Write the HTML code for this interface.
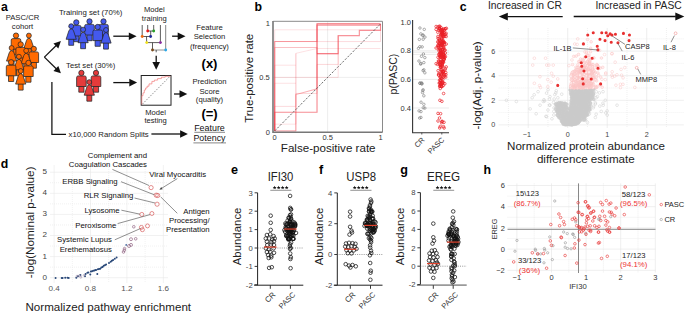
<!DOCTYPE html>
<html><head><meta charset="utf-8"><style>
html,body{margin:0;padding:0;background:#fff;}
svg{display:block;}
text{font-family:"Liberation Sans", sans-serif;}
</style></head><body>
<svg width="685" height="315" viewBox="0 0 685 315">
<rect width="685" height="315" fill="#fff"/>
<text x="0.9" y="10.9" font-size="12.3" text-anchor="start" font-weight="bold" fill="#000">a</text>
<text x="22.5" y="20" font-size="7.7" text-anchor="middle" font-weight="normal" fill="#222">PASC/CR</text>
<text x="22.5" y="29.1" font-size="7.7" text-anchor="middle" font-weight="normal" fill="#222">cohort</text>
<path d="M13.40,48.70 V54.90 H18.60 V48.70 Z" fill="#ff6a00" stroke="#262626" stroke-width="0.75"/>
<path d="M11.20,49.20 V40.20 Q11.20,38.60 12.80,38.60 H19.20 Q20.80,38.60 20.80,40.20 V49.20 Z" fill="#ff6a00" stroke="#262626" stroke-width="0.75"/>
<circle cx="16.00" cy="35.60" r="2.65" fill="#ff6a00" stroke="#262626" stroke-width="0.75"/>
<path d="M26.45,48.20 V54.70 H31.35 V48.20 Z" fill="#ff6a00" stroke="#262626" stroke-width="0.75"/>
<path d="M23.80,48.70 L26.50,40.40 Q27.40,38.20 28.90,38.20 Q30.40,38.20 31.30,40.40 L34.00,48.70 Z" fill="#ff6a00" stroke="#262626" stroke-width="0.75" stroke-linejoin="round"/>
<circle cx="28.90" cy="35.60" r="2.45" fill="#ff6a00" stroke="#262626" stroke-width="0.75"/>
<path d="M9.15,60.60 V67.10 H14.05 V60.60 Z" fill="#ff6a00" stroke="#262626" stroke-width="0.75"/>
<path d="M6.50,61.10 L9.20,52.80 Q10.10,50.60 11.60,50.60 Q13.10,50.60 14.00,52.80 L16.70,61.10 Z" fill="#ff6a00" stroke="#262626" stroke-width="0.75" stroke-linejoin="round"/>
<circle cx="11.60" cy="48.00" r="2.45" fill="#ff6a00" stroke="#262626" stroke-width="0.75"/>
<path d="M18.10,57.50 V63.70 H23.30 V57.50 Z" fill="#ff6a00" stroke="#262626" stroke-width="0.75"/>
<path d="M15.90,58.00 V49.00 Q15.90,47.40 17.50,47.40 H23.90 Q25.50,47.40 25.50,49.00 V58.00 Z" fill="#ff6a00" stroke="#262626" stroke-width="0.75"/>
<circle cx="20.70" cy="44.40" r="2.65" fill="#ff6a00" stroke="#262626" stroke-width="0.75"/>
<path d="M31.20,62.00 V68.20 H36.40 V62.00 Z" fill="#ff6a00" stroke="#262626" stroke-width="0.75"/>
<path d="M29.00,62.50 V53.50 Q29.00,51.90 30.60,51.90 H37.00 Q38.60,51.90 38.60,53.50 V62.50 Z" fill="#ff6a00" stroke="#262626" stroke-width="0.75"/>
<circle cx="33.80" cy="48.90" r="2.65" fill="#ff6a00" stroke="#262626" stroke-width="0.75"/>
<path d="M23.75,63.30 V69.80 H28.65 V63.30 Z" fill="#ff6a00" stroke="#262626" stroke-width="0.75"/>
<path d="M21.10,63.80 L23.80,55.50 Q24.70,53.30 26.20,53.30 Q27.70,53.30 28.60,55.50 L31.30,63.80 Z" fill="#ff6a00" stroke="#262626" stroke-width="0.75" stroke-linejoin="round"/>
<circle cx="26.20" cy="50.70" r="2.45" fill="#ff6a00" stroke="#262626" stroke-width="0.75"/>
<path d="M16.45,69.30 V75.80 H21.35 V69.30 Z" fill="#ff6a00" stroke="#262626" stroke-width="0.75"/>
<path d="M13.80,69.80 L16.50,61.50 Q17.40,59.30 18.90,59.30 Q20.40,59.30 21.30,61.50 L24.00,69.80 Z" fill="#ff6a00" stroke="#262626" stroke-width="0.75" stroke-linejoin="round"/>
<circle cx="18.90" cy="56.70" r="2.45" fill="#ff6a00" stroke="#262626" stroke-width="0.75"/>
<path d="M8.50,75.30 V81.50 H13.70 V75.30 Z" fill="#ff6a00" stroke="#262626" stroke-width="0.75"/>
<path d="M6.30,75.80 V66.80 Q6.30,65.20 7.90,65.20 H14.30 Q15.90,65.20 15.90,66.80 V75.80 Z" fill="#ff6a00" stroke="#262626" stroke-width="0.75"/>
<circle cx="11.10" cy="62.20" r="2.65" fill="#ff6a00" stroke="#262626" stroke-width="0.75"/>
<path d="M25.80,76.00 V82.20 H31.00 V76.00 Z" fill="#ff6a00" stroke="#262626" stroke-width="0.75"/>
<path d="M23.60,76.50 V67.50 Q23.60,65.90 25.20,65.90 H31.60 Q33.20,65.90 33.20,67.50 V76.50 Z" fill="#ff6a00" stroke="#262626" stroke-width="0.75"/>
<circle cx="28.40" cy="62.90" r="2.65" fill="#ff6a00" stroke="#262626" stroke-width="0.75"/>
<path d="M18.25,83.60 V90.10 H23.15 V83.60 Z" fill="#ff6a00" stroke="#262626" stroke-width="0.75"/>
<path d="M15.60,84.10 L18.30,75.80 Q19.20,73.60 20.70,73.60 Q22.20,73.60 23.10,75.80 L25.80,84.10 Z" fill="#ff6a00" stroke="#262626" stroke-width="0.75" stroke-linejoin="round"/>
<circle cx="20.70" cy="71.00" r="2.45" fill="#ff6a00" stroke="#262626" stroke-width="0.75"/>
<text x="90.6" y="14.7" font-size="7.8" text-anchor="middle" font-weight="normal" fill="#222">Training set (70%)</text>
<path d="M73.70,35.50 V41.70 H78.90 V35.50 Z" fill="#4459ee" stroke="#262626" stroke-width="0.75"/>
<path d="M71.50,36.00 V27.00 Q71.50,25.40 73.10,25.40 H79.50 Q81.10,25.40 81.10,27.00 V36.00 Z" fill="#4459ee" stroke="#262626" stroke-width="0.75"/>
<circle cx="76.30" cy="22.40" r="2.65" fill="#4459ee" stroke="#262626" stroke-width="0.75"/>
<path d="M86.90,34.50 V40.70 H92.10 V34.50 Z" fill="#4459ee" stroke="#262626" stroke-width="0.75"/>
<path d="M84.70,35.00 V26.00 Q84.70,24.40 86.30,24.40 H92.70 Q94.30,24.40 94.30,26.00 V35.00 Z" fill="#4459ee" stroke="#262626" stroke-width="0.75"/>
<circle cx="89.50" cy="21.40" r="2.65" fill="#4459ee" stroke="#262626" stroke-width="0.75"/>
<path d="M100.90,34.50 V40.70 H106.10 V34.50 Z" fill="#4459ee" stroke="#262626" stroke-width="0.75"/>
<path d="M98.70,35.00 V26.00 Q98.70,24.40 100.30,24.40 H106.70 Q108.30,24.40 108.30,26.00 V35.00 Z" fill="#4459ee" stroke="#262626" stroke-width="0.75"/>
<circle cx="103.50" cy="21.40" r="2.65" fill="#4459ee" stroke="#262626" stroke-width="0.75"/>
<path d="M68.75,38.80 V45.30 H73.65 V38.80 Z" fill="#4459ee" stroke="#262626" stroke-width="0.75"/>
<path d="M66.10,39.30 L68.80,31.00 Q69.70,28.80 71.20,28.80 Q72.70,28.80 73.60,31.00 L76.30,39.30 Z" fill="#4459ee" stroke="#262626" stroke-width="0.75" stroke-linejoin="round"/>
<circle cx="71.20" cy="26.20" r="2.45" fill="#4459ee" stroke="#262626" stroke-width="0.75"/>
<path d="M95.10,40.10 V46.30 H100.30 V40.10 Z" fill="#4459ee" stroke="#262626" stroke-width="0.75"/>
<path d="M92.90,40.60 V31.60 Q92.90,30.00 94.50,30.00 H100.90 Q102.50,30.00 102.50,31.60 V40.60 Z" fill="#4459ee" stroke="#262626" stroke-width="0.75"/>
<circle cx="97.70" cy="27.00" r="2.65" fill="#4459ee" stroke="#262626" stroke-width="0.75"/>
<path d="M80.65,42.20 V48.70 H85.55 V42.20 Z" fill="#4459ee" stroke="#262626" stroke-width="0.75"/>
<path d="M78.00,42.70 L80.70,34.40 Q81.60,32.20 83.10,32.20 Q84.60,32.20 85.50,34.40 L88.20,42.70 Z" fill="#4459ee" stroke="#262626" stroke-width="0.75" stroke-linejoin="round"/>
<circle cx="83.10" cy="29.60" r="2.45" fill="#4459ee" stroke="#262626" stroke-width="0.75"/>
<path d="M103.55,42.60 V49.10 H108.45 V42.60 Z" fill="#4459ee" stroke="#262626" stroke-width="0.75"/>
<path d="M100.90,43.10 L103.60,34.80 Q104.50,32.60 106.00,32.60 Q107.50,32.60 108.40,34.80 L111.10,43.10 Z" fill="#4459ee" stroke="#262626" stroke-width="0.75" stroke-linejoin="round"/>
<circle cx="106.00" cy="30.00" r="2.45" fill="#4459ee" stroke="#262626" stroke-width="0.75"/>
<text x="90.65" y="67.8" font-size="7.7" text-anchor="middle" font-weight="normal" fill="#222">Test set (30%)</text>
<path d="M78.80,86.00 V92.20 H84.00 V86.00 Z" fill="#e53b3b" stroke="#262626" stroke-width="0.75"/>
<path d="M76.60,86.50 V77.50 Q76.60,75.90 78.20,75.90 H84.60 Q86.20,75.90 86.20,77.50 V86.50 Z" fill="#e53b3b" stroke="#262626" stroke-width="0.75"/>
<circle cx="81.40" cy="72.90" r="2.65" fill="#e53b3b" stroke="#262626" stroke-width="0.75"/>
<path d="M93.40,86.00 V92.20 H98.60 V86.00 Z" fill="#e53b3b" stroke="#262626" stroke-width="0.75"/>
<path d="M91.20,86.50 V77.50 Q91.20,75.90 92.80,75.90 H99.20 Q100.80,75.90 100.80,77.50 V86.50 Z" fill="#e53b3b" stroke="#262626" stroke-width="0.75"/>
<circle cx="96.00" cy="72.90" r="2.65" fill="#e53b3b" stroke="#262626" stroke-width="0.75"/>
<path d="M86.85,94.70 V101.20 H91.75 V94.70 Z" fill="#e53b3b" stroke="#262626" stroke-width="0.75"/>
<path d="M84.20,95.20 L86.90,86.90 Q87.80,84.70 89.30,84.70 Q90.80,84.70 91.70,86.90 L94.40,95.20 Z" fill="#e53b3b" stroke="#262626" stroke-width="0.75" stroke-linejoin="round"/>
<circle cx="89.30" cy="82.10" r="2.45" fill="#e53b3b" stroke="#262626" stroke-width="0.75"/>
<line x1="44.40" y1="57.10" x2="56.25" y2="45.54" stroke="#111" stroke-width="1.25"/>
<polygon points="60.90,41.00 58.33,48.39 53.45,43.38" fill="#111"/>
<line x1="44.40" y1="57.10" x2="56.26" y2="68.75" stroke="#111" stroke-width="1.25"/>
<polygon points="60.90,73.30 53.45,70.89 58.36,65.90" fill="#111"/>
<line x1="113.30" y1="36.20" x2="129.30" y2="36.20" stroke="#111" stroke-width="1.3"/>
<polygon points="136.60,36.20 128.80,40.00 128.80,32.40" fill="#111"/>
<line x1="172.10" y1="36.20" x2="178.20" y2="36.20" stroke="#111" stroke-width="1.3"/>
<polygon points="185.50,36.20 177.70,40.00 177.70,32.40" fill="#111"/>
<line x1="156.20" y1="55.80" x2="156.20" y2="62.50" stroke="#111" stroke-width="1.3"/>
<polygon points="156.20,69.80 152.40,62.00 160.00,62.00" fill="#111"/>
<line x1="113.30" y1="82.60" x2="129.80" y2="82.60" stroke="#111" stroke-width="1.3"/>
<polygon points="137.10,82.60 129.30,86.40 129.30,78.80" fill="#111"/>
<line x1="174.00" y1="94.00" x2="180.00" y2="94.00" stroke="#111" stroke-width="1.3"/>
<polygon points="187.30,94.00 179.50,97.80 179.50,90.20" fill="#111"/>
<text x="154.3" y="12" font-size="7.6" text-anchor="middle" font-weight="normal" fill="#222">Model</text>
<text x="154.3" y="21.3" font-size="7.6" text-anchor="middle" font-weight="normal" fill="#222">training</text>
<line x1="142.20" y1="25.00" x2="142.20" y2="36.50" stroke="#333" stroke-width="0.8"/>
<line x1="147.70" y1="25.00" x2="147.70" y2="31.00" stroke="#333" stroke-width="0.8"/>
<line x1="153.70" y1="25.00" x2="153.70" y2="31.00" stroke="#333" stroke-width="0.8"/>
<line x1="160.40" y1="25.00" x2="160.40" y2="42.60" stroke="#333" stroke-width="0.8"/>
<line x1="165.70" y1="25.00" x2="165.70" y2="50.00" stroke="#777" stroke-width="0.9"/>
<line x1="147.70" y1="31.00" x2="153.70" y2="31.00" stroke="#333" stroke-width="0.8"/>
<line x1="150.70" y1="31.00" x2="150.70" y2="36.50" stroke="#333" stroke-width="0.8"/>
<line x1="142.20" y1="36.50" x2="150.60" y2="36.50" stroke="#333" stroke-width="0.8"/>
<line x1="146.50" y1="36.50" x2="146.70" y2="42.60" stroke="#333" stroke-width="0.8"/>
<line x1="146.70" y1="42.60" x2="160.40" y2="42.60" stroke="#333" stroke-width="0.8"/>
<line x1="152.50" y1="42.60" x2="152.50" y2="50.00" stroke="#333" stroke-width="0.8"/>
<line x1="152.50" y1="50.00" x2="165.70" y2="50.00" stroke="#888" stroke-width="0.9"/>
<line x1="156.20" y1="50.00" x2="156.20" y2="52.30" stroke="#333" stroke-width="0.8"/>
<circle cx="147.7" cy="31" r="1.45" fill="#e8191b"/>
<circle cx="153.7" cy="31" r="1.45" fill="#2aa02a"/>
<circle cx="150.6" cy="36.5" r="1.45" fill="#1f2a9a"/>
<circle cx="142.2" cy="36.5" r="1.45" fill="#f06a10"/>
<circle cx="146.7" cy="42.6" r="1.45" fill="#f2e21a"/>
<circle cx="160.4" cy="42.6" r="1.45" fill="#8a2aa0"/>
<circle cx="152.5" cy="50" r="1.45" fill="#7a4a1a"/>
<circle cx="165.7" cy="50" r="1.45" fill="#2aa8e8"/>
<rect x="141.2" y="75.5" width="29.8" height="29.7" fill="#fff" stroke="#222" stroke-width="1"/>
<line x1="142.50" y1="104.00" x2="169.50" y2="76.80" stroke="#555" stroke-width="0.6" stroke-dasharray="1.6,1.2"/>
<polyline points="141.8,104.6 141.8,95.7 143,95.7 143,92.9 144.3,92.9 144.3,90 145.6,90 145.6,88 147.1,88 147.1,86.2 149,86.2 149,83.9 151.9,83.9 151.9,81.4 154.4,81.4 154.4,80.1 157.6,80.1 157.6,78.6 161.4,78.6 161.4,77.2 165.2,77.2 165.2,76.3 170.4,76.3" fill="none" stroke="#f27a7a" stroke-width="0.7"/>
<text x="155.6" y="114.6" font-size="7.6" text-anchor="middle" font-weight="normal" fill="#222">Model</text>
<text x="155.6" y="122.8" font-size="7.6" text-anchor="middle" font-weight="normal" fill="#222">testing</text>
<text x="209.5" y="30" font-size="7.7" text-anchor="middle" font-weight="normal" fill="#222">Feature</text>
<text x="209.5" y="39.4" font-size="7.7" text-anchor="middle" font-weight="normal" fill="#222">Selection</text>
<text x="209.5" y="48.8" font-size="7.7" text-anchor="middle" font-weight="normal" fill="#222">(frequency)</text>
<text x="209.5" y="67.5" font-size="13" text-anchor="middle" font-weight="bold" fill="#000">(x)</text>
<text x="209.5" y="84.3" font-size="7.7" text-anchor="middle" font-weight="normal" fill="#222">Prediction</text>
<text x="209.5" y="93.7" font-size="7.7" text-anchor="middle" font-weight="normal" fill="#222">Score</text>
<text x="209.5" y="101.8" font-size="7.7" text-anchor="middle" font-weight="normal" fill="#222">(quality)</text>
<text x="209.5" y="117.5" font-size="13" text-anchor="middle" font-weight="bold" fill="#000">(=)</text>
<text x="209.5" y="130.7" font-size="8.9" text-anchor="middle" font-weight="normal" fill="#111">Feature</text>
<text x="209.5" y="141.1" font-size="8.9" text-anchor="middle" font-weight="normal" fill="#111">Potency</text>
<line x1="194.30" y1="132.30" x2="225.00" y2="132.30" stroke="#888" stroke-width="1.0"/>
<line x1="193.40" y1="142.90" x2="226.00" y2="142.90" stroke="#888" stroke-width="1.0"/>
<polyline points="51.9,82 51.9,134.4 66,134.4" fill="none" stroke="#111" stroke-width="1.25"/>
<text x="68.6" y="137.1" font-size="7.75" text-anchor="start" font-weight="normal" fill="#222">x10,000 Random Splits</text>
<line x1="151.40" y1="134.00" x2="180.60" y2="134.00" stroke="#111" stroke-width="1.3"/>
<polygon points="187.90,134.00 180.10,137.80 180.10,130.20" fill="#111"/>
<text x="254.6" y="10.9" font-size="12.3" text-anchor="start" font-weight="bold" fill="#000">b</text>
<line x1="327.60" y1="21.30" x2="327.60" y2="132.00" stroke="#e6e6e6" stroke-width="0.7"/>
<line x1="273.00" y1="77.40" x2="382.50" y2="77.40" stroke="#e6e6e6" stroke-width="0.7"/>
<polyline points="274.70,77.40 338.18,77.40 338.18,35.67" fill="none" stroke="#f03a46" stroke-opacity="0.18" stroke-width="0.92"/>
<polyline points="274.70,130.90 274.70,29.79 380.50,29.79" fill="none" stroke="#f03a46" stroke-opacity="0.16" stroke-width="0.92"/>
<polyline points="274.70,130.90 274.70,41.56 380.50,41.56 380.50,23.90" fill="none" stroke="#f03a46" stroke-opacity="0.20" stroke-width="0.92"/>
<polyline points="274.70,130.90 274.70,124.16 295.86,124.16 295.86,83.28" fill="none" stroke="#f03a46" stroke-opacity="0.16" stroke-width="0.92"/>
<polyline points="274.70,130.90 274.70,83.28 295.86,83.28 295.86,53.33 317.02,48.51 380.50,48.51" fill="none" stroke="#f03a46" stroke-opacity="0.16" stroke-width="0.92"/>
<polyline points="274.70,130.90 274.70,106.40 295.86,106.40 295.86,53.33" fill="none" stroke="#f03a46" stroke-opacity="0.20" stroke-width="0.92"/>
<polyline points="274.70,130.90 274.70,65.20 295.86,65.20" fill="none" stroke="#f03a46" stroke-opacity="0.16" stroke-width="0.92"/>
<polyline points="274.70,130.90 295.86,130.90 295.86,93.45 317.02,93.45 317.02,64.45 338.18,64.45 338.18,35.67" fill="none" stroke="#f03a46" stroke-opacity="0.22" stroke-width="0.92"/>
<polyline points="274.70,130.90 274.70,47.44 317.02,47.44 317.02,53.65 338.18,53.65" fill="none" stroke="#f03a46" stroke-opacity="0.32" stroke-width="1.03"/>
<polyline points="274.70,130.90 295.86,130.90 295.86,94.52 317.02,88.74 317.02,25.51 380.50,25.51" fill="none" stroke="#f03a46" stroke-opacity="0.40" stroke-width="1.03"/>
<polyline points="274.70,130.90 274.70,41.56 317.02,41.56 317.02,23.90 380.50,23.90" fill="none" stroke="#f03a46" stroke-opacity="0.43" stroke-width="1.03"/>
<polyline points="317.02,53.65 338.18,53.65 338.18,35.67 359.34,35.67 359.34,30.32 380.50,30.32 380.50,23.90" fill="none" stroke="#f03a46" stroke-opacity="0.54" stroke-width="1.15"/>
<polyline points="274.70,130.90 274.70,112.28 317.02,112.28 317.02,23.90 380.50,23.90" fill="none" stroke="#f03a46" stroke-opacity="0.58" stroke-width="1.15"/>
<line x1="274.70" y1="130.90" x2="380.50" y2="23.90" stroke="#555" stroke-width="0.85" stroke-dasharray="2.2,1.5"/>
<path d="M273.2,21.3 H382.5 V132.2" fill="none" stroke="#8a8a8a" stroke-width="1"/>
<path d="M273,21 V132.2 H382.6" fill="none" stroke="#777" stroke-width="1.6"/>
<text x="269.8" y="26" font-size="7.5" text-anchor="end" font-weight="normal" fill="#333">1</text>
<text x="269.8" y="80" font-size="7.5" text-anchor="end" font-weight="normal" fill="#333">0.5</text>
<text x="269.8" y="134.5" font-size="7.5" text-anchor="end" font-weight="normal" fill="#333">0</text>
<text x="274.7" y="139.7" font-size="7.5" text-anchor="middle" font-weight="normal" fill="#333">0</text>
<text x="327.6" y="139.7" font-size="7.5" text-anchor="middle" font-weight="normal" fill="#333">0.5</text>
<text x="380.5" y="139.7" font-size="7.5" text-anchor="middle" font-weight="normal" fill="#333">1</text>
<text x="328.2" y="152.2" font-size="11.6" text-anchor="middle" font-weight="normal" fill="#222">False-positive rate</text>
<text x="253.3" y="78.3" font-size="11.5" text-anchor="middle" font-weight="normal" fill="#222" transform="rotate(-90 253.3 78.3)">True-positive rate</text>
<line x1="413.00" y1="50.80" x2="449.00" y2="50.80" stroke="#e2e2e2" stroke-width="0.7"/>
<line x1="413.00" y1="79.40" x2="449.00" y2="79.40" stroke="#e2e2e2" stroke-width="0.7"/>
<line x1="413.00" y1="108.00" x2="449.00" y2="108.00" stroke="#e2e2e2" stroke-width="0.7"/>
<line x1="413.00" y1="52.23" x2="449.00" y2="52.23" stroke="#dadada" stroke-width="0.6"/>
<line x1="413.00" y1="54.38" x2="449.00" y2="54.38" stroke="#dadada" stroke-width="0.6"/>
<path d="M418.1 39.4a1.25 1.25 0 1 0 2.50 0a1.25 1.25 0 1 0 -2.50 0M421.9 39.2a1.25 1.25 0 1 0 2.50 0a1.25 1.25 0 1 0 -2.50 0M420.2 56.3a1.25 1.25 0 1 0 2.50 0a1.25 1.25 0 1 0 -2.50 0M422.6 69.8a1.25 1.25 0 1 0 2.50 0a1.25 1.25 0 1 0 -2.50 0M418.7 83.4a1.25 1.25 0 1 0 2.50 0a1.25 1.25 0 1 0 -2.50 0M419.3 64.1a1.25 1.25 0 1 0 2.50 0a1.25 1.25 0 1 0 -2.50 0M422.6 62.6a1.25 1.25 0 1 0 2.50 0a1.25 1.25 0 1 0 -2.50 0M420.6 83.9a1.25 1.25 0 1 0 2.50 0a1.25 1.25 0 1 0 -2.50 0M420.6 83.7a1.25 1.25 0 1 0 2.50 0a1.25 1.25 0 1 0 -2.50 0M418.7 28.0a1.25 1.25 0 1 0 2.50 0a1.25 1.25 0 1 0 -2.50 0M417.2 48.3a1.25 1.25 0 1 0 2.50 0a1.25 1.25 0 1 0 -2.50 0M423.6 72.8a1.25 1.25 0 1 0 2.50 0a1.25 1.25 0 1 0 -2.50 0M417.7 61.0a1.25 1.25 0 1 0 2.50 0a1.25 1.25 0 1 0 -2.50 0M423.0 29.4a1.25 1.25 0 1 0 2.50 0a1.25 1.25 0 1 0 -2.50 0M419.6 33.9a1.25 1.25 0 1 0 2.50 0a1.25 1.25 0 1 0 -2.50 0M423.7 37.1a1.25 1.25 0 1 0 2.50 0a1.25 1.25 0 1 0 -2.50 0M419.8 63.5a1.25 1.25 0 1 0 2.50 0a1.25 1.25 0 1 0 -2.50 0M423.6 57.6a1.25 1.25 0 1 0 2.50 0a1.25 1.25 0 1 0 -2.50 0M420.9 46.9a1.25 1.25 0 1 0 2.50 0a1.25 1.25 0 1 0 -2.50 0M418.7 83.0a1.25 1.25 0 1 0 2.50 0a1.25 1.25 0 1 0 -2.50 0M422.2 54.0a1.25 1.25 0 1 0 2.50 0a1.25 1.25 0 1 0 -2.50 0M421.8 70.6a1.25 1.25 0 1 0 2.50 0a1.25 1.25 0 1 0 -2.50 0M421.8 35.0a1.25 1.25 0 1 0 2.50 0a1.25 1.25 0 1 0 -2.50 0M420.3 82.8a1.25 1.25 0 1 0 2.50 0a1.25 1.25 0 1 0 -2.50 0M418.6 46.7a1.25 1.25 0 1 0 2.50 0a1.25 1.25 0 1 0 -2.50 0M421.5 35.5a1.25 1.25 0 1 0 2.50 0a1.25 1.25 0 1 0 -2.50 0M417.8 110.9a1.25 1.25 0 1 0 2.50 0a1.25 1.25 0 1 0 -2.50 0M421.9 89.8a1.25 1.25 0 1 0 2.50 0a1.25 1.25 0 1 0 -2.50 0M421.5 90.6a1.25 1.25 0 1 0 2.50 0a1.25 1.25 0 1 0 -2.50 0M419.7 117.4a1.25 1.25 0 1 0 2.50 0a1.25 1.25 0 1 0 -2.50 0M422.6 95.8a1.25 1.25 0 1 0 2.50 0a1.25 1.25 0 1 0 -2.50 0M418.4 118.0a1.25 1.25 0 1 0 2.50 0a1.25 1.25 0 1 0 -2.50 0M419.8 102.2a1.25 1.25 0 1 0 2.50 0a1.25 1.25 0 1 0 -2.50 0M422.6 104.3a1.25 1.25 0 1 0 2.50 0a1.25 1.25 0 1 0 -2.50 0M419.7 111.6a1.25 1.25 0 1 0 2.50 0a1.25 1.25 0 1 0 -2.50 0M422.0 107.8a1.25 1.25 0 1 0 2.50 0a1.25 1.25 0 1 0 -2.50 0M421.3 92.6a1.25 1.25 0 1 0 2.50 0a1.25 1.25 0 1 0 -2.50 0M423.6 108.1a1.25 1.25 0 1 0 2.50 0a1.25 1.25 0 1 0 -2.50 0" fill="none" stroke="#777" stroke-width="0.6"/>
<path d="M437.9 26.3a1.3 1.3 0 1 0 2.60 0a1.3 1.3 0 1 0 -2.60 0M443.0 42.6a1.3 1.3 0 1 0 2.60 0a1.3 1.3 0 1 0 -2.60 0M440.2 37.4a1.3 1.3 0 1 0 2.60 0a1.3 1.3 0 1 0 -2.60 0M438.7 77.3a1.3 1.3 0 1 0 2.60 0a1.3 1.3 0 1 0 -2.60 0M438.8 43.2a1.3 1.3 0 1 0 2.60 0a1.3 1.3 0 1 0 -2.60 0M441.4 35.0a1.3 1.3 0 1 0 2.60 0a1.3 1.3 0 1 0 -2.60 0M442.3 62.2a1.3 1.3 0 1 0 2.60 0a1.3 1.3 0 1 0 -2.60 0M439.8 52.9a1.3 1.3 0 1 0 2.60 0a1.3 1.3 0 1 0 -2.60 0M442.5 57.4a1.3 1.3 0 1 0 2.60 0a1.3 1.3 0 1 0 -2.60 0M445.1 28.3a1.3 1.3 0 1 0 2.60 0a1.3 1.3 0 1 0 -2.60 0M439.8 67.3a1.3 1.3 0 1 0 2.60 0a1.3 1.3 0 1 0 -2.60 0M437.7 62.1a1.3 1.3 0 1 0 2.60 0a1.3 1.3 0 1 0 -2.60 0M438.4 86.5a1.3 1.3 0 1 0 2.60 0a1.3 1.3 0 1 0 -2.60 0M437.1 61.0a1.3 1.3 0 1 0 2.60 0a1.3 1.3 0 1 0 -2.60 0M438.8 48.2a1.3 1.3 0 1 0 2.60 0a1.3 1.3 0 1 0 -2.60 0M438.6 29.7a1.3 1.3 0 1 0 2.60 0a1.3 1.3 0 1 0 -2.60 0M437.3 30.4a1.3 1.3 0 1 0 2.60 0a1.3 1.3 0 1 0 -2.60 0M441.5 66.7a1.3 1.3 0 1 0 2.60 0a1.3 1.3 0 1 0 -2.60 0M434.8 26.5a1.3 1.3 0 1 0 2.60 0a1.3 1.3 0 1 0 -2.60 0M437.3 75.1a1.3 1.3 0 1 0 2.60 0a1.3 1.3 0 1 0 -2.60 0M444.9 36.5a1.3 1.3 0 1 0 2.60 0a1.3 1.3 0 1 0 -2.60 0M442.7 77.0a1.3 1.3 0 1 0 2.60 0a1.3 1.3 0 1 0 -2.60 0M441.5 61.9a1.3 1.3 0 1 0 2.60 0a1.3 1.3 0 1 0 -2.60 0M441.1 82.1a1.3 1.3 0 1 0 2.60 0a1.3 1.3 0 1 0 -2.60 0M444.4 34.4a1.3 1.3 0 1 0 2.60 0a1.3 1.3 0 1 0 -2.60 0M441.5 36.2a1.3 1.3 0 1 0 2.60 0a1.3 1.3 0 1 0 -2.60 0M440.5 78.1a1.3 1.3 0 1 0 2.60 0a1.3 1.3 0 1 0 -2.60 0M437.5 54.5a1.3 1.3 0 1 0 2.60 0a1.3 1.3 0 1 0 -2.60 0M440.1 70.9a1.3 1.3 0 1 0 2.60 0a1.3 1.3 0 1 0 -2.60 0M438.6 56.7a1.3 1.3 0 1 0 2.60 0a1.3 1.3 0 1 0 -2.60 0M438.7 52.9a1.3 1.3 0 1 0 2.60 0a1.3 1.3 0 1 0 -2.60 0M439.0 80.1a1.3 1.3 0 1 0 2.60 0a1.3 1.3 0 1 0 -2.60 0M440.2 34.0a1.3 1.3 0 1 0 2.60 0a1.3 1.3 0 1 0 -2.60 0M439.5 69.6a1.3 1.3 0 1 0 2.60 0a1.3 1.3 0 1 0 -2.60 0M442.3 59.4a1.3 1.3 0 1 0 2.60 0a1.3 1.3 0 1 0 -2.60 0M437.9 83.1a1.3 1.3 0 1 0 2.60 0a1.3 1.3 0 1 0 -2.60 0M440.0 86.4a1.3 1.3 0 1 0 2.60 0a1.3 1.3 0 1 0 -2.60 0M444.6 74.7a1.3 1.3 0 1 0 2.60 0a1.3 1.3 0 1 0 -2.60 0M440.4 65.8a1.3 1.3 0 1 0 2.60 0a1.3 1.3 0 1 0 -2.60 0M443.1 30.1a1.3 1.3 0 1 0 2.60 0a1.3 1.3 0 1 0 -2.60 0M442.9 32.5a1.3 1.3 0 1 0 2.60 0a1.3 1.3 0 1 0 -2.60 0M443.3 57.3a1.3 1.3 0 1 0 2.60 0a1.3 1.3 0 1 0 -2.60 0M442.0 58.9a1.3 1.3 0 1 0 2.60 0a1.3 1.3 0 1 0 -2.60 0M437.1 46.0a1.3 1.3 0 1 0 2.60 0a1.3 1.3 0 1 0 -2.60 0M439.7 34.4a1.3 1.3 0 1 0 2.60 0a1.3 1.3 0 1 0 -2.60 0M439.4 66.1a1.3 1.3 0 1 0 2.60 0a1.3 1.3 0 1 0 -2.60 0M436.7 38.3a1.3 1.3 0 1 0 2.60 0a1.3 1.3 0 1 0 -2.60 0M439.2 62.3a1.3 1.3 0 1 0 2.60 0a1.3 1.3 0 1 0 -2.60 0M437.4 50.4a1.3 1.3 0 1 0 2.60 0a1.3 1.3 0 1 0 -2.60 0M436.5 41.7a1.3 1.3 0 1 0 2.60 0a1.3 1.3 0 1 0 -2.60 0M440.8 56.1a1.3 1.3 0 1 0 2.60 0a1.3 1.3 0 1 0 -2.60 0M440.2 44.6a1.3 1.3 0 1 0 2.60 0a1.3 1.3 0 1 0 -2.60 0M438.7 44.2a1.3 1.3 0 1 0 2.60 0a1.3 1.3 0 1 0 -2.60 0M438.6 86.2a1.3 1.3 0 1 0 2.60 0a1.3 1.3 0 1 0 -2.60 0M439.3 84.2a1.3 1.3 0 1 0 2.60 0a1.3 1.3 0 1 0 -2.60 0M439.4 77.5a1.3 1.3 0 1 0 2.60 0a1.3 1.3 0 1 0 -2.60 0M439.4 73.6a1.3 1.3 0 1 0 2.60 0a1.3 1.3 0 1 0 -2.60 0M440.2 74.2a1.3 1.3 0 1 0 2.60 0a1.3 1.3 0 1 0 -2.60 0M439.5 83.6a1.3 1.3 0 1 0 2.60 0a1.3 1.3 0 1 0 -2.60 0M441.2 73.3a1.3 1.3 0 1 0 2.60 0a1.3 1.3 0 1 0 -2.60 0M441.5 50.0a1.3 1.3 0 1 0 2.60 0a1.3 1.3 0 1 0 -2.60 0M441.1 32.7a1.3 1.3 0 1 0 2.60 0a1.3 1.3 0 1 0 -2.60 0M438.8 65.3a1.3 1.3 0 1 0 2.60 0a1.3 1.3 0 1 0 -2.60 0M438.9 64.3a1.3 1.3 0 1 0 2.60 0a1.3 1.3 0 1 0 -2.60 0M441.3 61.2a1.3 1.3 0 1 0 2.60 0a1.3 1.3 0 1 0 -2.60 0M439.8 45.2a1.3 1.3 0 1 0 2.60 0a1.3 1.3 0 1 0 -2.60 0M440.2 38.8a1.3 1.3 0 1 0 2.60 0a1.3 1.3 0 1 0 -2.60 0M434.8 29.4a1.3 1.3 0 1 0 2.60 0a1.3 1.3 0 1 0 -2.60 0M434.8 63.7a1.3 1.3 0 1 0 2.60 0a1.3 1.3 0 1 0 -2.60 0M441.1 43.6a1.3 1.3 0 1 0 2.60 0a1.3 1.3 0 1 0 -2.60 0M441.1 65.8a1.3 1.3 0 1 0 2.60 0a1.3 1.3 0 1 0 -2.60 0M443.5 36.5a1.3 1.3 0 1 0 2.60 0a1.3 1.3 0 1 0 -2.60 0M442.0 72.5a1.3 1.3 0 1 0 2.60 0a1.3 1.3 0 1 0 -2.60 0M440.8 33.6a1.3 1.3 0 1 0 2.60 0a1.3 1.3 0 1 0 -2.60 0M440.3 55.9a1.3 1.3 0 1 0 2.60 0a1.3 1.3 0 1 0 -2.60 0M437.0 42.5a1.3 1.3 0 1 0 2.60 0a1.3 1.3 0 1 0 -2.60 0M442.3 54.0a1.3 1.3 0 1 0 2.60 0a1.3 1.3 0 1 0 -2.60 0M438.9 67.3a1.3 1.3 0 1 0 2.60 0a1.3 1.3 0 1 0 -2.60 0M441.5 56.5a1.3 1.3 0 1 0 2.60 0a1.3 1.3 0 1 0 -2.60 0M440.7 83.5a1.3 1.3 0 1 0 2.60 0a1.3 1.3 0 1 0 -2.60 0M440.8 83.9a1.3 1.3 0 1 0 2.60 0a1.3 1.3 0 1 0 -2.60 0M442.4 54.3a1.3 1.3 0 1 0 2.60 0a1.3 1.3 0 1 0 -2.60 0M439.2 57.5a1.3 1.3 0 1 0 2.60 0a1.3 1.3 0 1 0 -2.60 0M439.4 35.9a1.3 1.3 0 1 0 2.60 0a1.3 1.3 0 1 0 -2.60 0M438.8 85.3a1.3 1.3 0 1 0 2.60 0a1.3 1.3 0 1 0 -2.60 0M439.4 52.7a1.3 1.3 0 1 0 2.60 0a1.3 1.3 0 1 0 -2.60 0M444.1 56.7a1.3 1.3 0 1 0 2.60 0a1.3 1.3 0 1 0 -2.60 0M439.5 50.2a1.3 1.3 0 1 0 2.60 0a1.3 1.3 0 1 0 -2.60 0M443.0 42.2a1.3 1.3 0 1 0 2.60 0a1.3 1.3 0 1 0 -2.60 0M442.2 54.7a1.3 1.3 0 1 0 2.60 0a1.3 1.3 0 1 0 -2.60 0M442.0 52.3a1.3 1.3 0 1 0 2.60 0a1.3 1.3 0 1 0 -2.60 0M442.1 56.7a1.3 1.3 0 1 0 2.60 0a1.3 1.3 0 1 0 -2.60 0M438.0 49.2a1.3 1.3 0 1 0 2.60 0a1.3 1.3 0 1 0 -2.60 0M441.2 71.5a1.3 1.3 0 1 0 2.60 0a1.3 1.3 0 1 0 -2.60 0M444.0 53.0a1.3 1.3 0 1 0 2.60 0a1.3 1.3 0 1 0 -2.60 0M438.7 45.7a1.3 1.3 0 1 0 2.60 0a1.3 1.3 0 1 0 -2.60 0M440.2 74.9a1.3 1.3 0 1 0 2.60 0a1.3 1.3 0 1 0 -2.60 0M438.7 26.4a1.3 1.3 0 1 0 2.60 0a1.3 1.3 0 1 0 -2.60 0M441.0 41.2a1.3 1.3 0 1 0 2.60 0a1.3 1.3 0 1 0 -2.60 0M437.8 28.5a1.3 1.3 0 1 0 2.60 0a1.3 1.3 0 1 0 -2.60 0M444.0 68.7a1.3 1.3 0 1 0 2.60 0a1.3 1.3 0 1 0 -2.60 0M439.4 59.6a1.3 1.3 0 1 0 2.60 0a1.3 1.3 0 1 0 -2.60 0M436.8 70.7a1.3 1.3 0 1 0 2.60 0a1.3 1.3 0 1 0 -2.60 0M443.5 83.7a1.3 1.3 0 1 0 2.60 0a1.3 1.3 0 1 0 -2.60 0M442.0 85.5a1.3 1.3 0 1 0 2.60 0a1.3 1.3 0 1 0 -2.60 0M441.5 71.6a1.3 1.3 0 1 0 2.60 0a1.3 1.3 0 1 0 -2.60 0M441.5 34.2a1.3 1.3 0 1 0 2.60 0a1.3 1.3 0 1 0 -2.60 0M439.5 76.6a1.3 1.3 0 1 0 2.60 0a1.3 1.3 0 1 0 -2.60 0M439.8 44.6a1.3 1.3 0 1 0 2.60 0a1.3 1.3 0 1 0 -2.60 0M442.0 71.4a1.3 1.3 0 1 0 2.60 0a1.3 1.3 0 1 0 -2.60 0M442.0 82.6a1.3 1.3 0 1 0 2.60 0a1.3 1.3 0 1 0 -2.60 0M442.4 74.9a1.3 1.3 0 1 0 2.60 0a1.3 1.3 0 1 0 -2.60 0M440.8 45.3a1.3 1.3 0 1 0 2.60 0a1.3 1.3 0 1 0 -2.60 0M439.2 56.1a1.3 1.3 0 1 0 2.60 0a1.3 1.3 0 1 0 -2.60 0M439.9 53.2a1.3 1.3 0 1 0 2.60 0a1.3 1.3 0 1 0 -2.60 0M442.9 59.0a1.3 1.3 0 1 0 2.60 0a1.3 1.3 0 1 0 -2.60 0M443.6 69.9a1.3 1.3 0 1 0 2.60 0a1.3 1.3 0 1 0 -2.60 0M439.5 56.9a1.3 1.3 0 1 0 2.60 0a1.3 1.3 0 1 0 -2.60 0M439.2 30.5a1.3 1.3 0 1 0 2.60 0a1.3 1.3 0 1 0 -2.60 0M443.2 74.3a1.3 1.3 0 1 0 2.60 0a1.3 1.3 0 1 0 -2.60 0M442.0 42.0a1.3 1.3 0 1 0 2.60 0a1.3 1.3 0 1 0 -2.60 0M441.9 71.3a1.3 1.3 0 1 0 2.60 0a1.3 1.3 0 1 0 -2.60 0M437.3 74.8a1.3 1.3 0 1 0 2.60 0a1.3 1.3 0 1 0 -2.60 0M439.4 66.9a1.3 1.3 0 1 0 2.60 0a1.3 1.3 0 1 0 -2.60 0M439.4 80.9a1.3 1.3 0 1 0 2.60 0a1.3 1.3 0 1 0 -2.60 0M440.8 29.7a1.3 1.3 0 1 0 2.60 0a1.3 1.3 0 1 0 -2.60 0M436.4 64.4a1.3 1.3 0 1 0 2.60 0a1.3 1.3 0 1 0 -2.60 0M443.2 75.9a1.3 1.3 0 1 0 2.60 0a1.3 1.3 0 1 0 -2.60 0M440.8 86.5a1.3 1.3 0 1 0 2.60 0a1.3 1.3 0 1 0 -2.60 0M441.1 82.9a1.3 1.3 0 1 0 2.60 0a1.3 1.3 0 1 0 -2.60 0M437.6 73.5a1.3 1.3 0 1 0 2.60 0a1.3 1.3 0 1 0 -2.60 0M440.2 61.2a1.3 1.3 0 1 0 2.60 0a1.3 1.3 0 1 0 -2.60 0M443.4 50.0a1.3 1.3 0 1 0 2.60 0a1.3 1.3 0 1 0 -2.60 0M436.7 26.9a1.3 1.3 0 1 0 2.60 0a1.3 1.3 0 1 0 -2.60 0M441.0 32.4a1.3 1.3 0 1 0 2.60 0a1.3 1.3 0 1 0 -2.60 0M441.9 71.8a1.3 1.3 0 1 0 2.60 0a1.3 1.3 0 1 0 -2.60 0M438.7 49.4a1.3 1.3 0 1 0 2.60 0a1.3 1.3 0 1 0 -2.60 0M442.2 30.5a1.3 1.3 0 1 0 2.60 0a1.3 1.3 0 1 0 -2.60 0M439.7 80.4a1.3 1.3 0 1 0 2.60 0a1.3 1.3 0 1 0 -2.60 0M443.1 34.6a1.3 1.3 0 1 0 2.60 0a1.3 1.3 0 1 0 -2.60 0M441.5 62.5a1.3 1.3 0 1 0 2.60 0a1.3 1.3 0 1 0 -2.60 0M440.8 39.0a1.3 1.3 0 1 0 2.60 0a1.3 1.3 0 1 0 -2.60 0M444.9 66.9a1.3 1.3 0 1 0 2.60 0a1.3 1.3 0 1 0 -2.60 0M442.2 48.5a1.3 1.3 0 1 0 2.60 0a1.3 1.3 0 1 0 -2.60 0M443.3 55.7a1.3 1.3 0 1 0 2.60 0a1.3 1.3 0 1 0 -2.60 0M438.2 80.2a1.3 1.3 0 1 0 2.60 0a1.3 1.3 0 1 0 -2.60 0M438.8 40.4a1.3 1.3 0 1 0 2.60 0a1.3 1.3 0 1 0 -2.60 0M442.2 36.5a1.3 1.3 0 1 0 2.60 0a1.3 1.3 0 1 0 -2.60 0M442.4 57.2a1.3 1.3 0 1 0 2.60 0a1.3 1.3 0 1 0 -2.60 0M440.2 63.0a1.3 1.3 0 1 0 2.60 0a1.3 1.3 0 1 0 -2.60 0M442.1 29.0a1.3 1.3 0 1 0 2.60 0a1.3 1.3 0 1 0 -2.60 0M437.9 63.8a1.3 1.3 0 1 0 2.60 0a1.3 1.3 0 1 0 -2.60 0M440.8 33.1a1.3 1.3 0 1 0 2.60 0a1.3 1.3 0 1 0 -2.60 0M437.7 61.1a1.3 1.3 0 1 0 2.60 0a1.3 1.3 0 1 0 -2.60 0M441.1 63.8a1.3 1.3 0 1 0 2.60 0a1.3 1.3 0 1 0 -2.60 0M439.2 64.6a1.3 1.3 0 1 0 2.60 0a1.3 1.3 0 1 0 -2.60 0M439.1 82.9a1.3 1.3 0 1 0 2.60 0a1.3 1.3 0 1 0 -2.60 0M440.4 69.7a1.3 1.3 0 1 0 2.60 0a1.3 1.3 0 1 0 -2.60 0M444.5 72.6a1.3 1.3 0 1 0 2.60 0a1.3 1.3 0 1 0 -2.60 0M438.5 82.8a1.3 1.3 0 1 0 2.60 0a1.3 1.3 0 1 0 -2.60 0M438.9 53.6a1.3 1.3 0 1 0 2.60 0a1.3 1.3 0 1 0 -2.60 0M442.8 59.7a1.3 1.3 0 1 0 2.60 0a1.3 1.3 0 1 0 -2.60 0M439.5 85.0a1.3 1.3 0 1 0 2.60 0a1.3 1.3 0 1 0 -2.60 0M444.4 77.1a1.3 1.3 0 1 0 2.60 0a1.3 1.3 0 1 0 -2.60 0M440.8 30.7a1.3 1.3 0 1 0 2.60 0a1.3 1.3 0 1 0 -2.60 0M440.5 78.4a1.3 1.3 0 1 0 2.60 0a1.3 1.3 0 1 0 -2.60 0M441.1 63.9a1.3 1.3 0 1 0 2.60 0a1.3 1.3 0 1 0 -2.60 0M444.3 28.8a1.3 1.3 0 1 0 2.60 0a1.3 1.3 0 1 0 -2.60 0M441.5 79.7a1.3 1.3 0 1 0 2.60 0a1.3 1.3 0 1 0 -2.60 0M441.5 61.6a1.3 1.3 0 1 0 2.60 0a1.3 1.3 0 1 0 -2.60 0M440.9 32.7a1.3 1.3 0 1 0 2.60 0a1.3 1.3 0 1 0 -2.60 0M436.7 57.3a1.3 1.3 0 1 0 2.60 0a1.3 1.3 0 1 0 -2.60 0M438.3 55.8a1.3 1.3 0 1 0 2.60 0a1.3 1.3 0 1 0 -2.60 0M443.7 28.7a1.3 1.3 0 1 0 2.60 0a1.3 1.3 0 1 0 -2.60 0M442.2 36.4a1.3 1.3 0 1 0 2.60 0a1.3 1.3 0 1 0 -2.60 0M441.5 49.7a1.3 1.3 0 1 0 2.60 0a1.3 1.3 0 1 0 -2.60 0M441.8 42.8a1.3 1.3 0 1 0 2.60 0a1.3 1.3 0 1 0 -2.60 0M439.0 50.1a1.3 1.3 0 1 0 2.60 0a1.3 1.3 0 1 0 -2.60 0M441.1 29.9a1.3 1.3 0 1 0 2.60 0a1.3 1.3 0 1 0 -2.60 0M438.2 28.1a1.3 1.3 0 1 0 2.60 0a1.3 1.3 0 1 0 -2.60 0M441.2 55.7a1.3 1.3 0 1 0 2.60 0a1.3 1.3 0 1 0 -2.60 0M438.7 41.5a1.3 1.3 0 1 0 2.60 0a1.3 1.3 0 1 0 -2.60 0M439.8 52.2a1.3 1.3 0 1 0 2.60 0a1.3 1.3 0 1 0 -2.60 0M441.3 45.2a1.3 1.3 0 1 0 2.60 0a1.3 1.3 0 1 0 -2.60 0M439.5 34.6a1.3 1.3 0 1 0 2.60 0a1.3 1.3 0 1 0 -2.60 0M441.8 35.5a1.3 1.3 0 1 0 2.60 0a1.3 1.3 0 1 0 -2.60 0M441.3 52.0a1.3 1.3 0 1 0 2.60 0a1.3 1.3 0 1 0 -2.60 0M441.1 47.5a1.3 1.3 0 1 0 2.60 0a1.3 1.3 0 1 0 -2.60 0M443.3 44.6a1.3 1.3 0 1 0 2.60 0a1.3 1.3 0 1 0 -2.60 0M436.9 45.8a1.3 1.3 0 1 0 2.60 0a1.3 1.3 0 1 0 -2.60 0M436.6 36.5a1.3 1.3 0 1 0 2.60 0a1.3 1.3 0 1 0 -2.60 0M441.7 33.1a1.3 1.3 0 1 0 2.60 0a1.3 1.3 0 1 0 -2.60 0M442.5 47.4a1.3 1.3 0 1 0 2.60 0a1.3 1.3 0 1 0 -2.60 0M444.9 44.1a1.3 1.3 0 1 0 2.60 0a1.3 1.3 0 1 0 -2.60 0M442.0 55.8a1.3 1.3 0 1 0 2.60 0a1.3 1.3 0 1 0 -2.60 0M442.2 46.4a1.3 1.3 0 1 0 2.60 0a1.3 1.3 0 1 0 -2.60 0M438.3 28.2a1.3 1.3 0 1 0 2.60 0a1.3 1.3 0 1 0 -2.60 0M442.0 42.2a1.3 1.3 0 1 0 2.60 0a1.3 1.3 0 1 0 -2.60 0M441.8 40.4a1.3 1.3 0 1 0 2.60 0a1.3 1.3 0 1 0 -2.60 0M437.9 38.9a1.3 1.3 0 1 0 2.60 0a1.3 1.3 0 1 0 -2.60 0M438.2 40.1a1.3 1.3 0 1 0 2.60 0a1.3 1.3 0 1 0 -2.60 0M440.0 32.6a1.3 1.3 0 1 0 2.60 0a1.3 1.3 0 1 0 -2.60 0M441.0 49.8a1.3 1.3 0 1 0 2.60 0a1.3 1.3 0 1 0 -2.60 0M434.8 48.0a1.3 1.3 0 1 0 2.60 0a1.3 1.3 0 1 0 -2.60 0M440.5 30.1a1.3 1.3 0 1 0 2.60 0a1.3 1.3 0 1 0 -2.60 0M440.8 42.2a1.3 1.3 0 1 0 2.60 0a1.3 1.3 0 1 0 -2.60 0M439.9 27.8a1.3 1.3 0 1 0 2.60 0a1.3 1.3 0 1 0 -2.60 0M440.9 53.6a1.3 1.3 0 1 0 2.60 0a1.3 1.3 0 1 0 -2.60 0M441.3 33.3a1.3 1.3 0 1 0 2.60 0a1.3 1.3 0 1 0 -2.60 0M438.0 43.1a1.3 1.3 0 1 0 2.60 0a1.3 1.3 0 1 0 -2.60 0M441.3 43.0a1.3 1.3 0 1 0 2.60 0a1.3 1.3 0 1 0 -2.60 0M439.7 30.2a1.3 1.3 0 1 0 2.60 0a1.3 1.3 0 1 0 -2.60 0M438.1 53.8a1.3 1.3 0 1 0 2.60 0a1.3 1.3 0 1 0 -2.60 0M440.8 41.8a1.3 1.3 0 1 0 2.60 0a1.3 1.3 0 1 0 -2.60 0M443.7 50.1a1.3 1.3 0 1 0 2.60 0a1.3 1.3 0 1 0 -2.60 0M436.9 47.2a1.3 1.3 0 1 0 2.60 0a1.3 1.3 0 1 0 -2.60 0M436.5 32.2a1.3 1.3 0 1 0 2.60 0a1.3 1.3 0 1 0 -2.60 0M436.5 45.4a1.3 1.3 0 1 0 2.60 0a1.3 1.3 0 1 0 -2.60 0M444.8 33.3a1.3 1.3 0 1 0 2.60 0a1.3 1.3 0 1 0 -2.60 0M439.7 57.5a1.3 1.3 0 1 0 2.60 0a1.3 1.3 0 1 0 -2.60 0M440.2 86.6a1.3 1.3 0 1 0 2.60 0a1.3 1.3 0 1 0 -2.60 0M438.9 88.5a1.3 1.3 0 1 0 2.60 0a1.3 1.3 0 1 0 -2.60 0M438.6 100.3a1.3 1.3 0 1 0 2.60 0a1.3 1.3 0 1 0 -2.60 0M436.7 121.0a1.3 1.3 0 1 0 2.60 0a1.3 1.3 0 1 0 -2.60 0M440.6 101.3a1.3 1.3 0 1 0 2.60 0a1.3 1.3 0 1 0 -2.60 0M440.8 121.3a1.3 1.3 0 1 0 2.60 0a1.3 1.3 0 1 0 -2.60 0M436.7 113.4a1.3 1.3 0 1 0 2.60 0a1.3 1.3 0 1 0 -2.60 0M438.4 127.9a1.3 1.3 0 1 0 2.60 0a1.3 1.3 0 1 0 -2.60 0M439.0 126.4a1.3 1.3 0 1 0 2.60 0a1.3 1.3 0 1 0 -2.60 0M440.3 122.7a1.3 1.3 0 1 0 2.60 0a1.3 1.3 0 1 0 -2.60 0M440.7 121.6a1.3 1.3 0 1 0 2.60 0a1.3 1.3 0 1 0 -2.60 0M442.3 93.5a1.3 1.3 0 1 0 2.60 0a1.3 1.3 0 1 0 -2.60 0M442.8 128.0a1.3 1.3 0 1 0 2.60 0a1.3 1.3 0 1 0 -2.60 0M442.2 126.6a1.3 1.3 0 1 0 2.60 0a1.3 1.3 0 1 0 -2.60 0M442.7 122.3a1.3 1.3 0 1 0 2.60 0a1.3 1.3 0 1 0 -2.60 0M438.2 118.0a1.3 1.3 0 1 0 2.60 0a1.3 1.3 0 1 0 -2.60 0M439.3 113.7a1.3 1.3 0 1 0 2.60 0a1.3 1.3 0 1 0 -2.60 0" fill="none" stroke="#ea2026" stroke-width="0.7"/>
<path d="M412.6,20 V132.7 H449" fill="none" stroke="#333" stroke-width="1.1"/>
<line x1="421.80" y1="132.70" x2="421.80" y2="134.50" stroke="#333" stroke-width="0.8"/>
<line x1="441.80" y1="132.70" x2="441.80" y2="134.50" stroke="#333" stroke-width="0.8"/>
<text x="411" y="24.8" font-size="7.5" text-anchor="end" font-weight="normal" fill="#333">1.0</text>
<text x="411" y="53.4" font-size="7.5" text-anchor="end" font-weight="normal" fill="#333">0.8</text>
<text x="411" y="82.0" font-size="7.5" text-anchor="end" font-weight="normal" fill="#333">0.6</text>
<text x="411" y="110.6" font-size="7.5" text-anchor="end" font-weight="normal" fill="#333">0.4</text>
<text x="397.5" y="74.1" font-size="10.5" text-anchor="middle" font-weight="normal" fill="#222" transform="rotate(-90 397.5 74.1)">p(PASC)</text>
<text x="425.2" y="140.3" font-size="7.5" text-anchor="end" font-weight="normal" fill="#333" transform="rotate(-45 425.2 140.3)">CR</text>
<text x="444.8" y="140.3" font-size="7.5" text-anchor="end" font-weight="normal" fill="#333" transform="rotate(-45 444.8 140.3)">PASC</text>
<text x="459.7" y="10.9" font-size="12.3" text-anchor="start" font-weight="bold" fill="#000">c</text>
<text x="488" y="8.8" font-size="10.3" text-anchor="start" font-weight="normal" fill="#222">Increased in CR</text>
<text x="595.5" y="9.2" font-size="10.3" text-anchor="start" font-weight="normal" fill="#222">Increased in PASC</text>
<line x1="562.70" y1="16.60" x2="507.30" y2="16.60" stroke="#111" stroke-width="1.4"/>
<polygon points="498.80,16.60 507.80,12.70 507.80,20.50" fill="#111"/>
<line x1="573.70" y1="16.50" x2="675.80" y2="16.50" stroke="#111" stroke-width="1.4"/>
<polygon points="684.30,16.50 675.30,20.40 675.30,12.60" fill="#111"/>
<line x1="508.45" y1="28.00" x2="508.45" y2="128.00" stroke="#e8e8e8" stroke-width="0.6" stroke-dasharray="1,1"/>
<line x1="528.20" y1="28.00" x2="528.20" y2="128.00" stroke="#e2e2e2" stroke-width="0.6"/>
<line x1="547.95" y1="28.00" x2="547.95" y2="128.00" stroke="#e8e8e8" stroke-width="0.6" stroke-dasharray="1,1"/>
<line x1="567.70" y1="28.00" x2="567.70" y2="128.00" stroke="#e2e2e2" stroke-width="0.6"/>
<line x1="587.45" y1="28.00" x2="587.45" y2="128.00" stroke="#e8e8e8" stroke-width="0.6" stroke-dasharray="1,1"/>
<line x1="607.20" y1="28.00" x2="607.20" y2="128.00" stroke="#e2e2e2" stroke-width="0.6"/>
<line x1="626.95" y1="28.00" x2="626.95" y2="128.00" stroke="#e8e8e8" stroke-width="0.6" stroke-dasharray="1,1"/>
<line x1="646.70" y1="28.00" x2="646.70" y2="128.00" stroke="#e2e2e2" stroke-width="0.6"/>
<line x1="666.45" y1="28.00" x2="666.45" y2="128.00" stroke="#e8e8e8" stroke-width="0.6" stroke-dasharray="1,1"/>
<line x1="498.60" y1="124.90" x2="683.80" y2="124.90" stroke="#e2e2e2" stroke-width="0.6"/>
<line x1="498.60" y1="112.60" x2="683.80" y2="112.60" stroke="#e8e8e8" stroke-width="0.6" stroke-dasharray="1,1"/>
<line x1="498.60" y1="100.30" x2="683.80" y2="100.30" stroke="#e2e2e2" stroke-width="0.6"/>
<line x1="498.60" y1="88.00" x2="683.80" y2="88.00" stroke="#e8e8e8" stroke-width="0.6" stroke-dasharray="1,1"/>
<line x1="498.60" y1="75.70" x2="683.80" y2="75.70" stroke="#e2e2e2" stroke-width="0.6"/>
<line x1="498.60" y1="63.40" x2="683.80" y2="63.40" stroke="#e8e8e8" stroke-width="0.6" stroke-dasharray="1,1"/>
<line x1="498.60" y1="51.10" x2="683.80" y2="51.10" stroke="#e2e2e2" stroke-width="0.6"/>
<line x1="498.60" y1="38.80" x2="683.80" y2="38.80" stroke="#e8e8e8" stroke-width="0.6" stroke-dasharray="1,1"/>
<path d="M505.1 100.3a1.35 1.35 0 1 0 2.70 0a1.35 1.35 0 1 0 -2.70 0M515.0 101.5a1.35 1.35 0 1 0 2.70 0a1.35 1.35 0 1 0 -2.70 0M532.8 94.8a1.35 1.35 0 1 0 2.70 0a1.35 1.35 0 1 0 -2.70 0M542.6 99.7a1.35 1.35 0 1 0 2.70 0a1.35 1.35 0 1 0 -2.70 0M534.8 113.8a1.35 1.35 0 1 0 2.70 0a1.35 1.35 0 1 0 -2.70 0M528.8 108.9a1.35 1.35 0 1 0 2.70 0a1.35 1.35 0 1 0 -2.70 0M548.6 96.6a1.35 1.35 0 1 0 2.70 0a1.35 1.35 0 1 0 -2.70 0M554.5 92.9a1.35 1.35 0 1 0 2.70 0a1.35 1.35 0 1 0 -2.70 0M538.7 105.2a1.35 1.35 0 1 0 2.70 0a1.35 1.35 0 1 0 -2.70 0M544.6 116.3a1.35 1.35 0 1 0 2.70 0a1.35 1.35 0 1 0 -2.70 0M601.9 105.2a1.35 1.35 0 1 0 2.70 0a1.35 1.35 0 1 0 -2.70 0M615.7 105.2a1.35 1.35 0 1 0 2.70 0a1.35 1.35 0 1 0 -2.70 0M605.9 115.1a1.35 1.35 0 1 0 2.70 0a1.35 1.35 0 1 0 -2.70 0M603.9 100.3a1.35 1.35 0 1 0 2.70 0a1.35 1.35 0 1 0 -2.70 0M590.1 92.9a1.35 1.35 0 1 0 2.70 0a1.35 1.35 0 1 0 -2.70 0M596.0 96.6a1.35 1.35 0 1 0 2.70 0a1.35 1.35 0 1 0 -2.70 0M599.9 111.4a1.35 1.35 0 1 0 2.70 0a1.35 1.35 0 1 0 -2.70 0M594.0 102.8a1.35 1.35 0 1 0 2.70 0a1.35 1.35 0 1 0 -2.70 0M588.1 113.8a1.35 1.35 0 1 0 2.70 0a1.35 1.35 0 1 0 -2.70 0M592.0 107.7a1.35 1.35 0 1 0 2.70 0a1.35 1.35 0 1 0 -2.70 0M558.5 102.8a1.35 1.35 0 1 0 2.70 0a1.35 1.35 0 1 0 -2.70 0M552.5 111.4a1.35 1.35 0 1 0 2.70 0a1.35 1.35 0 1 0 -2.70 0M548.6 105.2a1.35 1.35 0 1 0 2.70 0a1.35 1.35 0 1 0 -2.70 0M584.1 120.0a1.35 1.35 0 1 0 2.70 0a1.35 1.35 0 1 0 -2.70 0M582.1 90.5a1.35 1.35 0 1 0 2.70 0a1.35 1.35 0 1 0 -2.70 0M546.6 110.1a1.35 1.35 0 1 0 2.70 0a1.35 1.35 0 1 0 -2.70 0M541.9 101.5a1.35 1.35 0 1 0 2.70 0a1.35 1.35 0 1 0 -2.70 0M556.5 97.8a1.35 1.35 0 1 0 2.70 0a1.35 1.35 0 1 0 -2.70 0M560.4 94.2a1.35 1.35 0 1 0 2.70 0a1.35 1.35 0 1 0 -2.70 0M598.0 92.9a1.35 1.35 0 1 0 2.70 0a1.35 1.35 0 1 0 -2.70 0M594.0 117.5a1.35 1.35 0 1 0 2.70 0a1.35 1.35 0 1 0 -2.70 0M586.1 122.4a1.35 1.35 0 1 0 2.70 0a1.35 1.35 0 1 0 -2.70 0M550.6 118.8a1.35 1.35 0 1 0 2.70 0a1.35 1.35 0 1 0 -2.70 0M536.7 91.7a1.35 1.35 0 1 0 2.70 0a1.35 1.35 0 1 0 -2.70 0M530.8 97.8a1.35 1.35 0 1 0 2.70 0a1.35 1.35 0 1 0 -2.70 0M552.5 115.0a1.35 1.35 0 1 0 2.70 0a1.35 1.35 0 1 0 -2.70 0M543.2 101.0a1.35 1.35 0 1 0 2.70 0a1.35 1.35 0 1 0 -2.70 0M561.0 114.4a1.35 1.35 0 1 0 2.70 0a1.35 1.35 0 1 0 -2.70 0M545.2 116.7a1.35 1.35 0 1 0 2.70 0a1.35 1.35 0 1 0 -2.70 0M554.9 90.8a1.35 1.35 0 1 0 2.70 0a1.35 1.35 0 1 0 -2.70 0M552.7 107.9a1.35 1.35 0 1 0 2.70 0a1.35 1.35 0 1 0 -2.70 0M548.1 99.2a1.35 1.35 0 1 0 2.70 0a1.35 1.35 0 1 0 -2.70 0M558.2 114.7a1.35 1.35 0 1 0 2.70 0a1.35 1.35 0 1 0 -2.70 0M552.8 99.0a1.35 1.35 0 1 0 2.70 0a1.35 1.35 0 1 0 -2.70 0M553.5 94.6a1.35 1.35 0 1 0 2.70 0a1.35 1.35 0 1 0 -2.70 0M546.7 89.8a1.35 1.35 0 1 0 2.70 0a1.35 1.35 0 1 0 -2.70 0M552.2 102.4a1.35 1.35 0 1 0 2.70 0a1.35 1.35 0 1 0 -2.70 0M554.3 108.3a1.35 1.35 0 1 0 2.70 0a1.35 1.35 0 1 0 -2.70 0M558.5 111.8a1.35 1.35 0 1 0 2.70 0a1.35 1.35 0 1 0 -2.70 0M545.2 93.1a1.35 1.35 0 1 0 2.70 0a1.35 1.35 0 1 0 -2.70 0M548.1 105.0a1.35 1.35 0 1 0 2.70 0a1.35 1.35 0 1 0 -2.70 0M604.4 112.9a1.35 1.35 0 1 0 2.70 0a1.35 1.35 0 1 0 -2.70 0M594.1 104.0a1.35 1.35 0 1 0 2.70 0a1.35 1.35 0 1 0 -2.70 0M594.8 97.7a1.35 1.35 0 1 0 2.70 0a1.35 1.35 0 1 0 -2.70 0M595.0 91.8a1.35 1.35 0 1 0 2.70 0a1.35 1.35 0 1 0 -2.70 0M594.8 114.2a1.35 1.35 0 1 0 2.70 0a1.35 1.35 0 1 0 -2.70 0M598.5 106.1a1.35 1.35 0 1 0 2.70 0a1.35 1.35 0 1 0 -2.70 0M601.7 91.7a1.35 1.35 0 1 0 2.70 0a1.35 1.35 0 1 0 -2.70 0M592.3 106.3a1.35 1.35 0 1 0 2.70 0a1.35 1.35 0 1 0 -2.70 0M605.8 110.9a1.35 1.35 0 1 0 2.70 0a1.35 1.35 0 1 0 -2.70 0M601.6 103.2a1.35 1.35 0 1 0 2.70 0a1.35 1.35 0 1 0 -2.70 0" fill="none" stroke="#cdcdcd" stroke-width="0.5"/>
<path d="M585.9 86.3a1.35 1.35 0 1 0 2.70 0a1.35 1.35 0 1 0 -2.70 0M582.1 86.4a1.35 1.35 0 1 0 2.70 0a1.35 1.35 0 1 0 -2.70 0M577.9 86.5a1.35 1.35 0 1 0 2.70 0a1.35 1.35 0 1 0 -2.70 0M583.9 86.5a1.35 1.35 0 1 0 2.70 0a1.35 1.35 0 1 0 -2.70 0M576.1 86.6a1.35 1.35 0 1 0 2.70 0a1.35 1.35 0 1 0 -2.70 0M570.8 86.6a1.35 1.35 0 1 0 2.70 0a1.35 1.35 0 1 0 -2.70 0M582.9 86.7a1.35 1.35 0 1 0 2.70 0a1.35 1.35 0 1 0 -2.70 0M570.7 86.7a1.35 1.35 0 1 0 2.70 0a1.35 1.35 0 1 0 -2.70 0M571.6 86.7a1.35 1.35 0 1 0 2.70 0a1.35 1.35 0 1 0 -2.70 0M579.5 86.7a1.35 1.35 0 1 0 2.70 0a1.35 1.35 0 1 0 -2.70 0M591.5 86.7a1.35 1.35 0 1 0 2.70 0a1.35 1.35 0 1 0 -2.70 0M590.5 86.8a1.35 1.35 0 1 0 2.70 0a1.35 1.35 0 1 0 -2.70 0M592.2 86.9a1.35 1.35 0 1 0 2.70 0a1.35 1.35 0 1 0 -2.70 0M586.1 86.9a1.35 1.35 0 1 0 2.70 0a1.35 1.35 0 1 0 -2.70 0M572.8 86.9a1.35 1.35 0 1 0 2.70 0a1.35 1.35 0 1 0 -2.70 0M579.7 86.9a1.35 1.35 0 1 0 2.70 0a1.35 1.35 0 1 0 -2.70 0M587.1 86.9a1.35 1.35 0 1 0 2.70 0a1.35 1.35 0 1 0 -2.70 0M570.3 86.9a1.35 1.35 0 1 0 2.70 0a1.35 1.35 0 1 0 -2.70 0M590.0 86.9a1.35 1.35 0 1 0 2.70 0a1.35 1.35 0 1 0 -2.70 0M572.8 87.0a1.35 1.35 0 1 0 2.70 0a1.35 1.35 0 1 0 -2.70 0M575.5 87.0a1.35 1.35 0 1 0 2.70 0a1.35 1.35 0 1 0 -2.70 0M588.4 87.0a1.35 1.35 0 1 0 2.70 0a1.35 1.35 0 1 0 -2.70 0M574.3 87.0a1.35 1.35 0 1 0 2.70 0a1.35 1.35 0 1 0 -2.70 0M590.4 87.0a1.35 1.35 0 1 0 2.70 0a1.35 1.35 0 1 0 -2.70 0M583.5 87.0a1.35 1.35 0 1 0 2.70 0a1.35 1.35 0 1 0 -2.70 0M569.3 87.1a1.35 1.35 0 1 0 2.70 0a1.35 1.35 0 1 0 -2.70 0M580.6 87.2a1.35 1.35 0 1 0 2.70 0a1.35 1.35 0 1 0 -2.70 0M569.7 87.2a1.35 1.35 0 1 0 2.70 0a1.35 1.35 0 1 0 -2.70 0M585.7 87.3a1.35 1.35 0 1 0 2.70 0a1.35 1.35 0 1 0 -2.70 0M571.6 87.3a1.35 1.35 0 1 0 2.70 0a1.35 1.35 0 1 0 -2.70 0M586.9 87.3a1.35 1.35 0 1 0 2.70 0a1.35 1.35 0 1 0 -2.70 0M581.0 87.4a1.35 1.35 0 1 0 2.70 0a1.35 1.35 0 1 0 -2.70 0M582.9 87.4a1.35 1.35 0 1 0 2.70 0a1.35 1.35 0 1 0 -2.70 0M572.1 87.4a1.35 1.35 0 1 0 2.70 0a1.35 1.35 0 1 0 -2.70 0M584.9 87.5a1.35 1.35 0 1 0 2.70 0a1.35 1.35 0 1 0 -2.70 0M582.6 87.5a1.35 1.35 0 1 0 2.70 0a1.35 1.35 0 1 0 -2.70 0M577.8 87.5a1.35 1.35 0 1 0 2.70 0a1.35 1.35 0 1 0 -2.70 0M581.1 87.5a1.35 1.35 0 1 0 2.70 0a1.35 1.35 0 1 0 -2.70 0M591.0 87.5a1.35 1.35 0 1 0 2.70 0a1.35 1.35 0 1 0 -2.70 0M585.1 87.5a1.35 1.35 0 1 0 2.70 0a1.35 1.35 0 1 0 -2.70 0M572.8 87.5a1.35 1.35 0 1 0 2.70 0a1.35 1.35 0 1 0 -2.70 0M586.5 87.5a1.35 1.35 0 1 0 2.70 0a1.35 1.35 0 1 0 -2.70 0M580.6 87.6a1.35 1.35 0 1 0 2.70 0a1.35 1.35 0 1 0 -2.70 0M591.0 87.7a1.35 1.35 0 1 0 2.70 0a1.35 1.35 0 1 0 -2.70 0M588.3 87.7a1.35 1.35 0 1 0 2.70 0a1.35 1.35 0 1 0 -2.70 0M578.5 87.7a1.35 1.35 0 1 0 2.70 0a1.35 1.35 0 1 0 -2.70 0M593.2 87.7a1.35 1.35 0 1 0 2.70 0a1.35 1.35 0 1 0 -2.70 0M586.8 87.7a1.35 1.35 0 1 0 2.70 0a1.35 1.35 0 1 0 -2.70 0M586.3 87.9a1.35 1.35 0 1 0 2.70 0a1.35 1.35 0 1 0 -2.70 0M579.7 87.9a1.35 1.35 0 1 0 2.70 0a1.35 1.35 0 1 0 -2.70 0M587.2 87.9a1.35 1.35 0 1 0 2.70 0a1.35 1.35 0 1 0 -2.70 0M584.1 88.0a1.35 1.35 0 1 0 2.70 0a1.35 1.35 0 1 0 -2.70 0M573.8 88.0a1.35 1.35 0 1 0 2.70 0a1.35 1.35 0 1 0 -2.70 0M593.9 88.0a1.35 1.35 0 1 0 2.70 0a1.35 1.35 0 1 0 -2.70 0M589.1 88.2a1.35 1.35 0 1 0 2.70 0a1.35 1.35 0 1 0 -2.70 0M571.3 88.2a1.35 1.35 0 1 0 2.70 0a1.35 1.35 0 1 0 -2.70 0M592.8 88.2a1.35 1.35 0 1 0 2.70 0a1.35 1.35 0 1 0 -2.70 0M578.3 88.2a1.35 1.35 0 1 0 2.70 0a1.35 1.35 0 1 0 -2.70 0M577.7 88.3a1.35 1.35 0 1 0 2.70 0a1.35 1.35 0 1 0 -2.70 0M582.4 88.3a1.35 1.35 0 1 0 2.70 0a1.35 1.35 0 1 0 -2.70 0M580.6 88.4a1.35 1.35 0 1 0 2.70 0a1.35 1.35 0 1 0 -2.70 0M573.4 88.4a1.35 1.35 0 1 0 2.70 0a1.35 1.35 0 1 0 -2.70 0M583.1 88.4a1.35 1.35 0 1 0 2.70 0a1.35 1.35 0 1 0 -2.70 0M578.1 88.4a1.35 1.35 0 1 0 2.70 0a1.35 1.35 0 1 0 -2.70 0M575.8 88.5a1.35 1.35 0 1 0 2.70 0a1.35 1.35 0 1 0 -2.70 0M588.6 88.5a1.35 1.35 0 1 0 2.70 0a1.35 1.35 0 1 0 -2.70 0M580.6 88.6a1.35 1.35 0 1 0 2.70 0a1.35 1.35 0 1 0 -2.70 0M588.4 88.6a1.35 1.35 0 1 0 2.70 0a1.35 1.35 0 1 0 -2.70 0M573.7 88.6a1.35 1.35 0 1 0 2.70 0a1.35 1.35 0 1 0 -2.70 0M582.2 88.7a1.35 1.35 0 1 0 2.70 0a1.35 1.35 0 1 0 -2.70 0M585.1 88.7a1.35 1.35 0 1 0 2.70 0a1.35 1.35 0 1 0 -2.70 0M572.9 88.7a1.35 1.35 0 1 0 2.70 0a1.35 1.35 0 1 0 -2.70 0M571.6 88.8a1.35 1.35 0 1 0 2.70 0a1.35 1.35 0 1 0 -2.70 0M573.0 89.0a1.35 1.35 0 1 0 2.70 0a1.35 1.35 0 1 0 -2.70 0M579.1 89.0a1.35 1.35 0 1 0 2.70 0a1.35 1.35 0 1 0 -2.70 0M575.9 89.0a1.35 1.35 0 1 0 2.70 0a1.35 1.35 0 1 0 -2.70 0M574.5 89.1a1.35 1.35 0 1 0 2.70 0a1.35 1.35 0 1 0 -2.70 0M585.8 89.2a1.35 1.35 0 1 0 2.70 0a1.35 1.35 0 1 0 -2.70 0M575.0 89.3a1.35 1.35 0 1 0 2.70 0a1.35 1.35 0 1 0 -2.70 0M571.4 89.3a1.35 1.35 0 1 0 2.70 0a1.35 1.35 0 1 0 -2.70 0M583.2 89.4a1.35 1.35 0 1 0 2.70 0a1.35 1.35 0 1 0 -2.70 0M577.9 89.4a1.35 1.35 0 1 0 2.70 0a1.35 1.35 0 1 0 -2.70 0M577.6 89.4a1.35 1.35 0 1 0 2.70 0a1.35 1.35 0 1 0 -2.70 0M578.6 89.4a1.35 1.35 0 1 0 2.70 0a1.35 1.35 0 1 0 -2.70 0M582.3 89.4a1.35 1.35 0 1 0 2.70 0a1.35 1.35 0 1 0 -2.70 0M569.6 89.5a1.35 1.35 0 1 0 2.70 0a1.35 1.35 0 1 0 -2.70 0M570.6 89.5a1.35 1.35 0 1 0 2.70 0a1.35 1.35 0 1 0 -2.70 0M572.6 89.6a1.35 1.35 0 1 0 2.70 0a1.35 1.35 0 1 0 -2.70 0M577.4 89.6a1.35 1.35 0 1 0 2.70 0a1.35 1.35 0 1 0 -2.70 0M584.6 89.6a1.35 1.35 0 1 0 2.70 0a1.35 1.35 0 1 0 -2.70 0M579.4 89.6a1.35 1.35 0 1 0 2.70 0a1.35 1.35 0 1 0 -2.70 0M592.3 89.6a1.35 1.35 0 1 0 2.70 0a1.35 1.35 0 1 0 -2.70 0M585.1 89.6a1.35 1.35 0 1 0 2.70 0a1.35 1.35 0 1 0 -2.70 0M585.8 89.7a1.35 1.35 0 1 0 2.70 0a1.35 1.35 0 1 0 -2.70 0M590.0 89.7a1.35 1.35 0 1 0 2.70 0a1.35 1.35 0 1 0 -2.70 0M574.7 89.7a1.35 1.35 0 1 0 2.70 0a1.35 1.35 0 1 0 -2.70 0M574.2 89.8a1.35 1.35 0 1 0 2.70 0a1.35 1.35 0 1 0 -2.70 0M575.8 89.8a1.35 1.35 0 1 0 2.70 0a1.35 1.35 0 1 0 -2.70 0M578.2 89.9a1.35 1.35 0 1 0 2.70 0a1.35 1.35 0 1 0 -2.70 0M582.4 89.9a1.35 1.35 0 1 0 2.70 0a1.35 1.35 0 1 0 -2.70 0M568.6 89.9a1.35 1.35 0 1 0 2.70 0a1.35 1.35 0 1 0 -2.70 0M586.1 90.0a1.35 1.35 0 1 0 2.70 0a1.35 1.35 0 1 0 -2.70 0M573.8 90.0a1.35 1.35 0 1 0 2.70 0a1.35 1.35 0 1 0 -2.70 0M581.0 90.0a1.35 1.35 0 1 0 2.70 0a1.35 1.35 0 1 0 -2.70 0M577.8 90.0a1.35 1.35 0 1 0 2.70 0a1.35 1.35 0 1 0 -2.70 0M588.8 90.0a1.35 1.35 0 1 0 2.70 0a1.35 1.35 0 1 0 -2.70 0M572.0 90.0a1.35 1.35 0 1 0 2.70 0a1.35 1.35 0 1 0 -2.70 0M574.9 90.1a1.35 1.35 0 1 0 2.70 0a1.35 1.35 0 1 0 -2.70 0M577.1 90.1a1.35 1.35 0 1 0 2.70 0a1.35 1.35 0 1 0 -2.70 0M579.4 90.2a1.35 1.35 0 1 0 2.70 0a1.35 1.35 0 1 0 -2.70 0M583.8 90.2a1.35 1.35 0 1 0 2.70 0a1.35 1.35 0 1 0 -2.70 0M586.4 90.2a1.35 1.35 0 1 0 2.70 0a1.35 1.35 0 1 0 -2.70 0M589.3 90.3a1.35 1.35 0 1 0 2.70 0a1.35 1.35 0 1 0 -2.70 0M589.7 90.3a1.35 1.35 0 1 0 2.70 0a1.35 1.35 0 1 0 -2.70 0M578.5 90.4a1.35 1.35 0 1 0 2.70 0a1.35 1.35 0 1 0 -2.70 0M580.1 90.4a1.35 1.35 0 1 0 2.70 0a1.35 1.35 0 1 0 -2.70 0M587.4 90.4a1.35 1.35 0 1 0 2.70 0a1.35 1.35 0 1 0 -2.70 0M572.1 90.5a1.35 1.35 0 1 0 2.70 0a1.35 1.35 0 1 0 -2.70 0M576.9 90.5a1.35 1.35 0 1 0 2.70 0a1.35 1.35 0 1 0 -2.70 0M589.9 90.5a1.35 1.35 0 1 0 2.70 0a1.35 1.35 0 1 0 -2.70 0M587.1 90.5a1.35 1.35 0 1 0 2.70 0a1.35 1.35 0 1 0 -2.70 0M578.5 90.5a1.35 1.35 0 1 0 2.70 0a1.35 1.35 0 1 0 -2.70 0M569.3 90.6a1.35 1.35 0 1 0 2.70 0a1.35 1.35 0 1 0 -2.70 0M590.8 90.6a1.35 1.35 0 1 0 2.70 0a1.35 1.35 0 1 0 -2.70 0M589.8 90.6a1.35 1.35 0 1 0 2.70 0a1.35 1.35 0 1 0 -2.70 0M577.5 90.6a1.35 1.35 0 1 0 2.70 0a1.35 1.35 0 1 0 -2.70 0M576.3 90.7a1.35 1.35 0 1 0 2.70 0a1.35 1.35 0 1 0 -2.70 0M585.7 90.8a1.35 1.35 0 1 0 2.70 0a1.35 1.35 0 1 0 -2.70 0M569.2 90.8a1.35 1.35 0 1 0 2.70 0a1.35 1.35 0 1 0 -2.70 0M571.6 90.8a1.35 1.35 0 1 0 2.70 0a1.35 1.35 0 1 0 -2.70 0M579.7 90.9a1.35 1.35 0 1 0 2.70 0a1.35 1.35 0 1 0 -2.70 0M583.4 90.9a1.35 1.35 0 1 0 2.70 0a1.35 1.35 0 1 0 -2.70 0M580.0 91.0a1.35 1.35 0 1 0 2.70 0a1.35 1.35 0 1 0 -2.70 0M588.2 91.0a1.35 1.35 0 1 0 2.70 0a1.35 1.35 0 1 0 -2.70 0M575.5 91.1a1.35 1.35 0 1 0 2.70 0a1.35 1.35 0 1 0 -2.70 0M578.4 91.1a1.35 1.35 0 1 0 2.70 0a1.35 1.35 0 1 0 -2.70 0M589.0 91.1a1.35 1.35 0 1 0 2.70 0a1.35 1.35 0 1 0 -2.70 0M590.2 91.2a1.35 1.35 0 1 0 2.70 0a1.35 1.35 0 1 0 -2.70 0M583.5 91.2a1.35 1.35 0 1 0 2.70 0a1.35 1.35 0 1 0 -2.70 0M591.9 91.2a1.35 1.35 0 1 0 2.70 0a1.35 1.35 0 1 0 -2.70 0M575.4 91.3a1.35 1.35 0 1 0 2.70 0a1.35 1.35 0 1 0 -2.70 0M578.3 91.3a1.35 1.35 0 1 0 2.70 0a1.35 1.35 0 1 0 -2.70 0M589.4 91.3a1.35 1.35 0 1 0 2.70 0a1.35 1.35 0 1 0 -2.70 0M578.7 91.3a1.35 1.35 0 1 0 2.70 0a1.35 1.35 0 1 0 -2.70 0M575.9 91.3a1.35 1.35 0 1 0 2.70 0a1.35 1.35 0 1 0 -2.70 0M579.3 91.4a1.35 1.35 0 1 0 2.70 0a1.35 1.35 0 1 0 -2.70 0M578.5 91.4a1.35 1.35 0 1 0 2.70 0a1.35 1.35 0 1 0 -2.70 0M583.8 91.5a1.35 1.35 0 1 0 2.70 0a1.35 1.35 0 1 0 -2.70 0M589.4 91.5a1.35 1.35 0 1 0 2.70 0a1.35 1.35 0 1 0 -2.70 0M580.6 91.6a1.35 1.35 0 1 0 2.70 0a1.35 1.35 0 1 0 -2.70 0M582.0 91.6a1.35 1.35 0 1 0 2.70 0a1.35 1.35 0 1 0 -2.70 0M589.0 91.9a1.35 1.35 0 1 0 2.70 0a1.35 1.35 0 1 0 -2.70 0M574.0 91.9a1.35 1.35 0 1 0 2.70 0a1.35 1.35 0 1 0 -2.70 0M579.2 91.9a1.35 1.35 0 1 0 2.70 0a1.35 1.35 0 1 0 -2.70 0M584.3 91.9a1.35 1.35 0 1 0 2.70 0a1.35 1.35 0 1 0 -2.70 0M584.5 92.0a1.35 1.35 0 1 0 2.70 0a1.35 1.35 0 1 0 -2.70 0M577.7 92.0a1.35 1.35 0 1 0 2.70 0a1.35 1.35 0 1 0 -2.70 0M585.3 92.0a1.35 1.35 0 1 0 2.70 0a1.35 1.35 0 1 0 -2.70 0M580.0 92.1a1.35 1.35 0 1 0 2.70 0a1.35 1.35 0 1 0 -2.70 0M582.8 92.1a1.35 1.35 0 1 0 2.70 0a1.35 1.35 0 1 0 -2.70 0M585.2 92.2a1.35 1.35 0 1 0 2.70 0a1.35 1.35 0 1 0 -2.70 0M589.7 92.2a1.35 1.35 0 1 0 2.70 0a1.35 1.35 0 1 0 -2.70 0M588.0 92.2a1.35 1.35 0 1 0 2.70 0a1.35 1.35 0 1 0 -2.70 0M575.6 92.3a1.35 1.35 0 1 0 2.70 0a1.35 1.35 0 1 0 -2.70 0M573.3 92.3a1.35 1.35 0 1 0 2.70 0a1.35 1.35 0 1 0 -2.70 0M582.6 92.4a1.35 1.35 0 1 0 2.70 0a1.35 1.35 0 1 0 -2.70 0M579.8 92.4a1.35 1.35 0 1 0 2.70 0a1.35 1.35 0 1 0 -2.70 0M575.6 92.4a1.35 1.35 0 1 0 2.70 0a1.35 1.35 0 1 0 -2.70 0M584.8 92.4a1.35 1.35 0 1 0 2.70 0a1.35 1.35 0 1 0 -2.70 0M575.7 92.4a1.35 1.35 0 1 0 2.70 0a1.35 1.35 0 1 0 -2.70 0M584.9 92.4a1.35 1.35 0 1 0 2.70 0a1.35 1.35 0 1 0 -2.70 0M581.1 92.5a1.35 1.35 0 1 0 2.70 0a1.35 1.35 0 1 0 -2.70 0M587.4 92.6a1.35 1.35 0 1 0 2.70 0a1.35 1.35 0 1 0 -2.70 0M571.7 92.6a1.35 1.35 0 1 0 2.70 0a1.35 1.35 0 1 0 -2.70 0M571.2 92.6a1.35 1.35 0 1 0 2.70 0a1.35 1.35 0 1 0 -2.70 0M583.2 92.6a1.35 1.35 0 1 0 2.70 0a1.35 1.35 0 1 0 -2.70 0M583.2 92.6a1.35 1.35 0 1 0 2.70 0a1.35 1.35 0 1 0 -2.70 0M569.3 92.6a1.35 1.35 0 1 0 2.70 0a1.35 1.35 0 1 0 -2.70 0M570.0 92.7a1.35 1.35 0 1 0 2.70 0a1.35 1.35 0 1 0 -2.70 0M586.8 92.7a1.35 1.35 0 1 0 2.70 0a1.35 1.35 0 1 0 -2.70 0M581.8 92.7a1.35 1.35 0 1 0 2.70 0a1.35 1.35 0 1 0 -2.70 0M571.0 92.8a1.35 1.35 0 1 0 2.70 0a1.35 1.35 0 1 0 -2.70 0M576.2 92.8a1.35 1.35 0 1 0 2.70 0a1.35 1.35 0 1 0 -2.70 0M577.2 92.9a1.35 1.35 0 1 0 2.70 0a1.35 1.35 0 1 0 -2.70 0M588.8 92.9a1.35 1.35 0 1 0 2.70 0a1.35 1.35 0 1 0 -2.70 0M575.1 93.0a1.35 1.35 0 1 0 2.70 0a1.35 1.35 0 1 0 -2.70 0M585.0 93.1a1.35 1.35 0 1 0 2.70 0a1.35 1.35 0 1 0 -2.70 0M589.4 93.1a1.35 1.35 0 1 0 2.70 0a1.35 1.35 0 1 0 -2.70 0M585.7 93.1a1.35 1.35 0 1 0 2.70 0a1.35 1.35 0 1 0 -2.70 0M582.1 93.1a1.35 1.35 0 1 0 2.70 0a1.35 1.35 0 1 0 -2.70 0M586.4 93.1a1.35 1.35 0 1 0 2.70 0a1.35 1.35 0 1 0 -2.70 0M576.3 93.1a1.35 1.35 0 1 0 2.70 0a1.35 1.35 0 1 0 -2.70 0M578.7 93.2a1.35 1.35 0 1 0 2.70 0a1.35 1.35 0 1 0 -2.70 0M573.1 93.2a1.35 1.35 0 1 0 2.70 0a1.35 1.35 0 1 0 -2.70 0M591.4 93.2a1.35 1.35 0 1 0 2.70 0a1.35 1.35 0 1 0 -2.70 0M590.3 93.2a1.35 1.35 0 1 0 2.70 0a1.35 1.35 0 1 0 -2.70 0M583.5 93.2a1.35 1.35 0 1 0 2.70 0a1.35 1.35 0 1 0 -2.70 0M592.2 93.2a1.35 1.35 0 1 0 2.70 0a1.35 1.35 0 1 0 -2.70 0M586.7 93.3a1.35 1.35 0 1 0 2.70 0a1.35 1.35 0 1 0 -2.70 0M583.8 93.3a1.35 1.35 0 1 0 2.70 0a1.35 1.35 0 1 0 -2.70 0M583.7 93.4a1.35 1.35 0 1 0 2.70 0a1.35 1.35 0 1 0 -2.70 0M574.7 93.4a1.35 1.35 0 1 0 2.70 0a1.35 1.35 0 1 0 -2.70 0M570.9 93.4a1.35 1.35 0 1 0 2.70 0a1.35 1.35 0 1 0 -2.70 0M569.3 93.4a1.35 1.35 0 1 0 2.70 0a1.35 1.35 0 1 0 -2.70 0M574.9 93.5a1.35 1.35 0 1 0 2.70 0a1.35 1.35 0 1 0 -2.70 0M582.0 93.5a1.35 1.35 0 1 0 2.70 0a1.35 1.35 0 1 0 -2.70 0M574.6 93.5a1.35 1.35 0 1 0 2.70 0a1.35 1.35 0 1 0 -2.70 0M590.3 93.5a1.35 1.35 0 1 0 2.70 0a1.35 1.35 0 1 0 -2.70 0M590.1 93.5a1.35 1.35 0 1 0 2.70 0a1.35 1.35 0 1 0 -2.70 0M588.2 93.6a1.35 1.35 0 1 0 2.70 0a1.35 1.35 0 1 0 -2.70 0M590.1 93.6a1.35 1.35 0 1 0 2.70 0a1.35 1.35 0 1 0 -2.70 0M587.5 93.6a1.35 1.35 0 1 0 2.70 0a1.35 1.35 0 1 0 -2.70 0M586.6 93.6a1.35 1.35 0 1 0 2.70 0a1.35 1.35 0 1 0 -2.70 0M576.3 93.6a1.35 1.35 0 1 0 2.70 0a1.35 1.35 0 1 0 -2.70 0M581.9 93.7a1.35 1.35 0 1 0 2.70 0a1.35 1.35 0 1 0 -2.70 0M581.1 93.7a1.35 1.35 0 1 0 2.70 0a1.35 1.35 0 1 0 -2.70 0M574.6 93.7a1.35 1.35 0 1 0 2.70 0a1.35 1.35 0 1 0 -2.70 0M571.5 93.7a1.35 1.35 0 1 0 2.70 0a1.35 1.35 0 1 0 -2.70 0M586.2 93.7a1.35 1.35 0 1 0 2.70 0a1.35 1.35 0 1 0 -2.70 0M576.6 93.8a1.35 1.35 0 1 0 2.70 0a1.35 1.35 0 1 0 -2.70 0M578.3 93.9a1.35 1.35 0 1 0 2.70 0a1.35 1.35 0 1 0 -2.70 0M572.2 93.9a1.35 1.35 0 1 0 2.70 0a1.35 1.35 0 1 0 -2.70 0M580.3 93.9a1.35 1.35 0 1 0 2.70 0a1.35 1.35 0 1 0 -2.70 0M590.0 93.9a1.35 1.35 0 1 0 2.70 0a1.35 1.35 0 1 0 -2.70 0M586.7 93.9a1.35 1.35 0 1 0 2.70 0a1.35 1.35 0 1 0 -2.70 0M573.9 93.9a1.35 1.35 0 1 0 2.70 0a1.35 1.35 0 1 0 -2.70 0M575.4 93.9a1.35 1.35 0 1 0 2.70 0a1.35 1.35 0 1 0 -2.70 0M587.4 94.0a1.35 1.35 0 1 0 2.70 0a1.35 1.35 0 1 0 -2.70 0M587.6 94.0a1.35 1.35 0 1 0 2.70 0a1.35 1.35 0 1 0 -2.70 0M570.3 94.0a1.35 1.35 0 1 0 2.70 0a1.35 1.35 0 1 0 -2.70 0M575.9 94.1a1.35 1.35 0 1 0 2.70 0a1.35 1.35 0 1 0 -2.70 0M579.3 94.1a1.35 1.35 0 1 0 2.70 0a1.35 1.35 0 1 0 -2.70 0M592.0 94.1a1.35 1.35 0 1 0 2.70 0a1.35 1.35 0 1 0 -2.70 0M588.1 94.2a1.35 1.35 0 1 0 2.70 0a1.35 1.35 0 1 0 -2.70 0M589.2 94.2a1.35 1.35 0 1 0 2.70 0a1.35 1.35 0 1 0 -2.70 0M582.1 94.2a1.35 1.35 0 1 0 2.70 0a1.35 1.35 0 1 0 -2.70 0M588.7 94.2a1.35 1.35 0 1 0 2.70 0a1.35 1.35 0 1 0 -2.70 0M580.1 94.3a1.35 1.35 0 1 0 2.70 0a1.35 1.35 0 1 0 -2.70 0M575.0 94.3a1.35 1.35 0 1 0 2.70 0a1.35 1.35 0 1 0 -2.70 0M578.6 94.4a1.35 1.35 0 1 0 2.70 0a1.35 1.35 0 1 0 -2.70 0M577.9 94.4a1.35 1.35 0 1 0 2.70 0a1.35 1.35 0 1 0 -2.70 0M573.7 94.4a1.35 1.35 0 1 0 2.70 0a1.35 1.35 0 1 0 -2.70 0M587.3 94.4a1.35 1.35 0 1 0 2.70 0a1.35 1.35 0 1 0 -2.70 0M578.7 94.4a1.35 1.35 0 1 0 2.70 0a1.35 1.35 0 1 0 -2.70 0M589.4 94.5a1.35 1.35 0 1 0 2.70 0a1.35 1.35 0 1 0 -2.70 0M577.9 94.5a1.35 1.35 0 1 0 2.70 0a1.35 1.35 0 1 0 -2.70 0M592.4 94.5a1.35 1.35 0 1 0 2.70 0a1.35 1.35 0 1 0 -2.70 0M588.9 94.6a1.35 1.35 0 1 0 2.70 0a1.35 1.35 0 1 0 -2.70 0M569.4 94.6a1.35 1.35 0 1 0 2.70 0a1.35 1.35 0 1 0 -2.70 0M570.3 94.7a1.35 1.35 0 1 0 2.70 0a1.35 1.35 0 1 0 -2.70 0M588.1 94.7a1.35 1.35 0 1 0 2.70 0a1.35 1.35 0 1 0 -2.70 0M577.2 94.7a1.35 1.35 0 1 0 2.70 0a1.35 1.35 0 1 0 -2.70 0M589.2 94.7a1.35 1.35 0 1 0 2.70 0a1.35 1.35 0 1 0 -2.70 0M587.6 94.8a1.35 1.35 0 1 0 2.70 0a1.35 1.35 0 1 0 -2.70 0M578.1 94.8a1.35 1.35 0 1 0 2.70 0a1.35 1.35 0 1 0 -2.70 0M586.4 94.8a1.35 1.35 0 1 0 2.70 0a1.35 1.35 0 1 0 -2.70 0M589.8 94.8a1.35 1.35 0 1 0 2.70 0a1.35 1.35 0 1 0 -2.70 0M573.3 94.8a1.35 1.35 0 1 0 2.70 0a1.35 1.35 0 1 0 -2.70 0M577.3 94.9a1.35 1.35 0 1 0 2.70 0a1.35 1.35 0 1 0 -2.70 0M590.7 94.9a1.35 1.35 0 1 0 2.70 0a1.35 1.35 0 1 0 -2.70 0M586.9 94.9a1.35 1.35 0 1 0 2.70 0a1.35 1.35 0 1 0 -2.70 0M583.2 95.0a1.35 1.35 0 1 0 2.70 0a1.35 1.35 0 1 0 -2.70 0M575.1 95.0a1.35 1.35 0 1 0 2.70 0a1.35 1.35 0 1 0 -2.70 0M570.4 95.0a1.35 1.35 0 1 0 2.70 0a1.35 1.35 0 1 0 -2.70 0M581.3 95.0a1.35 1.35 0 1 0 2.70 0a1.35 1.35 0 1 0 -2.70 0M581.6 95.0a1.35 1.35 0 1 0 2.70 0a1.35 1.35 0 1 0 -2.70 0M579.3 95.0a1.35 1.35 0 1 0 2.70 0a1.35 1.35 0 1 0 -2.70 0M586.5 95.1a1.35 1.35 0 1 0 2.70 0a1.35 1.35 0 1 0 -2.70 0M580.3 95.1a1.35 1.35 0 1 0 2.70 0a1.35 1.35 0 1 0 -2.70 0M590.2 95.1a1.35 1.35 0 1 0 2.70 0a1.35 1.35 0 1 0 -2.70 0M573.4 95.1a1.35 1.35 0 1 0 2.70 0a1.35 1.35 0 1 0 -2.70 0M581.6 95.1a1.35 1.35 0 1 0 2.70 0a1.35 1.35 0 1 0 -2.70 0M572.0 95.2a1.35 1.35 0 1 0 2.70 0a1.35 1.35 0 1 0 -2.70 0M578.1 95.2a1.35 1.35 0 1 0 2.70 0a1.35 1.35 0 1 0 -2.70 0M578.9 95.2a1.35 1.35 0 1 0 2.70 0a1.35 1.35 0 1 0 -2.70 0M588.8 95.2a1.35 1.35 0 1 0 2.70 0a1.35 1.35 0 1 0 -2.70 0M587.5 95.3a1.35 1.35 0 1 0 2.70 0a1.35 1.35 0 1 0 -2.70 0M570.6 95.3a1.35 1.35 0 1 0 2.70 0a1.35 1.35 0 1 0 -2.70 0M572.1 95.3a1.35 1.35 0 1 0 2.70 0a1.35 1.35 0 1 0 -2.70 0M580.0 95.3a1.35 1.35 0 1 0 2.70 0a1.35 1.35 0 1 0 -2.70 0M572.9 95.4a1.35 1.35 0 1 0 2.70 0a1.35 1.35 0 1 0 -2.70 0M570.7 95.4a1.35 1.35 0 1 0 2.70 0a1.35 1.35 0 1 0 -2.70 0M574.3 95.4a1.35 1.35 0 1 0 2.70 0a1.35 1.35 0 1 0 -2.70 0M575.5 95.4a1.35 1.35 0 1 0 2.70 0a1.35 1.35 0 1 0 -2.70 0M579.5 95.6a1.35 1.35 0 1 0 2.70 0a1.35 1.35 0 1 0 -2.70 0M575.6 95.6a1.35 1.35 0 1 0 2.70 0a1.35 1.35 0 1 0 -2.70 0M583.8 95.7a1.35 1.35 0 1 0 2.70 0a1.35 1.35 0 1 0 -2.70 0M575.5 95.7a1.35 1.35 0 1 0 2.70 0a1.35 1.35 0 1 0 -2.70 0M576.4 95.8a1.35 1.35 0 1 0 2.70 0a1.35 1.35 0 1 0 -2.70 0M570.7 95.9a1.35 1.35 0 1 0 2.70 0a1.35 1.35 0 1 0 -2.70 0M586.2 95.9a1.35 1.35 0 1 0 2.70 0a1.35 1.35 0 1 0 -2.70 0M573.7 95.9a1.35 1.35 0 1 0 2.70 0a1.35 1.35 0 1 0 -2.70 0M590.6 96.0a1.35 1.35 0 1 0 2.70 0a1.35 1.35 0 1 0 -2.70 0M576.9 96.0a1.35 1.35 0 1 0 2.70 0a1.35 1.35 0 1 0 -2.70 0M590.6 96.0a1.35 1.35 0 1 0 2.70 0a1.35 1.35 0 1 0 -2.70 0M586.5 96.0a1.35 1.35 0 1 0 2.70 0a1.35 1.35 0 1 0 -2.70 0M588.1 96.1a1.35 1.35 0 1 0 2.70 0a1.35 1.35 0 1 0 -2.70 0M585.5 96.1a1.35 1.35 0 1 0 2.70 0a1.35 1.35 0 1 0 -2.70 0M586.6 96.1a1.35 1.35 0 1 0 2.70 0a1.35 1.35 0 1 0 -2.70 0M575.9 96.1a1.35 1.35 0 1 0 2.70 0a1.35 1.35 0 1 0 -2.70 0M581.7 96.2a1.35 1.35 0 1 0 2.70 0a1.35 1.35 0 1 0 -2.70 0M579.5 96.2a1.35 1.35 0 1 0 2.70 0a1.35 1.35 0 1 0 -2.70 0M578.0 96.2a1.35 1.35 0 1 0 2.70 0a1.35 1.35 0 1 0 -2.70 0M589.8 96.2a1.35 1.35 0 1 0 2.70 0a1.35 1.35 0 1 0 -2.70 0M572.8 96.3a1.35 1.35 0 1 0 2.70 0a1.35 1.35 0 1 0 -2.70 0M573.3 96.3a1.35 1.35 0 1 0 2.70 0a1.35 1.35 0 1 0 -2.70 0M588.7 96.3a1.35 1.35 0 1 0 2.70 0a1.35 1.35 0 1 0 -2.70 0M578.4 96.3a1.35 1.35 0 1 0 2.70 0a1.35 1.35 0 1 0 -2.70 0M580.9 96.4a1.35 1.35 0 1 0 2.70 0a1.35 1.35 0 1 0 -2.70 0M585.6 96.4a1.35 1.35 0 1 0 2.70 0a1.35 1.35 0 1 0 -2.70 0M578.9 96.5a1.35 1.35 0 1 0 2.70 0a1.35 1.35 0 1 0 -2.70 0M580.8 96.5a1.35 1.35 0 1 0 2.70 0a1.35 1.35 0 1 0 -2.70 0M577.4 96.6a1.35 1.35 0 1 0 2.70 0a1.35 1.35 0 1 0 -2.70 0M591.8 96.6a1.35 1.35 0 1 0 2.70 0a1.35 1.35 0 1 0 -2.70 0M579.0 96.6a1.35 1.35 0 1 0 2.70 0a1.35 1.35 0 1 0 -2.70 0M590.7 96.7a1.35 1.35 0 1 0 2.70 0a1.35 1.35 0 1 0 -2.70 0M579.7 96.7a1.35 1.35 0 1 0 2.70 0a1.35 1.35 0 1 0 -2.70 0M570.8 96.7a1.35 1.35 0 1 0 2.70 0a1.35 1.35 0 1 0 -2.70 0M584.0 96.8a1.35 1.35 0 1 0 2.70 0a1.35 1.35 0 1 0 -2.70 0M572.4 96.8a1.35 1.35 0 1 0 2.70 0a1.35 1.35 0 1 0 -2.70 0M583.3 96.9a1.35 1.35 0 1 0 2.70 0a1.35 1.35 0 1 0 -2.70 0M588.4 96.9a1.35 1.35 0 1 0 2.70 0a1.35 1.35 0 1 0 -2.70 0M578.7 96.9a1.35 1.35 0 1 0 2.70 0a1.35 1.35 0 1 0 -2.70 0M586.1 96.9a1.35 1.35 0 1 0 2.70 0a1.35 1.35 0 1 0 -2.70 0M582.7 97.0a1.35 1.35 0 1 0 2.70 0a1.35 1.35 0 1 0 -2.70 0M583.7 97.1a1.35 1.35 0 1 0 2.70 0a1.35 1.35 0 1 0 -2.70 0M574.3 97.1a1.35 1.35 0 1 0 2.70 0a1.35 1.35 0 1 0 -2.70 0M578.3 97.1a1.35 1.35 0 1 0 2.70 0a1.35 1.35 0 1 0 -2.70 0M574.1 97.1a1.35 1.35 0 1 0 2.70 0a1.35 1.35 0 1 0 -2.70 0M574.4 97.1a1.35 1.35 0 1 0 2.70 0a1.35 1.35 0 1 0 -2.70 0M587.7 97.1a1.35 1.35 0 1 0 2.70 0a1.35 1.35 0 1 0 -2.70 0M585.4 97.2a1.35 1.35 0 1 0 2.70 0a1.35 1.35 0 1 0 -2.70 0M576.5 97.3a1.35 1.35 0 1 0 2.70 0a1.35 1.35 0 1 0 -2.70 0M576.4 97.3a1.35 1.35 0 1 0 2.70 0a1.35 1.35 0 1 0 -2.70 0M570.6 97.3a1.35 1.35 0 1 0 2.70 0a1.35 1.35 0 1 0 -2.70 0M582.3 97.3a1.35 1.35 0 1 0 2.70 0a1.35 1.35 0 1 0 -2.70 0M582.2 97.4a1.35 1.35 0 1 0 2.70 0a1.35 1.35 0 1 0 -2.70 0M572.7 97.5a1.35 1.35 0 1 0 2.70 0a1.35 1.35 0 1 0 -2.70 0M575.2 97.5a1.35 1.35 0 1 0 2.70 0a1.35 1.35 0 1 0 -2.70 0M587.4 97.5a1.35 1.35 0 1 0 2.70 0a1.35 1.35 0 1 0 -2.70 0M578.2 97.6a1.35 1.35 0 1 0 2.70 0a1.35 1.35 0 1 0 -2.70 0M589.2 97.6a1.35 1.35 0 1 0 2.70 0a1.35 1.35 0 1 0 -2.70 0M573.5 97.7a1.35 1.35 0 1 0 2.70 0a1.35 1.35 0 1 0 -2.70 0M569.9 97.7a1.35 1.35 0 1 0 2.70 0a1.35 1.35 0 1 0 -2.70 0M591.4 97.7a1.35 1.35 0 1 0 2.70 0a1.35 1.35 0 1 0 -2.70 0M572.8 97.7a1.35 1.35 0 1 0 2.70 0a1.35 1.35 0 1 0 -2.70 0M579.3 97.7a1.35 1.35 0 1 0 2.70 0a1.35 1.35 0 1 0 -2.70 0M573.4 97.8a1.35 1.35 0 1 0 2.70 0a1.35 1.35 0 1 0 -2.70 0M572.1 97.8a1.35 1.35 0 1 0 2.70 0a1.35 1.35 0 1 0 -2.70 0M573.4 97.8a1.35 1.35 0 1 0 2.70 0a1.35 1.35 0 1 0 -2.70 0M585.9 97.8a1.35 1.35 0 1 0 2.70 0a1.35 1.35 0 1 0 -2.70 0M571.0 97.9a1.35 1.35 0 1 0 2.70 0a1.35 1.35 0 1 0 -2.70 0M580.8 98.0a1.35 1.35 0 1 0 2.70 0a1.35 1.35 0 1 0 -2.70 0M590.8 98.0a1.35 1.35 0 1 0 2.70 0a1.35 1.35 0 1 0 -2.70 0M586.9 98.0a1.35 1.35 0 1 0 2.70 0a1.35 1.35 0 1 0 -2.70 0M584.2 98.0a1.35 1.35 0 1 0 2.70 0a1.35 1.35 0 1 0 -2.70 0M578.6 98.1a1.35 1.35 0 1 0 2.70 0a1.35 1.35 0 1 0 -2.70 0M588.3 98.1a1.35 1.35 0 1 0 2.70 0a1.35 1.35 0 1 0 -2.70 0M580.6 98.2a1.35 1.35 0 1 0 2.70 0a1.35 1.35 0 1 0 -2.70 0M572.4 98.2a1.35 1.35 0 1 0 2.70 0a1.35 1.35 0 1 0 -2.70 0M583.4 98.2a1.35 1.35 0 1 0 2.70 0a1.35 1.35 0 1 0 -2.70 0M582.4 98.2a1.35 1.35 0 1 0 2.70 0a1.35 1.35 0 1 0 -2.70 0M574.3 98.2a1.35 1.35 0 1 0 2.70 0a1.35 1.35 0 1 0 -2.70 0M582.7 98.2a1.35 1.35 0 1 0 2.70 0a1.35 1.35 0 1 0 -2.70 0M574.5 98.3a1.35 1.35 0 1 0 2.70 0a1.35 1.35 0 1 0 -2.70 0M578.9 98.3a1.35 1.35 0 1 0 2.70 0a1.35 1.35 0 1 0 -2.70 0M573.9 98.3a1.35 1.35 0 1 0 2.70 0a1.35 1.35 0 1 0 -2.70 0M574.2 98.3a1.35 1.35 0 1 0 2.70 0a1.35 1.35 0 1 0 -2.70 0M581.6 98.3a1.35 1.35 0 1 0 2.70 0a1.35 1.35 0 1 0 -2.70 0M589.6 98.3a1.35 1.35 0 1 0 2.70 0a1.35 1.35 0 1 0 -2.70 0M577.8 98.4a1.35 1.35 0 1 0 2.70 0a1.35 1.35 0 1 0 -2.70 0M571.9 98.4a1.35 1.35 0 1 0 2.70 0a1.35 1.35 0 1 0 -2.70 0M587.8 98.4a1.35 1.35 0 1 0 2.70 0a1.35 1.35 0 1 0 -2.70 0M577.7 98.4a1.35 1.35 0 1 0 2.70 0a1.35 1.35 0 1 0 -2.70 0M571.5 98.5a1.35 1.35 0 1 0 2.70 0a1.35 1.35 0 1 0 -2.70 0M576.7 98.5a1.35 1.35 0 1 0 2.70 0a1.35 1.35 0 1 0 -2.70 0M582.4 98.5a1.35 1.35 0 1 0 2.70 0a1.35 1.35 0 1 0 -2.70 0M584.5 98.5a1.35 1.35 0 1 0 2.70 0a1.35 1.35 0 1 0 -2.70 0M584.3 98.5a1.35 1.35 0 1 0 2.70 0a1.35 1.35 0 1 0 -2.70 0M588.9 98.5a1.35 1.35 0 1 0 2.70 0a1.35 1.35 0 1 0 -2.70 0M578.1 98.5a1.35 1.35 0 1 0 2.70 0a1.35 1.35 0 1 0 -2.70 0M583.3 98.5a1.35 1.35 0 1 0 2.70 0a1.35 1.35 0 1 0 -2.70 0M580.1 98.6a1.35 1.35 0 1 0 2.70 0a1.35 1.35 0 1 0 -2.70 0M579.4 98.6a1.35 1.35 0 1 0 2.70 0a1.35 1.35 0 1 0 -2.70 0M579.0 98.7a1.35 1.35 0 1 0 2.70 0a1.35 1.35 0 1 0 -2.70 0M588.0 98.7a1.35 1.35 0 1 0 2.70 0a1.35 1.35 0 1 0 -2.70 0M576.0 98.7a1.35 1.35 0 1 0 2.70 0a1.35 1.35 0 1 0 -2.70 0M571.9 98.7a1.35 1.35 0 1 0 2.70 0a1.35 1.35 0 1 0 -2.70 0M580.2 98.8a1.35 1.35 0 1 0 2.70 0a1.35 1.35 0 1 0 -2.70 0M574.5 98.8a1.35 1.35 0 1 0 2.70 0a1.35 1.35 0 1 0 -2.70 0M586.0 98.8a1.35 1.35 0 1 0 2.70 0a1.35 1.35 0 1 0 -2.70 0M574.0 98.8a1.35 1.35 0 1 0 2.70 0a1.35 1.35 0 1 0 -2.70 0M579.7 98.8a1.35 1.35 0 1 0 2.70 0a1.35 1.35 0 1 0 -2.70 0M580.8 98.8a1.35 1.35 0 1 0 2.70 0a1.35 1.35 0 1 0 -2.70 0M577.7 98.8a1.35 1.35 0 1 0 2.70 0a1.35 1.35 0 1 0 -2.70 0M586.0 98.8a1.35 1.35 0 1 0 2.70 0a1.35 1.35 0 1 0 -2.70 0M580.4 98.8a1.35 1.35 0 1 0 2.70 0a1.35 1.35 0 1 0 -2.70 0M570.9 98.9a1.35 1.35 0 1 0 2.70 0a1.35 1.35 0 1 0 -2.70 0M571.1 98.9a1.35 1.35 0 1 0 2.70 0a1.35 1.35 0 1 0 -2.70 0M572.4 98.9a1.35 1.35 0 1 0 2.70 0a1.35 1.35 0 1 0 -2.70 0M574.5 99.0a1.35 1.35 0 1 0 2.70 0a1.35 1.35 0 1 0 -2.70 0M577.9 99.1a1.35 1.35 0 1 0 2.70 0a1.35 1.35 0 1 0 -2.70 0M585.1 99.1a1.35 1.35 0 1 0 2.70 0a1.35 1.35 0 1 0 -2.70 0M580.3 99.2a1.35 1.35 0 1 0 2.70 0a1.35 1.35 0 1 0 -2.70 0M586.5 99.3a1.35 1.35 0 1 0 2.70 0a1.35 1.35 0 1 0 -2.70 0M585.8 99.3a1.35 1.35 0 1 0 2.70 0a1.35 1.35 0 1 0 -2.70 0M584.2 99.3a1.35 1.35 0 1 0 2.70 0a1.35 1.35 0 1 0 -2.70 0M581.6 99.3a1.35 1.35 0 1 0 2.70 0a1.35 1.35 0 1 0 -2.70 0M582.0 99.3a1.35 1.35 0 1 0 2.70 0a1.35 1.35 0 1 0 -2.70 0M573.3 99.3a1.35 1.35 0 1 0 2.70 0a1.35 1.35 0 1 0 -2.70 0M579.3 99.5a1.35 1.35 0 1 0 2.70 0a1.35 1.35 0 1 0 -2.70 0M590.0 99.5a1.35 1.35 0 1 0 2.70 0a1.35 1.35 0 1 0 -2.70 0M589.5 99.5a1.35 1.35 0 1 0 2.70 0a1.35 1.35 0 1 0 -2.70 0M574.0 99.6a1.35 1.35 0 1 0 2.70 0a1.35 1.35 0 1 0 -2.70 0M575.0 99.6a1.35 1.35 0 1 0 2.70 0a1.35 1.35 0 1 0 -2.70 0M574.3 99.6a1.35 1.35 0 1 0 2.70 0a1.35 1.35 0 1 0 -2.70 0M572.6 99.7a1.35 1.35 0 1 0 2.70 0a1.35 1.35 0 1 0 -2.70 0M573.6 99.7a1.35 1.35 0 1 0 2.70 0a1.35 1.35 0 1 0 -2.70 0M592.6 99.7a1.35 1.35 0 1 0 2.70 0a1.35 1.35 0 1 0 -2.70 0M572.6 99.7a1.35 1.35 0 1 0 2.70 0a1.35 1.35 0 1 0 -2.70 0M582.7 99.8a1.35 1.35 0 1 0 2.70 0a1.35 1.35 0 1 0 -2.70 0M587.1 99.8a1.35 1.35 0 1 0 2.70 0a1.35 1.35 0 1 0 -2.70 0M582.3 99.8a1.35 1.35 0 1 0 2.70 0a1.35 1.35 0 1 0 -2.70 0M576.3 99.9a1.35 1.35 0 1 0 2.70 0a1.35 1.35 0 1 0 -2.70 0M577.0 99.9a1.35 1.35 0 1 0 2.70 0a1.35 1.35 0 1 0 -2.70 0M582.0 100.0a1.35 1.35 0 1 0 2.70 0a1.35 1.35 0 1 0 -2.70 0M579.2 100.0a1.35 1.35 0 1 0 2.70 0a1.35 1.35 0 1 0 -2.70 0M572.1 100.0a1.35 1.35 0 1 0 2.70 0a1.35 1.35 0 1 0 -2.70 0M576.3 100.1a1.35 1.35 0 1 0 2.70 0a1.35 1.35 0 1 0 -2.70 0M588.4 100.2a1.35 1.35 0 1 0 2.70 0a1.35 1.35 0 1 0 -2.70 0M570.8 100.2a1.35 1.35 0 1 0 2.70 0a1.35 1.35 0 1 0 -2.70 0M585.4 100.2a1.35 1.35 0 1 0 2.70 0a1.35 1.35 0 1 0 -2.70 0M585.7 100.2a1.35 1.35 0 1 0 2.70 0a1.35 1.35 0 1 0 -2.70 0M586.4 100.3a1.35 1.35 0 1 0 2.70 0a1.35 1.35 0 1 0 -2.70 0M580.2 100.3a1.35 1.35 0 1 0 2.70 0a1.35 1.35 0 1 0 -2.70 0M572.2 100.3a1.35 1.35 0 1 0 2.70 0a1.35 1.35 0 1 0 -2.70 0M583.8 100.4a1.35 1.35 0 1 0 2.70 0a1.35 1.35 0 1 0 -2.70 0M569.7 100.4a1.35 1.35 0 1 0 2.70 0a1.35 1.35 0 1 0 -2.70 0M580.5 100.4a1.35 1.35 0 1 0 2.70 0a1.35 1.35 0 1 0 -2.70 0M586.4 100.5a1.35 1.35 0 1 0 2.70 0a1.35 1.35 0 1 0 -2.70 0M582.3 100.5a1.35 1.35 0 1 0 2.70 0a1.35 1.35 0 1 0 -2.70 0M572.5 100.6a1.35 1.35 0 1 0 2.70 0a1.35 1.35 0 1 0 -2.70 0M570.9 100.6a1.35 1.35 0 1 0 2.70 0a1.35 1.35 0 1 0 -2.70 0M587.3 100.7a1.35 1.35 0 1 0 2.70 0a1.35 1.35 0 1 0 -2.70 0M572.0 100.7a1.35 1.35 0 1 0 2.70 0a1.35 1.35 0 1 0 -2.70 0M579.8 100.8a1.35 1.35 0 1 0 2.70 0a1.35 1.35 0 1 0 -2.70 0M579.3 100.8a1.35 1.35 0 1 0 2.70 0a1.35 1.35 0 1 0 -2.70 0M572.5 100.8a1.35 1.35 0 1 0 2.70 0a1.35 1.35 0 1 0 -2.70 0M581.6 100.8a1.35 1.35 0 1 0 2.70 0a1.35 1.35 0 1 0 -2.70 0M584.6 100.9a1.35 1.35 0 1 0 2.70 0a1.35 1.35 0 1 0 -2.70 0M584.6 100.9a1.35 1.35 0 1 0 2.70 0a1.35 1.35 0 1 0 -2.70 0M575.1 100.9a1.35 1.35 0 1 0 2.70 0a1.35 1.35 0 1 0 -2.70 0M579.4 100.9a1.35 1.35 0 1 0 2.70 0a1.35 1.35 0 1 0 -2.70 0M581.5 101.0a1.35 1.35 0 1 0 2.70 0a1.35 1.35 0 1 0 -2.70 0M570.1 101.0a1.35 1.35 0 1 0 2.70 0a1.35 1.35 0 1 0 -2.70 0M580.1 101.0a1.35 1.35 0 1 0 2.70 0a1.35 1.35 0 1 0 -2.70 0M587.8 101.1a1.35 1.35 0 1 0 2.70 0a1.35 1.35 0 1 0 -2.70 0M585.3 101.1a1.35 1.35 0 1 0 2.70 0a1.35 1.35 0 1 0 -2.70 0M573.5 101.2a1.35 1.35 0 1 0 2.70 0a1.35 1.35 0 1 0 -2.70 0M583.4 101.3a1.35 1.35 0 1 0 2.70 0a1.35 1.35 0 1 0 -2.70 0M583.3 101.3a1.35 1.35 0 1 0 2.70 0a1.35 1.35 0 1 0 -2.70 0M577.5 101.3a1.35 1.35 0 1 0 2.70 0a1.35 1.35 0 1 0 -2.70 0M584.0 101.4a1.35 1.35 0 1 0 2.70 0a1.35 1.35 0 1 0 -2.70 0M575.9 101.4a1.35 1.35 0 1 0 2.70 0a1.35 1.35 0 1 0 -2.70 0M586.8 101.4a1.35 1.35 0 1 0 2.70 0a1.35 1.35 0 1 0 -2.70 0M581.6 101.5a1.35 1.35 0 1 0 2.70 0a1.35 1.35 0 1 0 -2.70 0M572.8 101.5a1.35 1.35 0 1 0 2.70 0a1.35 1.35 0 1 0 -2.70 0M579.9 101.5a1.35 1.35 0 1 0 2.70 0a1.35 1.35 0 1 0 -2.70 0M571.3 101.6a1.35 1.35 0 1 0 2.70 0a1.35 1.35 0 1 0 -2.70 0M576.4 101.7a1.35 1.35 0 1 0 2.70 0a1.35 1.35 0 1 0 -2.70 0M587.9 101.7a1.35 1.35 0 1 0 2.70 0a1.35 1.35 0 1 0 -2.70 0M585.7 101.7a1.35 1.35 0 1 0 2.70 0a1.35 1.35 0 1 0 -2.70 0M571.7 101.8a1.35 1.35 0 1 0 2.70 0a1.35 1.35 0 1 0 -2.70 0M572.5 101.8a1.35 1.35 0 1 0 2.70 0a1.35 1.35 0 1 0 -2.70 0M578.0 101.8a1.35 1.35 0 1 0 2.70 0a1.35 1.35 0 1 0 -2.70 0M572.0 101.9a1.35 1.35 0 1 0 2.70 0a1.35 1.35 0 1 0 -2.70 0M574.2 102.0a1.35 1.35 0 1 0 2.70 0a1.35 1.35 0 1 0 -2.70 0M573.6 102.0a1.35 1.35 0 1 0 2.70 0a1.35 1.35 0 1 0 -2.70 0M575.6 102.1a1.35 1.35 0 1 0 2.70 0a1.35 1.35 0 1 0 -2.70 0M576.4 102.1a1.35 1.35 0 1 0 2.70 0a1.35 1.35 0 1 0 -2.70 0M570.2 102.1a1.35 1.35 0 1 0 2.70 0a1.35 1.35 0 1 0 -2.70 0M575.9 102.2a1.35 1.35 0 1 0 2.70 0a1.35 1.35 0 1 0 -2.70 0M572.7 102.2a1.35 1.35 0 1 0 2.70 0a1.35 1.35 0 1 0 -2.70 0M574.4 102.3a1.35 1.35 0 1 0 2.70 0a1.35 1.35 0 1 0 -2.70 0M575.6 102.3a1.35 1.35 0 1 0 2.70 0a1.35 1.35 0 1 0 -2.70 0M586.6 102.4a1.35 1.35 0 1 0 2.70 0a1.35 1.35 0 1 0 -2.70 0M580.0 102.4a1.35 1.35 0 1 0 2.70 0a1.35 1.35 0 1 0 -2.70 0M582.2 102.4a1.35 1.35 0 1 0 2.70 0a1.35 1.35 0 1 0 -2.70 0M570.8 102.5a1.35 1.35 0 1 0 2.70 0a1.35 1.35 0 1 0 -2.70 0M574.5 102.5a1.35 1.35 0 1 0 2.70 0a1.35 1.35 0 1 0 -2.70 0M569.6 102.5a1.35 1.35 0 1 0 2.70 0a1.35 1.35 0 1 0 -2.70 0M572.2 102.6a1.35 1.35 0 1 0 2.70 0a1.35 1.35 0 1 0 -2.70 0M577.3 102.6a1.35 1.35 0 1 0 2.70 0a1.35 1.35 0 1 0 -2.70 0M577.4 102.6a1.35 1.35 0 1 0 2.70 0a1.35 1.35 0 1 0 -2.70 0M584.0 102.7a1.35 1.35 0 1 0 2.70 0a1.35 1.35 0 1 0 -2.70 0M574.0 102.7a1.35 1.35 0 1 0 2.70 0a1.35 1.35 0 1 0 -2.70 0M574.8 102.7a1.35 1.35 0 1 0 2.70 0a1.35 1.35 0 1 0 -2.70 0M573.2 102.8a1.35 1.35 0 1 0 2.70 0a1.35 1.35 0 1 0 -2.70 0M557.5 102.8a1.35 1.35 0 1 0 2.70 0a1.35 1.35 0 1 0 -2.70 0M576.0 102.8a1.35 1.35 0 1 0 2.70 0a1.35 1.35 0 1 0 -2.70 0M561.2 102.8a1.35 1.35 0 1 0 2.70 0a1.35 1.35 0 1 0 -2.70 0M582.2 102.8a1.35 1.35 0 1 0 2.70 0a1.35 1.35 0 1 0 -2.70 0M577.1 102.8a1.35 1.35 0 1 0 2.70 0a1.35 1.35 0 1 0 -2.70 0M587.2 102.8a1.35 1.35 0 1 0 2.70 0a1.35 1.35 0 1 0 -2.70 0M557.2 102.8a1.35 1.35 0 1 0 2.70 0a1.35 1.35 0 1 0 -2.70 0M579.1 102.9a1.35 1.35 0 1 0 2.70 0a1.35 1.35 0 1 0 -2.70 0M585.8 102.9a1.35 1.35 0 1 0 2.70 0a1.35 1.35 0 1 0 -2.70 0M582.7 102.9a1.35 1.35 0 1 0 2.70 0a1.35 1.35 0 1 0 -2.70 0M559.3 102.9a1.35 1.35 0 1 0 2.70 0a1.35 1.35 0 1 0 -2.70 0M578.0 102.9a1.35 1.35 0 1 0 2.70 0a1.35 1.35 0 1 0 -2.70 0M572.2 103.0a1.35 1.35 0 1 0 2.70 0a1.35 1.35 0 1 0 -2.70 0M571.2 103.0a1.35 1.35 0 1 0 2.70 0a1.35 1.35 0 1 0 -2.70 0M578.8 103.0a1.35 1.35 0 1 0 2.70 0a1.35 1.35 0 1 0 -2.70 0M559.5 103.0a1.35 1.35 0 1 0 2.70 0a1.35 1.35 0 1 0 -2.70 0M559.6 103.0a1.35 1.35 0 1 0 2.70 0a1.35 1.35 0 1 0 -2.70 0M563.7 103.0a1.35 1.35 0 1 0 2.70 0a1.35 1.35 0 1 0 -2.70 0M574.0 103.1a1.35 1.35 0 1 0 2.70 0a1.35 1.35 0 1 0 -2.70 0M589.4 103.1a1.35 1.35 0 1 0 2.70 0a1.35 1.35 0 1 0 -2.70 0M582.3 103.1a1.35 1.35 0 1 0 2.70 0a1.35 1.35 0 1 0 -2.70 0M589.1 103.1a1.35 1.35 0 1 0 2.70 0a1.35 1.35 0 1 0 -2.70 0M555.2 103.2a1.35 1.35 0 1 0 2.70 0a1.35 1.35 0 1 0 -2.70 0M560.7 103.2a1.35 1.35 0 1 0 2.70 0a1.35 1.35 0 1 0 -2.70 0M576.4 103.2a1.35 1.35 0 1 0 2.70 0a1.35 1.35 0 1 0 -2.70 0M584.0 103.2a1.35 1.35 0 1 0 2.70 0a1.35 1.35 0 1 0 -2.70 0M581.4 103.3a1.35 1.35 0 1 0 2.70 0a1.35 1.35 0 1 0 -2.70 0M558.6 103.3a1.35 1.35 0 1 0 2.70 0a1.35 1.35 0 1 0 -2.70 0M578.8 103.3a1.35 1.35 0 1 0 2.70 0a1.35 1.35 0 1 0 -2.70 0M573.2 103.4a1.35 1.35 0 1 0 2.70 0a1.35 1.35 0 1 0 -2.70 0M582.4 103.4a1.35 1.35 0 1 0 2.70 0a1.35 1.35 0 1 0 -2.70 0M578.4 103.4a1.35 1.35 0 1 0 2.70 0a1.35 1.35 0 1 0 -2.70 0M563.5 103.4a1.35 1.35 0 1 0 2.70 0a1.35 1.35 0 1 0 -2.70 0M582.9 103.5a1.35 1.35 0 1 0 2.70 0a1.35 1.35 0 1 0 -2.70 0M584.3 103.5a1.35 1.35 0 1 0 2.70 0a1.35 1.35 0 1 0 -2.70 0M558.8 103.5a1.35 1.35 0 1 0 2.70 0a1.35 1.35 0 1 0 -2.70 0M574.4 103.5a1.35 1.35 0 1 0 2.70 0a1.35 1.35 0 1 0 -2.70 0M578.7 103.5a1.35 1.35 0 1 0 2.70 0a1.35 1.35 0 1 0 -2.70 0M570.6 103.6a1.35 1.35 0 1 0 2.70 0a1.35 1.35 0 1 0 -2.70 0M569.6 103.6a1.35 1.35 0 1 0 2.70 0a1.35 1.35 0 1 0 -2.70 0M576.1 103.6a1.35 1.35 0 1 0 2.70 0a1.35 1.35 0 1 0 -2.70 0M587.5 103.6a1.35 1.35 0 1 0 2.70 0a1.35 1.35 0 1 0 -2.70 0M573.7 103.7a1.35 1.35 0 1 0 2.70 0a1.35 1.35 0 1 0 -2.70 0M557.3 103.7a1.35 1.35 0 1 0 2.70 0a1.35 1.35 0 1 0 -2.70 0M556.7 103.7a1.35 1.35 0 1 0 2.70 0a1.35 1.35 0 1 0 -2.70 0M559.6 103.8a1.35 1.35 0 1 0 2.70 0a1.35 1.35 0 1 0 -2.70 0M584.3 103.9a1.35 1.35 0 1 0 2.70 0a1.35 1.35 0 1 0 -2.70 0M573.2 103.9a1.35 1.35 0 1 0 2.70 0a1.35 1.35 0 1 0 -2.70 0M577.3 103.9a1.35 1.35 0 1 0 2.70 0a1.35 1.35 0 1 0 -2.70 0M582.7 103.9a1.35 1.35 0 1 0 2.70 0a1.35 1.35 0 1 0 -2.70 0M583.0 104.0a1.35 1.35 0 1 0 2.70 0a1.35 1.35 0 1 0 -2.70 0M564.7 104.0a1.35 1.35 0 1 0 2.70 0a1.35 1.35 0 1 0 -2.70 0M564.7 104.1a1.35 1.35 0 1 0 2.70 0a1.35 1.35 0 1 0 -2.70 0M562.9 104.1a1.35 1.35 0 1 0 2.70 0a1.35 1.35 0 1 0 -2.70 0M577.2 104.1a1.35 1.35 0 1 0 2.70 0a1.35 1.35 0 1 0 -2.70 0M586.7 104.1a1.35 1.35 0 1 0 2.70 0a1.35 1.35 0 1 0 -2.70 0M573.0 104.1a1.35 1.35 0 1 0 2.70 0a1.35 1.35 0 1 0 -2.70 0M575.1 104.1a1.35 1.35 0 1 0 2.70 0a1.35 1.35 0 1 0 -2.70 0M554.0 104.1a1.35 1.35 0 1 0 2.70 0a1.35 1.35 0 1 0 -2.70 0M572.3 104.2a1.35 1.35 0 1 0 2.70 0a1.35 1.35 0 1 0 -2.70 0M556.5 104.2a1.35 1.35 0 1 0 2.70 0a1.35 1.35 0 1 0 -2.70 0M561.2 104.2a1.35 1.35 0 1 0 2.70 0a1.35 1.35 0 1 0 -2.70 0M582.1 104.3a1.35 1.35 0 1 0 2.70 0a1.35 1.35 0 1 0 -2.70 0M560.2 104.3a1.35 1.35 0 1 0 2.70 0a1.35 1.35 0 1 0 -2.70 0M571.6 104.3a1.35 1.35 0 1 0 2.70 0a1.35 1.35 0 1 0 -2.70 0M585.0 104.3a1.35 1.35 0 1 0 2.70 0a1.35 1.35 0 1 0 -2.70 0M583.5 104.3a1.35 1.35 0 1 0 2.70 0a1.35 1.35 0 1 0 -2.70 0M555.9 104.3a1.35 1.35 0 1 0 2.70 0a1.35 1.35 0 1 0 -2.70 0M565.8 104.3a1.35 1.35 0 1 0 2.70 0a1.35 1.35 0 1 0 -2.70 0M562.0 104.3a1.35 1.35 0 1 0 2.70 0a1.35 1.35 0 1 0 -2.70 0M569.6 104.4a1.35 1.35 0 1 0 2.70 0a1.35 1.35 0 1 0 -2.70 0M579.8 104.4a1.35 1.35 0 1 0 2.70 0a1.35 1.35 0 1 0 -2.70 0M562.0 104.4a1.35 1.35 0 1 0 2.70 0a1.35 1.35 0 1 0 -2.70 0M575.1 104.4a1.35 1.35 0 1 0 2.70 0a1.35 1.35 0 1 0 -2.70 0M580.0 104.4a1.35 1.35 0 1 0 2.70 0a1.35 1.35 0 1 0 -2.70 0M580.8 104.4a1.35 1.35 0 1 0 2.70 0a1.35 1.35 0 1 0 -2.70 0M583.3 104.5a1.35 1.35 0 1 0 2.70 0a1.35 1.35 0 1 0 -2.70 0M581.6 104.5a1.35 1.35 0 1 0 2.70 0a1.35 1.35 0 1 0 -2.70 0M563.4 104.5a1.35 1.35 0 1 0 2.70 0a1.35 1.35 0 1 0 -2.70 0M570.3 104.6a1.35 1.35 0 1 0 2.70 0a1.35 1.35 0 1 0 -2.70 0M586.3 104.6a1.35 1.35 0 1 0 2.70 0a1.35 1.35 0 1 0 -2.70 0M576.6 104.6a1.35 1.35 0 1 0 2.70 0a1.35 1.35 0 1 0 -2.70 0M557.5 104.6a1.35 1.35 0 1 0 2.70 0a1.35 1.35 0 1 0 -2.70 0M581.4 104.6a1.35 1.35 0 1 0 2.70 0a1.35 1.35 0 1 0 -2.70 0M589.2 104.7a1.35 1.35 0 1 0 2.70 0a1.35 1.35 0 1 0 -2.70 0M574.6 104.7a1.35 1.35 0 1 0 2.70 0a1.35 1.35 0 1 0 -2.70 0M580.3 104.7a1.35 1.35 0 1 0 2.70 0a1.35 1.35 0 1 0 -2.70 0M554.4 104.7a1.35 1.35 0 1 0 2.70 0a1.35 1.35 0 1 0 -2.70 0M587.8 104.7a1.35 1.35 0 1 0 2.70 0a1.35 1.35 0 1 0 -2.70 0M578.1 104.8a1.35 1.35 0 1 0 2.70 0a1.35 1.35 0 1 0 -2.70 0M556.1 104.9a1.35 1.35 0 1 0 2.70 0a1.35 1.35 0 1 0 -2.70 0M579.1 104.9a1.35 1.35 0 1 0 2.70 0a1.35 1.35 0 1 0 -2.70 0M578.8 104.9a1.35 1.35 0 1 0 2.70 0a1.35 1.35 0 1 0 -2.70 0M575.4 104.9a1.35 1.35 0 1 0 2.70 0a1.35 1.35 0 1 0 -2.70 0M559.8 105.0a1.35 1.35 0 1 0 2.70 0a1.35 1.35 0 1 0 -2.70 0M580.9 105.0a1.35 1.35 0 1 0 2.70 0a1.35 1.35 0 1 0 -2.70 0M558.6 105.0a1.35 1.35 0 1 0 2.70 0a1.35 1.35 0 1 0 -2.70 0M558.9 105.0a1.35 1.35 0 1 0 2.70 0a1.35 1.35 0 1 0 -2.70 0M560.1 105.0a1.35 1.35 0 1 0 2.70 0a1.35 1.35 0 1 0 -2.70 0M578.2 105.1a1.35 1.35 0 1 0 2.70 0a1.35 1.35 0 1 0 -2.70 0M585.6 105.1a1.35 1.35 0 1 0 2.70 0a1.35 1.35 0 1 0 -2.70 0M584.8 105.1a1.35 1.35 0 1 0 2.70 0a1.35 1.35 0 1 0 -2.70 0M586.6 105.1a1.35 1.35 0 1 0 2.70 0a1.35 1.35 0 1 0 -2.70 0M570.3 105.1a1.35 1.35 0 1 0 2.70 0a1.35 1.35 0 1 0 -2.70 0M557.0 105.1a1.35 1.35 0 1 0 2.70 0a1.35 1.35 0 1 0 -2.70 0M557.6 105.2a1.35 1.35 0 1 0 2.70 0a1.35 1.35 0 1 0 -2.70 0M558.9 105.2a1.35 1.35 0 1 0 2.70 0a1.35 1.35 0 1 0 -2.70 0M586.5 105.2a1.35 1.35 0 1 0 2.70 0a1.35 1.35 0 1 0 -2.70 0M574.7 105.2a1.35 1.35 0 1 0 2.70 0a1.35 1.35 0 1 0 -2.70 0M572.8 105.3a1.35 1.35 0 1 0 2.70 0a1.35 1.35 0 1 0 -2.70 0M557.8 105.3a1.35 1.35 0 1 0 2.70 0a1.35 1.35 0 1 0 -2.70 0M555.4 105.3a1.35 1.35 0 1 0 2.70 0a1.35 1.35 0 1 0 -2.70 0M558.6 105.3a1.35 1.35 0 1 0 2.70 0a1.35 1.35 0 1 0 -2.70 0M563.1 105.3a1.35 1.35 0 1 0 2.70 0a1.35 1.35 0 1 0 -2.70 0M560.1 105.4a1.35 1.35 0 1 0 2.70 0a1.35 1.35 0 1 0 -2.70 0M570.8 105.5a1.35 1.35 0 1 0 2.70 0a1.35 1.35 0 1 0 -2.70 0M555.4 105.5a1.35 1.35 0 1 0 2.70 0a1.35 1.35 0 1 0 -2.70 0M562.5 105.5a1.35 1.35 0 1 0 2.70 0a1.35 1.35 0 1 0 -2.70 0M573.6 105.5a1.35 1.35 0 1 0 2.70 0a1.35 1.35 0 1 0 -2.70 0M584.0 105.6a1.35 1.35 0 1 0 2.70 0a1.35 1.35 0 1 0 -2.70 0M585.0 105.7a1.35 1.35 0 1 0 2.70 0a1.35 1.35 0 1 0 -2.70 0M579.8 105.7a1.35 1.35 0 1 0 2.70 0a1.35 1.35 0 1 0 -2.70 0M585.1 105.8a1.35 1.35 0 1 0 2.70 0a1.35 1.35 0 1 0 -2.70 0M559.7 105.8a1.35 1.35 0 1 0 2.70 0a1.35 1.35 0 1 0 -2.70 0M586.8 105.8a1.35 1.35 0 1 0 2.70 0a1.35 1.35 0 1 0 -2.70 0M583.1 105.9a1.35 1.35 0 1 0 2.70 0a1.35 1.35 0 1 0 -2.70 0M570.4 105.9a1.35 1.35 0 1 0 2.70 0a1.35 1.35 0 1 0 -2.70 0M558.2 105.9a1.35 1.35 0 1 0 2.70 0a1.35 1.35 0 1 0 -2.70 0M558.9 105.9a1.35 1.35 0 1 0 2.70 0a1.35 1.35 0 1 0 -2.70 0M561.8 106.0a1.35 1.35 0 1 0 2.70 0a1.35 1.35 0 1 0 -2.70 0M584.0 106.0a1.35 1.35 0 1 0 2.70 0a1.35 1.35 0 1 0 -2.70 0M579.5 106.0a1.35 1.35 0 1 0 2.70 0a1.35 1.35 0 1 0 -2.70 0M562.8 106.1a1.35 1.35 0 1 0 2.70 0a1.35 1.35 0 1 0 -2.70 0M560.2 106.1a1.35 1.35 0 1 0 2.70 0a1.35 1.35 0 1 0 -2.70 0M569.1 106.1a1.35 1.35 0 1 0 2.70 0a1.35 1.35 0 1 0 -2.70 0M561.3 106.1a1.35 1.35 0 1 0 2.70 0a1.35 1.35 0 1 0 -2.70 0M556.9 106.1a1.35 1.35 0 1 0 2.70 0a1.35 1.35 0 1 0 -2.70 0M555.4 106.1a1.35 1.35 0 1 0 2.70 0a1.35 1.35 0 1 0 -2.70 0M556.6 106.1a1.35 1.35 0 1 0 2.70 0a1.35 1.35 0 1 0 -2.70 0M578.3 106.2a1.35 1.35 0 1 0 2.70 0a1.35 1.35 0 1 0 -2.70 0M585.3 106.2a1.35 1.35 0 1 0 2.70 0a1.35 1.35 0 1 0 -2.70 0M583.5 106.2a1.35 1.35 0 1 0 2.70 0a1.35 1.35 0 1 0 -2.70 0M557.6 106.2a1.35 1.35 0 1 0 2.70 0a1.35 1.35 0 1 0 -2.70 0M562.7 106.2a1.35 1.35 0 1 0 2.70 0a1.35 1.35 0 1 0 -2.70 0M574.5 106.2a1.35 1.35 0 1 0 2.70 0a1.35 1.35 0 1 0 -2.70 0M585.7 106.2a1.35 1.35 0 1 0 2.70 0a1.35 1.35 0 1 0 -2.70 0M580.1 106.3a1.35 1.35 0 1 0 2.70 0a1.35 1.35 0 1 0 -2.70 0M584.5 106.3a1.35 1.35 0 1 0 2.70 0a1.35 1.35 0 1 0 -2.70 0M576.8 106.3a1.35 1.35 0 1 0 2.70 0a1.35 1.35 0 1 0 -2.70 0M562.1 106.4a1.35 1.35 0 1 0 2.70 0a1.35 1.35 0 1 0 -2.70 0M564.5 106.4a1.35 1.35 0 1 0 2.70 0a1.35 1.35 0 1 0 -2.70 0M582.3 106.4a1.35 1.35 0 1 0 2.70 0a1.35 1.35 0 1 0 -2.70 0M570.8 106.4a1.35 1.35 0 1 0 2.70 0a1.35 1.35 0 1 0 -2.70 0M562.0 106.5a1.35 1.35 0 1 0 2.70 0a1.35 1.35 0 1 0 -2.70 0M578.0 106.5a1.35 1.35 0 1 0 2.70 0a1.35 1.35 0 1 0 -2.70 0M586.8 106.5a1.35 1.35 0 1 0 2.70 0a1.35 1.35 0 1 0 -2.70 0M579.4 106.5a1.35 1.35 0 1 0 2.70 0a1.35 1.35 0 1 0 -2.70 0M588.5 106.6a1.35 1.35 0 1 0 2.70 0a1.35 1.35 0 1 0 -2.70 0M573.0 106.6a1.35 1.35 0 1 0 2.70 0a1.35 1.35 0 1 0 -2.70 0M579.9 106.7a1.35 1.35 0 1 0 2.70 0a1.35 1.35 0 1 0 -2.70 0M570.2 106.7a1.35 1.35 0 1 0 2.70 0a1.35 1.35 0 1 0 -2.70 0M578.8 106.7a1.35 1.35 0 1 0 2.70 0a1.35 1.35 0 1 0 -2.70 0M558.3 106.8a1.35 1.35 0 1 0 2.70 0a1.35 1.35 0 1 0 -2.70 0M584.6 106.8a1.35 1.35 0 1 0 2.70 0a1.35 1.35 0 1 0 -2.70 0M582.4 106.8a1.35 1.35 0 1 0 2.70 0a1.35 1.35 0 1 0 -2.70 0M562.9 106.8a1.35 1.35 0 1 0 2.70 0a1.35 1.35 0 1 0 -2.70 0M564.4 106.9a1.35 1.35 0 1 0 2.70 0a1.35 1.35 0 1 0 -2.70 0M564.3 106.9a1.35 1.35 0 1 0 2.70 0a1.35 1.35 0 1 0 -2.70 0M571.0 106.9a1.35 1.35 0 1 0 2.70 0a1.35 1.35 0 1 0 -2.70 0M588.6 107.0a1.35 1.35 0 1 0 2.70 0a1.35 1.35 0 1 0 -2.70 0M580.3 107.0a1.35 1.35 0 1 0 2.70 0a1.35 1.35 0 1 0 -2.70 0M562.0 107.0a1.35 1.35 0 1 0 2.70 0a1.35 1.35 0 1 0 -2.70 0M576.9 107.0a1.35 1.35 0 1 0 2.70 0a1.35 1.35 0 1 0 -2.70 0M582.3 107.1a1.35 1.35 0 1 0 2.70 0a1.35 1.35 0 1 0 -2.70 0M573.3 107.1a1.35 1.35 0 1 0 2.70 0a1.35 1.35 0 1 0 -2.70 0M585.7 107.1a1.35 1.35 0 1 0 2.70 0a1.35 1.35 0 1 0 -2.70 0M587.1 107.2a1.35 1.35 0 1 0 2.70 0a1.35 1.35 0 1 0 -2.70 0M583.8 107.2a1.35 1.35 0 1 0 2.70 0a1.35 1.35 0 1 0 -2.70 0M579.0 107.2a1.35 1.35 0 1 0 2.70 0a1.35 1.35 0 1 0 -2.70 0M557.2 107.2a1.35 1.35 0 1 0 2.70 0a1.35 1.35 0 1 0 -2.70 0M559.3 107.3a1.35 1.35 0 1 0 2.70 0a1.35 1.35 0 1 0 -2.70 0M572.9 107.4a1.35 1.35 0 1 0 2.70 0a1.35 1.35 0 1 0 -2.70 0M580.7 107.4a1.35 1.35 0 1 0 2.70 0a1.35 1.35 0 1 0 -2.70 0M569.1 107.4a1.35 1.35 0 1 0 2.70 0a1.35 1.35 0 1 0 -2.70 0M586.1 107.4a1.35 1.35 0 1 0 2.70 0a1.35 1.35 0 1 0 -2.70 0M571.4 107.4a1.35 1.35 0 1 0 2.70 0a1.35 1.35 0 1 0 -2.70 0M576.4 107.4a1.35 1.35 0 1 0 2.70 0a1.35 1.35 0 1 0 -2.70 0M563.1 107.4a1.35 1.35 0 1 0 2.70 0a1.35 1.35 0 1 0 -2.70 0M560.2 107.4a1.35 1.35 0 1 0 2.70 0a1.35 1.35 0 1 0 -2.70 0M578.8 107.5a1.35 1.35 0 1 0 2.70 0a1.35 1.35 0 1 0 -2.70 0M581.1 107.5a1.35 1.35 0 1 0 2.70 0a1.35 1.35 0 1 0 -2.70 0M565.8 107.5a1.35 1.35 0 1 0 2.70 0a1.35 1.35 0 1 0 -2.70 0M577.2 107.5a1.35 1.35 0 1 0 2.70 0a1.35 1.35 0 1 0 -2.70 0M583.0 107.5a1.35 1.35 0 1 0 2.70 0a1.35 1.35 0 1 0 -2.70 0M575.5 107.6a1.35 1.35 0 1 0 2.70 0a1.35 1.35 0 1 0 -2.70 0M557.0 107.6a1.35 1.35 0 1 0 2.70 0a1.35 1.35 0 1 0 -2.70 0M572.9 107.6a1.35 1.35 0 1 0 2.70 0a1.35 1.35 0 1 0 -2.70 0M582.1 107.6a1.35 1.35 0 1 0 2.70 0a1.35 1.35 0 1 0 -2.70 0M574.4 107.6a1.35 1.35 0 1 0 2.70 0a1.35 1.35 0 1 0 -2.70 0M557.2 107.6a1.35 1.35 0 1 0 2.70 0a1.35 1.35 0 1 0 -2.70 0M582.7 107.7a1.35 1.35 0 1 0 2.70 0a1.35 1.35 0 1 0 -2.70 0M575.6 107.7a1.35 1.35 0 1 0 2.70 0a1.35 1.35 0 1 0 -2.70 0M578.7 107.7a1.35 1.35 0 1 0 2.70 0a1.35 1.35 0 1 0 -2.70 0M570.3 107.7a1.35 1.35 0 1 0 2.70 0a1.35 1.35 0 1 0 -2.70 0M561.9 107.7a1.35 1.35 0 1 0 2.70 0a1.35 1.35 0 1 0 -2.70 0M570.5 107.8a1.35 1.35 0 1 0 2.70 0a1.35 1.35 0 1 0 -2.70 0M581.8 107.8a1.35 1.35 0 1 0 2.70 0a1.35 1.35 0 1 0 -2.70 0M580.9 107.8a1.35 1.35 0 1 0 2.70 0a1.35 1.35 0 1 0 -2.70 0M573.2 107.8a1.35 1.35 0 1 0 2.70 0a1.35 1.35 0 1 0 -2.70 0M564.5 107.8a1.35 1.35 0 1 0 2.70 0a1.35 1.35 0 1 0 -2.70 0M577.3 107.8a1.35 1.35 0 1 0 2.70 0a1.35 1.35 0 1 0 -2.70 0M565.2 107.8a1.35 1.35 0 1 0 2.70 0a1.35 1.35 0 1 0 -2.70 0M571.9 107.9a1.35 1.35 0 1 0 2.70 0a1.35 1.35 0 1 0 -2.70 0M584.2 107.9a1.35 1.35 0 1 0 2.70 0a1.35 1.35 0 1 0 -2.70 0M564.0 107.9a1.35 1.35 0 1 0 2.70 0a1.35 1.35 0 1 0 -2.70 0M569.4 108.0a1.35 1.35 0 1 0 2.70 0a1.35 1.35 0 1 0 -2.70 0M588.6 108.0a1.35 1.35 0 1 0 2.70 0a1.35 1.35 0 1 0 -2.70 0M586.4 108.0a1.35 1.35 0 1 0 2.70 0a1.35 1.35 0 1 0 -2.70 0M558.3 108.0a1.35 1.35 0 1 0 2.70 0a1.35 1.35 0 1 0 -2.70 0M574.5 108.0a1.35 1.35 0 1 0 2.70 0a1.35 1.35 0 1 0 -2.70 0M584.8 108.1a1.35 1.35 0 1 0 2.70 0a1.35 1.35 0 1 0 -2.70 0M586.0 108.1a1.35 1.35 0 1 0 2.70 0a1.35 1.35 0 1 0 -2.70 0M572.3 108.1a1.35 1.35 0 1 0 2.70 0a1.35 1.35 0 1 0 -2.70 0M572.7 108.1a1.35 1.35 0 1 0 2.70 0a1.35 1.35 0 1 0 -2.70 0M565.5 108.2a1.35 1.35 0 1 0 2.70 0a1.35 1.35 0 1 0 -2.70 0M558.5 108.3a1.35 1.35 0 1 0 2.70 0a1.35 1.35 0 1 0 -2.70 0M575.4 108.3a1.35 1.35 0 1 0 2.70 0a1.35 1.35 0 1 0 -2.70 0M583.6 108.3a1.35 1.35 0 1 0 2.70 0a1.35 1.35 0 1 0 -2.70 0M561.2 108.3a1.35 1.35 0 1 0 2.70 0a1.35 1.35 0 1 0 -2.70 0M557.1 108.4a1.35 1.35 0 1 0 2.70 0a1.35 1.35 0 1 0 -2.70 0M569.4 108.5a1.35 1.35 0 1 0 2.70 0a1.35 1.35 0 1 0 -2.70 0M587.0 108.5a1.35 1.35 0 1 0 2.70 0a1.35 1.35 0 1 0 -2.70 0M581.3 108.5a1.35 1.35 0 1 0 2.70 0a1.35 1.35 0 1 0 -2.70 0M573.2 108.6a1.35 1.35 0 1 0 2.70 0a1.35 1.35 0 1 0 -2.70 0M574.3 108.6a1.35 1.35 0 1 0 2.70 0a1.35 1.35 0 1 0 -2.70 0M571.8 108.6a1.35 1.35 0 1 0 2.70 0a1.35 1.35 0 1 0 -2.70 0M571.6 108.7a1.35 1.35 0 1 0 2.70 0a1.35 1.35 0 1 0 -2.70 0M562.6 108.7a1.35 1.35 0 1 0 2.70 0a1.35 1.35 0 1 0 -2.70 0M554.3 108.7a1.35 1.35 0 1 0 2.70 0a1.35 1.35 0 1 0 -2.70 0M584.9 108.8a1.35 1.35 0 1 0 2.70 0a1.35 1.35 0 1 0 -2.70 0M563.6 108.8a1.35 1.35 0 1 0 2.70 0a1.35 1.35 0 1 0 -2.70 0M583.8 108.8a1.35 1.35 0 1 0 2.70 0a1.35 1.35 0 1 0 -2.70 0M585.3 108.8a1.35 1.35 0 1 0 2.70 0a1.35 1.35 0 1 0 -2.70 0M577.3 108.8a1.35 1.35 0 1 0 2.70 0a1.35 1.35 0 1 0 -2.70 0M579.9 108.9a1.35 1.35 0 1 0 2.70 0a1.35 1.35 0 1 0 -2.70 0M578.5 108.9a1.35 1.35 0 1 0 2.70 0a1.35 1.35 0 1 0 -2.70 0M560.5 108.9a1.35 1.35 0 1 0 2.70 0a1.35 1.35 0 1 0 -2.70 0M564.6 108.9a1.35 1.35 0 1 0 2.70 0a1.35 1.35 0 1 0 -2.70 0M568.0 108.9a1.35 1.35 0 1 0 2.70 0a1.35 1.35 0 1 0 -2.70 0M564.0 108.9a1.35 1.35 0 1 0 2.70 0a1.35 1.35 0 1 0 -2.70 0M561.9 108.9a1.35 1.35 0 1 0 2.70 0a1.35 1.35 0 1 0 -2.70 0M576.7 108.9a1.35 1.35 0 1 0 2.70 0a1.35 1.35 0 1 0 -2.70 0M568.5 109.0a1.35 1.35 0 1 0 2.70 0a1.35 1.35 0 1 0 -2.70 0M561.6 109.1a1.35 1.35 0 1 0 2.70 0a1.35 1.35 0 1 0 -2.70 0M579.0 109.1a1.35 1.35 0 1 0 2.70 0a1.35 1.35 0 1 0 -2.70 0M556.3 109.1a1.35 1.35 0 1 0 2.70 0a1.35 1.35 0 1 0 -2.70 0M584.1 109.1a1.35 1.35 0 1 0 2.70 0a1.35 1.35 0 1 0 -2.70 0M573.5 109.1a1.35 1.35 0 1 0 2.70 0a1.35 1.35 0 1 0 -2.70 0M571.2 109.1a1.35 1.35 0 1 0 2.70 0a1.35 1.35 0 1 0 -2.70 0M581.2 109.1a1.35 1.35 0 1 0 2.70 0a1.35 1.35 0 1 0 -2.70 0M575.9 109.2a1.35 1.35 0 1 0 2.70 0a1.35 1.35 0 1 0 -2.70 0M559.5 109.2a1.35 1.35 0 1 0 2.70 0a1.35 1.35 0 1 0 -2.70 0M560.1 109.2a1.35 1.35 0 1 0 2.70 0a1.35 1.35 0 1 0 -2.70 0M577.0 109.2a1.35 1.35 0 1 0 2.70 0a1.35 1.35 0 1 0 -2.70 0M575.1 109.3a1.35 1.35 0 1 0 2.70 0a1.35 1.35 0 1 0 -2.70 0M588.0 109.3a1.35 1.35 0 1 0 2.70 0a1.35 1.35 0 1 0 -2.70 0M561.9 109.3a1.35 1.35 0 1 0 2.70 0a1.35 1.35 0 1 0 -2.70 0M556.5 109.3a1.35 1.35 0 1 0 2.70 0a1.35 1.35 0 1 0 -2.70 0M565.6 109.3a1.35 1.35 0 1 0 2.70 0a1.35 1.35 0 1 0 -2.70 0M559.1 109.3a1.35 1.35 0 1 0 2.70 0a1.35 1.35 0 1 0 -2.70 0M572.2 109.4a1.35 1.35 0 1 0 2.70 0a1.35 1.35 0 1 0 -2.70 0M570.0 109.4a1.35 1.35 0 1 0 2.70 0a1.35 1.35 0 1 0 -2.70 0M571.7 109.4a1.35 1.35 0 1 0 2.70 0a1.35 1.35 0 1 0 -2.70 0M583.8 109.5a1.35 1.35 0 1 0 2.70 0a1.35 1.35 0 1 0 -2.70 0M554.7 109.5a1.35 1.35 0 1 0 2.70 0a1.35 1.35 0 1 0 -2.70 0M585.5 109.5a1.35 1.35 0 1 0 2.70 0a1.35 1.35 0 1 0 -2.70 0M580.2 109.5a1.35 1.35 0 1 0 2.70 0a1.35 1.35 0 1 0 -2.70 0M575.6 109.5a1.35 1.35 0 1 0 2.70 0a1.35 1.35 0 1 0 -2.70 0M562.7 109.5a1.35 1.35 0 1 0 2.70 0a1.35 1.35 0 1 0 -2.70 0M589.0 109.6a1.35 1.35 0 1 0 2.70 0a1.35 1.35 0 1 0 -2.70 0M555.3 109.6a1.35 1.35 0 1 0 2.70 0a1.35 1.35 0 1 0 -2.70 0M577.7 109.6a1.35 1.35 0 1 0 2.70 0a1.35 1.35 0 1 0 -2.70 0M562.7 109.6a1.35 1.35 0 1 0 2.70 0a1.35 1.35 0 1 0 -2.70 0M584.0 109.6a1.35 1.35 0 1 0 2.70 0a1.35 1.35 0 1 0 -2.70 0M571.8 109.6a1.35 1.35 0 1 0 2.70 0a1.35 1.35 0 1 0 -2.70 0M558.5 109.7a1.35 1.35 0 1 0 2.70 0a1.35 1.35 0 1 0 -2.70 0M584.9 109.7a1.35 1.35 0 1 0 2.70 0a1.35 1.35 0 1 0 -2.70 0M579.7 109.7a1.35 1.35 0 1 0 2.70 0a1.35 1.35 0 1 0 -2.70 0M578.6 109.8a1.35 1.35 0 1 0 2.70 0a1.35 1.35 0 1 0 -2.70 0M583.7 109.8a1.35 1.35 0 1 0 2.70 0a1.35 1.35 0 1 0 -2.70 0M557.3 109.8a1.35 1.35 0 1 0 2.70 0a1.35 1.35 0 1 0 -2.70 0M558.5 109.8a1.35 1.35 0 1 0 2.70 0a1.35 1.35 0 1 0 -2.70 0M576.7 109.8a1.35 1.35 0 1 0 2.70 0a1.35 1.35 0 1 0 -2.70 0M557.9 109.8a1.35 1.35 0 1 0 2.70 0a1.35 1.35 0 1 0 -2.70 0M570.1 109.9a1.35 1.35 0 1 0 2.70 0a1.35 1.35 0 1 0 -2.70 0M569.1 109.9a1.35 1.35 0 1 0 2.70 0a1.35 1.35 0 1 0 -2.70 0M583.8 109.9a1.35 1.35 0 1 0 2.70 0a1.35 1.35 0 1 0 -2.70 0M560.2 109.9a1.35 1.35 0 1 0 2.70 0a1.35 1.35 0 1 0 -2.70 0M581.9 109.9a1.35 1.35 0 1 0 2.70 0a1.35 1.35 0 1 0 -2.70 0M572.2 110.0a1.35 1.35 0 1 0 2.70 0a1.35 1.35 0 1 0 -2.70 0M588.1 110.0a1.35 1.35 0 1 0 2.70 0a1.35 1.35 0 1 0 -2.70 0M576.4 110.0a1.35 1.35 0 1 0 2.70 0a1.35 1.35 0 1 0 -2.70 0M587.1 110.0a1.35 1.35 0 1 0 2.70 0a1.35 1.35 0 1 0 -2.70 0M585.4 110.0a1.35 1.35 0 1 0 2.70 0a1.35 1.35 0 1 0 -2.70 0M571.4 110.0a1.35 1.35 0 1 0 2.70 0a1.35 1.35 0 1 0 -2.70 0M579.1 110.0a1.35 1.35 0 1 0 2.70 0a1.35 1.35 0 1 0 -2.70 0M573.0 110.1a1.35 1.35 0 1 0 2.70 0a1.35 1.35 0 1 0 -2.70 0M586.1 110.1a1.35 1.35 0 1 0 2.70 0a1.35 1.35 0 1 0 -2.70 0M580.7 110.1a1.35 1.35 0 1 0 2.70 0a1.35 1.35 0 1 0 -2.70 0M569.4 110.1a1.35 1.35 0 1 0 2.70 0a1.35 1.35 0 1 0 -2.70 0M585.0 110.1a1.35 1.35 0 1 0 2.70 0a1.35 1.35 0 1 0 -2.70 0M558.0 110.1a1.35 1.35 0 1 0 2.70 0a1.35 1.35 0 1 0 -2.70 0M560.3 110.1a1.35 1.35 0 1 0 2.70 0a1.35 1.35 0 1 0 -2.70 0M577.7 110.1a1.35 1.35 0 1 0 2.70 0a1.35 1.35 0 1 0 -2.70 0M570.4 110.1a1.35 1.35 0 1 0 2.70 0a1.35 1.35 0 1 0 -2.70 0M583.8 110.2a1.35 1.35 0 1 0 2.70 0a1.35 1.35 0 1 0 -2.70 0M556.2 110.2a1.35 1.35 0 1 0 2.70 0a1.35 1.35 0 1 0 -2.70 0M579.2 110.2a1.35 1.35 0 1 0 2.70 0a1.35 1.35 0 1 0 -2.70 0M570.3 110.2a1.35 1.35 0 1 0 2.70 0a1.35 1.35 0 1 0 -2.70 0M567.0 110.2a1.35 1.35 0 1 0 2.70 0a1.35 1.35 0 1 0 -2.70 0M578.5 110.3a1.35 1.35 0 1 0 2.70 0a1.35 1.35 0 1 0 -2.70 0M574.8 110.3a1.35 1.35 0 1 0 2.70 0a1.35 1.35 0 1 0 -2.70 0M561.6 110.3a1.35 1.35 0 1 0 2.70 0a1.35 1.35 0 1 0 -2.70 0M570.7 110.4a1.35 1.35 0 1 0 2.70 0a1.35 1.35 0 1 0 -2.70 0M561.6 110.4a1.35 1.35 0 1 0 2.70 0a1.35 1.35 0 1 0 -2.70 0M571.9 110.4a1.35 1.35 0 1 0 2.70 0a1.35 1.35 0 1 0 -2.70 0M573.9 110.4a1.35 1.35 0 1 0 2.70 0a1.35 1.35 0 1 0 -2.70 0M577.9 110.4a1.35 1.35 0 1 0 2.70 0a1.35 1.35 0 1 0 -2.70 0M585.5 110.4a1.35 1.35 0 1 0 2.70 0a1.35 1.35 0 1 0 -2.70 0M562.1 110.5a1.35 1.35 0 1 0 2.70 0a1.35 1.35 0 1 0 -2.70 0M558.7 110.5a1.35 1.35 0 1 0 2.70 0a1.35 1.35 0 1 0 -2.70 0M570.6 110.6a1.35 1.35 0 1 0 2.70 0a1.35 1.35 0 1 0 -2.70 0M579.2 110.6a1.35 1.35 0 1 0 2.70 0a1.35 1.35 0 1 0 -2.70 0M567.2 110.7a1.35 1.35 0 1 0 2.70 0a1.35 1.35 0 1 0 -2.70 0M583.6 110.7a1.35 1.35 0 1 0 2.70 0a1.35 1.35 0 1 0 -2.70 0M556.4 110.7a1.35 1.35 0 1 0 2.70 0a1.35 1.35 0 1 0 -2.70 0M580.2 110.8a1.35 1.35 0 1 0 2.70 0a1.35 1.35 0 1 0 -2.70 0M584.5 110.8a1.35 1.35 0 1 0 2.70 0a1.35 1.35 0 1 0 -2.70 0M562.3 110.8a1.35 1.35 0 1 0 2.70 0a1.35 1.35 0 1 0 -2.70 0M583.6 110.9a1.35 1.35 0 1 0 2.70 0a1.35 1.35 0 1 0 -2.70 0M558.3 110.9a1.35 1.35 0 1 0 2.70 0a1.35 1.35 0 1 0 -2.70 0M578.7 110.9a1.35 1.35 0 1 0 2.70 0a1.35 1.35 0 1 0 -2.70 0M583.5 110.9a1.35 1.35 0 1 0 2.70 0a1.35 1.35 0 1 0 -2.70 0M572.8 111.0a1.35 1.35 0 1 0 2.70 0a1.35 1.35 0 1 0 -2.70 0M564.1 111.0a1.35 1.35 0 1 0 2.70 0a1.35 1.35 0 1 0 -2.70 0M564.0 111.1a1.35 1.35 0 1 0 2.70 0a1.35 1.35 0 1 0 -2.70 0M584.9 111.1a1.35 1.35 0 1 0 2.70 0a1.35 1.35 0 1 0 -2.70 0M579.4 111.1a1.35 1.35 0 1 0 2.70 0a1.35 1.35 0 1 0 -2.70 0M585.0 111.2a1.35 1.35 0 1 0 2.70 0a1.35 1.35 0 1 0 -2.70 0M556.0 111.2a1.35 1.35 0 1 0 2.70 0a1.35 1.35 0 1 0 -2.70 0M581.4 111.2a1.35 1.35 0 1 0 2.70 0a1.35 1.35 0 1 0 -2.70 0M571.8 111.2a1.35 1.35 0 1 0 2.70 0a1.35 1.35 0 1 0 -2.70 0M561.1 111.2a1.35 1.35 0 1 0 2.70 0a1.35 1.35 0 1 0 -2.70 0M573.9 111.3a1.35 1.35 0 1 0 2.70 0a1.35 1.35 0 1 0 -2.70 0M559.2 111.4a1.35 1.35 0 1 0 2.70 0a1.35 1.35 0 1 0 -2.70 0M561.8 111.4a1.35 1.35 0 1 0 2.70 0a1.35 1.35 0 1 0 -2.70 0M576.1 111.4a1.35 1.35 0 1 0 2.70 0a1.35 1.35 0 1 0 -2.70 0M560.5 111.4a1.35 1.35 0 1 0 2.70 0a1.35 1.35 0 1 0 -2.70 0M557.6 111.4a1.35 1.35 0 1 0 2.70 0a1.35 1.35 0 1 0 -2.70 0M572.6 111.5a1.35 1.35 0 1 0 2.70 0a1.35 1.35 0 1 0 -2.70 0M586.9 111.5a1.35 1.35 0 1 0 2.70 0a1.35 1.35 0 1 0 -2.70 0M576.8 111.5a1.35 1.35 0 1 0 2.70 0a1.35 1.35 0 1 0 -2.70 0M579.8 111.6a1.35 1.35 0 1 0 2.70 0a1.35 1.35 0 1 0 -2.70 0M562.6 111.6a1.35 1.35 0 1 0 2.70 0a1.35 1.35 0 1 0 -2.70 0M572.3 111.6a1.35 1.35 0 1 0 2.70 0a1.35 1.35 0 1 0 -2.70 0M573.1 111.7a1.35 1.35 0 1 0 2.70 0a1.35 1.35 0 1 0 -2.70 0M557.3 111.7a1.35 1.35 0 1 0 2.70 0a1.35 1.35 0 1 0 -2.70 0M583.6 111.7a1.35 1.35 0 1 0 2.70 0a1.35 1.35 0 1 0 -2.70 0M556.7 111.7a1.35 1.35 0 1 0 2.70 0a1.35 1.35 0 1 0 -2.70 0M577.7 111.7a1.35 1.35 0 1 0 2.70 0a1.35 1.35 0 1 0 -2.70 0M578.8 111.7a1.35 1.35 0 1 0 2.70 0a1.35 1.35 0 1 0 -2.70 0M572.2 111.8a1.35 1.35 0 1 0 2.70 0a1.35 1.35 0 1 0 -2.70 0M584.0 111.8a1.35 1.35 0 1 0 2.70 0a1.35 1.35 0 1 0 -2.70 0M581.4 111.8a1.35 1.35 0 1 0 2.70 0a1.35 1.35 0 1 0 -2.70 0M555.5 111.9a1.35 1.35 0 1 0 2.70 0a1.35 1.35 0 1 0 -2.70 0M574.5 111.9a1.35 1.35 0 1 0 2.70 0a1.35 1.35 0 1 0 -2.70 0M571.1 111.9a1.35 1.35 0 1 0 2.70 0a1.35 1.35 0 1 0 -2.70 0M573.2 112.0a1.35 1.35 0 1 0 2.70 0a1.35 1.35 0 1 0 -2.70 0M581.1 112.0a1.35 1.35 0 1 0 2.70 0a1.35 1.35 0 1 0 -2.70 0M571.0 112.0a1.35 1.35 0 1 0 2.70 0a1.35 1.35 0 1 0 -2.70 0M578.6 112.0a1.35 1.35 0 1 0 2.70 0a1.35 1.35 0 1 0 -2.70 0M576.4 112.0a1.35 1.35 0 1 0 2.70 0a1.35 1.35 0 1 0 -2.70 0M575.9 112.0a1.35 1.35 0 1 0 2.70 0a1.35 1.35 0 1 0 -2.70 0M571.9 112.0a1.35 1.35 0 1 0 2.70 0a1.35 1.35 0 1 0 -2.70 0M555.7 112.1a1.35 1.35 0 1 0 2.70 0a1.35 1.35 0 1 0 -2.70 0M568.3 112.1a1.35 1.35 0 1 0 2.70 0a1.35 1.35 0 1 0 -2.70 0M561.3 112.1a1.35 1.35 0 1 0 2.70 0a1.35 1.35 0 1 0 -2.70 0M563.6 112.1a1.35 1.35 0 1 0 2.70 0a1.35 1.35 0 1 0 -2.70 0M570.5 112.1a1.35 1.35 0 1 0 2.70 0a1.35 1.35 0 1 0 -2.70 0M556.9 112.2a1.35 1.35 0 1 0 2.70 0a1.35 1.35 0 1 0 -2.70 0M568.7 112.2a1.35 1.35 0 1 0 2.70 0a1.35 1.35 0 1 0 -2.70 0M569.2 112.2a1.35 1.35 0 1 0 2.70 0a1.35 1.35 0 1 0 -2.70 0M565.0 112.2a1.35 1.35 0 1 0 2.70 0a1.35 1.35 0 1 0 -2.70 0M575.6 112.3a1.35 1.35 0 1 0 2.70 0a1.35 1.35 0 1 0 -2.70 0M581.1 112.3a1.35 1.35 0 1 0 2.70 0a1.35 1.35 0 1 0 -2.70 0M587.5 112.3a1.35 1.35 0 1 0 2.70 0a1.35 1.35 0 1 0 -2.70 0M581.3 112.3a1.35 1.35 0 1 0 2.70 0a1.35 1.35 0 1 0 -2.70 0M565.5 112.3a1.35 1.35 0 1 0 2.70 0a1.35 1.35 0 1 0 -2.70 0M580.8 112.4a1.35 1.35 0 1 0 2.70 0a1.35 1.35 0 1 0 -2.70 0M558.9 112.4a1.35 1.35 0 1 0 2.70 0a1.35 1.35 0 1 0 -2.70 0M576.9 112.4a1.35 1.35 0 1 0 2.70 0a1.35 1.35 0 1 0 -2.70 0M583.4 112.4a1.35 1.35 0 1 0 2.70 0a1.35 1.35 0 1 0 -2.70 0M583.0 112.5a1.35 1.35 0 1 0 2.70 0a1.35 1.35 0 1 0 -2.70 0M561.3 112.5a1.35 1.35 0 1 0 2.70 0a1.35 1.35 0 1 0 -2.70 0M577.5 112.5a1.35 1.35 0 1 0 2.70 0a1.35 1.35 0 1 0 -2.70 0M568.9 112.5a1.35 1.35 0 1 0 2.70 0a1.35 1.35 0 1 0 -2.70 0M583.0 112.5a1.35 1.35 0 1 0 2.70 0a1.35 1.35 0 1 0 -2.70 0M579.0 112.6a1.35 1.35 0 1 0 2.70 0a1.35 1.35 0 1 0 -2.70 0M573.8 112.6a1.35 1.35 0 1 0 2.70 0a1.35 1.35 0 1 0 -2.70 0M564.3 112.6a1.35 1.35 0 1 0 2.70 0a1.35 1.35 0 1 0 -2.70 0M574.1 112.6a1.35 1.35 0 1 0 2.70 0a1.35 1.35 0 1 0 -2.70 0M571.5 112.7a1.35 1.35 0 1 0 2.70 0a1.35 1.35 0 1 0 -2.70 0M581.2 112.7a1.35 1.35 0 1 0 2.70 0a1.35 1.35 0 1 0 -2.70 0M582.1 112.7a1.35 1.35 0 1 0 2.70 0a1.35 1.35 0 1 0 -2.70 0M565.4 112.8a1.35 1.35 0 1 0 2.70 0a1.35 1.35 0 1 0 -2.70 0M584.8 112.8a1.35 1.35 0 1 0 2.70 0a1.35 1.35 0 1 0 -2.70 0M578.6 112.9a1.35 1.35 0 1 0 2.70 0a1.35 1.35 0 1 0 -2.70 0M580.3 113.0a1.35 1.35 0 1 0 2.70 0a1.35 1.35 0 1 0 -2.70 0M564.2 113.0a1.35 1.35 0 1 0 2.70 0a1.35 1.35 0 1 0 -2.70 0M556.6 113.0a1.35 1.35 0 1 0 2.70 0a1.35 1.35 0 1 0 -2.70 0M562.4 113.0a1.35 1.35 0 1 0 2.70 0a1.35 1.35 0 1 0 -2.70 0M572.8 113.0a1.35 1.35 0 1 0 2.70 0a1.35 1.35 0 1 0 -2.70 0M579.2 113.0a1.35 1.35 0 1 0 2.70 0a1.35 1.35 0 1 0 -2.70 0M574.2 113.1a1.35 1.35 0 1 0 2.70 0a1.35 1.35 0 1 0 -2.70 0M585.0 113.1a1.35 1.35 0 1 0 2.70 0a1.35 1.35 0 1 0 -2.70 0M565.2 113.1a1.35 1.35 0 1 0 2.70 0a1.35 1.35 0 1 0 -2.70 0M558.2 113.2a1.35 1.35 0 1 0 2.70 0a1.35 1.35 0 1 0 -2.70 0M583.3 113.2a1.35 1.35 0 1 0 2.70 0a1.35 1.35 0 1 0 -2.70 0M557.8 113.2a1.35 1.35 0 1 0 2.70 0a1.35 1.35 0 1 0 -2.70 0M575.7 113.2a1.35 1.35 0 1 0 2.70 0a1.35 1.35 0 1 0 -2.70 0M569.8 113.2a1.35 1.35 0 1 0 2.70 0a1.35 1.35 0 1 0 -2.70 0M579.6 113.2a1.35 1.35 0 1 0 2.70 0a1.35 1.35 0 1 0 -2.70 0M568.7 113.3a1.35 1.35 0 1 0 2.70 0a1.35 1.35 0 1 0 -2.70 0M583.9 113.3a1.35 1.35 0 1 0 2.70 0a1.35 1.35 0 1 0 -2.70 0M572.2 113.3a1.35 1.35 0 1 0 2.70 0a1.35 1.35 0 1 0 -2.70 0M562.1 113.3a1.35 1.35 0 1 0 2.70 0a1.35 1.35 0 1 0 -2.70 0M583.1 113.3a1.35 1.35 0 1 0 2.70 0a1.35 1.35 0 1 0 -2.70 0M571.3 113.3a1.35 1.35 0 1 0 2.70 0a1.35 1.35 0 1 0 -2.70 0M583.8 113.4a1.35 1.35 0 1 0 2.70 0a1.35 1.35 0 1 0 -2.70 0M567.6 113.4a1.35 1.35 0 1 0 2.70 0a1.35 1.35 0 1 0 -2.70 0M571.6 113.4a1.35 1.35 0 1 0 2.70 0a1.35 1.35 0 1 0 -2.70 0M562.7 113.5a1.35 1.35 0 1 0 2.70 0a1.35 1.35 0 1 0 -2.70 0M568.7 113.5a1.35 1.35 0 1 0 2.70 0a1.35 1.35 0 1 0 -2.70 0M566.5 113.5a1.35 1.35 0 1 0 2.70 0a1.35 1.35 0 1 0 -2.70 0M570.8 113.5a1.35 1.35 0 1 0 2.70 0a1.35 1.35 0 1 0 -2.70 0M579.4 113.6a1.35 1.35 0 1 0 2.70 0a1.35 1.35 0 1 0 -2.70 0M557.1 113.6a1.35 1.35 0 1 0 2.70 0a1.35 1.35 0 1 0 -2.70 0M576.7 113.6a1.35 1.35 0 1 0 2.70 0a1.35 1.35 0 1 0 -2.70 0M562.7 113.6a1.35 1.35 0 1 0 2.70 0a1.35 1.35 0 1 0 -2.70 0M582.8 113.6a1.35 1.35 0 1 0 2.70 0a1.35 1.35 0 1 0 -2.70 0M565.1 113.6a1.35 1.35 0 1 0 2.70 0a1.35 1.35 0 1 0 -2.70 0M584.7 113.7a1.35 1.35 0 1 0 2.70 0a1.35 1.35 0 1 0 -2.70 0M574.7 113.7a1.35 1.35 0 1 0 2.70 0a1.35 1.35 0 1 0 -2.70 0M575.2 113.7a1.35 1.35 0 1 0 2.70 0a1.35 1.35 0 1 0 -2.70 0M583.8 113.7a1.35 1.35 0 1 0 2.70 0a1.35 1.35 0 1 0 -2.70 0M568.5 113.7a1.35 1.35 0 1 0 2.70 0a1.35 1.35 0 1 0 -2.70 0M577.9 113.7a1.35 1.35 0 1 0 2.70 0a1.35 1.35 0 1 0 -2.70 0M569.6 113.7a1.35 1.35 0 1 0 2.70 0a1.35 1.35 0 1 0 -2.70 0M570.1 113.7a1.35 1.35 0 1 0 2.70 0a1.35 1.35 0 1 0 -2.70 0M566.6 113.8a1.35 1.35 0 1 0 2.70 0a1.35 1.35 0 1 0 -2.70 0M575.8 113.8a1.35 1.35 0 1 0 2.70 0a1.35 1.35 0 1 0 -2.70 0M580.8 113.8a1.35 1.35 0 1 0 2.70 0a1.35 1.35 0 1 0 -2.70 0M561.8 113.8a1.35 1.35 0 1 0 2.70 0a1.35 1.35 0 1 0 -2.70 0M566.1 113.8a1.35 1.35 0 1 0 2.70 0a1.35 1.35 0 1 0 -2.70 0M567.8 113.8a1.35 1.35 0 1 0 2.70 0a1.35 1.35 0 1 0 -2.70 0M578.1 113.9a1.35 1.35 0 1 0 2.70 0a1.35 1.35 0 1 0 -2.70 0M560.1 113.9a1.35 1.35 0 1 0 2.70 0a1.35 1.35 0 1 0 -2.70 0M571.1 113.9a1.35 1.35 0 1 0 2.70 0a1.35 1.35 0 1 0 -2.70 0M582.8 114.0a1.35 1.35 0 1 0 2.70 0a1.35 1.35 0 1 0 -2.70 0M578.5 114.0a1.35 1.35 0 1 0 2.70 0a1.35 1.35 0 1 0 -2.70 0M579.4 114.0a1.35 1.35 0 1 0 2.70 0a1.35 1.35 0 1 0 -2.70 0M557.2 114.0a1.35 1.35 0 1 0 2.70 0a1.35 1.35 0 1 0 -2.70 0M560.0 114.0a1.35 1.35 0 1 0 2.70 0a1.35 1.35 0 1 0 -2.70 0M573.0 114.0a1.35 1.35 0 1 0 2.70 0a1.35 1.35 0 1 0 -2.70 0M565.8 114.0a1.35 1.35 0 1 0 2.70 0a1.35 1.35 0 1 0 -2.70 0M585.0 114.0a1.35 1.35 0 1 0 2.70 0a1.35 1.35 0 1 0 -2.70 0M571.0 114.1a1.35 1.35 0 1 0 2.70 0a1.35 1.35 0 1 0 -2.70 0M577.2 114.2a1.35 1.35 0 1 0 2.70 0a1.35 1.35 0 1 0 -2.70 0M585.5 114.2a1.35 1.35 0 1 0 2.70 0a1.35 1.35 0 1 0 -2.70 0M560.5 114.2a1.35 1.35 0 1 0 2.70 0a1.35 1.35 0 1 0 -2.70 0M558.2 114.3a1.35 1.35 0 1 0 2.70 0a1.35 1.35 0 1 0 -2.70 0M581.5 114.3a1.35 1.35 0 1 0 2.70 0a1.35 1.35 0 1 0 -2.70 0M569.3 114.3a1.35 1.35 0 1 0 2.70 0a1.35 1.35 0 1 0 -2.70 0M580.9 114.3a1.35 1.35 0 1 0 2.70 0a1.35 1.35 0 1 0 -2.70 0M585.8 114.4a1.35 1.35 0 1 0 2.70 0a1.35 1.35 0 1 0 -2.70 0M569.0 114.4a1.35 1.35 0 1 0 2.70 0a1.35 1.35 0 1 0 -2.70 0M559.4 114.5a1.35 1.35 0 1 0 2.70 0a1.35 1.35 0 1 0 -2.70 0M565.0 114.5a1.35 1.35 0 1 0 2.70 0a1.35 1.35 0 1 0 -2.70 0M561.9 114.5a1.35 1.35 0 1 0 2.70 0a1.35 1.35 0 1 0 -2.70 0M563.0 114.6a1.35 1.35 0 1 0 2.70 0a1.35 1.35 0 1 0 -2.70 0M581.6 114.6a1.35 1.35 0 1 0 2.70 0a1.35 1.35 0 1 0 -2.70 0M570.0 114.6a1.35 1.35 0 1 0 2.70 0a1.35 1.35 0 1 0 -2.70 0M572.6 114.6a1.35 1.35 0 1 0 2.70 0a1.35 1.35 0 1 0 -2.70 0M564.2 114.7a1.35 1.35 0 1 0 2.70 0a1.35 1.35 0 1 0 -2.70 0M576.3 114.7a1.35 1.35 0 1 0 2.70 0a1.35 1.35 0 1 0 -2.70 0M561.9 114.7a1.35 1.35 0 1 0 2.70 0a1.35 1.35 0 1 0 -2.70 0M583.4 114.7a1.35 1.35 0 1 0 2.70 0a1.35 1.35 0 1 0 -2.70 0M583.6 114.7a1.35 1.35 0 1 0 2.70 0a1.35 1.35 0 1 0 -2.70 0M582.0 114.7a1.35 1.35 0 1 0 2.70 0a1.35 1.35 0 1 0 -2.70 0M565.4 114.8a1.35 1.35 0 1 0 2.70 0a1.35 1.35 0 1 0 -2.70 0M568.9 114.8a1.35 1.35 0 1 0 2.70 0a1.35 1.35 0 1 0 -2.70 0M574.5 114.9a1.35 1.35 0 1 0 2.70 0a1.35 1.35 0 1 0 -2.70 0M570.0 114.9a1.35 1.35 0 1 0 2.70 0a1.35 1.35 0 1 0 -2.70 0M584.9 114.9a1.35 1.35 0 1 0 2.70 0a1.35 1.35 0 1 0 -2.70 0M567.4 114.9a1.35 1.35 0 1 0 2.70 0a1.35 1.35 0 1 0 -2.70 0M566.8 115.0a1.35 1.35 0 1 0 2.70 0a1.35 1.35 0 1 0 -2.70 0M572.2 115.0a1.35 1.35 0 1 0 2.70 0a1.35 1.35 0 1 0 -2.70 0M569.7 115.0a1.35 1.35 0 1 0 2.70 0a1.35 1.35 0 1 0 -2.70 0M555.8 115.0a1.35 1.35 0 1 0 2.70 0a1.35 1.35 0 1 0 -2.70 0M571.4 115.0a1.35 1.35 0 1 0 2.70 0a1.35 1.35 0 1 0 -2.70 0M586.5 115.1a1.35 1.35 0 1 0 2.70 0a1.35 1.35 0 1 0 -2.70 0M571.6 115.1a1.35 1.35 0 1 0 2.70 0a1.35 1.35 0 1 0 -2.70 0M562.6 115.1a1.35 1.35 0 1 0 2.70 0a1.35 1.35 0 1 0 -2.70 0M568.9 115.1a1.35 1.35 0 1 0 2.70 0a1.35 1.35 0 1 0 -2.70 0M563.0 115.1a1.35 1.35 0 1 0 2.70 0a1.35 1.35 0 1 0 -2.70 0M575.2 115.1a1.35 1.35 0 1 0 2.70 0a1.35 1.35 0 1 0 -2.70 0M567.5 115.1a1.35 1.35 0 1 0 2.70 0a1.35 1.35 0 1 0 -2.70 0M578.0 115.2a1.35 1.35 0 1 0 2.70 0a1.35 1.35 0 1 0 -2.70 0M564.0 115.2a1.35 1.35 0 1 0 2.70 0a1.35 1.35 0 1 0 -2.70 0M583.6 115.2a1.35 1.35 0 1 0 2.70 0a1.35 1.35 0 1 0 -2.70 0M568.2 115.3a1.35 1.35 0 1 0 2.70 0a1.35 1.35 0 1 0 -2.70 0M568.2 115.3a1.35 1.35 0 1 0 2.70 0a1.35 1.35 0 1 0 -2.70 0M575.2 115.3a1.35 1.35 0 1 0 2.70 0a1.35 1.35 0 1 0 -2.70 0M575.0 115.4a1.35 1.35 0 1 0 2.70 0a1.35 1.35 0 1 0 -2.70 0M558.2 115.4a1.35 1.35 0 1 0 2.70 0a1.35 1.35 0 1 0 -2.70 0M568.7 115.4a1.35 1.35 0 1 0 2.70 0a1.35 1.35 0 1 0 -2.70 0M568.3 115.4a1.35 1.35 0 1 0 2.70 0a1.35 1.35 0 1 0 -2.70 0M578.8 115.4a1.35 1.35 0 1 0 2.70 0a1.35 1.35 0 1 0 -2.70 0M563.9 115.4a1.35 1.35 0 1 0 2.70 0a1.35 1.35 0 1 0 -2.70 0M555.9 115.4a1.35 1.35 0 1 0 2.70 0a1.35 1.35 0 1 0 -2.70 0M575.6 115.5a1.35 1.35 0 1 0 2.70 0a1.35 1.35 0 1 0 -2.70 0M561.3 115.5a1.35 1.35 0 1 0 2.70 0a1.35 1.35 0 1 0 -2.70 0M574.9 115.6a1.35 1.35 0 1 0 2.70 0a1.35 1.35 0 1 0 -2.70 0M570.6 115.6a1.35 1.35 0 1 0 2.70 0a1.35 1.35 0 1 0 -2.70 0M571.4 115.6a1.35 1.35 0 1 0 2.70 0a1.35 1.35 0 1 0 -2.70 0M566.2 115.7a1.35 1.35 0 1 0 2.70 0a1.35 1.35 0 1 0 -2.70 0M581.9 115.7a1.35 1.35 0 1 0 2.70 0a1.35 1.35 0 1 0 -2.70 0M561.5 115.7a1.35 1.35 0 1 0 2.70 0a1.35 1.35 0 1 0 -2.70 0M573.8 115.7a1.35 1.35 0 1 0 2.70 0a1.35 1.35 0 1 0 -2.70 0M565.5 115.8a1.35 1.35 0 1 0 2.70 0a1.35 1.35 0 1 0 -2.70 0M581.2 115.8a1.35 1.35 0 1 0 2.70 0a1.35 1.35 0 1 0 -2.70 0M557.0 115.8a1.35 1.35 0 1 0 2.70 0a1.35 1.35 0 1 0 -2.70 0M562.2 115.8a1.35 1.35 0 1 0 2.70 0a1.35 1.35 0 1 0 -2.70 0M579.3 115.9a1.35 1.35 0 1 0 2.70 0a1.35 1.35 0 1 0 -2.70 0M580.6 115.9a1.35 1.35 0 1 0 2.70 0a1.35 1.35 0 1 0 -2.70 0M559.5 115.9a1.35 1.35 0 1 0 2.70 0a1.35 1.35 0 1 0 -2.70 0M576.3 115.9a1.35 1.35 0 1 0 2.70 0a1.35 1.35 0 1 0 -2.70 0M560.3 115.9a1.35 1.35 0 1 0 2.70 0a1.35 1.35 0 1 0 -2.70 0M577.8 116.0a1.35 1.35 0 1 0 2.70 0a1.35 1.35 0 1 0 -2.70 0M577.1 116.0a1.35 1.35 0 1 0 2.70 0a1.35 1.35 0 1 0 -2.70 0M576.9 116.0a1.35 1.35 0 1 0 2.70 0a1.35 1.35 0 1 0 -2.70 0M583.2 116.0a1.35 1.35 0 1 0 2.70 0a1.35 1.35 0 1 0 -2.70 0M580.7 116.0a1.35 1.35 0 1 0 2.70 0a1.35 1.35 0 1 0 -2.70 0M577.5 116.0a1.35 1.35 0 1 0 2.70 0a1.35 1.35 0 1 0 -2.70 0M584.6 116.0a1.35 1.35 0 1 0 2.70 0a1.35 1.35 0 1 0 -2.70 0M568.5 116.0a1.35 1.35 0 1 0 2.70 0a1.35 1.35 0 1 0 -2.70 0M579.5 116.1a1.35 1.35 0 1 0 2.70 0a1.35 1.35 0 1 0 -2.70 0M575.6 116.1a1.35 1.35 0 1 0 2.70 0a1.35 1.35 0 1 0 -2.70 0M567.2 116.1a1.35 1.35 0 1 0 2.70 0a1.35 1.35 0 1 0 -2.70 0M577.9 116.1a1.35 1.35 0 1 0 2.70 0a1.35 1.35 0 1 0 -2.70 0M568.2 116.1a1.35 1.35 0 1 0 2.70 0a1.35 1.35 0 1 0 -2.70 0M565.0 116.1a1.35 1.35 0 1 0 2.70 0a1.35 1.35 0 1 0 -2.70 0M567.8 116.2a1.35 1.35 0 1 0 2.70 0a1.35 1.35 0 1 0 -2.70 0M580.7 116.2a1.35 1.35 0 1 0 2.70 0a1.35 1.35 0 1 0 -2.70 0M573.4 116.3a1.35 1.35 0 1 0 2.70 0a1.35 1.35 0 1 0 -2.70 0M563.3 116.3a1.35 1.35 0 1 0 2.70 0a1.35 1.35 0 1 0 -2.70 0M574.4 116.3a1.35 1.35 0 1 0 2.70 0a1.35 1.35 0 1 0 -2.70 0M569.1 116.4a1.35 1.35 0 1 0 2.70 0a1.35 1.35 0 1 0 -2.70 0M577.9 116.5a1.35 1.35 0 1 0 2.70 0a1.35 1.35 0 1 0 -2.70 0M580.2 116.5a1.35 1.35 0 1 0 2.70 0a1.35 1.35 0 1 0 -2.70 0M561.0 116.5a1.35 1.35 0 1 0 2.70 0a1.35 1.35 0 1 0 -2.70 0M583.1 116.5a1.35 1.35 0 1 0 2.70 0a1.35 1.35 0 1 0 -2.70 0M578.3 116.5a1.35 1.35 0 1 0 2.70 0a1.35 1.35 0 1 0 -2.70 0M564.3 116.6a1.35 1.35 0 1 0 2.70 0a1.35 1.35 0 1 0 -2.70 0M562.5 116.6a1.35 1.35 0 1 0 2.70 0a1.35 1.35 0 1 0 -2.70 0M560.2 116.7a1.35 1.35 0 1 0 2.70 0a1.35 1.35 0 1 0 -2.70 0M582.1 116.7a1.35 1.35 0 1 0 2.70 0a1.35 1.35 0 1 0 -2.70 0M563.4 116.7a1.35 1.35 0 1 0 2.70 0a1.35 1.35 0 1 0 -2.70 0M573.5 116.7a1.35 1.35 0 1 0 2.70 0a1.35 1.35 0 1 0 -2.70 0M559.4 116.7a1.35 1.35 0 1 0 2.70 0a1.35 1.35 0 1 0 -2.70 0M558.2 116.7a1.35 1.35 0 1 0 2.70 0a1.35 1.35 0 1 0 -2.70 0M578.0 116.7a1.35 1.35 0 1 0 2.70 0a1.35 1.35 0 1 0 -2.70 0M574.8 116.7a1.35 1.35 0 1 0 2.70 0a1.35 1.35 0 1 0 -2.70 0M576.1 116.7a1.35 1.35 0 1 0 2.70 0a1.35 1.35 0 1 0 -2.70 0M571.0 116.7a1.35 1.35 0 1 0 2.70 0a1.35 1.35 0 1 0 -2.70 0M568.4 116.8a1.35 1.35 0 1 0 2.70 0a1.35 1.35 0 1 0 -2.70 0M557.9 116.8a1.35 1.35 0 1 0 2.70 0a1.35 1.35 0 1 0 -2.70 0M580.1 116.8a1.35 1.35 0 1 0 2.70 0a1.35 1.35 0 1 0 -2.70 0M579.1 116.9a1.35 1.35 0 1 0 2.70 0a1.35 1.35 0 1 0 -2.70 0M558.5 116.9a1.35 1.35 0 1 0 2.70 0a1.35 1.35 0 1 0 -2.70 0M564.3 116.9a1.35 1.35 0 1 0 2.70 0a1.35 1.35 0 1 0 -2.70 0M570.3 116.9a1.35 1.35 0 1 0 2.70 0a1.35 1.35 0 1 0 -2.70 0M561.4 116.9a1.35 1.35 0 1 0 2.70 0a1.35 1.35 0 1 0 -2.70 0M568.9 116.9a1.35 1.35 0 1 0 2.70 0a1.35 1.35 0 1 0 -2.70 0M578.9 116.9a1.35 1.35 0 1 0 2.70 0a1.35 1.35 0 1 0 -2.70 0M566.3 116.9a1.35 1.35 0 1 0 2.70 0a1.35 1.35 0 1 0 -2.70 0M561.7 117.0a1.35 1.35 0 1 0 2.70 0a1.35 1.35 0 1 0 -2.70 0M578.7 117.0a1.35 1.35 0 1 0 2.70 0a1.35 1.35 0 1 0 -2.70 0M569.9 117.0a1.35 1.35 0 1 0 2.70 0a1.35 1.35 0 1 0 -2.70 0M565.6 117.1a1.35 1.35 0 1 0 2.70 0a1.35 1.35 0 1 0 -2.70 0M557.8 117.1a1.35 1.35 0 1 0 2.70 0a1.35 1.35 0 1 0 -2.70 0M580.9 117.1a1.35 1.35 0 1 0 2.70 0a1.35 1.35 0 1 0 -2.70 0M583.4 117.1a1.35 1.35 0 1 0 2.70 0a1.35 1.35 0 1 0 -2.70 0M582.0 117.1a1.35 1.35 0 1 0 2.70 0a1.35 1.35 0 1 0 -2.70 0M572.5 117.2a1.35 1.35 0 1 0 2.70 0a1.35 1.35 0 1 0 -2.70 0M565.5 117.2a1.35 1.35 0 1 0 2.70 0a1.35 1.35 0 1 0 -2.70 0M578.5 117.2a1.35 1.35 0 1 0 2.70 0a1.35 1.35 0 1 0 -2.70 0M562.6 117.2a1.35 1.35 0 1 0 2.70 0a1.35 1.35 0 1 0 -2.70 0M565.4 117.3a1.35 1.35 0 1 0 2.70 0a1.35 1.35 0 1 0 -2.70 0M575.0 117.3a1.35 1.35 0 1 0 2.70 0a1.35 1.35 0 1 0 -2.70 0M570.7 117.4a1.35 1.35 0 1 0 2.70 0a1.35 1.35 0 1 0 -2.70 0M557.3 117.4a1.35 1.35 0 1 0 2.70 0a1.35 1.35 0 1 0 -2.70 0M576.3 117.4a1.35 1.35 0 1 0 2.70 0a1.35 1.35 0 1 0 -2.70 0M582.5 117.4a1.35 1.35 0 1 0 2.70 0a1.35 1.35 0 1 0 -2.70 0M570.9 117.5a1.35 1.35 0 1 0 2.70 0a1.35 1.35 0 1 0 -2.70 0M564.9 117.5a1.35 1.35 0 1 0 2.70 0a1.35 1.35 0 1 0 -2.70 0M562.8 117.5a1.35 1.35 0 1 0 2.70 0a1.35 1.35 0 1 0 -2.70 0M563.8 117.5a1.35 1.35 0 1 0 2.70 0a1.35 1.35 0 1 0 -2.70 0M564.4 117.5a1.35 1.35 0 1 0 2.70 0a1.35 1.35 0 1 0 -2.70 0M583.6 117.5a1.35 1.35 0 1 0 2.70 0a1.35 1.35 0 1 0 -2.70 0M573.6 117.6a1.35 1.35 0 1 0 2.70 0a1.35 1.35 0 1 0 -2.70 0M575.5 117.7a1.35 1.35 0 1 0 2.70 0a1.35 1.35 0 1 0 -2.70 0M577.0 117.7a1.35 1.35 0 1 0 2.70 0a1.35 1.35 0 1 0 -2.70 0M560.6 117.8a1.35 1.35 0 1 0 2.70 0a1.35 1.35 0 1 0 -2.70 0M578.2 117.8a1.35 1.35 0 1 0 2.70 0a1.35 1.35 0 1 0 -2.70 0M567.4 117.8a1.35 1.35 0 1 0 2.70 0a1.35 1.35 0 1 0 -2.70 0M566.0 117.9a1.35 1.35 0 1 0 2.70 0a1.35 1.35 0 1 0 -2.70 0M581.1 117.9a1.35 1.35 0 1 0 2.70 0a1.35 1.35 0 1 0 -2.70 0M574.9 117.9a1.35 1.35 0 1 0 2.70 0a1.35 1.35 0 1 0 -2.70 0M581.5 117.9a1.35 1.35 0 1 0 2.70 0a1.35 1.35 0 1 0 -2.70 0M569.7 118.0a1.35 1.35 0 1 0 2.70 0a1.35 1.35 0 1 0 -2.70 0M583.1 118.0a1.35 1.35 0 1 0 2.70 0a1.35 1.35 0 1 0 -2.70 0M572.4 118.0a1.35 1.35 0 1 0 2.70 0a1.35 1.35 0 1 0 -2.70 0M577.5 118.1a1.35 1.35 0 1 0 2.70 0a1.35 1.35 0 1 0 -2.70 0M565.4 118.1a1.35 1.35 0 1 0 2.70 0a1.35 1.35 0 1 0 -2.70 0M567.2 118.1a1.35 1.35 0 1 0 2.70 0a1.35 1.35 0 1 0 -2.70 0M564.2 118.1a1.35 1.35 0 1 0 2.70 0a1.35 1.35 0 1 0 -2.70 0M567.8 118.2a1.35 1.35 0 1 0 2.70 0a1.35 1.35 0 1 0 -2.70 0M562.5 118.2a1.35 1.35 0 1 0 2.70 0a1.35 1.35 0 1 0 -2.70 0M574.6 118.2a1.35 1.35 0 1 0 2.70 0a1.35 1.35 0 1 0 -2.70 0M575.0 118.3a1.35 1.35 0 1 0 2.70 0a1.35 1.35 0 1 0 -2.70 0M577.0 118.3a1.35 1.35 0 1 0 2.70 0a1.35 1.35 0 1 0 -2.70 0M579.0 118.3a1.35 1.35 0 1 0 2.70 0a1.35 1.35 0 1 0 -2.70 0M570.9 118.3a1.35 1.35 0 1 0 2.70 0a1.35 1.35 0 1 0 -2.70 0M579.8 118.3a1.35 1.35 0 1 0 2.70 0a1.35 1.35 0 1 0 -2.70 0M573.5 118.3a1.35 1.35 0 1 0 2.70 0a1.35 1.35 0 1 0 -2.70 0M562.8 118.3a1.35 1.35 0 1 0 2.70 0a1.35 1.35 0 1 0 -2.70 0M573.7 118.4a1.35 1.35 0 1 0 2.70 0a1.35 1.35 0 1 0 -2.70 0M562.2 118.4a1.35 1.35 0 1 0 2.70 0a1.35 1.35 0 1 0 -2.70 0M573.5 118.4a1.35 1.35 0 1 0 2.70 0a1.35 1.35 0 1 0 -2.70 0M568.3 118.4a1.35 1.35 0 1 0 2.70 0a1.35 1.35 0 1 0 -2.70 0M566.6 118.4a1.35 1.35 0 1 0 2.70 0a1.35 1.35 0 1 0 -2.70 0M571.9 118.4a1.35 1.35 0 1 0 2.70 0a1.35 1.35 0 1 0 -2.70 0M566.7 118.4a1.35 1.35 0 1 0 2.70 0a1.35 1.35 0 1 0 -2.70 0M576.8 118.5a1.35 1.35 0 1 0 2.70 0a1.35 1.35 0 1 0 -2.70 0M560.3 118.5a1.35 1.35 0 1 0 2.70 0a1.35 1.35 0 1 0 -2.70 0M563.3 118.5a1.35 1.35 0 1 0 2.70 0a1.35 1.35 0 1 0 -2.70 0M570.1 118.6a1.35 1.35 0 1 0 2.70 0a1.35 1.35 0 1 0 -2.70 0M561.3 118.6a1.35 1.35 0 1 0 2.70 0a1.35 1.35 0 1 0 -2.70 0M568.2 118.7a1.35 1.35 0 1 0 2.70 0a1.35 1.35 0 1 0 -2.70 0M576.8 118.7a1.35 1.35 0 1 0 2.70 0a1.35 1.35 0 1 0 -2.70 0M580.8 118.7a1.35 1.35 0 1 0 2.70 0a1.35 1.35 0 1 0 -2.70 0M558.7 118.7a1.35 1.35 0 1 0 2.70 0a1.35 1.35 0 1 0 -2.70 0M572.8 118.7a1.35 1.35 0 1 0 2.70 0a1.35 1.35 0 1 0 -2.70 0M563.4 118.8a1.35 1.35 0 1 0 2.70 0a1.35 1.35 0 1 0 -2.70 0M565.4 118.8a1.35 1.35 0 1 0 2.70 0a1.35 1.35 0 1 0 -2.70 0M574.9 118.8a1.35 1.35 0 1 0 2.70 0a1.35 1.35 0 1 0 -2.70 0M561.3 118.9a1.35 1.35 0 1 0 2.70 0a1.35 1.35 0 1 0 -2.70 0M576.4 118.9a1.35 1.35 0 1 0 2.70 0a1.35 1.35 0 1 0 -2.70 0M567.6 118.9a1.35 1.35 0 1 0 2.70 0a1.35 1.35 0 1 0 -2.70 0M566.3 118.9a1.35 1.35 0 1 0 2.70 0a1.35 1.35 0 1 0 -2.70 0M566.0 119.0a1.35 1.35 0 1 0 2.70 0a1.35 1.35 0 1 0 -2.70 0M577.4 119.0a1.35 1.35 0 1 0 2.70 0a1.35 1.35 0 1 0 -2.70 0M579.8 119.0a1.35 1.35 0 1 0 2.70 0a1.35 1.35 0 1 0 -2.70 0M570.7 119.0a1.35 1.35 0 1 0 2.70 0a1.35 1.35 0 1 0 -2.70 0M567.2 119.1a1.35 1.35 0 1 0 2.70 0a1.35 1.35 0 1 0 -2.70 0M576.9 119.1a1.35 1.35 0 1 0 2.70 0a1.35 1.35 0 1 0 -2.70 0M559.9 119.1a1.35 1.35 0 1 0 2.70 0a1.35 1.35 0 1 0 -2.70 0M572.9 119.2a1.35 1.35 0 1 0 2.70 0a1.35 1.35 0 1 0 -2.70 0M562.8 119.2a1.35 1.35 0 1 0 2.70 0a1.35 1.35 0 1 0 -2.70 0M583.7 119.2a1.35 1.35 0 1 0 2.70 0a1.35 1.35 0 1 0 -2.70 0M567.3 119.2a1.35 1.35 0 1 0 2.70 0a1.35 1.35 0 1 0 -2.70 0M575.5 119.3a1.35 1.35 0 1 0 2.70 0a1.35 1.35 0 1 0 -2.70 0M571.9 119.3a1.35 1.35 0 1 0 2.70 0a1.35 1.35 0 1 0 -2.70 0M564.1 119.3a1.35 1.35 0 1 0 2.70 0a1.35 1.35 0 1 0 -2.70 0M574.1 119.3a1.35 1.35 0 1 0 2.70 0a1.35 1.35 0 1 0 -2.70 0M575.6 119.3a1.35 1.35 0 1 0 2.70 0a1.35 1.35 0 1 0 -2.70 0M569.2 119.4a1.35 1.35 0 1 0 2.70 0a1.35 1.35 0 1 0 -2.70 0M582.8 119.5a1.35 1.35 0 1 0 2.70 0a1.35 1.35 0 1 0 -2.70 0M566.6 119.5a1.35 1.35 0 1 0 2.70 0a1.35 1.35 0 1 0 -2.70 0M567.5 119.6a1.35 1.35 0 1 0 2.70 0a1.35 1.35 0 1 0 -2.70 0M576.8 119.7a1.35 1.35 0 1 0 2.70 0a1.35 1.35 0 1 0 -2.70 0M566.3 119.7a1.35 1.35 0 1 0 2.70 0a1.35 1.35 0 1 0 -2.70 0M577.1 119.7a1.35 1.35 0 1 0 2.70 0a1.35 1.35 0 1 0 -2.70 0M570.1 119.7a1.35 1.35 0 1 0 2.70 0a1.35 1.35 0 1 0 -2.70 0M566.3 119.7a1.35 1.35 0 1 0 2.70 0a1.35 1.35 0 1 0 -2.70 0M570.3 119.7a1.35 1.35 0 1 0 2.70 0a1.35 1.35 0 1 0 -2.70 0M568.0 119.8a1.35 1.35 0 1 0 2.70 0a1.35 1.35 0 1 0 -2.70 0M564.4 119.8a1.35 1.35 0 1 0 2.70 0a1.35 1.35 0 1 0 -2.70 0M570.6 119.8a1.35 1.35 0 1 0 2.70 0a1.35 1.35 0 1 0 -2.70 0M567.0 119.9a1.35 1.35 0 1 0 2.70 0a1.35 1.35 0 1 0 -2.70 0M570.4 119.9a1.35 1.35 0 1 0 2.70 0a1.35 1.35 0 1 0 -2.70 0M575.4 120.0a1.35 1.35 0 1 0 2.70 0a1.35 1.35 0 1 0 -2.70 0M570.5 120.0a1.35 1.35 0 1 0 2.70 0a1.35 1.35 0 1 0 -2.70 0M563.6 120.0a1.35 1.35 0 1 0 2.70 0a1.35 1.35 0 1 0 -2.70 0M561.1 120.0a1.35 1.35 0 1 0 2.70 0a1.35 1.35 0 1 0 -2.70 0M577.9 120.0a1.35 1.35 0 1 0 2.70 0a1.35 1.35 0 1 0 -2.70 0M569.8 120.1a1.35 1.35 0 1 0 2.70 0a1.35 1.35 0 1 0 -2.70 0M565.3 120.1a1.35 1.35 0 1 0 2.70 0a1.35 1.35 0 1 0 -2.70 0M581.6 120.1a1.35 1.35 0 1 0 2.70 0a1.35 1.35 0 1 0 -2.70 0M571.2 120.1a1.35 1.35 0 1 0 2.70 0a1.35 1.35 0 1 0 -2.70 0M565.3 120.1a1.35 1.35 0 1 0 2.70 0a1.35 1.35 0 1 0 -2.70 0M573.0 120.1a1.35 1.35 0 1 0 2.70 0a1.35 1.35 0 1 0 -2.70 0M572.3 120.2a1.35 1.35 0 1 0 2.70 0a1.35 1.35 0 1 0 -2.70 0M583.0 120.2a1.35 1.35 0 1 0 2.70 0a1.35 1.35 0 1 0 -2.70 0M561.7 120.2a1.35 1.35 0 1 0 2.70 0a1.35 1.35 0 1 0 -2.70 0M568.7 120.2a1.35 1.35 0 1 0 2.70 0a1.35 1.35 0 1 0 -2.70 0M571.1 120.2a1.35 1.35 0 1 0 2.70 0a1.35 1.35 0 1 0 -2.70 0M568.6 120.2a1.35 1.35 0 1 0 2.70 0a1.35 1.35 0 1 0 -2.70 0M570.4 120.2a1.35 1.35 0 1 0 2.70 0a1.35 1.35 0 1 0 -2.70 0M562.3 120.2a1.35 1.35 0 1 0 2.70 0a1.35 1.35 0 1 0 -2.70 0M574.0 120.3a1.35 1.35 0 1 0 2.70 0a1.35 1.35 0 1 0 -2.70 0M568.8 120.3a1.35 1.35 0 1 0 2.70 0a1.35 1.35 0 1 0 -2.70 0M568.2 120.3a1.35 1.35 0 1 0 2.70 0a1.35 1.35 0 1 0 -2.70 0M561.1 120.3a1.35 1.35 0 1 0 2.70 0a1.35 1.35 0 1 0 -2.70 0M563.6 120.3a1.35 1.35 0 1 0 2.70 0a1.35 1.35 0 1 0 -2.70 0M574.7 120.3a1.35 1.35 0 1 0 2.70 0a1.35 1.35 0 1 0 -2.70 0M579.1 120.4a1.35 1.35 0 1 0 2.70 0a1.35 1.35 0 1 0 -2.70 0M572.5 120.4a1.35 1.35 0 1 0 2.70 0a1.35 1.35 0 1 0 -2.70 0M571.0 120.4a1.35 1.35 0 1 0 2.70 0a1.35 1.35 0 1 0 -2.70 0M568.3 120.4a1.35 1.35 0 1 0 2.70 0a1.35 1.35 0 1 0 -2.70 0M577.0 120.4a1.35 1.35 0 1 0 2.70 0a1.35 1.35 0 1 0 -2.70 0M563.0 120.4a1.35 1.35 0 1 0 2.70 0a1.35 1.35 0 1 0 -2.70 0M572.6 120.4a1.35 1.35 0 1 0 2.70 0a1.35 1.35 0 1 0 -2.70 0M564.2 120.4a1.35 1.35 0 1 0 2.70 0a1.35 1.35 0 1 0 -2.70 0M569.7 120.4a1.35 1.35 0 1 0 2.70 0a1.35 1.35 0 1 0 -2.70 0M574.0 120.4a1.35 1.35 0 1 0 2.70 0a1.35 1.35 0 1 0 -2.70 0M576.5 120.5a1.35 1.35 0 1 0 2.70 0a1.35 1.35 0 1 0 -2.70 0M576.2 120.5a1.35 1.35 0 1 0 2.70 0a1.35 1.35 0 1 0 -2.70 0M571.5 120.5a1.35 1.35 0 1 0 2.70 0a1.35 1.35 0 1 0 -2.70 0M572.9 120.5a1.35 1.35 0 1 0 2.70 0a1.35 1.35 0 1 0 -2.70 0M567.1 120.5a1.35 1.35 0 1 0 2.70 0a1.35 1.35 0 1 0 -2.70 0M571.8 120.5a1.35 1.35 0 1 0 2.70 0a1.35 1.35 0 1 0 -2.70 0M572.6 120.5a1.35 1.35 0 1 0 2.70 0a1.35 1.35 0 1 0 -2.70 0M574.7 120.6a1.35 1.35 0 1 0 2.70 0a1.35 1.35 0 1 0 -2.70 0M565.1 120.6a1.35 1.35 0 1 0 2.70 0a1.35 1.35 0 1 0 -2.70 0M562.9 120.6a1.35 1.35 0 1 0 2.70 0a1.35 1.35 0 1 0 -2.70 0M575.5 120.6a1.35 1.35 0 1 0 2.70 0a1.35 1.35 0 1 0 -2.70 0M561.4 120.6a1.35 1.35 0 1 0 2.70 0a1.35 1.35 0 1 0 -2.70 0M568.6 120.6a1.35 1.35 0 1 0 2.70 0a1.35 1.35 0 1 0 -2.70 0M569.8 120.6a1.35 1.35 0 1 0 2.70 0a1.35 1.35 0 1 0 -2.70 0M574.2 120.6a1.35 1.35 0 1 0 2.70 0a1.35 1.35 0 1 0 -2.70 0M566.3 120.6a1.35 1.35 0 1 0 2.70 0a1.35 1.35 0 1 0 -2.70 0M563.8 120.7a1.35 1.35 0 1 0 2.70 0a1.35 1.35 0 1 0 -2.70 0M564.0 120.7a1.35 1.35 0 1 0 2.70 0a1.35 1.35 0 1 0 -2.70 0M577.9 120.7a1.35 1.35 0 1 0 2.70 0a1.35 1.35 0 1 0 -2.70 0M567.7 120.7a1.35 1.35 0 1 0 2.70 0a1.35 1.35 0 1 0 -2.70 0M570.9 120.7a1.35 1.35 0 1 0 2.70 0a1.35 1.35 0 1 0 -2.70 0M575.8 120.7a1.35 1.35 0 1 0 2.70 0a1.35 1.35 0 1 0 -2.70 0M561.7 120.8a1.35 1.35 0 1 0 2.70 0a1.35 1.35 0 1 0 -2.70 0M563.5 120.8a1.35 1.35 0 1 0 2.70 0a1.35 1.35 0 1 0 -2.70 0M571.2 120.8a1.35 1.35 0 1 0 2.70 0a1.35 1.35 0 1 0 -2.70 0M566.4 120.8a1.35 1.35 0 1 0 2.70 0a1.35 1.35 0 1 0 -2.70 0M573.2 120.9a1.35 1.35 0 1 0 2.70 0a1.35 1.35 0 1 0 -2.70 0M571.2 120.9a1.35 1.35 0 1 0 2.70 0a1.35 1.35 0 1 0 -2.70 0M562.4 120.9a1.35 1.35 0 1 0 2.70 0a1.35 1.35 0 1 0 -2.70 0M564.5 120.9a1.35 1.35 0 1 0 2.70 0a1.35 1.35 0 1 0 -2.70 0M559.9 120.9a1.35 1.35 0 1 0 2.70 0a1.35 1.35 0 1 0 -2.70 0M578.7 120.9a1.35 1.35 0 1 0 2.70 0a1.35 1.35 0 1 0 -2.70 0M575.2 120.9a1.35 1.35 0 1 0 2.70 0a1.35 1.35 0 1 0 -2.70 0M573.9 121.0a1.35 1.35 0 1 0 2.70 0a1.35 1.35 0 1 0 -2.70 0M572.6 121.0a1.35 1.35 0 1 0 2.70 0a1.35 1.35 0 1 0 -2.70 0M566.0 121.0a1.35 1.35 0 1 0 2.70 0a1.35 1.35 0 1 0 -2.70 0M562.2 121.0a1.35 1.35 0 1 0 2.70 0a1.35 1.35 0 1 0 -2.70 0M569.6 121.1a1.35 1.35 0 1 0 2.70 0a1.35 1.35 0 1 0 -2.70 0M563.8 121.1a1.35 1.35 0 1 0 2.70 0a1.35 1.35 0 1 0 -2.70 0M575.0 121.2a1.35 1.35 0 1 0 2.70 0a1.35 1.35 0 1 0 -2.70 0M568.6 121.2a1.35 1.35 0 1 0 2.70 0a1.35 1.35 0 1 0 -2.70 0M572.1 121.2a1.35 1.35 0 1 0 2.70 0a1.35 1.35 0 1 0 -2.70 0M578.1 121.2a1.35 1.35 0 1 0 2.70 0a1.35 1.35 0 1 0 -2.70 0M570.4 121.2a1.35 1.35 0 1 0 2.70 0a1.35 1.35 0 1 0 -2.70 0M561.4 121.3a1.35 1.35 0 1 0 2.70 0a1.35 1.35 0 1 0 -2.70 0M573.6 121.3a1.35 1.35 0 1 0 2.70 0a1.35 1.35 0 1 0 -2.70 0M564.5 121.3a1.35 1.35 0 1 0 2.70 0a1.35 1.35 0 1 0 -2.70 0M575.0 121.3a1.35 1.35 0 1 0 2.70 0a1.35 1.35 0 1 0 -2.70 0M569.2 121.3a1.35 1.35 0 1 0 2.70 0a1.35 1.35 0 1 0 -2.70 0M571.6 121.3a1.35 1.35 0 1 0 2.70 0a1.35 1.35 0 1 0 -2.70 0M560.4 121.3a1.35 1.35 0 1 0 2.70 0a1.35 1.35 0 1 0 -2.70 0M571.2 121.3a1.35 1.35 0 1 0 2.70 0a1.35 1.35 0 1 0 -2.70 0M572.2 121.4a1.35 1.35 0 1 0 2.70 0a1.35 1.35 0 1 0 -2.70 0M571.9 121.4a1.35 1.35 0 1 0 2.70 0a1.35 1.35 0 1 0 -2.70 0M563.6 121.4a1.35 1.35 0 1 0 2.70 0a1.35 1.35 0 1 0 -2.70 0M562.9 121.4a1.35 1.35 0 1 0 2.70 0a1.35 1.35 0 1 0 -2.70 0M561.4 121.4a1.35 1.35 0 1 0 2.70 0a1.35 1.35 0 1 0 -2.70 0M568.2 121.4a1.35 1.35 0 1 0 2.70 0a1.35 1.35 0 1 0 -2.70 0M578.0 121.4a1.35 1.35 0 1 0 2.70 0a1.35 1.35 0 1 0 -2.70 0M573.5 121.4a1.35 1.35 0 1 0 2.70 0a1.35 1.35 0 1 0 -2.70 0M569.6 121.4a1.35 1.35 0 1 0 2.70 0a1.35 1.35 0 1 0 -2.70 0M567.5 121.4a1.35 1.35 0 1 0 2.70 0a1.35 1.35 0 1 0 -2.70 0M576.7 121.4a1.35 1.35 0 1 0 2.70 0a1.35 1.35 0 1 0 -2.70 0M564.3 121.5a1.35 1.35 0 1 0 2.70 0a1.35 1.35 0 1 0 -2.70 0M573.8 121.5a1.35 1.35 0 1 0 2.70 0a1.35 1.35 0 1 0 -2.70 0M576.1 121.5a1.35 1.35 0 1 0 2.70 0a1.35 1.35 0 1 0 -2.70 0M565.0 121.5a1.35 1.35 0 1 0 2.70 0a1.35 1.35 0 1 0 -2.70 0M568.5 121.5a1.35 1.35 0 1 0 2.70 0a1.35 1.35 0 1 0 -2.70 0M570.9 121.5a1.35 1.35 0 1 0 2.70 0a1.35 1.35 0 1 0 -2.70 0M572.5 121.5a1.35 1.35 0 1 0 2.70 0a1.35 1.35 0 1 0 -2.70 0M565.2 121.6a1.35 1.35 0 1 0 2.70 0a1.35 1.35 0 1 0 -2.70 0M568.5 121.6a1.35 1.35 0 1 0 2.70 0a1.35 1.35 0 1 0 -2.70 0M561.5 121.6a1.35 1.35 0 1 0 2.70 0a1.35 1.35 0 1 0 -2.70 0M562.7 121.6a1.35 1.35 0 1 0 2.70 0a1.35 1.35 0 1 0 -2.70 0M573.7 121.7a1.35 1.35 0 1 0 2.70 0a1.35 1.35 0 1 0 -2.70 0M577.2 121.7a1.35 1.35 0 1 0 2.70 0a1.35 1.35 0 1 0 -2.70 0M570.1 121.7a1.35 1.35 0 1 0 2.70 0a1.35 1.35 0 1 0 -2.70 0M561.0 121.7a1.35 1.35 0 1 0 2.70 0a1.35 1.35 0 1 0 -2.70 0M574.1 121.7a1.35 1.35 0 1 0 2.70 0a1.35 1.35 0 1 0 -2.70 0M567.1 121.7a1.35 1.35 0 1 0 2.70 0a1.35 1.35 0 1 0 -2.70 0M567.9 121.7a1.35 1.35 0 1 0 2.70 0a1.35 1.35 0 1 0 -2.70 0M562.6 121.8a1.35 1.35 0 1 0 2.70 0a1.35 1.35 0 1 0 -2.70 0M562.7 121.8a1.35 1.35 0 1 0 2.70 0a1.35 1.35 0 1 0 -2.70 0M565.1 121.8a1.35 1.35 0 1 0 2.70 0a1.35 1.35 0 1 0 -2.70 0M564.0 121.8a1.35 1.35 0 1 0 2.70 0a1.35 1.35 0 1 0 -2.70 0M570.3 121.8a1.35 1.35 0 1 0 2.70 0a1.35 1.35 0 1 0 -2.70 0M570.8 121.8a1.35 1.35 0 1 0 2.70 0a1.35 1.35 0 1 0 -2.70 0M573.4 121.9a1.35 1.35 0 1 0 2.70 0a1.35 1.35 0 1 0 -2.70 0M564.2 121.9a1.35 1.35 0 1 0 2.70 0a1.35 1.35 0 1 0 -2.70 0M567.3 121.9a1.35 1.35 0 1 0 2.70 0a1.35 1.35 0 1 0 -2.70 0M572.6 121.9a1.35 1.35 0 1 0 2.70 0a1.35 1.35 0 1 0 -2.70 0M571.1 121.9a1.35 1.35 0 1 0 2.70 0a1.35 1.35 0 1 0 -2.70 0M565.9 121.9a1.35 1.35 0 1 0 2.70 0a1.35 1.35 0 1 0 -2.70 0M569.6 121.9a1.35 1.35 0 1 0 2.70 0a1.35 1.35 0 1 0 -2.70 0M564.8 121.9a1.35 1.35 0 1 0 2.70 0a1.35 1.35 0 1 0 -2.70 0M563.6 122.0a1.35 1.35 0 1 0 2.70 0a1.35 1.35 0 1 0 -2.70 0M565.8 122.0a1.35 1.35 0 1 0 2.70 0a1.35 1.35 0 1 0 -2.70 0M570.8 122.0a1.35 1.35 0 1 0 2.70 0a1.35 1.35 0 1 0 -2.70 0M573.3 122.0a1.35 1.35 0 1 0 2.70 0a1.35 1.35 0 1 0 -2.70 0M573.0 122.0a1.35 1.35 0 1 0 2.70 0a1.35 1.35 0 1 0 -2.70 0M560.6 122.0a1.35 1.35 0 1 0 2.70 0a1.35 1.35 0 1 0 -2.70 0M561.4 122.0a1.35 1.35 0 1 0 2.70 0a1.35 1.35 0 1 0 -2.70 0M565.0 122.1a1.35 1.35 0 1 0 2.70 0a1.35 1.35 0 1 0 -2.70 0M562.4 122.1a1.35 1.35 0 1 0 2.70 0a1.35 1.35 0 1 0 -2.70 0M563.5 122.1a1.35 1.35 0 1 0 2.70 0a1.35 1.35 0 1 0 -2.70 0M569.1 122.2a1.35 1.35 0 1 0 2.70 0a1.35 1.35 0 1 0 -2.70 0M568.2 122.2a1.35 1.35 0 1 0 2.70 0a1.35 1.35 0 1 0 -2.70 0M571.2 122.3a1.35 1.35 0 1 0 2.70 0a1.35 1.35 0 1 0 -2.70 0M563.2 122.3a1.35 1.35 0 1 0 2.70 0a1.35 1.35 0 1 0 -2.70 0M576.3 122.3a1.35 1.35 0 1 0 2.70 0a1.35 1.35 0 1 0 -2.70 0M573.0 122.3a1.35 1.35 0 1 0 2.70 0a1.35 1.35 0 1 0 -2.70 0M572.0 122.3a1.35 1.35 0 1 0 2.70 0a1.35 1.35 0 1 0 -2.70 0M564.1 122.3a1.35 1.35 0 1 0 2.70 0a1.35 1.35 0 1 0 -2.70 0M569.1 122.3a1.35 1.35 0 1 0 2.70 0a1.35 1.35 0 1 0 -2.70 0M562.2 122.3a1.35 1.35 0 1 0 2.70 0a1.35 1.35 0 1 0 -2.70 0M567.0 122.3a1.35 1.35 0 1 0 2.70 0a1.35 1.35 0 1 0 -2.70 0M571.9 122.3a1.35 1.35 0 1 0 2.70 0a1.35 1.35 0 1 0 -2.70 0M568.2 122.4a1.35 1.35 0 1 0 2.70 0a1.35 1.35 0 1 0 -2.70 0M571.6 122.4a1.35 1.35 0 1 0 2.70 0a1.35 1.35 0 1 0 -2.70 0M563.6 122.4a1.35 1.35 0 1 0 2.70 0a1.35 1.35 0 1 0 -2.70 0M561.2 122.4a1.35 1.35 0 1 0 2.70 0a1.35 1.35 0 1 0 -2.70 0M567.1 122.5a1.35 1.35 0 1 0 2.70 0a1.35 1.35 0 1 0 -2.70 0M570.3 122.5a1.35 1.35 0 1 0 2.70 0a1.35 1.35 0 1 0 -2.70 0M576.0 122.5a1.35 1.35 0 1 0 2.70 0a1.35 1.35 0 1 0 -2.70 0M577.3 122.5a1.35 1.35 0 1 0 2.70 0a1.35 1.35 0 1 0 -2.70 0M576.8 122.6a1.35 1.35 0 1 0 2.70 0a1.35 1.35 0 1 0 -2.70 0M568.7 122.6a1.35 1.35 0 1 0 2.70 0a1.35 1.35 0 1 0 -2.70 0M566.1 122.6a1.35 1.35 0 1 0 2.70 0a1.35 1.35 0 1 0 -2.70 0M570.9 122.6a1.35 1.35 0 1 0 2.70 0a1.35 1.35 0 1 0 -2.70 0M569.8 122.7a1.35 1.35 0 1 0 2.70 0a1.35 1.35 0 1 0 -2.70 0M573.5 122.7a1.35 1.35 0 1 0 2.70 0a1.35 1.35 0 1 0 -2.70 0M565.4 122.7a1.35 1.35 0 1 0 2.70 0a1.35 1.35 0 1 0 -2.70 0M575.7 122.7a1.35 1.35 0 1 0 2.70 0a1.35 1.35 0 1 0 -2.70 0M573.6 122.7a1.35 1.35 0 1 0 2.70 0a1.35 1.35 0 1 0 -2.70 0M564.7 122.7a1.35 1.35 0 1 0 2.70 0a1.35 1.35 0 1 0 -2.70 0M572.4 122.8a1.35 1.35 0 1 0 2.70 0a1.35 1.35 0 1 0 -2.70 0M561.4 122.8a1.35 1.35 0 1 0 2.70 0a1.35 1.35 0 1 0 -2.70 0M562.7 122.8a1.35 1.35 0 1 0 2.70 0a1.35 1.35 0 1 0 -2.70 0M566.8 122.8a1.35 1.35 0 1 0 2.70 0a1.35 1.35 0 1 0 -2.70 0M566.3 122.8a1.35 1.35 0 1 0 2.70 0a1.35 1.35 0 1 0 -2.70 0M565.8 122.8a1.35 1.35 0 1 0 2.70 0a1.35 1.35 0 1 0 -2.70 0M573.0 122.8a1.35 1.35 0 1 0 2.70 0a1.35 1.35 0 1 0 -2.70 0M574.6 122.8a1.35 1.35 0 1 0 2.70 0a1.35 1.35 0 1 0 -2.70 0M572.1 122.8a1.35 1.35 0 1 0 2.70 0a1.35 1.35 0 1 0 -2.70 0M566.8 122.8a1.35 1.35 0 1 0 2.70 0a1.35 1.35 0 1 0 -2.70 0M566.4 122.8a1.35 1.35 0 1 0 2.70 0a1.35 1.35 0 1 0 -2.70 0M565.3 122.9a1.35 1.35 0 1 0 2.70 0a1.35 1.35 0 1 0 -2.70 0M565.7 122.9a1.35 1.35 0 1 0 2.70 0a1.35 1.35 0 1 0 -2.70 0M576.9 122.9a1.35 1.35 0 1 0 2.70 0a1.35 1.35 0 1 0 -2.70 0M574.1 122.9a1.35 1.35 0 1 0 2.70 0a1.35 1.35 0 1 0 -2.70 0M563.1 122.9a1.35 1.35 0 1 0 2.70 0a1.35 1.35 0 1 0 -2.70 0M565.6 122.9a1.35 1.35 0 1 0 2.70 0a1.35 1.35 0 1 0 -2.70 0M572.2 122.9a1.35 1.35 0 1 0 2.70 0a1.35 1.35 0 1 0 -2.70 0M570.9 123.0a1.35 1.35 0 1 0 2.70 0a1.35 1.35 0 1 0 -2.70 0M571.7 123.0a1.35 1.35 0 1 0 2.70 0a1.35 1.35 0 1 0 -2.70 0M568.8 123.0a1.35 1.35 0 1 0 2.70 0a1.35 1.35 0 1 0 -2.70 0M573.0 123.0a1.35 1.35 0 1 0 2.70 0a1.35 1.35 0 1 0 -2.70 0M576.8 123.0a1.35 1.35 0 1 0 2.70 0a1.35 1.35 0 1 0 -2.70 0M565.2 123.0a1.35 1.35 0 1 0 2.70 0a1.35 1.35 0 1 0 -2.70 0M570.1 123.0a1.35 1.35 0 1 0 2.70 0a1.35 1.35 0 1 0 -2.70 0M569.7 123.0a1.35 1.35 0 1 0 2.70 0a1.35 1.35 0 1 0 -2.70 0M562.2 123.1a1.35 1.35 0 1 0 2.70 0a1.35 1.35 0 1 0 -2.70 0M569.3 123.1a1.35 1.35 0 1 0 2.70 0a1.35 1.35 0 1 0 -2.70 0M572.3 123.1a1.35 1.35 0 1 0 2.70 0a1.35 1.35 0 1 0 -2.70 0M563.9 123.1a1.35 1.35 0 1 0 2.70 0a1.35 1.35 0 1 0 -2.70 0M575.2 123.1a1.35 1.35 0 1 0 2.70 0a1.35 1.35 0 1 0 -2.70 0M573.6 123.1a1.35 1.35 0 1 0 2.70 0a1.35 1.35 0 1 0 -2.70 0M566.6 123.3a1.35 1.35 0 1 0 2.70 0a1.35 1.35 0 1 0 -2.70 0M567.6 123.3a1.35 1.35 0 1 0 2.70 0a1.35 1.35 0 1 0 -2.70 0M562.2 123.3a1.35 1.35 0 1 0 2.70 0a1.35 1.35 0 1 0 -2.70 0M569.6 123.3a1.35 1.35 0 1 0 2.70 0a1.35 1.35 0 1 0 -2.70 0M569.8 123.3a1.35 1.35 0 1 0 2.70 0a1.35 1.35 0 1 0 -2.70 0M565.7 123.3a1.35 1.35 0 1 0 2.70 0a1.35 1.35 0 1 0 -2.70 0M566.9 123.3a1.35 1.35 0 1 0 2.70 0a1.35 1.35 0 1 0 -2.70 0M567.0 123.4a1.35 1.35 0 1 0 2.70 0a1.35 1.35 0 1 0 -2.70 0M564.7 123.4a1.35 1.35 0 1 0 2.70 0a1.35 1.35 0 1 0 -2.70 0M566.1 123.4a1.35 1.35 0 1 0 2.70 0a1.35 1.35 0 1 0 -2.70 0M564.1 123.4a1.35 1.35 0 1 0 2.70 0a1.35 1.35 0 1 0 -2.70 0M566.3 123.4a1.35 1.35 0 1 0 2.70 0a1.35 1.35 0 1 0 -2.70 0M566.6 123.4a1.35 1.35 0 1 0 2.70 0a1.35 1.35 0 1 0 -2.70 0M566.3 123.4a1.35 1.35 0 1 0 2.70 0a1.35 1.35 0 1 0 -2.70 0M563.0 123.5a1.35 1.35 0 1 0 2.70 0a1.35 1.35 0 1 0 -2.70 0M571.7 123.5a1.35 1.35 0 1 0 2.70 0a1.35 1.35 0 1 0 -2.70 0M564.0 123.5a1.35 1.35 0 1 0 2.70 0a1.35 1.35 0 1 0 -2.70 0M566.2 123.5a1.35 1.35 0 1 0 2.70 0a1.35 1.35 0 1 0 -2.70 0M567.0 123.6a1.35 1.35 0 1 0 2.70 0a1.35 1.35 0 1 0 -2.70 0M572.8 123.6a1.35 1.35 0 1 0 2.70 0a1.35 1.35 0 1 0 -2.70 0M569.5 123.6a1.35 1.35 0 1 0 2.70 0a1.35 1.35 0 1 0 -2.70 0M568.2 123.6a1.35 1.35 0 1 0 2.70 0a1.35 1.35 0 1 0 -2.70 0M575.4 123.6a1.35 1.35 0 1 0 2.70 0a1.35 1.35 0 1 0 -2.70 0M566.2 123.6a1.35 1.35 0 1 0 2.70 0a1.35 1.35 0 1 0 -2.70 0M562.4 123.7a1.35 1.35 0 1 0 2.70 0a1.35 1.35 0 1 0 -2.70 0M566.3 123.7a1.35 1.35 0 1 0 2.70 0a1.35 1.35 0 1 0 -2.70 0M566.1 123.7a1.35 1.35 0 1 0 2.70 0a1.35 1.35 0 1 0 -2.70 0M565.5 123.7a1.35 1.35 0 1 0 2.70 0a1.35 1.35 0 1 0 -2.70 0M572.8 123.7a1.35 1.35 0 1 0 2.70 0a1.35 1.35 0 1 0 -2.70 0M563.9 123.8a1.35 1.35 0 1 0 2.70 0a1.35 1.35 0 1 0 -2.70 0M575.5 123.8a1.35 1.35 0 1 0 2.70 0a1.35 1.35 0 1 0 -2.70 0M565.4 123.8a1.35 1.35 0 1 0 2.70 0a1.35 1.35 0 1 0 -2.70 0M570.8 123.9a1.35 1.35 0 1 0 2.70 0a1.35 1.35 0 1 0 -2.70 0M570.8 123.9a1.35 1.35 0 1 0 2.70 0a1.35 1.35 0 1 0 -2.70 0M567.7 123.9a1.35 1.35 0 1 0 2.70 0a1.35 1.35 0 1 0 -2.70 0M566.9 123.9a1.35 1.35 0 1 0 2.70 0a1.35 1.35 0 1 0 -2.70 0M567.7 123.9a1.35 1.35 0 1 0 2.70 0a1.35 1.35 0 1 0 -2.70 0M567.3 123.9a1.35 1.35 0 1 0 2.70 0a1.35 1.35 0 1 0 -2.70 0M574.5 124.0a1.35 1.35 0 1 0 2.70 0a1.35 1.35 0 1 0 -2.70 0M565.6 124.0a1.35 1.35 0 1 0 2.70 0a1.35 1.35 0 1 0 -2.70 0M566.3 124.0a1.35 1.35 0 1 0 2.70 0a1.35 1.35 0 1 0 -2.70 0M567.1 124.1a1.35 1.35 0 1 0 2.70 0a1.35 1.35 0 1 0 -2.70 0M564.8 124.1a1.35 1.35 0 1 0 2.70 0a1.35 1.35 0 1 0 -2.70 0M564.7 124.1a1.35 1.35 0 1 0 2.70 0a1.35 1.35 0 1 0 -2.70 0M564.6 124.1a1.35 1.35 0 1 0 2.70 0a1.35 1.35 0 1 0 -2.70 0M568.9 124.2a1.35 1.35 0 1 0 2.70 0a1.35 1.35 0 1 0 -2.70 0M566.1 124.2a1.35 1.35 0 1 0 2.70 0a1.35 1.35 0 1 0 -2.70 0M561.7 124.2a1.35 1.35 0 1 0 2.70 0a1.35 1.35 0 1 0 -2.70 0M573.2 124.2a1.35 1.35 0 1 0 2.70 0a1.35 1.35 0 1 0 -2.70 0M567.8 124.2a1.35 1.35 0 1 0 2.70 0a1.35 1.35 0 1 0 -2.70 0M565.7 124.2a1.35 1.35 0 1 0 2.70 0a1.35 1.35 0 1 0 -2.70 0M568.8 124.2a1.35 1.35 0 1 0 2.70 0a1.35 1.35 0 1 0 -2.70 0M562.4 124.2a1.35 1.35 0 1 0 2.70 0a1.35 1.35 0 1 0 -2.70 0M573.8 124.2a1.35 1.35 0 1 0 2.70 0a1.35 1.35 0 1 0 -2.70 0M569.4 124.2a1.35 1.35 0 1 0 2.70 0a1.35 1.35 0 1 0 -2.70 0M569.4 124.2a1.35 1.35 0 1 0 2.70 0a1.35 1.35 0 1 0 -2.70 0M568.8 124.3a1.35 1.35 0 1 0 2.70 0a1.35 1.35 0 1 0 -2.70 0M566.9 124.3a1.35 1.35 0 1 0 2.70 0a1.35 1.35 0 1 0 -2.70 0M573.3 124.3a1.35 1.35 0 1 0 2.70 0a1.35 1.35 0 1 0 -2.70 0M564.1 124.3a1.35 1.35 0 1 0 2.70 0a1.35 1.35 0 1 0 -2.70 0M566.6 124.3a1.35 1.35 0 1 0 2.70 0a1.35 1.35 0 1 0 -2.70 0M571.2 124.4a1.35 1.35 0 1 0 2.70 0a1.35 1.35 0 1 0 -2.70 0M566.7 124.4a1.35 1.35 0 1 0 2.70 0a1.35 1.35 0 1 0 -2.70 0M565.4 124.4a1.35 1.35 0 1 0 2.70 0a1.35 1.35 0 1 0 -2.70 0M563.7 124.5a1.35 1.35 0 1 0 2.70 0a1.35 1.35 0 1 0 -2.70 0M570.6 124.5a1.35 1.35 0 1 0 2.70 0a1.35 1.35 0 1 0 -2.70 0M570.9 124.5a1.35 1.35 0 1 0 2.70 0a1.35 1.35 0 1 0 -2.70 0M570.3 124.5a1.35 1.35 0 1 0 2.70 0a1.35 1.35 0 1 0 -2.70 0M564.4 124.6a1.35 1.35 0 1 0 2.70 0a1.35 1.35 0 1 0 -2.70 0M570.9 124.6a1.35 1.35 0 1 0 2.70 0a1.35 1.35 0 1 0 -2.70 0M571.5 124.7a1.35 1.35 0 1 0 2.70 0a1.35 1.35 0 1 0 -2.70 0M565.8 124.7a1.35 1.35 0 1 0 2.70 0a1.35 1.35 0 1 0 -2.70 0M570.5 124.7a1.35 1.35 0 1 0 2.70 0a1.35 1.35 0 1 0 -2.70 0M568.0 124.8a1.35 1.35 0 1 0 2.70 0a1.35 1.35 0 1 0 -2.70 0M563.7 124.8a1.35 1.35 0 1 0 2.70 0a1.35 1.35 0 1 0 -2.70 0M569.2 124.8a1.35 1.35 0 1 0 2.70 0a1.35 1.35 0 1 0 -2.70 0M565.3 124.8a1.35 1.35 0 1 0 2.70 0a1.35 1.35 0 1 0 -2.70 0M570.2 124.9a1.35 1.35 0 1 0 2.70 0a1.35 1.35 0 1 0 -2.70 0" fill="#d6d6d6" stroke="#cacaca" stroke-width="0.4"/>
<path d="M610.4 53.8a1.35 1.35 0 1 0 2.70 0a1.35 1.35 0 1 0 -2.70 0M583.6 51.9a1.35 1.35 0 1 0 2.70 0a1.35 1.35 0 1 0 -2.70 0M587.0 60.8a1.35 1.35 0 1 0 2.70 0a1.35 1.35 0 1 0 -2.70 0M619.1 84.3a1.35 1.35 0 1 0 2.70 0a1.35 1.35 0 1 0 -2.70 0M615.6 74.8a1.35 1.35 0 1 0 2.70 0a1.35 1.35 0 1 0 -2.70 0M620.2 75.2a1.35 1.35 0 1 0 2.70 0a1.35 1.35 0 1 0 -2.70 0M611.0 77.2a1.35 1.35 0 1 0 2.70 0a1.35 1.35 0 1 0 -2.70 0M619.1 87.6a1.35 1.35 0 1 0 2.70 0a1.35 1.35 0 1 0 -2.70 0M614.6 85.2a1.35 1.35 0 1 0 2.70 0a1.35 1.35 0 1 0 -2.70 0M570.6 60.0a1.35 1.35 0 1 0 2.70 0a1.35 1.35 0 1 0 -2.70 0M613.8 62.2a1.35 1.35 0 1 0 2.70 0a1.35 1.35 0 1 0 -2.70 0M594.9 77.4a1.35 1.35 0 1 0 2.70 0a1.35 1.35 0 1 0 -2.70 0M610.8 71.8a1.35 1.35 0 1 0 2.70 0a1.35 1.35 0 1 0 -2.70 0M603.9 79.6a1.35 1.35 0 1 0 2.70 0a1.35 1.35 0 1 0 -2.70 0M580.3 77.4a1.35 1.35 0 1 0 2.70 0a1.35 1.35 0 1 0 -2.70 0M603.2 54.6a1.35 1.35 0 1 0 2.70 0a1.35 1.35 0 1 0 -2.70 0M610.8 53.5a1.35 1.35 0 1 0 2.70 0a1.35 1.35 0 1 0 -2.70 0M598.3 50.3a1.35 1.35 0 1 0 2.70 0a1.35 1.35 0 1 0 -2.70 0M633.5 87.4a1.35 1.35 0 1 0 2.70 0a1.35 1.35 0 1 0 -2.70 0M621.7 77.8a1.35 1.35 0 1 0 2.70 0a1.35 1.35 0 1 0 -2.70 0M600.6 79.2a1.35 1.35 0 1 0 2.70 0a1.35 1.35 0 1 0 -2.70 0M610.5 75.2a1.35 1.35 0 1 0 2.70 0a1.35 1.35 0 1 0 -2.70 0M571.2 84.5a1.35 1.35 0 1 0 2.70 0a1.35 1.35 0 1 0 -2.70 0M623.4 67.6a1.35 1.35 0 1 0 2.70 0a1.35 1.35 0 1 0 -2.70 0M574.3 67.4a1.35 1.35 0 1 0 2.70 0a1.35 1.35 0 1 0 -2.70 0M573.4 44.0a1.35 1.35 0 1 0 2.70 0a1.35 1.35 0 1 0 -2.70 0M604.3 74.3a1.35 1.35 0 1 0 2.70 0a1.35 1.35 0 1 0 -2.70 0M613.3 76.1a1.35 1.35 0 1 0 2.70 0a1.35 1.35 0 1 0 -2.70 0M619.7 69.4a1.35 1.35 0 1 0 2.70 0a1.35 1.35 0 1 0 -2.70 0M621.6 84.3a1.35 1.35 0 1 0 2.70 0a1.35 1.35 0 1 0 -2.70 0M533.0 58.2a1.35 1.35 0 1 0 2.70 0a1.35 1.35 0 1 0 -2.70 0M531.4 65.1a1.35 1.35 0 1 0 2.70 0a1.35 1.35 0 1 0 -2.70 0M544.2 58.2a1.35 1.35 0 1 0 2.70 0a1.35 1.35 0 1 0 -2.70 0M545.4 65.1a1.35 1.35 0 1 0 2.70 0a1.35 1.35 0 1 0 -2.70 0M547.5 65.1a1.35 1.35 0 1 0 2.70 0a1.35 1.35 0 1 0 -2.70 0M551.9 65.1a1.35 1.35 0 1 0 2.70 0a1.35 1.35 0 1 0 -2.70 0M550.2 73.3a1.35 1.35 0 1 0 2.70 0a1.35 1.35 0 1 0 -2.70 0M551.9 76.2a1.35 1.35 0 1 0 2.70 0a1.35 1.35 0 1 0 -2.70 0M556.4 78.9a1.35 1.35 0 1 0 2.70 0a1.35 1.35 0 1 0 -2.70 0M538.6 76.7a1.35 1.35 0 1 0 2.70 0a1.35 1.35 0 1 0 -2.70 0M546.4 79.6a1.35 1.35 0 1 0 2.70 0a1.35 1.35 0 1 0 -2.70 0M533.0 83.3a1.35 1.35 0 1 0 2.70 0a1.35 1.35 0 1 0 -2.70 0M538.2 85.6a1.35 1.35 0 1 0 2.70 0a1.35 1.35 0 1 0 -2.70 0M539.1 87.5a1.35 1.35 0 1 0 2.70 0a1.35 1.35 0 1 0 -2.70 0M549.8 82.2a1.35 1.35 0 1 0 2.70 0a1.35 1.35 0 1 0 -2.70 0M546.4 86.7a1.35 1.35 0 1 0 2.70 0a1.35 1.35 0 1 0 -2.70 0M567.5 65.6a1.35 1.35 0 1 0 2.70 0a1.35 1.35 0 1 0 -2.70 0M569.8 79.6a1.35 1.35 0 1 0 2.70 0a1.35 1.35 0 1 0 -2.70 0M576.4 38.9a1.35 1.35 0 1 0 2.70 0a1.35 1.35 0 1 0 -2.70 0M575.8 44.4a1.35 1.35 0 1 0 2.70 0a1.35 1.35 0 1 0 -2.70 0M581.9 44.0a1.35 1.35 0 1 0 2.70 0a1.35 1.35 0 1 0 -2.70 0" fill="none" stroke="#f9c4c4" stroke-width="0.5"/>
<path d="M581.2 81.8a1.35 1.35 0 1 0 2.70 0a1.35 1.35 0 1 0 -2.70 0M584.6 67.7a1.35 1.35 0 1 0 2.70 0a1.35 1.35 0 1 0 -2.70 0M584.8 80.1a1.35 1.35 0 1 0 2.70 0a1.35 1.35 0 1 0 -2.70 0M590.3 70.4a1.35 1.35 0 1 0 2.70 0a1.35 1.35 0 1 0 -2.70 0M585.2 76.7a1.35 1.35 0 1 0 2.70 0a1.35 1.35 0 1 0 -2.70 0M574.0 70.6a1.35 1.35 0 1 0 2.70 0a1.35 1.35 0 1 0 -2.70 0M573.4 87.5a1.35 1.35 0 1 0 2.70 0a1.35 1.35 0 1 0 -2.70 0M591.1 69.1a1.35 1.35 0 1 0 2.70 0a1.35 1.35 0 1 0 -2.70 0M588.0 75.2a1.35 1.35 0 1 0 2.70 0a1.35 1.35 0 1 0 -2.70 0M591.1 69.5a1.35 1.35 0 1 0 2.70 0a1.35 1.35 0 1 0 -2.70 0M592.4 71.6a1.35 1.35 0 1 0 2.70 0a1.35 1.35 0 1 0 -2.70 0M584.1 86.3a1.35 1.35 0 1 0 2.70 0a1.35 1.35 0 1 0 -2.70 0M588.7 65.9a1.35 1.35 0 1 0 2.70 0a1.35 1.35 0 1 0 -2.70 0M586.0 65.8a1.35 1.35 0 1 0 2.70 0a1.35 1.35 0 1 0 -2.70 0M576.8 82.6a1.35 1.35 0 1 0 2.70 0a1.35 1.35 0 1 0 -2.70 0M569.6 86.1a1.35 1.35 0 1 0 2.70 0a1.35 1.35 0 1 0 -2.70 0M577.2 86.3a1.35 1.35 0 1 0 2.70 0a1.35 1.35 0 1 0 -2.70 0M572.4 56.4a1.35 1.35 0 1 0 2.70 0a1.35 1.35 0 1 0 -2.70 0M576.0 78.1a1.35 1.35 0 1 0 2.70 0a1.35 1.35 0 1 0 -2.70 0M579.8 68.6a1.35 1.35 0 1 0 2.70 0a1.35 1.35 0 1 0 -2.70 0M571.4 82.9a1.35 1.35 0 1 0 2.70 0a1.35 1.35 0 1 0 -2.70 0M581.0 79.0a1.35 1.35 0 1 0 2.70 0a1.35 1.35 0 1 0 -2.70 0M594.4 79.8a1.35 1.35 0 1 0 2.70 0a1.35 1.35 0 1 0 -2.70 0M573.3 74.4a1.35 1.35 0 1 0 2.70 0a1.35 1.35 0 1 0 -2.70 0M579.4 87.9a1.35 1.35 0 1 0 2.70 0a1.35 1.35 0 1 0 -2.70 0M586.8 79.0a1.35 1.35 0 1 0 2.70 0a1.35 1.35 0 1 0 -2.70 0M582.3 65.7a1.35 1.35 0 1 0 2.70 0a1.35 1.35 0 1 0 -2.70 0M594.0 72.2a1.35 1.35 0 1 0 2.70 0a1.35 1.35 0 1 0 -2.70 0M596.6 73.0a1.35 1.35 0 1 0 2.70 0a1.35 1.35 0 1 0 -2.70 0M588.0 64.1a1.35 1.35 0 1 0 2.70 0a1.35 1.35 0 1 0 -2.70 0M587.8 63.8a1.35 1.35 0 1 0 2.70 0a1.35 1.35 0 1 0 -2.70 0M588.9 71.7a1.35 1.35 0 1 0 2.70 0a1.35 1.35 0 1 0 -2.70 0M585.2 75.8a1.35 1.35 0 1 0 2.70 0a1.35 1.35 0 1 0 -2.70 0M577.6 85.6a1.35 1.35 0 1 0 2.70 0a1.35 1.35 0 1 0 -2.70 0M578.7 71.7a1.35 1.35 0 1 0 2.70 0a1.35 1.35 0 1 0 -2.70 0M592.6 70.6a1.35 1.35 0 1 0 2.70 0a1.35 1.35 0 1 0 -2.70 0M587.4 60.3a1.35 1.35 0 1 0 2.70 0a1.35 1.35 0 1 0 -2.70 0M573.6 79.4a1.35 1.35 0 1 0 2.70 0a1.35 1.35 0 1 0 -2.70 0M577.2 77.7a1.35 1.35 0 1 0 2.70 0a1.35 1.35 0 1 0 -2.70 0M583.1 70.9a1.35 1.35 0 1 0 2.70 0a1.35 1.35 0 1 0 -2.70 0M580.7 83.3a1.35 1.35 0 1 0 2.70 0a1.35 1.35 0 1 0 -2.70 0M589.3 78.8a1.35 1.35 0 1 0 2.70 0a1.35 1.35 0 1 0 -2.70 0M581.9 81.6a1.35 1.35 0 1 0 2.70 0a1.35 1.35 0 1 0 -2.70 0M582.1 63.1a1.35 1.35 0 1 0 2.70 0a1.35 1.35 0 1 0 -2.70 0M583.5 62.4a1.35 1.35 0 1 0 2.70 0a1.35 1.35 0 1 0 -2.70 0M570.3 80.1a1.35 1.35 0 1 0 2.70 0a1.35 1.35 0 1 0 -2.70 0M570.9 76.0a1.35 1.35 0 1 0 2.70 0a1.35 1.35 0 1 0 -2.70 0M587.3 79.9a1.35 1.35 0 1 0 2.70 0a1.35 1.35 0 1 0 -2.70 0M576.5 87.1a1.35 1.35 0 1 0 2.70 0a1.35 1.35 0 1 0 -2.70 0M578.9 73.5a1.35 1.35 0 1 0 2.70 0a1.35 1.35 0 1 0 -2.70 0M576.2 67.4a1.35 1.35 0 1 0 2.70 0a1.35 1.35 0 1 0 -2.70 0M588.5 60.5a1.35 1.35 0 1 0 2.70 0a1.35 1.35 0 1 0 -2.70 0M588.3 75.0a1.35 1.35 0 1 0 2.70 0a1.35 1.35 0 1 0 -2.70 0M580.8 66.8a1.35 1.35 0 1 0 2.70 0a1.35 1.35 0 1 0 -2.70 0M572.0 86.5a1.35 1.35 0 1 0 2.70 0a1.35 1.35 0 1 0 -2.70 0M595.5 65.4a1.35 1.35 0 1 0 2.70 0a1.35 1.35 0 1 0 -2.70 0M586.2 39.5a1.35 1.35 0 1 0 2.70 0a1.35 1.35 0 1 0 -2.70 0M595.8 65.0a1.35 1.35 0 1 0 2.70 0a1.35 1.35 0 1 0 -2.70 0M587.3 73.0a1.35 1.35 0 1 0 2.70 0a1.35 1.35 0 1 0 -2.70 0M582.8 67.2a1.35 1.35 0 1 0 2.70 0a1.35 1.35 0 1 0 -2.70 0M587.1 84.1a1.35 1.35 0 1 0 2.70 0a1.35 1.35 0 1 0 -2.70 0M585.0 83.6a1.35 1.35 0 1 0 2.70 0a1.35 1.35 0 1 0 -2.70 0M584.6 84.6a1.35 1.35 0 1 0 2.70 0a1.35 1.35 0 1 0 -2.70 0M569.7 85.7a1.35 1.35 0 1 0 2.70 0a1.35 1.35 0 1 0 -2.70 0M579.1 67.7a1.35 1.35 0 1 0 2.70 0a1.35 1.35 0 1 0 -2.70 0M591.6 64.4a1.35 1.35 0 1 0 2.70 0a1.35 1.35 0 1 0 -2.70 0M578.9 83.3a1.35 1.35 0 1 0 2.70 0a1.35 1.35 0 1 0 -2.70 0M589.6 70.4a1.35 1.35 0 1 0 2.70 0a1.35 1.35 0 1 0 -2.70 0M570.8 84.9a1.35 1.35 0 1 0 2.70 0a1.35 1.35 0 1 0 -2.70 0M578.8 84.2a1.35 1.35 0 1 0 2.70 0a1.35 1.35 0 1 0 -2.70 0M578.4 77.7a1.35 1.35 0 1 0 2.70 0a1.35 1.35 0 1 0 -2.70 0M587.1 86.8a1.35 1.35 0 1 0 2.70 0a1.35 1.35 0 1 0 -2.70 0M578.0 80.0a1.35 1.35 0 1 0 2.70 0a1.35 1.35 0 1 0 -2.70 0M593.3 67.5a1.35 1.35 0 1 0 2.70 0a1.35 1.35 0 1 0 -2.70 0M586.2 61.3a1.35 1.35 0 1 0 2.70 0a1.35 1.35 0 1 0 -2.70 0M588.7 85.0a1.35 1.35 0 1 0 2.70 0a1.35 1.35 0 1 0 -2.70 0M582.9 81.8a1.35 1.35 0 1 0 2.70 0a1.35 1.35 0 1 0 -2.70 0M578.7 86.6a1.35 1.35 0 1 0 2.70 0a1.35 1.35 0 1 0 -2.70 0M578.1 78.8a1.35 1.35 0 1 0 2.70 0a1.35 1.35 0 1 0 -2.70 0M579.7 82.2a1.35 1.35 0 1 0 2.70 0a1.35 1.35 0 1 0 -2.70 0M585.4 68.1a1.35 1.35 0 1 0 2.70 0a1.35 1.35 0 1 0 -2.70 0M595.5 64.5a1.35 1.35 0 1 0 2.70 0a1.35 1.35 0 1 0 -2.70 0M580.9 59.6a1.35 1.35 0 1 0 2.70 0a1.35 1.35 0 1 0 -2.70 0M583.6 77.0a1.35 1.35 0 1 0 2.70 0a1.35 1.35 0 1 0 -2.70 0M579.9 87.0a1.35 1.35 0 1 0 2.70 0a1.35 1.35 0 1 0 -2.70 0M573.6 87.1a1.35 1.35 0 1 0 2.70 0a1.35 1.35 0 1 0 -2.70 0M577.0 71.2a1.35 1.35 0 1 0 2.70 0a1.35 1.35 0 1 0 -2.70 0M591.9 86.0a1.35 1.35 0 1 0 2.70 0a1.35 1.35 0 1 0 -2.70 0M584.0 72.6a1.35 1.35 0 1 0 2.70 0a1.35 1.35 0 1 0 -2.70 0M576.4 88.0a1.35 1.35 0 1 0 2.70 0a1.35 1.35 0 1 0 -2.70 0M580.5 81.0a1.35 1.35 0 1 0 2.70 0a1.35 1.35 0 1 0 -2.70 0M581.8 69.0a1.35 1.35 0 1 0 2.70 0a1.35 1.35 0 1 0 -2.70 0M585.5 79.9a1.35 1.35 0 1 0 2.70 0a1.35 1.35 0 1 0 -2.70 0M580.0 82.2a1.35 1.35 0 1 0 2.70 0a1.35 1.35 0 1 0 -2.70 0M584.2 77.5a1.35 1.35 0 1 0 2.70 0a1.35 1.35 0 1 0 -2.70 0M577.7 86.4a1.35 1.35 0 1 0 2.70 0a1.35 1.35 0 1 0 -2.70 0M592.6 57.9a1.35 1.35 0 1 0 2.70 0a1.35 1.35 0 1 0 -2.70 0M579.6 77.1a1.35 1.35 0 1 0 2.70 0a1.35 1.35 0 1 0 -2.70 0M583.2 85.8a1.35 1.35 0 1 0 2.70 0a1.35 1.35 0 1 0 -2.70 0M588.7 74.6a1.35 1.35 0 1 0 2.70 0a1.35 1.35 0 1 0 -2.70 0M589.1 77.7a1.35 1.35 0 1 0 2.70 0a1.35 1.35 0 1 0 -2.70 0M570.3 74.7a1.35 1.35 0 1 0 2.70 0a1.35 1.35 0 1 0 -2.70 0M579.4 80.3a1.35 1.35 0 1 0 2.70 0a1.35 1.35 0 1 0 -2.70 0M591.8 72.0a1.35 1.35 0 1 0 2.70 0a1.35 1.35 0 1 0 -2.70 0M582.8 76.1a1.35 1.35 0 1 0 2.70 0a1.35 1.35 0 1 0 -2.70 0M589.3 48.3a1.35 1.35 0 1 0 2.70 0a1.35 1.35 0 1 0 -2.70 0M590.8 73.7a1.35 1.35 0 1 0 2.70 0a1.35 1.35 0 1 0 -2.70 0M598.9 68.1a1.35 1.35 0 1 0 2.70 0a1.35 1.35 0 1 0 -2.70 0M593.5 73.3a1.35 1.35 0 1 0 2.70 0a1.35 1.35 0 1 0 -2.70 0M587.1 72.8a1.35 1.35 0 1 0 2.70 0a1.35 1.35 0 1 0 -2.70 0M580.7 70.0a1.35 1.35 0 1 0 2.70 0a1.35 1.35 0 1 0 -2.70 0M581.3 79.5a1.35 1.35 0 1 0 2.70 0a1.35 1.35 0 1 0 -2.70 0M577.4 82.2a1.35 1.35 0 1 0 2.70 0a1.35 1.35 0 1 0 -2.70 0M585.3 77.6a1.35 1.35 0 1 0 2.70 0a1.35 1.35 0 1 0 -2.70 0M583.4 77.0a1.35 1.35 0 1 0 2.70 0a1.35 1.35 0 1 0 -2.70 0M572.1 74.9a1.35 1.35 0 1 0 2.70 0a1.35 1.35 0 1 0 -2.70 0M579.3 59.0a1.35 1.35 0 1 0 2.70 0a1.35 1.35 0 1 0 -2.70 0M578.3 76.3a1.35 1.35 0 1 0 2.70 0a1.35 1.35 0 1 0 -2.70 0M578.4 74.9a1.35 1.35 0 1 0 2.70 0a1.35 1.35 0 1 0 -2.70 0M584.7 79.8a1.35 1.35 0 1 0 2.70 0a1.35 1.35 0 1 0 -2.70 0M585.4 72.4a1.35 1.35 0 1 0 2.70 0a1.35 1.35 0 1 0 -2.70 0M583.4 71.3a1.35 1.35 0 1 0 2.70 0a1.35 1.35 0 1 0 -2.70 0M581.5 77.2a1.35 1.35 0 1 0 2.70 0a1.35 1.35 0 1 0 -2.70 0M580.6 75.6a1.35 1.35 0 1 0 2.70 0a1.35 1.35 0 1 0 -2.70 0M583.6 85.7a1.35 1.35 0 1 0 2.70 0a1.35 1.35 0 1 0 -2.70 0M574.9 56.1a1.35 1.35 0 1 0 2.70 0a1.35 1.35 0 1 0 -2.70 0M581.4 80.9a1.35 1.35 0 1 0 2.70 0a1.35 1.35 0 1 0 -2.70 0M582.2 87.7a1.35 1.35 0 1 0 2.70 0a1.35 1.35 0 1 0 -2.70 0M577.9 85.8a1.35 1.35 0 1 0 2.70 0a1.35 1.35 0 1 0 -2.70 0M585.6 86.4a1.35 1.35 0 1 0 2.70 0a1.35 1.35 0 1 0 -2.70 0M581.8 83.3a1.35 1.35 0 1 0 2.70 0a1.35 1.35 0 1 0 -2.70 0M585.5 73.4a1.35 1.35 0 1 0 2.70 0a1.35 1.35 0 1 0 -2.70 0M579.5 71.7a1.35 1.35 0 1 0 2.70 0a1.35 1.35 0 1 0 -2.70 0M581.8 86.0a1.35 1.35 0 1 0 2.70 0a1.35 1.35 0 1 0 -2.70 0M590.2 72.8a1.35 1.35 0 1 0 2.70 0a1.35 1.35 0 1 0 -2.70 0M579.8 81.2a1.35 1.35 0 1 0 2.70 0a1.35 1.35 0 1 0 -2.70 0M578.9 87.7a1.35 1.35 0 1 0 2.70 0a1.35 1.35 0 1 0 -2.70 0M589.2 63.8a1.35 1.35 0 1 0 2.70 0a1.35 1.35 0 1 0 -2.70 0M576.7 78.8a1.35 1.35 0 1 0 2.70 0a1.35 1.35 0 1 0 -2.70 0M578.3 70.7a1.35 1.35 0 1 0 2.70 0a1.35 1.35 0 1 0 -2.70 0M582.9 82.9a1.35 1.35 0 1 0 2.70 0a1.35 1.35 0 1 0 -2.70 0M577.7 73.1a1.35 1.35 0 1 0 2.70 0a1.35 1.35 0 1 0 -2.70 0M583.4 81.6a1.35 1.35 0 1 0 2.70 0a1.35 1.35 0 1 0 -2.70 0M592.6 76.9a1.35 1.35 0 1 0 2.70 0a1.35 1.35 0 1 0 -2.70 0M579.3 86.6a1.35 1.35 0 1 0 2.70 0a1.35 1.35 0 1 0 -2.70 0M573.5 75.7a1.35 1.35 0 1 0 2.70 0a1.35 1.35 0 1 0 -2.70 0M574.3 85.3a1.35 1.35 0 1 0 2.70 0a1.35 1.35 0 1 0 -2.70 0M573.3 71.2a1.35 1.35 0 1 0 2.70 0a1.35 1.35 0 1 0 -2.70 0M591.6 64.9a1.35 1.35 0 1 0 2.70 0a1.35 1.35 0 1 0 -2.70 0M584.1 75.7a1.35 1.35 0 1 0 2.70 0a1.35 1.35 0 1 0 -2.70 0M584.1 73.5a1.35 1.35 0 1 0 2.70 0a1.35 1.35 0 1 0 -2.70 0M574.6 81.2a1.35 1.35 0 1 0 2.70 0a1.35 1.35 0 1 0 -2.70 0M588.8 77.2a1.35 1.35 0 1 0 2.70 0a1.35 1.35 0 1 0 -2.70 0M579.0 70.2a1.35 1.35 0 1 0 2.70 0a1.35 1.35 0 1 0 -2.70 0M572.0 84.2a1.35 1.35 0 1 0 2.70 0a1.35 1.35 0 1 0 -2.70 0M589.3 71.8a1.35 1.35 0 1 0 2.70 0a1.35 1.35 0 1 0 -2.70 0M582.2 80.7a1.35 1.35 0 1 0 2.70 0a1.35 1.35 0 1 0 -2.70 0M578.5 86.1a1.35 1.35 0 1 0 2.70 0a1.35 1.35 0 1 0 -2.70 0M579.7 72.5a1.35 1.35 0 1 0 2.70 0a1.35 1.35 0 1 0 -2.70 0M585.6 75.3a1.35 1.35 0 1 0 2.70 0a1.35 1.35 0 1 0 -2.70 0M573.6 74.2a1.35 1.35 0 1 0 2.70 0a1.35 1.35 0 1 0 -2.70 0M582.8 77.3a1.35 1.35 0 1 0 2.70 0a1.35 1.35 0 1 0 -2.70 0M589.1 70.2a1.35 1.35 0 1 0 2.70 0a1.35 1.35 0 1 0 -2.70 0M588.2 71.8a1.35 1.35 0 1 0 2.70 0a1.35 1.35 0 1 0 -2.70 0M571.2 64.6a1.35 1.35 0 1 0 2.70 0a1.35 1.35 0 1 0 -2.70 0M582.6 66.9a1.35 1.35 0 1 0 2.70 0a1.35 1.35 0 1 0 -2.70 0M580.5 80.4a1.35 1.35 0 1 0 2.70 0a1.35 1.35 0 1 0 -2.70 0M589.6 79.3a1.35 1.35 0 1 0 2.70 0a1.35 1.35 0 1 0 -2.70 0M588.4 80.6a1.35 1.35 0 1 0 2.70 0a1.35 1.35 0 1 0 -2.70 0M585.3 63.6a1.35 1.35 0 1 0 2.70 0a1.35 1.35 0 1 0 -2.70 0M577.4 61.5a1.35 1.35 0 1 0 2.70 0a1.35 1.35 0 1 0 -2.70 0M583.7 74.9a1.35 1.35 0 1 0 2.70 0a1.35 1.35 0 1 0 -2.70 0M589.2 51.8a1.35 1.35 0 1 0 2.70 0a1.35 1.35 0 1 0 -2.70 0M594.6 77.1a1.35 1.35 0 1 0 2.70 0a1.35 1.35 0 1 0 -2.70 0M588.6 66.8a1.35 1.35 0 1 0 2.70 0a1.35 1.35 0 1 0 -2.70 0M592.8 77.6a1.35 1.35 0 1 0 2.70 0a1.35 1.35 0 1 0 -2.70 0M587.0 86.8a1.35 1.35 0 1 0 2.70 0a1.35 1.35 0 1 0 -2.70 0M573.0 87.7a1.35 1.35 0 1 0 2.70 0a1.35 1.35 0 1 0 -2.70 0M600.1 58.0a1.35 1.35 0 1 0 2.70 0a1.35 1.35 0 1 0 -2.70 0M573.4 84.5a1.35 1.35 0 1 0 2.70 0a1.35 1.35 0 1 0 -2.70 0M588.6 83.9a1.35 1.35 0 1 0 2.70 0a1.35 1.35 0 1 0 -2.70 0M601.4 67.3a1.35 1.35 0 1 0 2.70 0a1.35 1.35 0 1 0 -2.70 0M578.8 84.7a1.35 1.35 0 1 0 2.70 0a1.35 1.35 0 1 0 -2.70 0M586.3 69.7a1.35 1.35 0 1 0 2.70 0a1.35 1.35 0 1 0 -2.70 0M590.3 74.1a1.35 1.35 0 1 0 2.70 0a1.35 1.35 0 1 0 -2.70 0M590.1 81.5a1.35 1.35 0 1 0 2.70 0a1.35 1.35 0 1 0 -2.70 0M575.6 75.2a1.35 1.35 0 1 0 2.70 0a1.35 1.35 0 1 0 -2.70 0M579.6 79.0a1.35 1.35 0 1 0 2.70 0a1.35 1.35 0 1 0 -2.70 0M583.3 57.8a1.35 1.35 0 1 0 2.70 0a1.35 1.35 0 1 0 -2.70 0M577.5 79.0a1.35 1.35 0 1 0 2.70 0a1.35 1.35 0 1 0 -2.70 0M581.1 69.9a1.35 1.35 0 1 0 2.70 0a1.35 1.35 0 1 0 -2.70 0M571.1 86.7a1.35 1.35 0 1 0 2.70 0a1.35 1.35 0 1 0 -2.70 0M585.3 85.4a1.35 1.35 0 1 0 2.70 0a1.35 1.35 0 1 0 -2.70 0M588.7 85.3a1.35 1.35 0 1 0 2.70 0a1.35 1.35 0 1 0 -2.70 0M587.6 57.3a1.35 1.35 0 1 0 2.70 0a1.35 1.35 0 1 0 -2.70 0M573.6 86.0a1.35 1.35 0 1 0 2.70 0a1.35 1.35 0 1 0 -2.70 0M575.4 87.4a1.35 1.35 0 1 0 2.70 0a1.35 1.35 0 1 0 -2.70 0M579.5 82.0a1.35 1.35 0 1 0 2.70 0a1.35 1.35 0 1 0 -2.70 0M575.7 80.9a1.35 1.35 0 1 0 2.70 0a1.35 1.35 0 1 0 -2.70 0M587.4 70.1a1.35 1.35 0 1 0 2.70 0a1.35 1.35 0 1 0 -2.70 0M585.3 62.8a1.35 1.35 0 1 0 2.70 0a1.35 1.35 0 1 0 -2.70 0M583.1 80.9a1.35 1.35 0 1 0 2.70 0a1.35 1.35 0 1 0 -2.70 0M574.7 81.4a1.35 1.35 0 1 0 2.70 0a1.35 1.35 0 1 0 -2.70 0M580.2 87.8a1.35 1.35 0 1 0 2.70 0a1.35 1.35 0 1 0 -2.70 0M579.9 78.8a1.35 1.35 0 1 0 2.70 0a1.35 1.35 0 1 0 -2.70 0M584.7 74.2a1.35 1.35 0 1 0 2.70 0a1.35 1.35 0 1 0 -2.70 0M596.9 69.0a1.35 1.35 0 1 0 2.70 0a1.35 1.35 0 1 0 -2.70 0M587.4 87.6a1.35 1.35 0 1 0 2.70 0a1.35 1.35 0 1 0 -2.70 0M586.8 71.0a1.35 1.35 0 1 0 2.70 0a1.35 1.35 0 1 0 -2.70 0M588.0 86.1a1.35 1.35 0 1 0 2.70 0a1.35 1.35 0 1 0 -2.70 0M571.7 75.6a1.35 1.35 0 1 0 2.70 0a1.35 1.35 0 1 0 -2.70 0M573.6 71.7a1.35 1.35 0 1 0 2.70 0a1.35 1.35 0 1 0 -2.70 0M584.5 69.0a1.35 1.35 0 1 0 2.70 0a1.35 1.35 0 1 0 -2.70 0M589.4 71.0a1.35 1.35 0 1 0 2.70 0a1.35 1.35 0 1 0 -2.70 0M573.6 87.4a1.35 1.35 0 1 0 2.70 0a1.35 1.35 0 1 0 -2.70 0M586.3 77.5a1.35 1.35 0 1 0 2.70 0a1.35 1.35 0 1 0 -2.70 0M578.8 68.6a1.35 1.35 0 1 0 2.70 0a1.35 1.35 0 1 0 -2.70 0M581.0 61.7a1.35 1.35 0 1 0 2.70 0a1.35 1.35 0 1 0 -2.70 0M584.9 82.7a1.35 1.35 0 1 0 2.70 0a1.35 1.35 0 1 0 -2.70 0M589.9 74.4a1.35 1.35 0 1 0 2.70 0a1.35 1.35 0 1 0 -2.70 0M585.2 52.2a1.35 1.35 0 1 0 2.70 0a1.35 1.35 0 1 0 -2.70 0M578.7 71.2a1.35 1.35 0 1 0 2.70 0a1.35 1.35 0 1 0 -2.70 0M588.2 62.1a1.35 1.35 0 1 0 2.70 0a1.35 1.35 0 1 0 -2.70 0M588.5 70.7a1.35 1.35 0 1 0 2.70 0a1.35 1.35 0 1 0 -2.70 0M582.0 60.3a1.35 1.35 0 1 0 2.70 0a1.35 1.35 0 1 0 -2.70 0M576.1 80.0a1.35 1.35 0 1 0 2.70 0a1.35 1.35 0 1 0 -2.70 0M583.3 79.7a1.35 1.35 0 1 0 2.70 0a1.35 1.35 0 1 0 -2.70 0M584.8 80.7a1.35 1.35 0 1 0 2.70 0a1.35 1.35 0 1 0 -2.70 0M598.5 85.0a1.35 1.35 0 1 0 2.70 0a1.35 1.35 0 1 0 -2.70 0M570.7 72.6a1.35 1.35 0 1 0 2.70 0a1.35 1.35 0 1 0 -2.70 0M583.7 80.0a1.35 1.35 0 1 0 2.70 0a1.35 1.35 0 1 0 -2.70 0M597.5 67.6a1.35 1.35 0 1 0 2.70 0a1.35 1.35 0 1 0 -2.70 0M572.7 78.1a1.35 1.35 0 1 0 2.70 0a1.35 1.35 0 1 0 -2.70 0M586.6 81.9a1.35 1.35 0 1 0 2.70 0a1.35 1.35 0 1 0 -2.70 0M577.2 54.4a1.35 1.35 0 1 0 2.70 0a1.35 1.35 0 1 0 -2.70 0M582.7 69.9a1.35 1.35 0 1 0 2.70 0a1.35 1.35 0 1 0 -2.70 0M581.5 81.8a1.35 1.35 0 1 0 2.70 0a1.35 1.35 0 1 0 -2.70 0M571.7 78.0a1.35 1.35 0 1 0 2.70 0a1.35 1.35 0 1 0 -2.70 0M587.1 81.7a1.35 1.35 0 1 0 2.70 0a1.35 1.35 0 1 0 -2.70 0M578.5 76.7a1.35 1.35 0 1 0 2.70 0a1.35 1.35 0 1 0 -2.70 0M585.3 80.2a1.35 1.35 0 1 0 2.70 0a1.35 1.35 0 1 0 -2.70 0M579.7 81.1a1.35 1.35 0 1 0 2.70 0a1.35 1.35 0 1 0 -2.70 0M600.8 87.2a1.35 1.35 0 1 0 2.70 0a1.35 1.35 0 1 0 -2.70 0M574.8 85.5a1.35 1.35 0 1 0 2.70 0a1.35 1.35 0 1 0 -2.70 0M577.1 85.8a1.35 1.35 0 1 0 2.70 0a1.35 1.35 0 1 0 -2.70 0M571.7 71.6a1.35 1.35 0 1 0 2.70 0a1.35 1.35 0 1 0 -2.70 0M586.3 76.0a1.35 1.35 0 1 0 2.70 0a1.35 1.35 0 1 0 -2.70 0M585.9 87.5a1.35 1.35 0 1 0 2.70 0a1.35 1.35 0 1 0 -2.70 0M587.5 69.2a1.35 1.35 0 1 0 2.70 0a1.35 1.35 0 1 0 -2.70 0M575.0 71.8a1.35 1.35 0 1 0 2.70 0a1.35 1.35 0 1 0 -2.70 0M576.5 80.7a1.35 1.35 0 1 0 2.70 0a1.35 1.35 0 1 0 -2.70 0M586.3 83.0a1.35 1.35 0 1 0 2.70 0a1.35 1.35 0 1 0 -2.70 0M588.3 73.2a1.35 1.35 0 1 0 2.70 0a1.35 1.35 0 1 0 -2.70 0M586.5 55.7a1.35 1.35 0 1 0 2.70 0a1.35 1.35 0 1 0 -2.70 0M589.3 74.1a1.35 1.35 0 1 0 2.70 0a1.35 1.35 0 1 0 -2.70 0M574.9 70.1a1.35 1.35 0 1 0 2.70 0a1.35 1.35 0 1 0 -2.70 0M569.6 87.8a1.35 1.35 0 1 0 2.70 0a1.35 1.35 0 1 0 -2.70 0M584.9 84.1a1.35 1.35 0 1 0 2.70 0a1.35 1.35 0 1 0 -2.70 0M591.8 81.4a1.35 1.35 0 1 0 2.70 0a1.35 1.35 0 1 0 -2.70 0M591.4 83.5a1.35 1.35 0 1 0 2.70 0a1.35 1.35 0 1 0 -2.70 0M586.3 80.2a1.35 1.35 0 1 0 2.70 0a1.35 1.35 0 1 0 -2.70 0M588.0 86.1a1.35 1.35 0 1 0 2.70 0a1.35 1.35 0 1 0 -2.70 0M588.3 77.5a1.35 1.35 0 1 0 2.70 0a1.35 1.35 0 1 0 -2.70 0M579.6 71.7a1.35 1.35 0 1 0 2.70 0a1.35 1.35 0 1 0 -2.70 0M578.3 74.7a1.35 1.35 0 1 0 2.70 0a1.35 1.35 0 1 0 -2.70 0M583.4 87.7a1.35 1.35 0 1 0 2.70 0a1.35 1.35 0 1 0 -2.70 0M597.3 75.1a1.35 1.35 0 1 0 2.70 0a1.35 1.35 0 1 0 -2.70 0M588.0 64.4a1.35 1.35 0 1 0 2.70 0a1.35 1.35 0 1 0 -2.70 0M573.2 82.8a1.35 1.35 0 1 0 2.70 0a1.35 1.35 0 1 0 -2.70 0M587.2 75.9a1.35 1.35 0 1 0 2.70 0a1.35 1.35 0 1 0 -2.70 0M580.4 84.3a1.35 1.35 0 1 0 2.70 0a1.35 1.35 0 1 0 -2.70 0M569.6 86.7a1.35 1.35 0 1 0 2.70 0a1.35 1.35 0 1 0 -2.70 0M581.0 83.0a1.35 1.35 0 1 0 2.70 0a1.35 1.35 0 1 0 -2.70 0M584.4 73.1a1.35 1.35 0 1 0 2.70 0a1.35 1.35 0 1 0 -2.70 0M595.3 80.8a1.35 1.35 0 1 0 2.70 0a1.35 1.35 0 1 0 -2.70 0M588.5 72.5a1.35 1.35 0 1 0 2.70 0a1.35 1.35 0 1 0 -2.70 0M571.2 87.6a1.35 1.35 0 1 0 2.70 0a1.35 1.35 0 1 0 -2.70 0M572.3 81.6a1.35 1.35 0 1 0 2.70 0a1.35 1.35 0 1 0 -2.70 0M588.7 86.9a1.35 1.35 0 1 0 2.70 0a1.35 1.35 0 1 0 -2.70 0M590.7 72.7a1.35 1.35 0 1 0 2.70 0a1.35 1.35 0 1 0 -2.70 0M588.0 87.4a1.35 1.35 0 1 0 2.70 0a1.35 1.35 0 1 0 -2.70 0M569.8 84.4a1.35 1.35 0 1 0 2.70 0a1.35 1.35 0 1 0 -2.70 0M570.5 87.1a1.35 1.35 0 1 0 2.70 0a1.35 1.35 0 1 0 -2.70 0M585.1 53.3a1.35 1.35 0 1 0 2.70 0a1.35 1.35 0 1 0 -2.70 0M580.1 70.3a1.35 1.35 0 1 0 2.70 0a1.35 1.35 0 1 0 -2.70 0M586.7 68.8a1.35 1.35 0 1 0 2.70 0a1.35 1.35 0 1 0 -2.70 0M570.3 77.7a1.35 1.35 0 1 0 2.70 0a1.35 1.35 0 1 0 -2.70 0M588.0 76.9a1.35 1.35 0 1 0 2.70 0a1.35 1.35 0 1 0 -2.70 0M582.4 67.0a1.35 1.35 0 1 0 2.70 0a1.35 1.35 0 1 0 -2.70 0M579.0 71.8a1.35 1.35 0 1 0 2.70 0a1.35 1.35 0 1 0 -2.70 0M571.3 82.0a1.35 1.35 0 1 0 2.70 0a1.35 1.35 0 1 0 -2.70 0M574.6 77.3a1.35 1.35 0 1 0 2.70 0a1.35 1.35 0 1 0 -2.70 0M575.3 67.7a1.35 1.35 0 1 0 2.70 0a1.35 1.35 0 1 0 -2.70 0M570.5 82.9a1.35 1.35 0 1 0 2.70 0a1.35 1.35 0 1 0 -2.70 0M585.0 86.7a1.35 1.35 0 1 0 2.70 0a1.35 1.35 0 1 0 -2.70 0M582.9 65.7a1.35 1.35 0 1 0 2.70 0a1.35 1.35 0 1 0 -2.70 0M590.0 64.6a1.35 1.35 0 1 0 2.70 0a1.35 1.35 0 1 0 -2.70 0M585.1 85.1a1.35 1.35 0 1 0 2.70 0a1.35 1.35 0 1 0 -2.70 0M596.5 65.9a1.35 1.35 0 1 0 2.70 0a1.35 1.35 0 1 0 -2.70 0M582.6 76.9a1.35 1.35 0 1 0 2.70 0a1.35 1.35 0 1 0 -2.70 0M585.0 75.8a1.35 1.35 0 1 0 2.70 0a1.35 1.35 0 1 0 -2.70 0M583.2 85.3a1.35 1.35 0 1 0 2.70 0a1.35 1.35 0 1 0 -2.70 0M578.0 61.7a1.35 1.35 0 1 0 2.70 0a1.35 1.35 0 1 0 -2.70 0M573.0 87.2a1.35 1.35 0 1 0 2.70 0a1.35 1.35 0 1 0 -2.70 0M591.6 75.3a1.35 1.35 0 1 0 2.70 0a1.35 1.35 0 1 0 -2.70 0M582.6 68.3a1.35 1.35 0 1 0 2.70 0a1.35 1.35 0 1 0 -2.70 0M586.5 86.9a1.35 1.35 0 1 0 2.70 0a1.35 1.35 0 1 0 -2.70 0M583.5 85.0a1.35 1.35 0 1 0 2.70 0a1.35 1.35 0 1 0 -2.70 0M583.4 84.8a1.35 1.35 0 1 0 2.70 0a1.35 1.35 0 1 0 -2.70 0M584.2 86.7a1.35 1.35 0 1 0 2.70 0a1.35 1.35 0 1 0 -2.70 0M582.4 67.4a1.35 1.35 0 1 0 2.70 0a1.35 1.35 0 1 0 -2.70 0M584.3 69.4a1.35 1.35 0 1 0 2.70 0a1.35 1.35 0 1 0 -2.70 0M586.9 77.9a1.35 1.35 0 1 0 2.70 0a1.35 1.35 0 1 0 -2.70 0M576.0 69.6a1.35 1.35 0 1 0 2.70 0a1.35 1.35 0 1 0 -2.70 0M585.6 77.2a1.35 1.35 0 1 0 2.70 0a1.35 1.35 0 1 0 -2.70 0M591.1 66.9a1.35 1.35 0 1 0 2.70 0a1.35 1.35 0 1 0 -2.70 0M581.9 81.2a1.35 1.35 0 1 0 2.70 0a1.35 1.35 0 1 0 -2.70 0M584.9 82.1a1.35 1.35 0 1 0 2.70 0a1.35 1.35 0 1 0 -2.70 0M583.6 80.4a1.35 1.35 0 1 0 2.70 0a1.35 1.35 0 1 0 -2.70 0M571.0 80.1a1.35 1.35 0 1 0 2.70 0a1.35 1.35 0 1 0 -2.70 0M580.7 76.3a1.35 1.35 0 1 0 2.70 0a1.35 1.35 0 1 0 -2.70 0M586.7 71.8a1.35 1.35 0 1 0 2.70 0a1.35 1.35 0 1 0 -2.70 0M583.1 68.1a1.35 1.35 0 1 0 2.70 0a1.35 1.35 0 1 0 -2.70 0M587.8 82.6a1.35 1.35 0 1 0 2.70 0a1.35 1.35 0 1 0 -2.70 0M590.3 84.1a1.35 1.35 0 1 0 2.70 0a1.35 1.35 0 1 0 -2.70 0M577.0 79.9a1.35 1.35 0 1 0 2.70 0a1.35 1.35 0 1 0 -2.70 0M578.0 72.0a1.35 1.35 0 1 0 2.70 0a1.35 1.35 0 1 0 -2.70 0M571.8 86.2a1.35 1.35 0 1 0 2.70 0a1.35 1.35 0 1 0 -2.70 0M577.8 77.4a1.35 1.35 0 1 0 2.70 0a1.35 1.35 0 1 0 -2.70 0M588.1 63.4a1.35 1.35 0 1 0 2.70 0a1.35 1.35 0 1 0 -2.70 0M590.1 83.7a1.35 1.35 0 1 0 2.70 0a1.35 1.35 0 1 0 -2.70 0M588.5 61.2a1.35 1.35 0 1 0 2.70 0a1.35 1.35 0 1 0 -2.70 0M579.7 85.2a1.35 1.35 0 1 0 2.70 0a1.35 1.35 0 1 0 -2.70 0M571.8 84.0a1.35 1.35 0 1 0 2.70 0a1.35 1.35 0 1 0 -2.70 0M582.9 75.5a1.35 1.35 0 1 0 2.70 0a1.35 1.35 0 1 0 -2.70 0M576.5 64.8a1.35 1.35 0 1 0 2.70 0a1.35 1.35 0 1 0 -2.70 0M579.9 70.3a1.35 1.35 0 1 0 2.70 0a1.35 1.35 0 1 0 -2.70 0M591.3 76.3a1.35 1.35 0 1 0 2.70 0a1.35 1.35 0 1 0 -2.70 0M586.8 87.5a1.35 1.35 0 1 0 2.70 0a1.35 1.35 0 1 0 -2.70 0M575.0 85.8a1.35 1.35 0 1 0 2.70 0a1.35 1.35 0 1 0 -2.70 0M581.5 86.8a1.35 1.35 0 1 0 2.70 0a1.35 1.35 0 1 0 -2.70 0M581.7 85.9a1.35 1.35 0 1 0 2.70 0a1.35 1.35 0 1 0 -2.70 0M589.6 82.7a1.35 1.35 0 1 0 2.70 0a1.35 1.35 0 1 0 -2.70 0M578.3 85.5a1.35 1.35 0 1 0 2.70 0a1.35 1.35 0 1 0 -2.70 0M576.7 74.4a1.35 1.35 0 1 0 2.70 0a1.35 1.35 0 1 0 -2.70 0M591.4 87.7a1.35 1.35 0 1 0 2.70 0a1.35 1.35 0 1 0 -2.70 0M591.3 86.7a1.35 1.35 0 1 0 2.70 0a1.35 1.35 0 1 0 -2.70 0M577.9 84.8a1.35 1.35 0 1 0 2.70 0a1.35 1.35 0 1 0 -2.70 0M577.2 86.2a1.35 1.35 0 1 0 2.70 0a1.35 1.35 0 1 0 -2.70 0M578.7 83.4a1.35 1.35 0 1 0 2.70 0a1.35 1.35 0 1 0 -2.70 0M586.4 76.1a1.35 1.35 0 1 0 2.70 0a1.35 1.35 0 1 0 -2.70 0M576.0 85.6a1.35 1.35 0 1 0 2.70 0a1.35 1.35 0 1 0 -2.70 0M589.8 41.8a1.35 1.35 0 1 0 2.70 0a1.35 1.35 0 1 0 -2.70 0M577.0 67.5a1.35 1.35 0 1 0 2.70 0a1.35 1.35 0 1 0 -2.70 0M591.9 78.1a1.35 1.35 0 1 0 2.70 0a1.35 1.35 0 1 0 -2.70 0M576.6 73.0a1.35 1.35 0 1 0 2.70 0a1.35 1.35 0 1 0 -2.70 0M575.7 87.8a1.35 1.35 0 1 0 2.70 0a1.35 1.35 0 1 0 -2.70 0M582.8 84.4a1.35 1.35 0 1 0 2.70 0a1.35 1.35 0 1 0 -2.70 0M585.1 75.1a1.35 1.35 0 1 0 2.70 0a1.35 1.35 0 1 0 -2.70 0M591.4 83.3a1.35 1.35 0 1 0 2.70 0a1.35 1.35 0 1 0 -2.70 0M583.0 67.3a1.35 1.35 0 1 0 2.70 0a1.35 1.35 0 1 0 -2.70 0M579.5 62.2a1.35 1.35 0 1 0 2.70 0a1.35 1.35 0 1 0 -2.70 0M581.0 72.2a1.35 1.35 0 1 0 2.70 0a1.35 1.35 0 1 0 -2.70 0M579.8 78.5a1.35 1.35 0 1 0 2.70 0a1.35 1.35 0 1 0 -2.70 0M586.5 64.8a1.35 1.35 0 1 0 2.70 0a1.35 1.35 0 1 0 -2.70 0M576.9 83.3a1.35 1.35 0 1 0 2.70 0a1.35 1.35 0 1 0 -2.70 0M604.4 73.0a1.35 1.35 0 1 0 2.70 0a1.35 1.35 0 1 0 -2.70 0M582.0 87.9a1.35 1.35 0 1 0 2.70 0a1.35 1.35 0 1 0 -2.70 0M589.4 84.1a1.35 1.35 0 1 0 2.70 0a1.35 1.35 0 1 0 -2.70 0M570.2 74.3a1.35 1.35 0 1 0 2.70 0a1.35 1.35 0 1 0 -2.70 0M585.0 80.4a1.35 1.35 0 1 0 2.70 0a1.35 1.35 0 1 0 -2.70 0M587.7 55.2a1.35 1.35 0 1 0 2.70 0a1.35 1.35 0 1 0 -2.70 0M581.9 76.4a1.35 1.35 0 1 0 2.70 0a1.35 1.35 0 1 0 -2.70 0M577.6 77.5a1.35 1.35 0 1 0 2.70 0a1.35 1.35 0 1 0 -2.70 0M583.4 86.1a1.35 1.35 0 1 0 2.70 0a1.35 1.35 0 1 0 -2.70 0M590.7 79.3a1.35 1.35 0 1 0 2.70 0a1.35 1.35 0 1 0 -2.70 0M581.8 87.6a1.35 1.35 0 1 0 2.70 0a1.35 1.35 0 1 0 -2.70 0M585.0 81.3a1.35 1.35 0 1 0 2.70 0a1.35 1.35 0 1 0 -2.70 0M587.1 81.5a1.35 1.35 0 1 0 2.70 0a1.35 1.35 0 1 0 -2.70 0M587.9 77.1a1.35 1.35 0 1 0 2.70 0a1.35 1.35 0 1 0 -2.70 0" fill="#ffeeee" stroke="#fac4c4" stroke-width="0.5"/>
<path d="M580.7 85.1a1.35 1.35 0 1 0 2.70 0a1.35 1.35 0 1 0 -2.70 0M589.1 83.6a1.35 1.35 0 1 0 2.70 0a1.35 1.35 0 1 0 -2.70 0M573.5 85.8a1.35 1.35 0 1 0 2.70 0a1.35 1.35 0 1 0 -2.70 0M587.4 86.9a1.35 1.35 0 1 0 2.70 0a1.35 1.35 0 1 0 -2.70 0M594.6 86.5a1.35 1.35 0 1 0 2.70 0a1.35 1.35 0 1 0 -2.70 0M589.1 77.8a1.35 1.35 0 1 0 2.70 0a1.35 1.35 0 1 0 -2.70 0M586.7 81.2a1.35 1.35 0 1 0 2.70 0a1.35 1.35 0 1 0 -2.70 0M588.2 83.7a1.35 1.35 0 1 0 2.70 0a1.35 1.35 0 1 0 -2.70 0M587.6 81.2a1.35 1.35 0 1 0 2.70 0a1.35 1.35 0 1 0 -2.70 0M578.7 87.1a1.35 1.35 0 1 0 2.70 0a1.35 1.35 0 1 0 -2.70 0M582.2 80.5a1.35 1.35 0 1 0 2.70 0a1.35 1.35 0 1 0 -2.70 0M575.2 86.3a1.35 1.35 0 1 0 2.70 0a1.35 1.35 0 1 0 -2.70 0M572.0 86.2a1.35 1.35 0 1 0 2.70 0a1.35 1.35 0 1 0 -2.70 0M581.1 84.5a1.35 1.35 0 1 0 2.70 0a1.35 1.35 0 1 0 -2.70 0M582.8 79.7a1.35 1.35 0 1 0 2.70 0a1.35 1.35 0 1 0 -2.70 0M581.6 81.0a1.35 1.35 0 1 0 2.70 0a1.35 1.35 0 1 0 -2.70 0M576.5 80.9a1.35 1.35 0 1 0 2.70 0a1.35 1.35 0 1 0 -2.70 0M572.4 83.0a1.35 1.35 0 1 0 2.70 0a1.35 1.35 0 1 0 -2.70 0M586.9 86.2a1.35 1.35 0 1 0 2.70 0a1.35 1.35 0 1 0 -2.70 0M576.6 86.7a1.35 1.35 0 1 0 2.70 0a1.35 1.35 0 1 0 -2.70 0M589.7 83.2a1.35 1.35 0 1 0 2.70 0a1.35 1.35 0 1 0 -2.70 0M572.2 85.5a1.35 1.35 0 1 0 2.70 0a1.35 1.35 0 1 0 -2.70 0M578.6 79.3a1.35 1.35 0 1 0 2.70 0a1.35 1.35 0 1 0 -2.70 0M579.6 78.2a1.35 1.35 0 1 0 2.70 0a1.35 1.35 0 1 0 -2.70 0M582.0 87.3a1.35 1.35 0 1 0 2.70 0a1.35 1.35 0 1 0 -2.70 0M582.4 85.3a1.35 1.35 0 1 0 2.70 0a1.35 1.35 0 1 0 -2.70 0M586.4 84.9a1.35 1.35 0 1 0 2.70 0a1.35 1.35 0 1 0 -2.70 0M582.0 72.6a1.35 1.35 0 1 0 2.70 0a1.35 1.35 0 1 0 -2.70 0M574.0 83.3a1.35 1.35 0 1 0 2.70 0a1.35 1.35 0 1 0 -2.70 0M584.3 81.4a1.35 1.35 0 1 0 2.70 0a1.35 1.35 0 1 0 -2.70 0M582.9 85.8a1.35 1.35 0 1 0 2.70 0a1.35 1.35 0 1 0 -2.70 0M589.6 86.6a1.35 1.35 0 1 0 2.70 0a1.35 1.35 0 1 0 -2.70 0M586.1 81.6a1.35 1.35 0 1 0 2.70 0a1.35 1.35 0 1 0 -2.70 0M578.1 84.5a1.35 1.35 0 1 0 2.70 0a1.35 1.35 0 1 0 -2.70 0M576.2 81.0a1.35 1.35 0 1 0 2.70 0a1.35 1.35 0 1 0 -2.70 0M572.8 87.2a1.35 1.35 0 1 0 2.70 0a1.35 1.35 0 1 0 -2.70 0M592.1 84.7a1.35 1.35 0 1 0 2.70 0a1.35 1.35 0 1 0 -2.70 0M571.1 87.2a1.35 1.35 0 1 0 2.70 0a1.35 1.35 0 1 0 -2.70 0M579.5 81.3a1.35 1.35 0 1 0 2.70 0a1.35 1.35 0 1 0 -2.70 0M579.5 83.0a1.35 1.35 0 1 0 2.70 0a1.35 1.35 0 1 0 -2.70 0M581.9 82.9a1.35 1.35 0 1 0 2.70 0a1.35 1.35 0 1 0 -2.70 0M586.2 82.0a1.35 1.35 0 1 0 2.70 0a1.35 1.35 0 1 0 -2.70 0M591.3 85.7a1.35 1.35 0 1 0 2.70 0a1.35 1.35 0 1 0 -2.70 0M579.2 85.0a1.35 1.35 0 1 0 2.70 0a1.35 1.35 0 1 0 -2.70 0M578.5 85.2a1.35 1.35 0 1 0 2.70 0a1.35 1.35 0 1 0 -2.70 0M579.0 85.2a1.35 1.35 0 1 0 2.70 0a1.35 1.35 0 1 0 -2.70 0M582.6 81.1a1.35 1.35 0 1 0 2.70 0a1.35 1.35 0 1 0 -2.70 0M580.5 78.9a1.35 1.35 0 1 0 2.70 0a1.35 1.35 0 1 0 -2.70 0M587.3 80.5a1.35 1.35 0 1 0 2.70 0a1.35 1.35 0 1 0 -2.70 0M595.3 87.5a1.35 1.35 0 1 0 2.70 0a1.35 1.35 0 1 0 -2.70 0M583.4 79.2a1.35 1.35 0 1 0 2.70 0a1.35 1.35 0 1 0 -2.70 0M579.7 87.2a1.35 1.35 0 1 0 2.70 0a1.35 1.35 0 1 0 -2.70 0M581.9 87.4a1.35 1.35 0 1 0 2.70 0a1.35 1.35 0 1 0 -2.70 0M580.5 82.0a1.35 1.35 0 1 0 2.70 0a1.35 1.35 0 1 0 -2.70 0M590.1 85.0a1.35 1.35 0 1 0 2.70 0a1.35 1.35 0 1 0 -2.70 0M590.2 83.4a1.35 1.35 0 1 0 2.70 0a1.35 1.35 0 1 0 -2.70 0M583.1 74.3a1.35 1.35 0 1 0 2.70 0a1.35 1.35 0 1 0 -2.70 0M582.5 76.4a1.35 1.35 0 1 0 2.70 0a1.35 1.35 0 1 0 -2.70 0M574.6 84.1a1.35 1.35 0 1 0 2.70 0a1.35 1.35 0 1 0 -2.70 0M588.8 87.1a1.35 1.35 0 1 0 2.70 0a1.35 1.35 0 1 0 -2.70 0M578.0 84.8a1.35 1.35 0 1 0 2.70 0a1.35 1.35 0 1 0 -2.70 0M575.8 87.5a1.35 1.35 0 1 0 2.70 0a1.35 1.35 0 1 0 -2.70 0M571.7 84.7a1.35 1.35 0 1 0 2.70 0a1.35 1.35 0 1 0 -2.70 0M586.8 81.4a1.35 1.35 0 1 0 2.70 0a1.35 1.35 0 1 0 -2.70 0M572.2 87.8a1.35 1.35 0 1 0 2.70 0a1.35 1.35 0 1 0 -2.70 0M592.2 87.1a1.35 1.35 0 1 0 2.70 0a1.35 1.35 0 1 0 -2.70 0M577.2 81.0a1.35 1.35 0 1 0 2.70 0a1.35 1.35 0 1 0 -2.70 0M585.0 85.8a1.35 1.35 0 1 0 2.70 0a1.35 1.35 0 1 0 -2.70 0M581.8 81.4a1.35 1.35 0 1 0 2.70 0a1.35 1.35 0 1 0 -2.70 0M578.1 83.9a1.35 1.35 0 1 0 2.70 0a1.35 1.35 0 1 0 -2.70 0M583.4 81.7a1.35 1.35 0 1 0 2.70 0a1.35 1.35 0 1 0 -2.70 0M576.7 85.7a1.35 1.35 0 1 0 2.70 0a1.35 1.35 0 1 0 -2.70 0M582.3 81.5a1.35 1.35 0 1 0 2.70 0a1.35 1.35 0 1 0 -2.70 0M582.8 74.4a1.35 1.35 0 1 0 2.70 0a1.35 1.35 0 1 0 -2.70 0M581.0 87.1a1.35 1.35 0 1 0 2.70 0a1.35 1.35 0 1 0 -2.70 0M587.7 72.2a1.35 1.35 0 1 0 2.70 0a1.35 1.35 0 1 0 -2.70 0M582.2 86.9a1.35 1.35 0 1 0 2.70 0a1.35 1.35 0 1 0 -2.70 0M584.2 85.6a1.35 1.35 0 1 0 2.70 0a1.35 1.35 0 1 0 -2.70 0M577.0 85.7a1.35 1.35 0 1 0 2.70 0a1.35 1.35 0 1 0 -2.70 0M588.4 85.1a1.35 1.35 0 1 0 2.70 0a1.35 1.35 0 1 0 -2.70 0M584.7 82.8a1.35 1.35 0 1 0 2.70 0a1.35 1.35 0 1 0 -2.70 0M579.0 87.5a1.35 1.35 0 1 0 2.70 0a1.35 1.35 0 1 0 -2.70 0M590.7 84.6a1.35 1.35 0 1 0 2.70 0a1.35 1.35 0 1 0 -2.70 0M569.9 83.3a1.35 1.35 0 1 0 2.70 0a1.35 1.35 0 1 0 -2.70 0M578.8 87.4a1.35 1.35 0 1 0 2.70 0a1.35 1.35 0 1 0 -2.70 0M579.9 83.6a1.35 1.35 0 1 0 2.70 0a1.35 1.35 0 1 0 -2.70 0M574.8 77.8a1.35 1.35 0 1 0 2.70 0a1.35 1.35 0 1 0 -2.70 0M578.5 87.7a1.35 1.35 0 1 0 2.70 0a1.35 1.35 0 1 0 -2.70 0M579.5 81.7a1.35 1.35 0 1 0 2.70 0a1.35 1.35 0 1 0 -2.70 0M579.4 84.9a1.35 1.35 0 1 0 2.70 0a1.35 1.35 0 1 0 -2.70 0M585.9 87.6a1.35 1.35 0 1 0 2.70 0a1.35 1.35 0 1 0 -2.70 0M584.6 72.3a1.35 1.35 0 1 0 2.70 0a1.35 1.35 0 1 0 -2.70 0M594.6 87.5a1.35 1.35 0 1 0 2.70 0a1.35 1.35 0 1 0 -2.70 0M575.4 81.9a1.35 1.35 0 1 0 2.70 0a1.35 1.35 0 1 0 -2.70 0M583.0 85.8a1.35 1.35 0 1 0 2.70 0a1.35 1.35 0 1 0 -2.70 0M584.8 85.7a1.35 1.35 0 1 0 2.70 0a1.35 1.35 0 1 0 -2.70 0M587.9 86.3a1.35 1.35 0 1 0 2.70 0a1.35 1.35 0 1 0 -2.70 0M570.1 85.1a1.35 1.35 0 1 0 2.70 0a1.35 1.35 0 1 0 -2.70 0M573.2 87.9a1.35 1.35 0 1 0 2.70 0a1.35 1.35 0 1 0 -2.70 0M580.0 87.5a1.35 1.35 0 1 0 2.70 0a1.35 1.35 0 1 0 -2.70 0M578.6 75.2a1.35 1.35 0 1 0 2.70 0a1.35 1.35 0 1 0 -2.70 0M580.7 79.2a1.35 1.35 0 1 0 2.70 0a1.35 1.35 0 1 0 -2.70 0M591.0 81.7a1.35 1.35 0 1 0 2.70 0a1.35 1.35 0 1 0 -2.70 0M589.5 83.8a1.35 1.35 0 1 0 2.70 0a1.35 1.35 0 1 0 -2.70 0M573.7 86.0a1.35 1.35 0 1 0 2.70 0a1.35 1.35 0 1 0 -2.70 0M571.7 86.2a1.35 1.35 0 1 0 2.70 0a1.35 1.35 0 1 0 -2.70 0M575.4 82.8a1.35 1.35 0 1 0 2.70 0a1.35 1.35 0 1 0 -2.70 0M570.8 87.4a1.35 1.35 0 1 0 2.70 0a1.35 1.35 0 1 0 -2.70 0M588.6 76.6a1.35 1.35 0 1 0 2.70 0a1.35 1.35 0 1 0 -2.70 0M578.9 85.1a1.35 1.35 0 1 0 2.70 0a1.35 1.35 0 1 0 -2.70 0M582.6 84.5a1.35 1.35 0 1 0 2.70 0a1.35 1.35 0 1 0 -2.70 0M577.3 84.5a1.35 1.35 0 1 0 2.70 0a1.35 1.35 0 1 0 -2.70 0M587.6 78.7a1.35 1.35 0 1 0 2.70 0a1.35 1.35 0 1 0 -2.70 0M590.0 83.6a1.35 1.35 0 1 0 2.70 0a1.35 1.35 0 1 0 -2.70 0M580.8 77.6a1.35 1.35 0 1 0 2.70 0a1.35 1.35 0 1 0 -2.70 0M584.0 85.8a1.35 1.35 0 1 0 2.70 0a1.35 1.35 0 1 0 -2.70 0M569.2 86.3a1.35 1.35 0 1 0 2.70 0a1.35 1.35 0 1 0 -2.70 0M581.4 87.1a1.35 1.35 0 1 0 2.70 0a1.35 1.35 0 1 0 -2.70 0M581.8 86.9a1.35 1.35 0 1 0 2.70 0a1.35 1.35 0 1 0 -2.70 0M588.7 84.9a1.35 1.35 0 1 0 2.70 0a1.35 1.35 0 1 0 -2.70 0M596.0 86.4a1.35 1.35 0 1 0 2.70 0a1.35 1.35 0 1 0 -2.70 0M581.9 86.4a1.35 1.35 0 1 0 2.70 0a1.35 1.35 0 1 0 -2.70 0M579.7 83.3a1.35 1.35 0 1 0 2.70 0a1.35 1.35 0 1 0 -2.70 0M587.6 86.5a1.35 1.35 0 1 0 2.70 0a1.35 1.35 0 1 0 -2.70 0M569.5 76.3a1.35 1.35 0 1 0 2.70 0a1.35 1.35 0 1 0 -2.70 0M584.6 75.9a1.35 1.35 0 1 0 2.70 0a1.35 1.35 0 1 0 -2.70 0M582.0 84.6a1.35 1.35 0 1 0 2.70 0a1.35 1.35 0 1 0 -2.70 0M574.5 86.0a1.35 1.35 0 1 0 2.70 0a1.35 1.35 0 1 0 -2.70 0M574.0 86.8a1.35 1.35 0 1 0 2.70 0a1.35 1.35 0 1 0 -2.70 0M584.1 81.1a1.35 1.35 0 1 0 2.70 0a1.35 1.35 0 1 0 -2.70 0M582.6 86.2a1.35 1.35 0 1 0 2.70 0a1.35 1.35 0 1 0 -2.70 0M573.3 87.7a1.35 1.35 0 1 0 2.70 0a1.35 1.35 0 1 0 -2.70 0M584.2 78.0a1.35 1.35 0 1 0 2.70 0a1.35 1.35 0 1 0 -2.70 0M583.8 87.4a1.35 1.35 0 1 0 2.70 0a1.35 1.35 0 1 0 -2.70 0M587.4 80.4a1.35 1.35 0 1 0 2.70 0a1.35 1.35 0 1 0 -2.70 0M585.2 83.8a1.35 1.35 0 1 0 2.70 0a1.35 1.35 0 1 0 -2.70 0M588.4 87.2a1.35 1.35 0 1 0 2.70 0a1.35 1.35 0 1 0 -2.70 0M586.0 82.2a1.35 1.35 0 1 0 2.70 0a1.35 1.35 0 1 0 -2.70 0M584.2 81.1a1.35 1.35 0 1 0 2.70 0a1.35 1.35 0 1 0 -2.70 0M585.1 83.8a1.35 1.35 0 1 0 2.70 0a1.35 1.35 0 1 0 -2.70 0M574.5 86.0a1.35 1.35 0 1 0 2.70 0a1.35 1.35 0 1 0 -2.70 0M579.6 85.4a1.35 1.35 0 1 0 2.70 0a1.35 1.35 0 1 0 -2.70 0M576.8 82.8a1.35 1.35 0 1 0 2.70 0a1.35 1.35 0 1 0 -2.70 0M583.3 82.3a1.35 1.35 0 1 0 2.70 0a1.35 1.35 0 1 0 -2.70 0M573.0 86.8a1.35 1.35 0 1 0 2.70 0a1.35 1.35 0 1 0 -2.70 0M599.2 77.1a1.35 1.35 0 1 0 2.70 0a1.35 1.35 0 1 0 -2.70 0M578.6 86.3a1.35 1.35 0 1 0 2.70 0a1.35 1.35 0 1 0 -2.70 0M573.9 77.1a1.35 1.35 0 1 0 2.70 0a1.35 1.35 0 1 0 -2.70 0M582.0 87.4a1.35 1.35 0 1 0 2.70 0a1.35 1.35 0 1 0 -2.70 0M575.5 83.3a1.35 1.35 0 1 0 2.70 0a1.35 1.35 0 1 0 -2.70 0M587.0 85.0a1.35 1.35 0 1 0 2.70 0a1.35 1.35 0 1 0 -2.70 0M579.6 85.3a1.35 1.35 0 1 0 2.70 0a1.35 1.35 0 1 0 -2.70 0M575.1 78.0a1.35 1.35 0 1 0 2.70 0a1.35 1.35 0 1 0 -2.70 0M584.1 80.4a1.35 1.35 0 1 0 2.70 0a1.35 1.35 0 1 0 -2.70 0" fill="#ffeeee" stroke="#fac4c4" stroke-width="0.45"/>
<path d="M586.2 35.0a1.55 1.55 0 1 0 3.10 0a1.55 1.55 0 1 0 -3.10 0M591.7 32.8a1.55 1.55 0 1 0 3.10 0a1.55 1.55 0 1 0 -3.10 0M600.2 32.8a1.55 1.55 0 1 0 3.10 0a1.55 1.55 0 1 0 -3.10 0M604.6 32.8a1.55 1.55 0 1 0 3.10 0a1.55 1.55 0 1 0 -3.10 0M606.2 35.7a1.55 1.55 0 1 0 3.10 0a1.55 1.55 0 1 0 -3.10 0M608.6 33.9a1.55 1.55 0 1 0 3.10 0a1.55 1.55 0 1 0 -3.10 0M610.4 35.0a1.55 1.55 0 1 0 3.10 0a1.55 1.55 0 1 0 -3.10 0M613.9 34.3a1.55 1.55 0 1 0 3.10 0a1.55 1.55 0 1 0 -3.10 0M621.9 33.4a1.55 1.55 0 1 0 3.10 0a1.55 1.55 0 1 0 -3.10 0M627.9 35.0a1.55 1.55 0 1 0 3.10 0a1.55 1.55 0 1 0 -3.10 0M627.5 40.6a1.55 1.55 0 1 0 3.10 0a1.55 1.55 0 1 0 -3.10 0M598.4 39.2a1.55 1.55 0 1 0 3.10 0a1.55 1.55 0 1 0 -3.10 0M603.5 40.6a1.55 1.55 0 1 0 3.10 0a1.55 1.55 0 1 0 -3.10 0M609.7 42.3a1.55 1.55 0 1 0 3.10 0a1.55 1.55 0 1 0 -3.10 0M616.4 42.8a1.55 1.55 0 1 0 3.10 0a1.55 1.55 0 1 0 -3.10 0M581.9 43.9a1.55 1.55 0 1 0 3.10 0a1.55 1.55 0 1 0 -3.10 0M595.7 46.3a1.55 1.55 0 1 0 3.10 0a1.55 1.55 0 1 0 -3.10 0M596.4 49.9a1.55 1.55 0 1 0 3.10 0a1.55 1.55 0 1 0 -3.10 0M584.2 56.8a1.55 1.55 0 1 0 3.10 0a1.55 1.55 0 1 0 -3.10 0M590.6 58.3a1.55 1.55 0 1 0 3.10 0a1.55 1.55 0 1 0 -3.10 0M579.7 62.8a1.55 1.55 0 1 0 3.10 0a1.55 1.55 0 1 0 -3.10 0M580.2 66.3a1.55 1.55 0 1 0 3.10 0a1.55 1.55 0 1 0 -3.10 0M596.4 68.3a1.55 1.55 0 1 0 3.10 0a1.55 1.55 0 1 0 -3.10 0M582.4 71.0a1.55 1.55 0 1 0 3.10 0a1.55 1.55 0 1 0 -3.10 0M581.1 78.8a1.55 1.55 0 1 0 3.10 0a1.55 1.55 0 1 0 -3.10 0M589.7 79.0a1.55 1.55 0 1 0 3.10 0a1.55 1.55 0 1 0 -3.10 0M581.7 83.9a1.55 1.55 0 1 0 3.10 0a1.55 1.55 0 1 0 -3.10 0M599.1 83.9a1.55 1.55 0 1 0 3.10 0a1.55 1.55 0 1 0 -3.10 0M556.2 85.4a1.55 1.55 0 1 0 3.10 0a1.55 1.55 0 1 0 -3.10 0" fill="#e83030"/>
<path d="M674.2 33.3a1.4 1.4 0 1 0 2.80 0a1.4 1.4 0 1 0 -2.80 0M635.3 67.8a1.4 1.4 0 1 0 2.80 0a1.4 1.4 0 1 0 -2.80 0" fill="none" stroke="#f09090" stroke-width="0.6"/>
<text x="553.5" y="51.4" font-size="7.5" text-anchor="start" font-weight="normal" fill="#222">IL-1B</text>
<line x1="572.80" y1="47.90" x2="597.20" y2="49.90" stroke="#444" stroke-width="0.6"/>
<text x="625" y="49.4" font-size="7.5" text-anchor="start" font-weight="normal" fill="#222">CASP8</text>
<line x1="625.00" y1="44.40" x2="612.20" y2="36.00" stroke="#444" stroke-width="0.6"/>
<text x="621.6" y="60" font-size="7.5" text-anchor="start" font-weight="normal" fill="#222">IL-6</text>
<line x1="622.20" y1="51.10" x2="617.80" y2="43.30" stroke="#444" stroke-width="0.6"/>
<text x="662.9" y="49.8" font-size="7.5" text-anchor="start" font-weight="normal" fill="#222">IL-8</text>
<line x1="671.00" y1="42.20" x2="674.40" y2="35.60" stroke="#444" stroke-width="0.6"/>
<text x="635.6" y="81.6" font-size="7.5" text-anchor="start" font-weight="normal" fill="#222">MMP8</text>
<line x1="640.70" y1="74.40" x2="637.80" y2="68.90" stroke="#444" stroke-width="0.6"/>
<text x="495.3" y="127.4" font-size="7.2" text-anchor="end" font-weight="normal" fill="#444">0</text>
<text x="495.3" y="102.80000000000001" font-size="7.2" text-anchor="end" font-weight="normal" fill="#444">2</text>
<text x="495.3" y="78.2" font-size="7.2" text-anchor="end" font-weight="normal" fill="#444">4</text>
<text x="495.3" y="53.599999999999994" font-size="7.2" text-anchor="end" font-weight="normal" fill="#444">6</text>
<text x="526.9000000000001" y="136.9" font-size="7.2" text-anchor="middle" font-weight="normal" fill="#444">−1</text>
<text x="567.7" y="136.9" font-size="7.2" text-anchor="middle" font-weight="normal" fill="#444">0</text>
<text x="607.2" y="136.9" font-size="7.2" text-anchor="middle" font-weight="normal" fill="#444">1</text>
<text x="646.7" y="136.9" font-size="7.2" text-anchor="middle" font-weight="normal" fill="#444">2</text>
<text x="481.4" y="85.4" font-size="11.6" text-anchor="middle" font-weight="normal" fill="#222" transform="rotate(-90 481.4 85.4)">-log(Adj. p-value)</text>
<text x="586" y="149.8" font-size="11.6" text-anchor="middle" font-weight="normal" fill="#222">Normalized protein abundance</text>
<text x="585.8" y="162.8" font-size="11.6" text-anchor="middle" font-weight="normal" fill="#222">difference estimate</text>
<text x="0.8" y="167.9" font-size="12.3" text-anchor="start" font-weight="bold" fill="#000">d</text>
<line x1="54.10" y1="165.00" x2="54.10" y2="283.00" stroke="#e8e8e8" stroke-width="0.6"/>
<line x1="72.30" y1="165.00" x2="72.30" y2="283.00" stroke="#e8e8e8" stroke-width="0.6" stroke-dasharray="1,1"/>
<line x1="90.50" y1="165.00" x2="90.50" y2="283.00" stroke="#e8e8e8" stroke-width="0.6"/>
<line x1="108.70" y1="165.00" x2="108.70" y2="283.00" stroke="#e8e8e8" stroke-width="0.6" stroke-dasharray="1,1"/>
<line x1="126.90" y1="165.00" x2="126.90" y2="283.00" stroke="#e8e8e8" stroke-width="0.6"/>
<line x1="145.10" y1="165.00" x2="145.10" y2="283.00" stroke="#e8e8e8" stroke-width="0.6" stroke-dasharray="1,1"/>
<line x1="163.30" y1="165.00" x2="163.30" y2="283.00" stroke="#e8e8e8" stroke-width="0.6"/>
<line x1="50.00" y1="277.70" x2="168.00" y2="277.70" stroke="#e8e8e8" stroke-width="0.6"/>
<line x1="50.00" y1="267.15" x2="168.00" y2="267.15" stroke="#e8e8e8" stroke-width="0.6" stroke-dasharray="1,1"/>
<line x1="50.00" y1="256.60" x2="168.00" y2="256.60" stroke="#e8e8e8" stroke-width="0.6"/>
<line x1="50.00" y1="246.05" x2="168.00" y2="246.05" stroke="#e8e8e8" stroke-width="0.6" stroke-dasharray="1,1"/>
<line x1="50.00" y1="235.50" x2="168.00" y2="235.50" stroke="#e8e8e8" stroke-width="0.6"/>
<line x1="50.00" y1="224.95" x2="168.00" y2="224.95" stroke="#e8e8e8" stroke-width="0.6" stroke-dasharray="1,1"/>
<line x1="50.00" y1="214.40" x2="168.00" y2="214.40" stroke="#e8e8e8" stroke-width="0.6"/>
<line x1="50.00" y1="203.85" x2="168.00" y2="203.85" stroke="#e8e8e8" stroke-width="0.6" stroke-dasharray="1,1"/>
<line x1="50.00" y1="193.30" x2="168.00" y2="193.30" stroke="#e8e8e8" stroke-width="0.6"/>
<line x1="50.00" y1="182.75" x2="168.00" y2="182.75" stroke="#e8e8e8" stroke-width="0.6" stroke-dasharray="1,1"/>
<line x1="50.00" y1="172.20" x2="168.00" y2="172.20" stroke="#e8e8e8" stroke-width="0.6"/>
<text x="47.0" y="279.59999999999997" font-size="8.1" text-anchor="end" font-weight="normal" fill="#444">0</text>
<text x="47.0" y="258.49999999999994" font-size="8.1" text-anchor="end" font-weight="normal" fill="#444">1</text>
<text x="47.0" y="237.4" font-size="8.1" text-anchor="end" font-weight="normal" fill="#444">2</text>
<text x="47.0" y="216.29999999999998" font-size="8.1" text-anchor="end" font-weight="normal" fill="#444">3</text>
<text x="47.0" y="195.2" font-size="8.1" text-anchor="end" font-weight="normal" fill="#444">4</text>
<text x="47.0" y="174.1" font-size="8.1" text-anchor="end" font-weight="normal" fill="#444">5</text>
<text x="54.1" y="291.3" font-size="8.1" text-anchor="middle" font-weight="normal" fill="#555">0.4</text>
<text x="90.5" y="291.3" font-size="8.1" text-anchor="middle" font-weight="normal" fill="#555">0.8</text>
<text x="126.9" y="291.3" font-size="8.1" text-anchor="middle" font-weight="normal" fill="#555">1.2</text>
<text x="163.3" y="291.3" font-size="8.1" text-anchor="middle" font-weight="normal" fill="#555">1.6</text>
<text x="108.3" y="311.2" font-size="11.6" text-anchor="middle" font-weight="normal" fill="#222">Normalized pathway enrichment</text>
<text x="34.0" y="222.4" font-size="11.7" text-anchor="middle" font-weight="normal" fill="#222" transform="rotate(-90 34.0 222.4)">-log(Nominal p-value)</text>
<path d="M54.6 278.0a1.0 1.0 0 1 0 2.00 0a1.0 1.0 0 1 0 -2.00 0M60.7 278.0a1.0 1.0 0 1 0 2.00 0a1.0 1.0 0 1 0 -2.00 0M61.6 277.9a1.0 1.0 0 1 0 2.00 0a1.0 1.0 0 1 0 -2.00 0M64.2 277.8a1.0 1.0 0 1 0 2.00 0a1.0 1.0 0 1 0 -2.00 0M66.5 277.8a1.0 1.0 0 1 0 2.00 0a1.0 1.0 0 1 0 -2.00 0M67.7 278.0a1.0 1.0 0 1 0 2.00 0a1.0 1.0 0 1 0 -2.00 0M75.3 277.8a1.0 1.0 0 1 0 2.00 0a1.0 1.0 0 1 0 -2.00 0M77.0 276.3a1.0 1.0 0 1 0 2.00 0a1.0 1.0 0 1 0 -2.00 0M79.4 275.1a1.0 1.0 0 1 0 2.00 0a1.0 1.0 0 1 0 -2.00 0M84.0 276.3a1.0 1.0 0 1 0 2.00 0a1.0 1.0 0 1 0 -2.00 0M84.6 274.0a1.0 1.0 0 1 0 2.00 0a1.0 1.0 0 1 0 -2.00 0M86.4 272.8a1.0 1.0 0 1 0 2.00 0a1.0 1.0 0 1 0 -2.00 0M87.4 272.6a1.0 1.0 0 1 0 2.00 0a1.0 1.0 0 1 0 -2.00 0M89.3 274.5a1.0 1.0 0 1 0 2.00 0a1.0 1.0 0 1 0 -2.00 0M89.9 271.6a1.0 1.0 0 1 0 2.00 0a1.0 1.0 0 1 0 -2.00 0M91.0 271.2a1.0 1.0 0 1 0 2.00 0a1.0 1.0 0 1 0 -2.00 0M92.2 270.8a1.0 1.0 0 1 0 2.00 0a1.0 1.0 0 1 0 -2.00 0M93.4 270.4a1.0 1.0 0 1 0 2.00 0a1.0 1.0 0 1 0 -2.00 0M94.2 270.1a1.0 1.0 0 1 0 2.00 0a1.0 1.0 0 1 0 -2.00 0M95.1 269.9a1.0 1.0 0 1 0 2.00 0a1.0 1.0 0 1 0 -2.00 0M96.9 269.3a1.0 1.0 0 1 0 2.00 0a1.0 1.0 0 1 0 -2.00 0M96.3 274.0a1.0 1.0 0 1 0 2.00 0a1.0 1.0 0 1 0 -2.00 0M98.0 269.0a1.0 1.0 0 1 0 2.00 0a1.0 1.0 0 1 0 -2.00 0M99.2 268.7a1.0 1.0 0 1 0 2.00 0a1.0 1.0 0 1 0 -2.00 0M100.4 267.5a1.0 1.0 0 1 0 2.00 0a1.0 1.0 0 1 0 -2.00 0M101.6 266.9a1.0 1.0 0 1 0 2.00 0a1.0 1.0 0 1 0 -2.00 0M102.7 265.8a1.0 1.0 0 1 0 2.00 0a1.0 1.0 0 1 0 -2.00 0M103.9 265.2a1.0 1.0 0 1 0 2.00 0a1.0 1.0 0 1 0 -2.00 0M105.1 264.6a1.0 1.0 0 1 0 2.00 0a1.0 1.0 0 1 0 -2.00 0M108.0 262.9a1.0 1.0 0 1 0 2.00 0a1.0 1.0 0 1 0 -2.00 0M109.7 261.7a1.0 1.0 0 1 0 2.00 0a1.0 1.0 0 1 0 -2.00 0M110.9 260.8a1.0 1.0 0 1 0 2.00 0a1.0 1.0 0 1 0 -2.00 0M112.1 259.9a1.0 1.0 0 1 0 2.00 0a1.0 1.0 0 1 0 -2.00 0M113.8 258.8a1.0 1.0 0 1 0 2.00 0a1.0 1.0 0 1 0 -2.00 0M115.6 257.6a1.0 1.0 0 1 0 2.00 0a1.0 1.0 0 1 0 -2.00 0" fill="#2b4a7a"/>
<path d="M76.0 276.2a1.0 1.0 0 1 0 2.00 0a1.0 1.0 0 1 0 -2.00 0M78.6 275.6a1.0 1.0 0 1 0 2.00 0a1.0 1.0 0 1 0 -2.00 0M79.8 277.2a1.0 1.0 0 1 0 2.00 0a1.0 1.0 0 1 0 -2.00 0M83.2 275.4a1.0 1.0 0 1 0 2.00 0a1.0 1.0 0 1 0 -2.00 0" fill="none" stroke="#8a7a9a" stroke-width="0.5"/>
<path d="M149.0 187.6a2.1 2.1 0 1 0 4.20 0a2.1 2.1 0 1 0 -4.20 0M154.1 195.2a2.1 2.1 0 1 0 4.20 0a2.1 2.1 0 1 0 -4.20 0M155.6 195.5a2.1 2.1 0 1 0 4.20 0a2.1 2.1 0 1 0 -4.20 0M155.0 204.2a2.1 2.1 0 1 0 4.20 0a2.1 2.1 0 1 0 -4.20 0M139.8 214.4a2.0 2.0 0 1 0 4.00 0a2.0 2.0 0 1 0 -4.00 0M149.9 213.5a2.0 2.0 0 1 0 4.00 0a2.0 2.0 0 1 0 -4.00 0" fill="none" stroke="#d65252" stroke-width="0.65"/>
<path d="M132.5 226.8a1.3 1.3 0 1 0 2.60 0a1.3 1.3 0 1 0 -2.60 0" fill="none" stroke="#8a5a7a" stroke-width="0.65"/>
<path d="M139.4 227.4a2.0 2.0 0 1 0 4.00 0a2.0 2.0 0 1 0 -4.00 0M140.4 229.7a2.0 2.0 0 1 0 4.00 0a2.0 2.0 0 1 0 -4.00 0M145.5 225.9a2.0 2.0 0 1 0 4.00 0a2.0 2.0 0 1 0 -4.00 0" fill="none" stroke="#d65252" stroke-width="0.65"/>
<path d="M129.5 239.2a1.5 1.5 0 1 0 3.00 0a1.5 1.5 0 1 0 -3.00 0M134.4 238.8a1.3 1.3 0 1 0 2.60 0a1.3 1.3 0 1 0 -2.60 0M129.5 244.9a1.5 1.5 0 1 0 3.00 0a1.5 1.5 0 1 0 -3.00 0M127.5 246.0a1.5 1.5 0 1 0 3.00 0a1.5 1.5 0 1 0 -3.00 0M123.0 250.2a1.3 1.3 0 1 0 2.60 0a1.3 1.3 0 1 0 -2.60 0M122.2 252.0a1.3 1.3 0 1 0 2.60 0a1.3 1.3 0 1 0 -2.60 0M123.3 248.5a1.2 1.2 0 1 0 2.40 0a1.2 1.2 0 1 0 -2.40 0" fill="none" stroke="#8a5a7a" stroke-width="0.65"/>
<path d="M125.3 244.9a0.9 0.9 0 1 0 1.80 0a0.9 0.9 0 1 0 -1.80 0" fill="#4a6aa0"/>
<line x1="112.40" y1="169.40" x2="149.00" y2="185.50" stroke="#444" stroke-width="0.6"/>
<line x1="121.00" y1="181.70" x2="154.30" y2="194.80" stroke="#444" stroke-width="0.6"/>
<line x1="134.50" y1="198.00" x2="155.00" y2="203.00" stroke="#444" stroke-width="0.6"/>
<line x1="121.40" y1="210.20" x2="140.00" y2="214.20" stroke="#444" stroke-width="0.6"/>
<line x1="117.60" y1="223.60" x2="150.00" y2="214.60" stroke="#444" stroke-width="0.6"/>
<line x1="114.80" y1="239.80" x2="140.50" y2="228.50" stroke="#444" stroke-width="0.6"/>
<line x1="177.30" y1="213.30" x2="160.70" y2="196.90" stroke="#444" stroke-width="0.6"/>
<line x1="177.30" y1="178.60" x2="161.52" y2="188.38" stroke="#444" stroke-width="0.6"/>
<polygon points="159.40,189.70 161.21,186.93 162.69,189.31" fill="#444"/>
<text x="147" y="157.5" font-size="7.78" text-anchor="end" font-weight="normal" fill="#111">Complement and</text>
<text x="147" y="166.8" font-size="7.78" text-anchor="end" font-weight="normal" fill="#111">Coagulation Cascades</text>
<text x="149.3" y="176.9" font-size="7.78" text-anchor="start" font-weight="normal" fill="#111">Viral Myocarditis</text>
<text x="117.6" y="184.2" font-size="7.78" text-anchor="end" font-weight="normal" fill="#111">ERBB Signaling</text>
<text x="133.3" y="198.2" font-size="7.78" text-anchor="end" font-weight="normal" fill="#111">RLR Signaling</text>
<text x="119.5" y="212.9" font-size="7.78" text-anchor="end" font-weight="normal" fill="#111">Lysosome</text>
<text x="116.3" y="227.8" font-size="7.78" text-anchor="end" font-weight="normal" fill="#111">Peroxisome</text>
<text x="111.9" y="242.2" font-size="7.78" text-anchor="end" font-weight="normal" fill="#111">Systemic Lupus</text>
<text x="111.9" y="251.8" font-size="7.78" text-anchor="end" font-weight="normal" fill="#111">Erethematosus</text>
<text x="209.6" y="214.4" font-size="7.78" text-anchor="end" font-weight="normal" fill="#111">Antigen</text>
<text x="209.6" y="223.4" font-size="7.78" text-anchor="end" font-weight="normal" fill="#111">Processing/</text>
<text x="209.6" y="231.9" font-size="7.78" text-anchor="end" font-weight="normal" fill="#111">Presentation</text>
<text x="231.0" y="174.0" font-size="12.6" text-anchor="start" font-weight="bold" fill="#000">e</text>
<text x="280.5" y="180.7" font-size="12.2" text-anchor="middle" font-weight="normal" fill="#222" textLength="25.7" lengthAdjust="spacingAndGlyphs">IFI30</text>
<polygon points="274.65,185.70 275.18,186.97 276.55,187.08 275.51,187.98 275.83,189.32 274.65,188.60 273.47,189.32 273.79,187.98 272.75,187.08 274.12,186.97" fill="#111"/>
<polygon points="278.65,185.70 279.18,186.97 280.55,187.08 279.51,187.98 279.83,189.32 278.65,188.60 277.47,189.32 277.79,187.98 276.75,187.08 278.12,186.97" fill="#111"/>
<polygon points="282.65,185.70 283.18,186.97 284.55,187.08 283.51,187.98 283.83,189.32 282.65,188.60 281.47,189.32 281.79,187.98 280.75,187.08 282.12,186.97" fill="#111"/>
<polygon points="286.65,185.70 287.18,186.97 288.55,187.08 287.51,187.98 287.83,189.32 286.65,188.60 285.47,189.32 285.79,187.98 284.75,187.08 286.12,186.97" fill="#111"/>
<line x1="270.30" y1="190.30" x2="291.40" y2="190.30" stroke="#777" stroke-width="0.8"/>
<line x1="257.60" y1="192.80" x2="257.60" y2="285.20" stroke="#222" stroke-width="1.0"/>
<line x1="254.10" y1="285.20" x2="303.30" y2="285.20" stroke="#222" stroke-width="1.0"/>
<line x1="254.60" y1="284.80" x2="257.60" y2="284.80" stroke="#222" stroke-width="0.9"/>
<text x="252.70000000000002" y="287.5" font-size="7.7" text-anchor="end" font-weight="normal" fill="#444">-2</text>
<line x1="254.60" y1="266.40" x2="257.60" y2="266.40" stroke="#222" stroke-width="0.9"/>
<text x="252.70000000000002" y="269.09999999999997" font-size="7.7" text-anchor="end" font-weight="normal" fill="#444">-1</text>
<line x1="254.60" y1="248.00" x2="257.60" y2="248.00" stroke="#222" stroke-width="0.9"/>
<text x="252.70000000000002" y="250.7" font-size="7.7" text-anchor="end" font-weight="normal" fill="#444">0</text>
<line x1="254.60" y1="229.60" x2="257.60" y2="229.60" stroke="#222" stroke-width="0.9"/>
<text x="252.70000000000002" y="232.29999999999998" font-size="7.7" text-anchor="end" font-weight="normal" fill="#444">1</text>
<line x1="254.60" y1="211.20" x2="257.60" y2="211.20" stroke="#222" stroke-width="0.9"/>
<text x="252.70000000000002" y="213.89999999999998" font-size="7.7" text-anchor="end" font-weight="normal" fill="#444">2</text>
<line x1="254.60" y1="192.80" x2="257.60" y2="192.80" stroke="#222" stroke-width="0.9"/>
<text x="252.70000000000002" y="195.5" font-size="7.7" text-anchor="end" font-weight="normal" fill="#444">3</text>
<line x1="270.30" y1="285.20" x2="270.30" y2="288.80" stroke="#222" stroke-width="0.9"/>
<line x1="290.40" y1="285.20" x2="290.40" y2="288.80" stroke="#222" stroke-width="0.9"/>
<line x1="257.60" y1="248.00" x2="303.30" y2="248.00" stroke="#555" stroke-width="0.6" stroke-dasharray="1,1.2"/>
<text x="241.0" y="236.4" font-size="11.4" text-anchor="middle" font-weight="normal" fill="#222" transform="rotate(-90 241.0 236.4)">Abundance</text>
<text x="275.90000000000003" y="295.2" font-size="7.7" text-anchor="end" font-weight="normal" fill="#333" transform="rotate(-45 275.90000000000003 295.2)">CR</text>
<text x="295.79999999999995" y="295.2" font-size="7.5" text-anchor="end" font-weight="normal" fill="#333" transform="rotate(-45 295.79999999999995 295.2)">PASC</text>
<path d="M268.9 215.7a1.8 1.8 0 1 0 3.60 0a1.8 1.8 0 1 0 -3.60 0M268.9 222.8a1.8 1.8 0 1 0 3.60 0a1.8 1.8 0 1 0 -3.60 0M268.9 229.9a1.8 1.8 0 1 0 3.60 0a1.8 1.8 0 1 0 -3.60 0M265.1 235.0a1.8 1.8 0 1 0 3.60 0a1.8 1.8 0 1 0 -3.60 0M268.4 234.3a1.8 1.8 0 1 0 3.60 0a1.8 1.8 0 1 0 -3.60 0M271.8 236.1a1.8 1.8 0 1 0 3.60 0a1.8 1.8 0 1 0 -3.60 0M264.0 238.5a1.8 1.8 0 1 0 3.60 0a1.8 1.8 0 1 0 -3.60 0M267.3 238.5a1.8 1.8 0 1 0 3.60 0a1.8 1.8 0 1 0 -3.60 0M270.6 239.4a1.8 1.8 0 1 0 3.60 0a1.8 1.8 0 1 0 -3.60 0M272.9 238.5a1.8 1.8 0 1 0 3.60 0a1.8 1.8 0 1 0 -3.60 0M265.1 241.7a1.8 1.8 0 1 0 3.60 0a1.8 1.8 0 1 0 -3.60 0M269.5 242.3a1.8 1.8 0 1 0 3.60 0a1.8 1.8 0 1 0 -3.60 0M272.2 241.2a1.8 1.8 0 1 0 3.60 0a1.8 1.8 0 1 0 -3.60 0M265.5 245.0a1.8 1.8 0 1 0 3.60 0a1.8 1.8 0 1 0 -3.60 0M269.1 244.6a1.8 1.8 0 1 0 3.60 0a1.8 1.8 0 1 0 -3.60 0M272.2 245.0a1.8 1.8 0 1 0 3.60 0a1.8 1.8 0 1 0 -3.60 0M264.0 248.3a1.8 1.8 0 1 0 3.60 0a1.8 1.8 0 1 0 -3.60 0M267.3 249.4a1.8 1.8 0 1 0 3.60 0a1.8 1.8 0 1 0 -3.60 0M271.8 248.3a1.8 1.8 0 1 0 3.60 0a1.8 1.8 0 1 0 -3.60 0M265.1 252.1a1.8 1.8 0 1 0 3.60 0a1.8 1.8 0 1 0 -3.60 0M268.4 251.7a1.8 1.8 0 1 0 3.60 0a1.8 1.8 0 1 0 -3.60 0M272.2 252.8a1.8 1.8 0 1 0 3.60 0a1.8 1.8 0 1 0 -3.60 0M266.2 255.0a1.8 1.8 0 1 0 3.60 0a1.8 1.8 0 1 0 -3.60 0M269.5 255.7a1.8 1.8 0 1 0 3.60 0a1.8 1.8 0 1 0 -3.60 0M266.9 258.0a1.8 1.8 0 1 0 3.60 0a1.8 1.8 0 1 0 -3.60 0M269.5 257.3a1.8 1.8 0 1 0 3.60 0a1.8 1.8 0 1 0 -3.60 0M267.3 267.9a1.8 1.8 0 1 0 3.60 0a1.8 1.8 0 1 0 -3.60 0M270.0 267.2a1.8 1.8 0 1 0 3.60 0a1.8 1.8 0 1 0 -3.60 0M289.2 214.4a1.8 1.8 0 1 0 3.60 0a1.8 1.8 0 1 0 -3.60 0M286.4 238.8a1.8 1.8 0 1 0 3.60 0a1.8 1.8 0 1 0 -3.60 0M289.1 225.8a1.8 1.8 0 1 0 3.60 0a1.8 1.8 0 1 0 -3.60 0M291.0 232.6a1.8 1.8 0 1 0 3.60 0a1.8 1.8 0 1 0 -3.60 0M283.3 231.8a1.8 1.8 0 1 0 3.60 0a1.8 1.8 0 1 0 -3.60 0M290.8 230.2a1.8 1.8 0 1 0 3.60 0a1.8 1.8 0 1 0 -3.60 0M287.6 238.8a1.8 1.8 0 1 0 3.60 0a1.8 1.8 0 1 0 -3.60 0M289.7 230.3a1.8 1.8 0 1 0 3.60 0a1.8 1.8 0 1 0 -3.60 0M290.3 234.7a1.8 1.8 0 1 0 3.60 0a1.8 1.8 0 1 0 -3.60 0M288.9 209.4a1.8 1.8 0 1 0 3.60 0a1.8 1.8 0 1 0 -3.60 0M288.9 227.1a1.8 1.8 0 1 0 3.60 0a1.8 1.8 0 1 0 -3.60 0M289.3 231.1a1.8 1.8 0 1 0 3.60 0a1.8 1.8 0 1 0 -3.60 0M284.9 230.6a1.8 1.8 0 1 0 3.60 0a1.8 1.8 0 1 0 -3.60 0M288.5 233.4a1.8 1.8 0 1 0 3.60 0a1.8 1.8 0 1 0 -3.60 0M285.1 236.1a1.8 1.8 0 1 0 3.60 0a1.8 1.8 0 1 0 -3.60 0M288.4 231.4a1.8 1.8 0 1 0 3.60 0a1.8 1.8 0 1 0 -3.60 0M289.0 225.3a1.8 1.8 0 1 0 3.60 0a1.8 1.8 0 1 0 -3.60 0M292.0 230.3a1.8 1.8 0 1 0 3.60 0a1.8 1.8 0 1 0 -3.60 0M287.7 222.0a1.8 1.8 0 1 0 3.60 0a1.8 1.8 0 1 0 -3.60 0M282.6 230.1a1.8 1.8 0 1 0 3.60 0a1.8 1.8 0 1 0 -3.60 0M288.9 228.5a1.8 1.8 0 1 0 3.60 0a1.8 1.8 0 1 0 -3.60 0M287.1 217.9a1.8 1.8 0 1 0 3.60 0a1.8 1.8 0 1 0 -3.60 0M291.3 224.9a1.8 1.8 0 1 0 3.60 0a1.8 1.8 0 1 0 -3.60 0M287.3 232.2a1.8 1.8 0 1 0 3.60 0a1.8 1.8 0 1 0 -3.60 0M287.1 230.0a1.8 1.8 0 1 0 3.60 0a1.8 1.8 0 1 0 -3.60 0M293.2 224.9a1.8 1.8 0 1 0 3.60 0a1.8 1.8 0 1 0 -3.60 0M288.2 215.1a1.8 1.8 0 1 0 3.60 0a1.8 1.8 0 1 0 -3.60 0M286.7 230.6a1.8 1.8 0 1 0 3.60 0a1.8 1.8 0 1 0 -3.60 0M286.7 230.4a1.8 1.8 0 1 0 3.60 0a1.8 1.8 0 1 0 -3.60 0M288.4 221.7a1.8 1.8 0 1 0 3.60 0a1.8 1.8 0 1 0 -3.60 0M284.5 234.9a1.8 1.8 0 1 0 3.60 0a1.8 1.8 0 1 0 -3.60 0M289.2 230.7a1.8 1.8 0 1 0 3.60 0a1.8 1.8 0 1 0 -3.60 0M292.5 222.5a1.8 1.8 0 1 0 3.60 0a1.8 1.8 0 1 0 -3.60 0M289.3 224.6a1.8 1.8 0 1 0 3.60 0a1.8 1.8 0 1 0 -3.60 0M291.6 228.0a1.8 1.8 0 1 0 3.60 0a1.8 1.8 0 1 0 -3.60 0M293.3 224.0a1.8 1.8 0 1 0 3.60 0a1.8 1.8 0 1 0 -3.60 0M291.2 238.8a1.8 1.8 0 1 0 3.60 0a1.8 1.8 0 1 0 -3.60 0M290.6 221.5a1.8 1.8 0 1 0 3.60 0a1.8 1.8 0 1 0 -3.60 0M291.7 235.4a1.8 1.8 0 1 0 3.60 0a1.8 1.8 0 1 0 -3.60 0M291.0 238.8a1.8 1.8 0 1 0 3.60 0a1.8 1.8 0 1 0 -3.60 0M285.7 226.7a1.8 1.8 0 1 0 3.60 0a1.8 1.8 0 1 0 -3.60 0M288.4 223.8a1.8 1.8 0 1 0 3.60 0a1.8 1.8 0 1 0 -3.60 0M286.7 231.8a1.8 1.8 0 1 0 3.60 0a1.8 1.8 0 1 0 -3.60 0M286.4 236.2a1.8 1.8 0 1 0 3.60 0a1.8 1.8 0 1 0 -3.60 0M289.5 228.5a1.8 1.8 0 1 0 3.60 0a1.8 1.8 0 1 0 -3.60 0M286.3 229.0a1.8 1.8 0 1 0 3.60 0a1.8 1.8 0 1 0 -3.60 0M289.3 218.9a1.8 1.8 0 1 0 3.60 0a1.8 1.8 0 1 0 -3.60 0M289.4 223.5a1.8 1.8 0 1 0 3.60 0a1.8 1.8 0 1 0 -3.60 0M283.8 227.3a1.8 1.8 0 1 0 3.60 0a1.8 1.8 0 1 0 -3.60 0M288.2 220.9a1.8 1.8 0 1 0 3.60 0a1.8 1.8 0 1 0 -3.60 0M287.2 230.1a1.8 1.8 0 1 0 3.60 0a1.8 1.8 0 1 0 -3.60 0M290.7 235.2a1.8 1.8 0 1 0 3.60 0a1.8 1.8 0 1 0 -3.60 0M284.1 224.6a1.8 1.8 0 1 0 3.60 0a1.8 1.8 0 1 0 -3.60 0M285.0 224.6a1.8 1.8 0 1 0 3.60 0a1.8 1.8 0 1 0 -3.60 0M288.8 230.2a1.8 1.8 0 1 0 3.60 0a1.8 1.8 0 1 0 -3.60 0M287.6 234.2a1.8 1.8 0 1 0 3.60 0a1.8 1.8 0 1 0 -3.60 0M290.6 227.1a1.8 1.8 0 1 0 3.60 0a1.8 1.8 0 1 0 -3.60 0M287.3 238.8a1.8 1.8 0 1 0 3.60 0a1.8 1.8 0 1 0 -3.60 0M285.4 223.9a1.8 1.8 0 1 0 3.60 0a1.8 1.8 0 1 0 -3.60 0M293.5 225.2a1.8 1.8 0 1 0 3.60 0a1.8 1.8 0 1 0 -3.60 0M286.7 238.8a1.8 1.8 0 1 0 3.60 0a1.8 1.8 0 1 0 -3.60 0M284.3 228.3a1.8 1.8 0 1 0 3.60 0a1.8 1.8 0 1 0 -3.60 0M286.4 235.4a1.8 1.8 0 1 0 3.60 0a1.8 1.8 0 1 0 -3.60 0M287.0 223.4a1.8 1.8 0 1 0 3.60 0a1.8 1.8 0 1 0 -3.60 0M286.5 238.8a1.8 1.8 0 1 0 3.60 0a1.8 1.8 0 1 0 -3.60 0M289.0 235.1a1.8 1.8 0 1 0 3.60 0a1.8 1.8 0 1 0 -3.60 0M293.1 223.7a1.8 1.8 0 1 0 3.60 0a1.8 1.8 0 1 0 -3.60 0M285.8 220.6a1.8 1.8 0 1 0 3.60 0a1.8 1.8 0 1 0 -3.60 0M288.0 238.8a1.8 1.8 0 1 0 3.60 0a1.8 1.8 0 1 0 -3.60 0M290.6 232.2a1.8 1.8 0 1 0 3.60 0a1.8 1.8 0 1 0 -3.60 0M293.1 226.4a1.8 1.8 0 1 0 3.60 0a1.8 1.8 0 1 0 -3.60 0M294.2 232.9a1.8 1.8 0 1 0 3.60 0a1.8 1.8 0 1 0 -3.60 0M286.9 217.6a1.8 1.8 0 1 0 3.60 0a1.8 1.8 0 1 0 -3.60 0M288.9 237.0a1.8 1.8 0 1 0 3.60 0a1.8 1.8 0 1 0 -3.60 0M293.1 226.2a1.8 1.8 0 1 0 3.60 0a1.8 1.8 0 1 0 -3.60 0M284.4 236.0a1.8 1.8 0 1 0 3.60 0a1.8 1.8 0 1 0 -3.60 0M289.1 218.8a1.8 1.8 0 1 0 3.60 0a1.8 1.8 0 1 0 -3.60 0M284.6 228.8a1.8 1.8 0 1 0 3.60 0a1.8 1.8 0 1 0 -3.60 0M291.8 231.3a1.8 1.8 0 1 0 3.60 0a1.8 1.8 0 1 0 -3.60 0M291.9 238.8a1.8 1.8 0 1 0 3.60 0a1.8 1.8 0 1 0 -3.60 0M288.8 216.9a1.8 1.8 0 1 0 3.60 0a1.8 1.8 0 1 0 -3.60 0M283.6 223.4a1.8 1.8 0 1 0 3.60 0a1.8 1.8 0 1 0 -3.60 0M288.3 195.9a1.8 1.8 0 1 0 3.60 0a1.8 1.8 0 1 0 -3.60 0M288.4 207.9a1.8 1.8 0 1 0 3.60 0a1.8 1.8 0 1 0 -3.60 0M289.3 209.4a1.8 1.8 0 1 0 3.60 0a1.8 1.8 0 1 0 -3.60 0M286.8 239.7a1.8 1.8 0 1 0 3.60 0a1.8 1.8 0 1 0 -3.60 0M289.3 242.5a1.8 1.8 0 1 0 3.60 0a1.8 1.8 0 1 0 -3.60 0M288.3 244.3a1.8 1.8 0 1 0 3.60 0a1.8 1.8 0 1 0 -3.60 0M288.0 246.2a1.8 1.8 0 1 0 3.60 0a1.8 1.8 0 1 0 -3.60 0M289.0 248.0a1.8 1.8 0 1 0 3.60 0a1.8 1.8 0 1 0 -3.60 0M288.2 248.9a1.8 1.8 0 1 0 3.60 0a1.8 1.8 0 1 0 -3.60 0M288.4 253.5a1.8 1.8 0 1 0 3.60 0a1.8 1.8 0 1 0 -3.60 0M289.0 257.2a1.8 1.8 0 1 0 3.60 0a1.8 1.8 0 1 0 -3.60 0M288.6 259.0a1.8 1.8 0 1 0 3.60 0a1.8 1.8 0 1 0 -3.60 0M288.8 268.2a1.8 1.8 0 1 0 3.60 0a1.8 1.8 0 1 0 -3.60 0" fill="none" stroke="#111" stroke-width="0.75"/>
<line x1="264.00" y1="247.08" x2="276.60" y2="247.08" stroke="#e0402a" stroke-width="1.2"/>
<line x1="284.10" y1="229.05" x2="296.70" y2="229.05" stroke="#e0402a" stroke-width="1.2"/>
<text x="319.0" y="173.9" font-size="12.6" text-anchor="start" font-weight="bold" fill="#000">f</text>
<text x="361.2" y="180.7" font-size="12.2" text-anchor="middle" font-weight="normal" fill="#222" textLength="29.7" lengthAdjust="spacingAndGlyphs">USP8</text>
<polygon points="354.70,185.70 355.23,186.97 356.60,187.08 355.56,187.98 355.88,189.32 354.70,188.60 353.52,189.32 353.84,187.98 352.80,187.08 354.17,186.97" fill="#111"/>
<polygon points="358.70,185.70 359.23,186.97 360.60,187.08 359.56,187.98 359.88,189.32 358.70,188.60 357.52,189.32 357.84,187.98 356.80,187.08 358.17,186.97" fill="#111"/>
<polygon points="362.70,185.70 363.23,186.97 364.60,187.08 363.56,187.98 363.88,189.32 362.70,188.60 361.52,189.32 361.84,187.98 360.80,187.08 362.17,186.97" fill="#111"/>
<polygon points="366.70,185.70 367.23,186.97 368.60,187.08 367.56,187.98 367.88,189.32 366.70,188.60 365.52,189.32 365.84,187.98 364.80,187.08 366.17,186.97" fill="#111"/>
<line x1="350.30" y1="190.30" x2="371.50" y2="190.30" stroke="#777" stroke-width="0.8"/>
<line x1="337.30" y1="192.90" x2="337.30" y2="285.20" stroke="#222" stroke-width="1.0"/>
<line x1="333.80" y1="285.20" x2="382.50" y2="285.20" stroke="#222" stroke-width="1.0"/>
<line x1="334.30" y1="285.30" x2="337.30" y2="285.30" stroke="#222" stroke-width="0.9"/>
<text x="332.40000000000003" y="288.0" font-size="7.7" text-anchor="end" font-weight="normal" fill="#444">-2</text>
<line x1="334.30" y1="254.50" x2="337.30" y2="254.50" stroke="#222" stroke-width="0.9"/>
<text x="332.40000000000003" y="257.2" font-size="7.7" text-anchor="end" font-weight="normal" fill="#444">0</text>
<line x1="334.30" y1="223.70" x2="337.30" y2="223.70" stroke="#222" stroke-width="0.9"/>
<text x="332.40000000000003" y="226.39999999999998" font-size="7.7" text-anchor="end" font-weight="normal" fill="#444">2</text>
<line x1="334.30" y1="192.90" x2="337.30" y2="192.90" stroke="#222" stroke-width="0.9"/>
<text x="332.40000000000003" y="195.6" font-size="7.7" text-anchor="end" font-weight="normal" fill="#444">4</text>
<line x1="350.30" y1="285.20" x2="350.30" y2="288.80" stroke="#222" stroke-width="0.9"/>
<line x1="370.50" y1="285.20" x2="370.50" y2="288.80" stroke="#222" stroke-width="0.9"/>
<line x1="337.30" y1="254.50" x2="382.50" y2="254.50" stroke="#555" stroke-width="0.6" stroke-dasharray="1,1.2"/>
<text x="323.5" y="236.4" font-size="11.4" text-anchor="middle" font-weight="normal" fill="#222" transform="rotate(-90 323.5 236.4)">Abundance</text>
<text x="355.90000000000003" y="295.2" font-size="7.7" text-anchor="end" font-weight="normal" fill="#333" transform="rotate(-45 355.90000000000003 295.2)">CR</text>
<text x="375.9" y="295.2" font-size="7.5" text-anchor="end" font-weight="normal" fill="#333" transform="rotate(-45 375.9 295.2)">PASC</text>
<path d="M348.3 211.7a1.8 1.8 0 1 0 3.60 0a1.8 1.8 0 1 0 -3.60 0M348.3 216.5a1.8 1.8 0 1 0 3.60 0a1.8 1.8 0 1 0 -3.60 0M348.3 226.8a1.8 1.8 0 1 0 3.60 0a1.8 1.8 0 1 0 -3.60 0M349.7 230.7a1.8 1.8 0 1 0 3.60 0a1.8 1.8 0 1 0 -3.60 0M347.7 234.6a1.8 1.8 0 1 0 3.60 0a1.8 1.8 0 1 0 -3.60 0M350.2 232.5a1.8 1.8 0 1 0 3.60 0a1.8 1.8 0 1 0 -3.60 0M344.2 243.5a1.8 1.8 0 1 0 3.60 0a1.8 1.8 0 1 0 -3.60 0M347.2 242.8a1.8 1.8 0 1 0 3.60 0a1.8 1.8 0 1 0 -3.60 0M350.7 243.2a1.8 1.8 0 1 0 3.60 0a1.8 1.8 0 1 0 -3.60 0M353.7 243.8a1.8 1.8 0 1 0 3.60 0a1.8 1.8 0 1 0 -3.60 0M343.4 246.6a1.8 1.8 0 1 0 3.60 0a1.8 1.8 0 1 0 -3.60 0M346.4 247.0a1.8 1.8 0 1 0 3.60 0a1.8 1.8 0 1 0 -3.60 0M349.7 246.2a1.8 1.8 0 1 0 3.60 0a1.8 1.8 0 1 0 -3.60 0M353.0 246.8a1.8 1.8 0 1 0 3.60 0a1.8 1.8 0 1 0 -3.60 0M344.7 250.2a1.8 1.8 0 1 0 3.60 0a1.8 1.8 0 1 0 -3.60 0M348.2 250.6a1.8 1.8 0 1 0 3.60 0a1.8 1.8 0 1 0 -3.60 0M352.0 250.4a1.8 1.8 0 1 0 3.60 0a1.8 1.8 0 1 0 -3.60 0M346.0 253.2a1.8 1.8 0 1 0 3.60 0a1.8 1.8 0 1 0 -3.60 0M349.7 253.4a1.8 1.8 0 1 0 3.60 0a1.8 1.8 0 1 0 -3.60 0M354.7 248.8a1.8 1.8 0 1 0 3.60 0a1.8 1.8 0 1 0 -3.60 0M343.9 264.2a1.8 1.8 0 1 0 3.60 0a1.8 1.8 0 1 0 -3.60 0M347.2 265.6a1.8 1.8 0 1 0 3.60 0a1.8 1.8 0 1 0 -3.60 0M350.7 265.0a1.8 1.8 0 1 0 3.60 0a1.8 1.8 0 1 0 -3.60 0M354.0 266.3a1.8 1.8 0 1 0 3.60 0a1.8 1.8 0 1 0 -3.60 0M348.6 267.5a1.8 1.8 0 1 0 3.60 0a1.8 1.8 0 1 0 -3.60 0M365.4 225.6a1.8 1.8 0 1 0 3.60 0a1.8 1.8 0 1 0 -3.60 0M367.0 218.3a1.8 1.8 0 1 0 3.60 0a1.8 1.8 0 1 0 -3.60 0M365.5 228.7a1.8 1.8 0 1 0 3.60 0a1.8 1.8 0 1 0 -3.60 0M369.2 211.4a1.8 1.8 0 1 0 3.60 0a1.8 1.8 0 1 0 -3.60 0M368.6 216.6a1.8 1.8 0 1 0 3.60 0a1.8 1.8 0 1 0 -3.60 0M370.4 211.4a1.8 1.8 0 1 0 3.60 0a1.8 1.8 0 1 0 -3.60 0M365.1 224.7a1.8 1.8 0 1 0 3.60 0a1.8 1.8 0 1 0 -3.60 0M373.1 227.4a1.8 1.8 0 1 0 3.60 0a1.8 1.8 0 1 0 -3.60 0M368.3 223.2a1.8 1.8 0 1 0 3.60 0a1.8 1.8 0 1 0 -3.60 0M371.1 218.8a1.8 1.8 0 1 0 3.60 0a1.8 1.8 0 1 0 -3.60 0M371.8 229.0a1.8 1.8 0 1 0 3.60 0a1.8 1.8 0 1 0 -3.60 0M372.9 221.5a1.8 1.8 0 1 0 3.60 0a1.8 1.8 0 1 0 -3.60 0M368.7 224.6a1.8 1.8 0 1 0 3.60 0a1.8 1.8 0 1 0 -3.60 0M369.3 212.0a1.8 1.8 0 1 0 3.60 0a1.8 1.8 0 1 0 -3.60 0M369.3 229.6a1.8 1.8 0 1 0 3.60 0a1.8 1.8 0 1 0 -3.60 0M366.7 216.4a1.8 1.8 0 1 0 3.60 0a1.8 1.8 0 1 0 -3.60 0M368.7 229.4a1.8 1.8 0 1 0 3.60 0a1.8 1.8 0 1 0 -3.60 0M371.9 231.9a1.8 1.8 0 1 0 3.60 0a1.8 1.8 0 1 0 -3.60 0M372.5 229.9a1.8 1.8 0 1 0 3.60 0a1.8 1.8 0 1 0 -3.60 0M365.8 233.6a1.8 1.8 0 1 0 3.60 0a1.8 1.8 0 1 0 -3.60 0M370.6 223.3a1.8 1.8 0 1 0 3.60 0a1.8 1.8 0 1 0 -3.60 0M367.6 216.5a1.8 1.8 0 1 0 3.60 0a1.8 1.8 0 1 0 -3.60 0M364.5 223.2a1.8 1.8 0 1 0 3.60 0a1.8 1.8 0 1 0 -3.60 0M365.6 219.7a1.8 1.8 0 1 0 3.60 0a1.8 1.8 0 1 0 -3.60 0M370.3 211.9a1.8 1.8 0 1 0 3.60 0a1.8 1.8 0 1 0 -3.60 0M373.8 222.4a1.8 1.8 0 1 0 3.60 0a1.8 1.8 0 1 0 -3.60 0M368.9 223.0a1.8 1.8 0 1 0 3.60 0a1.8 1.8 0 1 0 -3.60 0M367.3 226.6a1.8 1.8 0 1 0 3.60 0a1.8 1.8 0 1 0 -3.60 0M368.7 236.9a1.8 1.8 0 1 0 3.60 0a1.8 1.8 0 1 0 -3.60 0M371.2 218.6a1.8 1.8 0 1 0 3.60 0a1.8 1.8 0 1 0 -3.60 0M369.6 238.0a1.8 1.8 0 1 0 3.60 0a1.8 1.8 0 1 0 -3.60 0M365.1 219.4a1.8 1.8 0 1 0 3.60 0a1.8 1.8 0 1 0 -3.60 0M365.2 224.6a1.8 1.8 0 1 0 3.60 0a1.8 1.8 0 1 0 -3.60 0M370.9 215.8a1.8 1.8 0 1 0 3.60 0a1.8 1.8 0 1 0 -3.60 0M368.6 225.0a1.8 1.8 0 1 0 3.60 0a1.8 1.8 0 1 0 -3.60 0M370.1 230.8a1.8 1.8 0 1 0 3.60 0a1.8 1.8 0 1 0 -3.60 0M371.6 221.7a1.8 1.8 0 1 0 3.60 0a1.8 1.8 0 1 0 -3.60 0M370.1 228.8a1.8 1.8 0 1 0 3.60 0a1.8 1.8 0 1 0 -3.60 0M371.6 225.9a1.8 1.8 0 1 0 3.60 0a1.8 1.8 0 1 0 -3.60 0M369.3 224.1a1.8 1.8 0 1 0 3.60 0a1.8 1.8 0 1 0 -3.60 0M365.3 225.5a1.8 1.8 0 1 0 3.60 0a1.8 1.8 0 1 0 -3.60 0M364.9 225.9a1.8 1.8 0 1 0 3.60 0a1.8 1.8 0 1 0 -3.60 0M372.9 230.9a1.8 1.8 0 1 0 3.60 0a1.8 1.8 0 1 0 -3.60 0M362.7 225.9a1.8 1.8 0 1 0 3.60 0a1.8 1.8 0 1 0 -3.60 0M369.2 240.6a1.8 1.8 0 1 0 3.60 0a1.8 1.8 0 1 0 -3.60 0M373.4 225.7a1.8 1.8 0 1 0 3.60 0a1.8 1.8 0 1 0 -3.60 0M367.1 233.7a1.8 1.8 0 1 0 3.60 0a1.8 1.8 0 1 0 -3.60 0M365.9 215.8a1.8 1.8 0 1 0 3.60 0a1.8 1.8 0 1 0 -3.60 0M368.1 214.7a1.8 1.8 0 1 0 3.60 0a1.8 1.8 0 1 0 -3.60 0M368.2 239.5a1.8 1.8 0 1 0 3.60 0a1.8 1.8 0 1 0 -3.60 0M368.2 223.4a1.8 1.8 0 1 0 3.60 0a1.8 1.8 0 1 0 -3.60 0M367.8 225.4a1.8 1.8 0 1 0 3.60 0a1.8 1.8 0 1 0 -3.60 0M371.8 232.5a1.8 1.8 0 1 0 3.60 0a1.8 1.8 0 1 0 -3.60 0M365.2 220.4a1.8 1.8 0 1 0 3.60 0a1.8 1.8 0 1 0 -3.60 0M373.6 228.0a1.8 1.8 0 1 0 3.60 0a1.8 1.8 0 1 0 -3.60 0M367.1 238.1a1.8 1.8 0 1 0 3.60 0a1.8 1.8 0 1 0 -3.60 0M374.0 226.5a1.8 1.8 0 1 0 3.60 0a1.8 1.8 0 1 0 -3.60 0M366.6 225.6a1.8 1.8 0 1 0 3.60 0a1.8 1.8 0 1 0 -3.60 0M371.4 223.7a1.8 1.8 0 1 0 3.60 0a1.8 1.8 0 1 0 -3.60 0M365.8 234.0a1.8 1.8 0 1 0 3.60 0a1.8 1.8 0 1 0 -3.60 0M368.2 219.7a1.8 1.8 0 1 0 3.60 0a1.8 1.8 0 1 0 -3.60 0M370.1 218.8a1.8 1.8 0 1 0 3.60 0a1.8 1.8 0 1 0 -3.60 0M369.5 233.3a1.8 1.8 0 1 0 3.60 0a1.8 1.8 0 1 0 -3.60 0M371.7 229.5a1.8 1.8 0 1 0 3.60 0a1.8 1.8 0 1 0 -3.60 0M364.4 225.1a1.8 1.8 0 1 0 3.60 0a1.8 1.8 0 1 0 -3.60 0M367.7 228.8a1.8 1.8 0 1 0 3.60 0a1.8 1.8 0 1 0 -3.60 0M369.3 211.4a1.8 1.8 0 1 0 3.60 0a1.8 1.8 0 1 0 -3.60 0M363.3 222.9a1.8 1.8 0 1 0 3.60 0a1.8 1.8 0 1 0 -3.60 0M371.1 232.3a1.8 1.8 0 1 0 3.60 0a1.8 1.8 0 1 0 -3.60 0M368.0 230.5a1.8 1.8 0 1 0 3.60 0a1.8 1.8 0 1 0 -3.60 0M365.6 224.9a1.8 1.8 0 1 0 3.60 0a1.8 1.8 0 1 0 -3.60 0M367.2 211.4a1.8 1.8 0 1 0 3.60 0a1.8 1.8 0 1 0 -3.60 0M370.6 225.8a1.8 1.8 0 1 0 3.60 0a1.8 1.8 0 1 0 -3.60 0M363.3 223.5a1.8 1.8 0 1 0 3.60 0a1.8 1.8 0 1 0 -3.60 0M366.3 220.5a1.8 1.8 0 1 0 3.60 0a1.8 1.8 0 1 0 -3.60 0M366.3 224.8a1.8 1.8 0 1 0 3.60 0a1.8 1.8 0 1 0 -3.60 0M367.4 211.4a1.8 1.8 0 1 0 3.60 0a1.8 1.8 0 1 0 -3.60 0M371.2 228.6a1.8 1.8 0 1 0 3.60 0a1.8 1.8 0 1 0 -3.60 0M368.8 199.5a1.8 1.8 0 1 0 3.60 0a1.8 1.8 0 1 0 -3.60 0M369.5 201.4a1.8 1.8 0 1 0 3.60 0a1.8 1.8 0 1 0 -3.60 0M369.2 202.9a1.8 1.8 0 1 0 3.60 0a1.8 1.8 0 1 0 -3.60 0M368.1 205.2a1.8 1.8 0 1 0 3.60 0a1.8 1.8 0 1 0 -3.60 0M368.1 206.8a1.8 1.8 0 1 0 3.60 0a1.8 1.8 0 1 0 -3.60 0M367.1 208.3a1.8 1.8 0 1 0 3.60 0a1.8 1.8 0 1 0 -3.60 0M367.5 209.1a1.8 1.8 0 1 0 3.60 0a1.8 1.8 0 1 0 -3.60 0M369.2 209.8a1.8 1.8 0 1 0 3.60 0a1.8 1.8 0 1 0 -3.60 0M369.3 242.2a1.8 1.8 0 1 0 3.60 0a1.8 1.8 0 1 0 -3.60 0M368.3 245.3a1.8 1.8 0 1 0 3.60 0a1.8 1.8 0 1 0 -3.60 0M368.4 247.6a1.8 1.8 0 1 0 3.60 0a1.8 1.8 0 1 0 -3.60 0M369.2 250.7a1.8 1.8 0 1 0 3.60 0a1.8 1.8 0 1 0 -3.60 0M369.5 253.0a1.8 1.8 0 1 0 3.60 0a1.8 1.8 0 1 0 -3.60 0M368.1 255.3a1.8 1.8 0 1 0 3.60 0a1.8 1.8 0 1 0 -3.60 0M368.4 263.0a1.8 1.8 0 1 0 3.60 0a1.8 1.8 0 1 0 -3.60 0M369.0 270.7a1.8 1.8 0 1 0 3.60 0a1.8 1.8 0 1 0 -3.60 0M368.7 272.7a1.8 1.8 0 1 0 3.60 0a1.8 1.8 0 1 0 -3.60 0M368.6 279.8a1.8 1.8 0 1 0 3.60 0a1.8 1.8 0 1 0 -3.60 0" fill="none" stroke="#111" stroke-width="0.75"/>
<line x1="344.00" y1="249.26" x2="356.60" y2="249.26" stroke="#e0402a" stroke-width="1.2"/>
<line x1="364.20" y1="225.39" x2="376.80" y2="225.39" stroke="#e0402a" stroke-width="1.2"/>
<text x="400.3" y="174.0" font-size="12.6" text-anchor="start" font-weight="bold" fill="#000">g</text>
<text x="443.5" y="180.7" font-size="12.2" text-anchor="middle" font-weight="normal" fill="#222" textLength="33.1" lengthAdjust="spacingAndGlyphs">EREG</text>
<polygon points="437.55,185.70 438.08,186.97 439.45,187.08 438.41,187.98 438.73,189.32 437.55,188.60 436.37,189.32 436.69,187.98 435.65,187.08 437.02,186.97" fill="#111"/>
<polygon points="441.55,185.70 442.08,186.97 443.45,187.08 442.41,187.98 442.73,189.32 441.55,188.60 440.37,189.32 440.69,187.98 439.65,187.08 441.02,186.97" fill="#111"/>
<polygon points="445.55,185.70 446.08,186.97 447.45,187.08 446.41,187.98 446.73,189.32 445.55,188.60 444.37,189.32 444.69,187.98 443.65,187.08 445.02,186.97" fill="#111"/>
<polygon points="449.55,185.70 450.08,186.97 451.45,187.08 450.41,187.98 450.73,189.32 449.55,188.60 448.37,189.32 448.69,187.98 447.65,187.08 449.02,186.97" fill="#111"/>
<line x1="433.30" y1="190.30" x2="454.20" y2="190.30" stroke="#777" stroke-width="0.8"/>
<line x1="420.40" y1="192.60" x2="420.40" y2="285.20" stroke="#222" stroke-width="1.0"/>
<line x1="416.90" y1="285.20" x2="466.70" y2="285.20" stroke="#9a9a9a" stroke-width="1.8"/>
<line x1="417.40" y1="284.60" x2="420.40" y2="284.60" stroke="#222" stroke-width="0.9"/>
<text x="415.5" y="287.29999999999995" font-size="7.7" text-anchor="end" font-weight="normal" fill="#444">-2</text>
<line x1="417.40" y1="266.20" x2="420.40" y2="266.20" stroke="#222" stroke-width="0.9"/>
<text x="415.5" y="268.9" font-size="7.7" text-anchor="end" font-weight="normal" fill="#444">0</text>
<line x1="417.40" y1="247.80" x2="420.40" y2="247.80" stroke="#222" stroke-width="0.9"/>
<text x="415.5" y="250.49999999999997" font-size="7.7" text-anchor="end" font-weight="normal" fill="#444">2</text>
<line x1="417.40" y1="229.40" x2="420.40" y2="229.40" stroke="#222" stroke-width="0.9"/>
<text x="415.5" y="232.09999999999997" font-size="7.7" text-anchor="end" font-weight="normal" fill="#444">4</text>
<line x1="417.40" y1="211.00" x2="420.40" y2="211.00" stroke="#222" stroke-width="0.9"/>
<text x="415.5" y="213.7" font-size="7.7" text-anchor="end" font-weight="normal" fill="#444">6</text>
<line x1="417.40" y1="192.60" x2="420.40" y2="192.60" stroke="#222" stroke-width="0.9"/>
<text x="415.5" y="195.29999999999998" font-size="7.7" text-anchor="end" font-weight="normal" fill="#444">8</text>
<line x1="433.30" y1="285.20" x2="433.30" y2="288.80" stroke="#222" stroke-width="0.9"/>
<line x1="453.20" y1="285.20" x2="453.20" y2="288.80" stroke="#222" stroke-width="0.9"/>
<line x1="420.40" y1="266.20" x2="466.70" y2="266.20" stroke="#555" stroke-width="0.6" stroke-dasharray="1,1.2"/>
<text x="404.5" y="236.4" font-size="11.4" text-anchor="middle" font-weight="normal" fill="#222" transform="rotate(-90 404.5 236.4)">Abundance</text>
<text x="438.90000000000003" y="295.2" font-size="7.7" text-anchor="end" font-weight="normal" fill="#333" transform="rotate(-45 438.90000000000003 295.2)">CR</text>
<text x="458.59999999999997" y="295.2" font-size="7.5" text-anchor="end" font-weight="normal" fill="#333" transform="rotate(-45 458.59999999999997 295.2)">PASC</text>
<path d="M431.5 223.6a1.8 1.8 0 1 0 3.60 0a1.8 1.8 0 1 0 -3.60 0M431.5 237.3a1.8 1.8 0 1 0 3.60 0a1.8 1.8 0 1 0 -3.60 0M432.2 240.7a1.8 1.8 0 1 0 3.60 0a1.8 1.8 0 1 0 -3.60 0M430.7 243.6a1.8 1.8 0 1 0 3.60 0a1.8 1.8 0 1 0 -3.60 0M430.0 250.7a1.8 1.8 0 1 0 3.60 0a1.8 1.8 0 1 0 -3.60 0M433.0 250.2a1.8 1.8 0 1 0 3.60 0a1.8 1.8 0 1 0 -3.60 0M427.7 253.5a1.8 1.8 0 1 0 3.60 0a1.8 1.8 0 1 0 -3.60 0M431.2 254.0a1.8 1.8 0 1 0 3.60 0a1.8 1.8 0 1 0 -3.60 0M434.7 253.2a1.8 1.8 0 1 0 3.60 0a1.8 1.8 0 1 0 -3.60 0M428.2 257.0a1.8 1.8 0 1 0 3.60 0a1.8 1.8 0 1 0 -3.60 0M431.7 257.5a1.8 1.8 0 1 0 3.60 0a1.8 1.8 0 1 0 -3.60 0M435.7 257.0a1.8 1.8 0 1 0 3.60 0a1.8 1.8 0 1 0 -3.60 0M427.2 260.5a1.8 1.8 0 1 0 3.60 0a1.8 1.8 0 1 0 -3.60 0M430.7 261.0a1.8 1.8 0 1 0 3.60 0a1.8 1.8 0 1 0 -3.60 0M434.2 260.3a1.8 1.8 0 1 0 3.60 0a1.8 1.8 0 1 0 -3.60 0M428.7 264.5a1.8 1.8 0 1 0 3.60 0a1.8 1.8 0 1 0 -3.60 0M432.7 264.8a1.8 1.8 0 1 0 3.60 0a1.8 1.8 0 1 0 -3.60 0M436.2 264.0a1.8 1.8 0 1 0 3.60 0a1.8 1.8 0 1 0 -3.60 0M427.7 267.8a1.8 1.8 0 1 0 3.60 0a1.8 1.8 0 1 0 -3.60 0M431.2 268.5a1.8 1.8 0 1 0 3.60 0a1.8 1.8 0 1 0 -3.60 0M434.7 268.0a1.8 1.8 0 1 0 3.60 0a1.8 1.8 0 1 0 -3.60 0M429.2 271.5a1.8 1.8 0 1 0 3.60 0a1.8 1.8 0 1 0 -3.60 0M432.7 271.8a1.8 1.8 0 1 0 3.60 0a1.8 1.8 0 1 0 -3.60 0M431.5 277.9a1.8 1.8 0 1 0 3.60 0a1.8 1.8 0 1 0 -3.60 0M435.2 262.5a1.8 1.8 0 1 0 3.60 0a1.8 1.8 0 1 0 -3.60 0M446.7 240.6a1.8 1.8 0 1 0 3.60 0a1.8 1.8 0 1 0 -3.60 0M455.1 239.2a1.8 1.8 0 1 0 3.60 0a1.8 1.8 0 1 0 -3.60 0M452.7 233.8a1.8 1.8 0 1 0 3.60 0a1.8 1.8 0 1 0 -3.60 0M449.7 245.9a1.8 1.8 0 1 0 3.60 0a1.8 1.8 0 1 0 -3.60 0M454.9 235.5a1.8 1.8 0 1 0 3.60 0a1.8 1.8 0 1 0 -3.60 0M445.7 235.7a1.8 1.8 0 1 0 3.60 0a1.8 1.8 0 1 0 -3.60 0M450.3 223.9a1.8 1.8 0 1 0 3.60 0a1.8 1.8 0 1 0 -3.60 0M454.5 242.5a1.8 1.8 0 1 0 3.60 0a1.8 1.8 0 1 0 -3.60 0M447.7 246.7a1.8 1.8 0 1 0 3.60 0a1.8 1.8 0 1 0 -3.60 0M447.0 234.6a1.8 1.8 0 1 0 3.60 0a1.8 1.8 0 1 0 -3.60 0M451.4 242.9a1.8 1.8 0 1 0 3.60 0a1.8 1.8 0 1 0 -3.60 0M454.0 237.9a1.8 1.8 0 1 0 3.60 0a1.8 1.8 0 1 0 -3.60 0M452.5 239.0a1.8 1.8 0 1 0 3.60 0a1.8 1.8 0 1 0 -3.60 0M447.0 231.4a1.8 1.8 0 1 0 3.60 0a1.8 1.8 0 1 0 -3.60 0M449.2 244.8a1.8 1.8 0 1 0 3.60 0a1.8 1.8 0 1 0 -3.60 0M453.7 240.7a1.8 1.8 0 1 0 3.60 0a1.8 1.8 0 1 0 -3.60 0M450.8 254.2a1.8 1.8 0 1 0 3.60 0a1.8 1.8 0 1 0 -3.60 0M448.9 246.5a1.8 1.8 0 1 0 3.60 0a1.8 1.8 0 1 0 -3.60 0M448.0 228.7a1.8 1.8 0 1 0 3.60 0a1.8 1.8 0 1 0 -3.60 0M449.1 245.0a1.8 1.8 0 1 0 3.60 0a1.8 1.8 0 1 0 -3.60 0M455.5 245.1a1.8 1.8 0 1 0 3.60 0a1.8 1.8 0 1 0 -3.60 0M448.7 248.9a1.8 1.8 0 1 0 3.60 0a1.8 1.8 0 1 0 -3.60 0M452.1 235.7a1.8 1.8 0 1 0 3.60 0a1.8 1.8 0 1 0 -3.60 0M456.3 238.7a1.8 1.8 0 1 0 3.60 0a1.8 1.8 0 1 0 -3.60 0M452.6 248.7a1.8 1.8 0 1 0 3.60 0a1.8 1.8 0 1 0 -3.60 0M448.7 235.1a1.8 1.8 0 1 0 3.60 0a1.8 1.8 0 1 0 -3.60 0M453.2 238.1a1.8 1.8 0 1 0 3.60 0a1.8 1.8 0 1 0 -3.60 0M446.9 234.4a1.8 1.8 0 1 0 3.60 0a1.8 1.8 0 1 0 -3.60 0M451.4 244.7a1.8 1.8 0 1 0 3.60 0a1.8 1.8 0 1 0 -3.60 0M450.1 227.2a1.8 1.8 0 1 0 3.60 0a1.8 1.8 0 1 0 -3.60 0M456.0 237.0a1.8 1.8 0 1 0 3.60 0a1.8 1.8 0 1 0 -3.60 0M455.5 240.8a1.8 1.8 0 1 0 3.60 0a1.8 1.8 0 1 0 -3.60 0M454.1 243.8a1.8 1.8 0 1 0 3.60 0a1.8 1.8 0 1 0 -3.60 0M450.0 241.8a1.8 1.8 0 1 0 3.60 0a1.8 1.8 0 1 0 -3.60 0M454.8 233.7a1.8 1.8 0 1 0 3.60 0a1.8 1.8 0 1 0 -3.60 0M456.6 242.0a1.8 1.8 0 1 0 3.60 0a1.8 1.8 0 1 0 -3.60 0M450.1 232.0a1.8 1.8 0 1 0 3.60 0a1.8 1.8 0 1 0 -3.60 0M451.7 235.7a1.8 1.8 0 1 0 3.60 0a1.8 1.8 0 1 0 -3.60 0M448.6 230.1a1.8 1.8 0 1 0 3.60 0a1.8 1.8 0 1 0 -3.60 0M446.8 234.0a1.8 1.8 0 1 0 3.60 0a1.8 1.8 0 1 0 -3.60 0M453.9 240.4a1.8 1.8 0 1 0 3.60 0a1.8 1.8 0 1 0 -3.60 0M449.5 254.0a1.8 1.8 0 1 0 3.60 0a1.8 1.8 0 1 0 -3.60 0M452.6 237.8a1.8 1.8 0 1 0 3.60 0a1.8 1.8 0 1 0 -3.60 0M446.9 234.2a1.8 1.8 0 1 0 3.60 0a1.8 1.8 0 1 0 -3.60 0M453.4 238.8a1.8 1.8 0 1 0 3.60 0a1.8 1.8 0 1 0 -3.60 0M454.5 235.9a1.8 1.8 0 1 0 3.60 0a1.8 1.8 0 1 0 -3.60 0M456.0 243.5a1.8 1.8 0 1 0 3.60 0a1.8 1.8 0 1 0 -3.60 0M450.2 242.8a1.8 1.8 0 1 0 3.60 0a1.8 1.8 0 1 0 -3.60 0M450.5 246.9a1.8 1.8 0 1 0 3.60 0a1.8 1.8 0 1 0 -3.60 0M450.6 230.0a1.8 1.8 0 1 0 3.60 0a1.8 1.8 0 1 0 -3.60 0M453.8 238.8a1.8 1.8 0 1 0 3.60 0a1.8 1.8 0 1 0 -3.60 0M454.4 243.6a1.8 1.8 0 1 0 3.60 0a1.8 1.8 0 1 0 -3.60 0M449.4 249.8a1.8 1.8 0 1 0 3.60 0a1.8 1.8 0 1 0 -3.60 0M449.4 241.1a1.8 1.8 0 1 0 3.60 0a1.8 1.8 0 1 0 -3.60 0M448.0 229.4a1.8 1.8 0 1 0 3.60 0a1.8 1.8 0 1 0 -3.60 0M448.1 236.6a1.8 1.8 0 1 0 3.60 0a1.8 1.8 0 1 0 -3.60 0M453.6 245.3a1.8 1.8 0 1 0 3.60 0a1.8 1.8 0 1 0 -3.60 0M454.7 229.5a1.8 1.8 0 1 0 3.60 0a1.8 1.8 0 1 0 -3.60 0M455.1 229.5a1.8 1.8 0 1 0 3.60 0a1.8 1.8 0 1 0 -3.60 0M446.8 232.8a1.8 1.8 0 1 0 3.60 0a1.8 1.8 0 1 0 -3.60 0M450.2 234.2a1.8 1.8 0 1 0 3.60 0a1.8 1.8 0 1 0 -3.60 0M455.0 231.5a1.8 1.8 0 1 0 3.60 0a1.8 1.8 0 1 0 -3.60 0M451.5 236.0a1.8 1.8 0 1 0 3.60 0a1.8 1.8 0 1 0 -3.60 0M449.6 234.3a1.8 1.8 0 1 0 3.60 0a1.8 1.8 0 1 0 -3.60 0M453.9 245.7a1.8 1.8 0 1 0 3.60 0a1.8 1.8 0 1 0 -3.60 0M454.0 228.9a1.8 1.8 0 1 0 3.60 0a1.8 1.8 0 1 0 -3.60 0M447.1 238.3a1.8 1.8 0 1 0 3.60 0a1.8 1.8 0 1 0 -3.60 0M451.5 225.1a1.8 1.8 0 1 0 3.60 0a1.8 1.8 0 1 0 -3.60 0M449.9 254.2a1.8 1.8 0 1 0 3.60 0a1.8 1.8 0 1 0 -3.60 0M447.5 234.8a1.8 1.8 0 1 0 3.60 0a1.8 1.8 0 1 0 -3.60 0M451.4 211.4a1.8 1.8 0 1 0 3.60 0a1.8 1.8 0 1 0 -3.60 0M451.0 217.7a1.8 1.8 0 1 0 3.60 0a1.8 1.8 0 1 0 -3.60 0M452.2 221.6a1.8 1.8 0 1 0 3.60 0a1.8 1.8 0 1 0 -3.60 0M451.0 223.0a1.8 1.8 0 1 0 3.60 0a1.8 1.8 0 1 0 -3.60 0M450.6 282.3a1.8 1.8 0 1 0 3.60 0a1.8 1.8 0 1 0 -3.60 0M451.7 281.6a1.8 1.8 0 1 0 3.60 0a1.8 1.8 0 1 0 -3.60 0M450.7 279.8a1.8 1.8 0 1 0 3.60 0a1.8 1.8 0 1 0 -3.60 0M449.9 278.3a1.8 1.8 0 1 0 3.60 0a1.8 1.8 0 1 0 -3.60 0M453.1 277.1a1.8 1.8 0 1 0 3.60 0a1.8 1.8 0 1 0 -3.60 0M450.3 276.2a1.8 1.8 0 1 0 3.60 0a1.8 1.8 0 1 0 -3.60 0M450.1 274.7a1.8 1.8 0 1 0 3.60 0a1.8 1.8 0 1 0 -3.60 0M451.3 272.8a1.8 1.8 0 1 0 3.60 0a1.8 1.8 0 1 0 -3.60 0M449.7 271.3a1.8 1.8 0 1 0 3.60 0a1.8 1.8 0 1 0 -3.60 0M452.4 270.5a1.8 1.8 0 1 0 3.60 0a1.8 1.8 0 1 0 -3.60 0M449.9 269.1a1.8 1.8 0 1 0 3.60 0a1.8 1.8 0 1 0 -3.60 0M449.7 267.7a1.8 1.8 0 1 0 3.60 0a1.8 1.8 0 1 0 -3.60 0M453.1 266.0a1.8 1.8 0 1 0 3.60 0a1.8 1.8 0 1 0 -3.60 0M451.5 265.6a1.8 1.8 0 1 0 3.60 0a1.8 1.8 0 1 0 -3.60 0M452.9 264.4a1.8 1.8 0 1 0 3.60 0a1.8 1.8 0 1 0 -3.60 0M452.8 262.3a1.8 1.8 0 1 0 3.60 0a1.8 1.8 0 1 0 -3.60 0M452.2 261.5a1.8 1.8 0 1 0 3.60 0a1.8 1.8 0 1 0 -3.60 0M449.7 259.9a1.8 1.8 0 1 0 3.60 0a1.8 1.8 0 1 0 -3.60 0M451.9 258.3a1.8 1.8 0 1 0 3.60 0a1.8 1.8 0 1 0 -3.60 0M449.6 256.7a1.8 1.8 0 1 0 3.60 0a1.8 1.8 0 1 0 -3.60 0M449.4 256.1a1.8 1.8 0 1 0 3.60 0a1.8 1.8 0 1 0 -3.60 0M452.9 253.9a1.8 1.8 0 1 0 3.60 0a1.8 1.8 0 1 0 -3.60 0" fill="none" stroke="#111" stroke-width="0.75"/>
<line x1="427.00" y1="263.62" x2="439.60" y2="263.62" stroke="#e0402a" stroke-width="1.2"/>
<line x1="446.90" y1="242.10" x2="459.50" y2="242.10" stroke="#e0402a" stroke-width="1.2"/>
<text x="483.6" y="173.9" font-size="12.3" text-anchor="start" font-weight="bold" fill="#000">h</text>
<line x1="516.90" y1="183.40" x2="516.90" y2="272.50" stroke="#e4e4e4" stroke-width="0.6"/>
<line x1="534.20" y1="183.40" x2="534.20" y2="272.50" stroke="#e4e4e4" stroke-width="0.6" stroke-dasharray="1,1"/>
<line x1="551.50" y1="183.40" x2="551.50" y2="272.50" stroke="#e4e4e4" stroke-width="0.6"/>
<line x1="568.80" y1="183.40" x2="568.80" y2="272.50" stroke="#e4e4e4" stroke-width="0.6" stroke-dasharray="1,1"/>
<line x1="586.10" y1="183.40" x2="586.10" y2="272.50" stroke="#e4e4e4" stroke-width="0.6"/>
<line x1="603.40" y1="183.40" x2="603.40" y2="272.50" stroke="#e4e4e4" stroke-width="0.6" stroke-dasharray="1,1"/>
<line x1="620.70" y1="183.40" x2="620.70" y2="272.50" stroke="#e4e4e4" stroke-width="0.6"/>
<line x1="638.00" y1="183.40" x2="638.00" y2="272.50" stroke="#e4e4e4" stroke-width="0.6" stroke-dasharray="1,1"/>
<line x1="655.30" y1="183.40" x2="655.30" y2="272.50" stroke="#e4e4e4" stroke-width="0.6"/>
<line x1="507.50" y1="270.30" x2="655.50" y2="270.30" stroke="#e4e4e4" stroke-width="0.6"/>
<line x1="507.50" y1="259.70" x2="655.50" y2="259.70" stroke="#e4e4e4" stroke-width="0.6" stroke-dasharray="1,1"/>
<line x1="507.50" y1="249.10" x2="655.50" y2="249.10" stroke="#e4e4e4" stroke-width="0.6"/>
<line x1="507.50" y1="238.50" x2="655.50" y2="238.50" stroke="#e4e4e4" stroke-width="0.6" stroke-dasharray="1,1"/>
<line x1="507.50" y1="227.90" x2="655.50" y2="227.90" stroke="#e4e4e4" stroke-width="0.6"/>
<line x1="507.50" y1="217.30" x2="655.50" y2="217.30" stroke="#e4e4e4" stroke-width="0.6" stroke-dasharray="1,1"/>
<line x1="507.50" y1="206.70" x2="655.50" y2="206.70" stroke="#e4e4e4" stroke-width="0.6"/>
<line x1="507.50" y1="196.10" x2="655.50" y2="196.10" stroke="#e4e4e4" stroke-width="0.6" stroke-dasharray="1,1"/>
<line x1="507.50" y1="185.50" x2="655.50" y2="185.50" stroke="#e4e4e4" stroke-width="0.6"/>
<line x1="578.50" y1="183.40" x2="578.50" y2="273.00" stroke="#888" stroke-width="1.0"/>
<line x1="507.50" y1="229.30" x2="655.50" y2="229.30" stroke="#888" stroke-width="1.0"/>
<text x="504.8" y="188.1" font-size="7.5" text-anchor="end" font-weight="normal" fill="#333">6</text>
<text x="504.8" y="209.29999999999998" font-size="7.5" text-anchor="end" font-weight="normal" fill="#333">4</text>
<text x="504.8" y="230.5" font-size="7.5" text-anchor="end" font-weight="normal" fill="#333">2</text>
<text x="504.8" y="251.7" font-size="7.5" text-anchor="end" font-weight="normal" fill="#333">0</text>
<text x="504.8" y="272.90000000000003" font-size="7.5" text-anchor="end" font-weight="normal" fill="#333">−2</text>
<text x="516.9" y="280" font-size="7.5" text-anchor="middle" font-weight="normal" fill="#333">−1</text>
<text x="551.5" y="280" font-size="7.5" text-anchor="middle" font-weight="normal" fill="#333">0</text>
<text x="586.1" y="280" font-size="7.5" text-anchor="middle" font-weight="normal" fill="#333">1</text>
<text x="620.7" y="280" font-size="7.5" text-anchor="middle" font-weight="normal" fill="#333">2</text>
<text x="655.3" y="280" font-size="7.5" text-anchor="middle" font-weight="normal" fill="#333">3</text>
<text x="578" y="288.6" font-size="7.7" text-anchor="middle" font-weight="normal" fill="#333">IFI30</text>
<text x="496.8" y="229" font-size="7.3" text-anchor="middle" font-weight="normal" fill="#333" transform="rotate(-90 496.8 229)">EREG</text>
<path d="M553.6 201.0a1.15 1.15 0 1 0 2.30 0a1.15 1.15 0 1 0 -2.30 0M562.5 232.0a1.15 1.15 0 1 0 2.30 0a1.15 1.15 0 1 0 -2.30 0M566.1 233.6a1.15 1.15 0 1 0 2.30 0a1.15 1.15 0 1 0 -2.30 0M571.6 234.0a1.15 1.15 0 1 0 2.30 0a1.15 1.15 0 1 0 -2.30 0M584.6 233.3a1.15 1.15 0 1 0 2.30 0a1.15 1.15 0 1 0 -2.30 0M574.6 221.9a1.15 1.15 0 1 0 2.30 0a1.15 1.15 0 1 0 -2.30 0M597.4 219.3a1.15 1.15 0 1 0 2.30 0a1.15 1.15 0 1 0 -2.30 0M598.6 219.3a1.15 1.15 0 1 0 2.30 0a1.15 1.15 0 1 0 -2.30 0M609.6 216.7a1.15 1.15 0 1 0 2.30 0a1.15 1.15 0 1 0 -2.30 0M515.8 240.4a1.15 1.15 0 1 0 2.30 0a1.15 1.15 0 1 0 -2.30 0M513.8 251.2a1.15 1.15 0 1 0 2.30 0a1.15 1.15 0 1 0 -2.30 0M534.1 249.2a1.15 1.15 0 1 0 2.30 0a1.15 1.15 0 1 0 -2.30 0M534.4 250.4a1.15 1.15 0 1 0 2.30 0a1.15 1.15 0 1 0 -2.30 0M536.9 253.9a1.15 1.15 0 1 0 2.30 0a1.15 1.15 0 1 0 -2.30 0M539.6 253.9a1.15 1.15 0 1 0 2.30 0a1.15 1.15 0 1 0 -2.30 0M543.2 248.5a1.15 1.15 0 1 0 2.30 0a1.15 1.15 0 1 0 -2.30 0M543.6 250.1a1.15 1.15 0 1 0 2.30 0a1.15 1.15 0 1 0 -2.30 0M546.5 252.8a1.15 1.15 0 1 0 2.30 0a1.15 1.15 0 1 0 -2.30 0M548.6 236.9a1.15 1.15 0 1 0 2.30 0a1.15 1.15 0 1 0 -2.30 0M551.9 245.7a1.15 1.15 0 1 0 2.30 0a1.15 1.15 0 1 0 -2.30 0M551.2 259.6a1.15 1.15 0 1 0 2.30 0a1.15 1.15 0 1 0 -2.30 0M542.8 262.8a1.15 1.15 0 1 0 2.30 0a1.15 1.15 0 1 0 -2.30 0M572.1 234.5a1.15 1.15 0 1 0 2.30 0a1.15 1.15 0 1 0 -2.30 0M573.5 237.4a1.15 1.15 0 1 0 2.30 0a1.15 1.15 0 1 0 -2.30 0M564.2 242.8a1.15 1.15 0 1 0 2.30 0a1.15 1.15 0 1 0 -2.30 0M564.0 247.2a1.15 1.15 0 1 0 2.30 0a1.15 1.15 0 1 0 -2.30 0M566.4 248.5a1.15 1.15 0 1 0 2.30 0a1.15 1.15 0 1 0 -2.30 0M569.9 248.8a1.15 1.15 0 1 0 2.30 0a1.15 1.15 0 1 0 -2.30 0" fill="none" stroke="#8a8a8a" stroke-width="0.55"/>
<path d="M623.9 187.0a1.3 1.3 0 1 0 2.60 0a1.3 1.3 0 1 0 -2.60 0M648.0 194.8a1.3 1.3 0 1 0 2.60 0a1.3 1.3 0 1 0 -2.60 0M584.0 201.8a1.3 1.3 0 1 0 2.60 0a1.3 1.3 0 1 0 -2.60 0M599.4 202.4a1.3 1.3 0 1 0 2.60 0a1.3 1.3 0 1 0 -2.60 0M605.0 200.6a1.3 1.3 0 1 0 2.60 0a1.3 1.3 0 1 0 -2.60 0M607.8 204.1a1.3 1.3 0 1 0 2.60 0a1.3 1.3 0 1 0 -2.60 0M609.5 203.1a1.3 1.3 0 1 0 2.60 0a1.3 1.3 0 1 0 -2.60 0M601.2 204.5a1.3 1.3 0 1 0 2.60 0a1.3 1.3 0 1 0 -2.60 0M586.3 206.2a1.3 1.3 0 1 0 2.60 0a1.3 1.3 0 1 0 -2.60 0M587.5 208.0a1.3 1.3 0 1 0 2.60 0a1.3 1.3 0 1 0 -2.60 0M614.8 208.0a1.3 1.3 0 1 0 2.60 0a1.3 1.3 0 1 0 -2.60 0M592.4 211.1a1.3 1.3 0 1 0 2.60 0a1.3 1.3 0 1 0 -2.60 0M589.8 212.8a1.3 1.3 0 1 0 2.60 0a1.3 1.3 0 1 0 -2.60 0M601.2 211.1a1.3 1.3 0 1 0 2.60 0a1.3 1.3 0 1 0 -2.60 0M608.1 212.0a1.3 1.3 0 1 0 2.60 0a1.3 1.3 0 1 0 -2.60 0M609.9 212.3a1.3 1.3 0 1 0 2.60 0a1.3 1.3 0 1 0 -2.60 0M610.8 214.1a1.3 1.3 0 1 0 2.60 0a1.3 1.3 0 1 0 -2.60 0M623.0 214.6a1.3 1.3 0 1 0 2.60 0a1.3 1.3 0 1 0 -2.60 0M613.4 215.8a1.3 1.3 0 1 0 2.60 0a1.3 1.3 0 1 0 -2.60 0M581.1 214.6a1.3 1.3 0 1 0 2.60 0a1.3 1.3 0 1 0 -2.60 0M577.6 212.3a1.3 1.3 0 1 0 2.60 0a1.3 1.3 0 1 0 -2.60 0M586.3 216.3a1.3 1.3 0 1 0 2.60 0a1.3 1.3 0 1 0 -2.60 0M587.2 218.5a1.3 1.3 0 1 0 2.60 0a1.3 1.3 0 1 0 -2.60 0M585.4 219.8a1.3 1.3 0 1 0 2.60 0a1.3 1.3 0 1 0 -2.60 0M593.3 217.2a1.3 1.3 0 1 0 2.60 0a1.3 1.3 0 1 0 -2.60 0M598.5 216.3a1.3 1.3 0 1 0 2.60 0a1.3 1.3 0 1 0 -2.60 0M603.3 216.3a1.3 1.3 0 1 0 2.60 0a1.3 1.3 0 1 0 -2.60 0M599.4 220.5a1.3 1.3 0 1 0 2.60 0a1.3 1.3 0 1 0 -2.60 0M604.6 220.5a1.3 1.3 0 1 0 2.60 0a1.3 1.3 0 1 0 -2.60 0M606.4 221.9a1.3 1.3 0 1 0 2.60 0a1.3 1.3 0 1 0 -2.60 0M604.6 225.1a1.3 1.3 0 1 0 2.60 0a1.3 1.3 0 1 0 -2.60 0M585.1 222.8a1.3 1.3 0 1 0 2.60 0a1.3 1.3 0 1 0 -2.60 0M586.3 226.3a1.3 1.3 0 1 0 2.60 0a1.3 1.3 0 1 0 -2.60 0M591.5 221.0a1.3 1.3 0 1 0 2.60 0a1.3 1.3 0 1 0 -2.60 0M593.3 225.8a1.3 1.3 0 1 0 2.60 0a1.3 1.3 0 1 0 -2.60 0M588.9 225.8a1.3 1.3 0 1 0 2.60 0a1.3 1.3 0 1 0 -2.60 0M597.7 226.3a1.3 1.3 0 1 0 2.60 0a1.3 1.3 0 1 0 -2.60 0M595.6 227.5a1.3 1.3 0 1 0 2.60 0a1.3 1.3 0 1 0 -2.60 0M608.1 227.5a1.3 1.3 0 1 0 2.60 0a1.3 1.3 0 1 0 -2.60 0M617.7 228.0a1.3 1.3 0 1 0 2.60 0a1.3 1.3 0 1 0 -2.60 0M580.2 227.5a1.3 1.3 0 1 0 2.60 0a1.3 1.3 0 1 0 -2.60 0M582.8 228.9a1.3 1.3 0 1 0 2.60 0a1.3 1.3 0 1 0 -2.60 0M589.3 230.3a1.3 1.3 0 1 0 2.60 0a1.3 1.3 0 1 0 -2.60 0M597.3 232.0a1.3 1.3 0 1 0 2.60 0a1.3 1.3 0 1 0 -2.60 0M608.1 232.0a1.3 1.3 0 1 0 2.60 0a1.3 1.3 0 1 0 -2.60 0M605.5 229.8a1.3 1.3 0 1 0 2.60 0a1.3 1.3 0 1 0 -2.60 0M577.6 226.8a1.3 1.3 0 1 0 2.60 0a1.3 1.3 0 1 0 -2.60 0M557.6 214.0a1.3 1.3 0 1 0 2.60 0a1.3 1.3 0 1 0 -2.60 0M559.3 217.5a1.3 1.3 0 1 0 2.60 0a1.3 1.3 0 1 0 -2.60 0M562.3 221.6a1.3 1.3 0 1 0 2.60 0a1.3 1.3 0 1 0 -2.60 0M563.1 224.5a1.3 1.3 0 1 0 2.60 0a1.3 1.3 0 1 0 -2.60 0M549.5 224.5a1.3 1.3 0 1 0 2.60 0a1.3 1.3 0 1 0 -2.60 0M558.3 225.7a1.3 1.3 0 1 0 2.60 0a1.3 1.3 0 1 0 -2.60 0M571.0 219.3a1.3 1.3 0 1 0 2.60 0a1.3 1.3 0 1 0 -2.60 0M573.2 218.0a1.3 1.3 0 1 0 2.60 0a1.3 1.3 0 1 0 -2.60 0M574.5 219.8a1.3 1.3 0 1 0 2.60 0a1.3 1.3 0 1 0 -2.60 0M575.4 225.7a1.3 1.3 0 1 0 2.60 0a1.3 1.3 0 1 0 -2.60 0M576.8 202.7a1.3 1.3 0 1 0 2.60 0a1.3 1.3 0 1 0 -2.60 0M576.8 212.3a1.3 1.3 0 1 0 2.60 0a1.3 1.3 0 1 0 -2.60 0M580.6 214.6a1.3 1.3 0 1 0 2.60 0a1.3 1.3 0 1 0 -2.60 0M584.4 201.8a1.3 1.3 0 1 0 2.60 0a1.3 1.3 0 1 0 -2.60 0M586.7 205.8a1.3 1.3 0 1 0 2.60 0a1.3 1.3 0 1 0 -2.60 0M588.0 207.6a1.3 1.3 0 1 0 2.60 0a1.3 1.3 0 1 0 -2.60 0M589.3 213.2a1.3 1.3 0 1 0 2.60 0a1.3 1.3 0 1 0 -2.60 0M592.0 211.4a1.3 1.3 0 1 0 2.60 0a1.3 1.3 0 1 0 -2.60 0M585.8 216.7a1.3 1.3 0 1 0 2.60 0a1.3 1.3 0 1 0 -2.60 0M592.8 217.5a1.3 1.3 0 1 0 2.60 0a1.3 1.3 0 1 0 -2.60 0M578.0 227.5a1.3 1.3 0 1 0 2.60 0a1.3 1.3 0 1 0 -2.60 0M579.9 228.3a1.3 1.3 0 1 0 2.60 0a1.3 1.3 0 1 0 -2.60 0M582.0 230.2a1.3 1.3 0 1 0 2.60 0a1.3 1.3 0 1 0 -2.60 0M580.4 231.8a1.3 1.3 0 1 0 2.60 0a1.3 1.3 0 1 0 -2.60 0M578.2 231.8a1.3 1.3 0 1 0 2.60 0a1.3 1.3 0 1 0 -2.60 0M589.3 231.5a1.3 1.3 0 1 0 2.60 0a1.3 1.3 0 1 0 -2.60 0M512.4 261.9a1.3 1.3 0 1 0 2.60 0a1.3 1.3 0 1 0 -2.60 0M531.0 252.8a1.3 1.3 0 1 0 2.60 0a1.3 1.3 0 1 0 -2.60 0M536.3 253.9a1.3 1.3 0 1 0 2.60 0a1.3 1.3 0 1 0 -2.60 0M542.2 253.6a1.3 1.3 0 1 0 2.60 0a1.3 1.3 0 1 0 -2.60 0M549.0 240.9a1.3 1.3 0 1 0 2.60 0a1.3 1.3 0 1 0 -2.60 0M550.1 245.3a1.3 1.3 0 1 0 2.60 0a1.3 1.3 0 1 0 -2.60 0M560.1 237.7a1.3 1.3 0 1 0 2.60 0a1.3 1.3 0 1 0 -2.60 0M563.8 255.5a1.3 1.3 0 1 0 2.60 0a1.3 1.3 0 1 0 -2.60 0M545.3 268.2a1.3 1.3 0 1 0 2.60 0a1.3 1.3 0 1 0 -2.60 0M573.6 243.8a1.3 1.3 0 1 0 2.60 0a1.3 1.3 0 1 0 -2.60 0M573.0 248.0a1.3 1.3 0 1 0 2.60 0a1.3 1.3 0 1 0 -2.60 0M575.5 263.1a1.3 1.3 0 1 0 2.60 0a1.3 1.3 0 1 0 -2.60 0M577.6 240.1a1.3 1.3 0 1 0 2.60 0a1.3 1.3 0 1 0 -2.60 0M559.8 237.1a1.3 1.3 0 1 0 2.60 0a1.3 1.3 0 1 0 -2.60 0M597.1 243.1a1.3 1.3 0 1 0 2.60 0a1.3 1.3 0 1 0 -2.60 0M598.1 242.5a1.3 1.3 0 1 0 2.60 0a1.3 1.3 0 1 0 -2.60 0M600.2 258.4a1.3 1.3 0 1 0 2.60 0a1.3 1.3 0 1 0 -2.60 0M606.0 256.3a1.3 1.3 0 1 0 2.60 0a1.3 1.3 0 1 0 -2.60 0M583.7 227.0a1.3 1.3 0 1 0 2.60 0a1.3 1.3 0 1 0 -2.60 0M587.8 230.2a1.3 1.3 0 1 0 2.60 0a1.3 1.3 0 1 0 -2.60 0M597.1 232.2a1.3 1.3 0 1 0 2.60 0a1.3 1.3 0 1 0 -2.60 0M606.4 231.2a1.3 1.3 0 1 0 2.60 0a1.3 1.3 0 1 0 -2.60 0M608.4 232.2a1.3 1.3 0 1 0 2.60 0a1.3 1.3 0 1 0 -2.60 0M617.7 228.1a1.3 1.3 0 1 0 2.60 0a1.3 1.3 0 1 0 -2.60 0M584.7 234.3a1.3 1.3 0 1 0 2.60 0a1.3 1.3 0 1 0 -2.60 0M583.7 244.6a1.3 1.3 0 1 0 2.60 0a1.3 1.3 0 1 0 -2.60 0" fill="none" stroke="#e83a3a" stroke-width="0.65"/>
<text x="527.35" y="196.3" font-size="7.7" text-anchor="middle" font-weight="normal" fill="#222" textLength="23.1" lengthAdjust="spacingAndGlyphs">15\123</text>
<text x="527.1" y="205.8" font-size="7.7" text-anchor="middle" font-weight="normal" fill="#e33" textLength="26.8" lengthAdjust="spacingAndGlyphs">(86.7%)</text>
<text x="633.55" y="196.7" font-size="7.7" text-anchor="middle" font-weight="normal" fill="#222" textLength="23.7" lengthAdjust="spacingAndGlyphs">58/123</text>
<text x="633.65" y="205.6" font-size="7.8" text-anchor="middle" font-weight="normal" fill="#e33" textLength="27.3" lengthAdjust="spacingAndGlyphs">(96.5%)</text>
<text x="529.55" y="263" font-size="7.7" text-anchor="middle" font-weight="normal" fill="#222" textLength="23.3" lengthAdjust="spacingAndGlyphs">33/123</text>
<text x="529.55" y="272.6" font-size="8.0" text-anchor="middle" font-weight="normal" fill="#e33" textLength="21.5" lengthAdjust="spacingAndGlyphs">(36%)</text>
<text x="633.75" y="257.5" font-size="7.7" text-anchor="middle" font-weight="normal" fill="#222" textLength="23.3" lengthAdjust="spacingAndGlyphs">17/123</text>
<text x="633.65" y="266.8" font-size="7.8" text-anchor="middle" font-weight="normal" fill="#e33" textLength="27.3" lengthAdjust="spacingAndGlyphs">(94.1%)</text>
<path d="M660.0 204.6a1.25 1.25 0 1 0 2.50 0a1.25 1.25 0 1 0 -2.50 0" fill="none" stroke="#e83a3a" stroke-width="0.6"/>
<path d="M660.1 219.5a1.15 1.15 0 1 0 2.30 0a1.15 1.15 0 1 0 -2.30 0" fill="none" stroke="#8a8a8a" stroke-width="0.55"/>
<text x="664.4" y="207.3" font-size="7.5" text-anchor="start" font-weight="normal" fill="#222">PASC</text>
<text x="664.4" y="222.2" font-size="7.5" text-anchor="start" font-weight="normal" fill="#222">CR</text>
</svg></body></html>
